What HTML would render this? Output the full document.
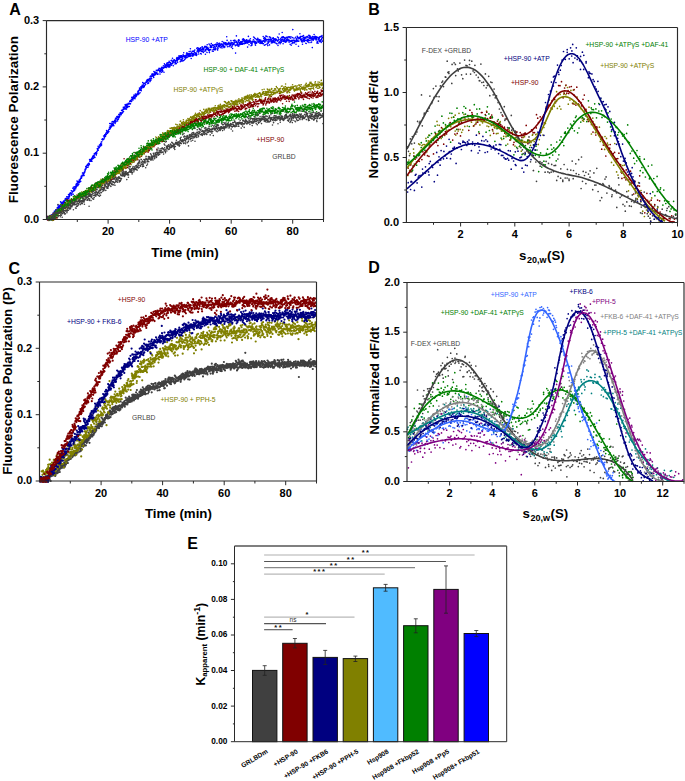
<!DOCTYPE html>
<html><head><meta charset="utf-8"><style>
html,body{margin:0;padding:0;background:#fff;}
body{width:685px;height:781px;overflow:hidden;}
svg{display:block;font-family:"Liberation Sans", sans-serif;}
</style></head><body>
<svg width="685" height="781" viewBox="0 0 685 781">
<rect width="685" height="781" fill="#fff"/>
<path d="M47.0 218.1h0M47.2 219.4h0M47.4 216.5h0M47.6 217.1h0M47.8 219.5h0M48.0 217.8h0M48.2 218.9h0M48.4 218.8h0M49.0 218.5h0M49.2 220.2h0M49.4 217.2h0M49.6 217.7h0M49.8 219.3h0M50.0 216.2h0M50.2 217.4h0M50.4 215.7h0M50.6 217.6h0M50.7 219.6h0M50.9 216.1h0M51.1 217.3h0M51.3 215.5h0M51.5 215.0h0M51.7 214.7h0M51.9 218.3h0M52.1 219.4h0M52.3 216.6h0M52.5 214.7h0M52.7 216.5h0M52.9 214.8h0M53.1 213.0h0M53.3 215.3h0M53.5 215.0h0M53.7 215.2h0M53.9 213.3h0M54.1 213.3h0M54.3 211.3h0M54.5 212.8h0M54.7 211.2h0M54.9 212.7h0M55.1 211.3h0M55.3 212.5h0M55.5 212.7h0M55.7 209.9h0M55.9 210.4h0M56.1 210.0h0M56.3 212.1h0M56.5 213.2h0M56.7 211.7h0M56.9 209.8h0M57.1 212.0h0M57.3 207.6h0M57.5 211.6h0M57.7 208.3h0M57.9 205.0h0M58.0 212.4h0M58.2 210.6h0M58.4 206.7h0M58.6 208.2h0M58.8 207.4h0M59.0 207.6h0M59.2 205.2h0M59.4 206.1h0M59.6 207.4h0M59.8 206.9h0M60.0 208.0h0M60.2 206.2h0M60.4 209.1h0M60.6 201.8h0M60.8 205.8h0M61.0 202.5h0M61.2 203.2h0M61.4 206.6h0M61.6 203.2h0M61.8 205.0h0M62.0 204.0h0M62.2 202.4h0M62.4 203.1h0M62.6 202.7h0M62.8 202.5h0M63.0 204.0h0M63.2 203.6h0M63.4 201.7h0M63.6 201.0h0M63.8 202.4h0M64.0 201.7h0M64.2 203.0h0M64.4 205.1h0M64.6 202.3h0M64.8 200.8h0M65.0 200.4h0M65.2 199.2h0M65.3 198.9h0M65.5 198.6h0M65.7 199.2h0M65.9 198.9h0M66.1 200.3h0M66.3 198.5h0M66.5 198.5h0M66.7 196.8h0M66.9 200.6h0M67.1 198.8h0M67.3 200.3h0M67.5 198.7h0M67.7 199.4h0M67.9 196.7h0M68.1 197.8h0M68.3 200.3h0M68.5 194.6h0M68.7 197.7h0M68.9 198.2h0M69.1 196.1h0M69.3 196.4h0M69.5 196.8h0M69.7 193.9h0M69.9 195.1h0M70.1 193.1h0M70.3 193.1h0M70.5 192.9h0M70.7 193.3h0M70.9 193.5h0M71.1 193.7h0M71.3 190.7h0M71.5 195.3h0M71.7 193.9h0M71.9 193.0h0M72.1 191.2h0M72.3 191.3h0M72.4 192.0h0M72.6 191.5h0M72.8 188.3h0M73.0 191.5h0M73.2 194.3h0M73.4 187.2h0M73.6 191.0h0M73.8 189.9h0M74.0 188.9h0M74.2 190.7h0M74.4 186.8h0M74.6 188.5h0M74.8 190.1h0M75.0 187.4h0M75.2 186.8h0M75.4 187.3h0M75.6 186.2h0M75.8 188.8h0M76.0 184.9h0M76.2 187.2h0M76.4 183.9h0M76.6 186.3h0M76.8 184.9h0M77.0 181.1h0M77.2 184.5h0M77.4 182.7h0M77.6 183.3h0M77.8 185.8h0M78.0 181.7h0M78.2 181.5h0M78.4 184.7h0M78.6 182.5h0M78.8 184.2h0M79.0 182.2h0M79.2 180.1h0M79.4 180.9h0M79.6 182.5h0M79.7 181.7h0M79.9 180.0h0M80.1 179.8h0M80.3 179.2h0M80.5 178.2h0M80.7 181.4h0M80.9 178.3h0M81.1 176.3h0M81.3 176.9h0M81.5 178.3h0M81.7 177.8h0M81.9 176.3h0M82.1 175.2h0M82.3 175.8h0M82.5 173.0h0M82.7 173.1h0M82.9 175.8h0M83.1 173.6h0M83.3 174.4h0M83.5 175.3h0M83.7 174.1h0M83.9 172.8h0M84.1 175.5h0M84.3 173.0h0M84.5 171.2h0M84.7 172.4h0M84.9 171.5h0M85.1 169.4h0M85.3 170.3h0M85.5 169.6h0M85.7 166.7h0M85.9 168.9h0M86.1 168.4h0M86.3 167.8h0M86.5 165.7h0M86.7 167.2h0M86.9 167.3h0M87.0 167.1h0M87.2 165.0h0M87.4 167.2h0M87.6 164.2h0M87.8 165.3h0M88.0 167.2h0M88.2 163.9h0M88.4 163.9h0M88.6 165.8h0M88.8 163.4h0M89.0 163.2h0M89.2 163.6h0M89.4 164.5h0M89.6 159.5h0M89.8 161.2h0M90.0 160.6h0M90.2 160.2h0M90.4 160.2h0M90.6 159.9h0M90.8 161.2h0M91.0 159.2h0M91.2 160.3h0M91.4 160.4h0M91.6 158.5h0M91.8 159.4h0M92.0 161.3h0M92.2 159.1h0M92.4 157.4h0M92.6 157.9h0M92.8 156.4h0M93.0 157.8h0M93.2 158.4h0M93.4 155.6h0M93.6 156.2h0M93.8 157.8h0M94.0 155.2h0M94.2 155.9h0M94.3 153.8h0M94.5 153.8h0M94.7 153.9h0M94.9 157.4h0M95.1 153.5h0M95.3 153.0h0M95.5 152.7h0M95.7 152.9h0M95.9 153.7h0M96.1 152.8h0M96.3 155.1h0M96.5 152.2h0M96.7 153.6h0M96.9 151.6h0M97.1 151.8h0M97.3 148.6h0M97.5 150.1h0M97.7 149.8h0M97.9 149.3h0M98.1 146.3h0M98.3 150.2h0M98.5 148.1h0M98.7 147.7h0M98.9 147.6h0M99.1 147.3h0M99.3 147.8h0M99.5 145.1h0M99.7 145.2h0M99.9 146.6h0M100.1 146.0h0M100.3 144.9h0M100.5 144.3h0M100.7 143.5h0M100.9 144.2h0M101.1 145.6h0M101.3 142.1h0M101.5 145.3h0M101.6 144.0h0M101.8 141.8h0M102.0 139.5h0M102.2 139.6h0M102.4 138.9h0M102.6 139.1h0M102.8 139.9h0M103.0 139.7h0M103.2 139.0h0M103.4 139.5h0M103.6 136.0h0M103.8 139.3h0M104.0 136.2h0M104.2 136.9h0M104.4 138.0h0M104.6 135.5h0M104.8 134.8h0M105.0 134.9h0M105.2 135.9h0M105.4 136.4h0M105.6 136.0h0M105.8 133.5h0M106.0 133.4h0M106.2 132.8h0M106.4 134.4h0M106.6 130.6h0M106.8 132.0h0M107.0 132.1h0M107.2 131.3h0M107.4 132.5h0M107.6 133.2h0M107.8 131.9h0M108.0 132.5h0M108.2 130.9h0M108.4 132.1h0M108.6 131.9h0M108.7 129.7h0M108.9 131.5h0M109.1 129.4h0M109.3 129.0h0M109.5 127.3h0M109.7 123.5h0M109.9 129.1h0M110.1 125.9h0M110.3 128.4h0M110.5 127.7h0M110.7 127.3h0M110.9 123.5h0M111.1 126.2h0M111.3 127.0h0M111.5 124.7h0M111.7 125.7h0M111.9 122.0h0M112.1 126.0h0M112.3 123.8h0M112.5 125.7h0M112.7 121.6h0M112.9 124.9h0M113.1 123.4h0M113.3 124.6h0M113.5 121.9h0M113.7 122.1h0M113.9 125.8h0M114.1 121.2h0M114.3 121.2h0M114.5 121.5h0M114.7 120.2h0M114.9 123.0h0M115.1 123.5h0M115.3 119.9h0M115.5 118.2h0M115.7 122.0h0M115.9 121.6h0M116.0 121.0h0M116.2 121.2h0M116.4 118.1h0M116.6 118.8h0M116.8 116.8h0M117.0 116.5h0M117.2 119.6h0M117.4 117.1h0M117.6 120.9h0M117.8 117.6h0M118.0 116.3h0M118.2 118.1h0M118.4 119.2h0M118.6 117.1h0M118.8 114.5h0M119.0 116.4h0M119.2 117.6h0M119.4 114.7h0M119.6 114.1h0M119.8 116.3h0M120.0 114.8h0M120.2 112.8h0M120.4 113.6h0M120.6 112.8h0M120.8 114.0h0M121.0 113.5h0M121.2 114.7h0M121.4 113.8h0M121.6 110.4h0M121.8 112.9h0M122.0 113.3h0M122.2 112.5h0M122.4 113.0h0M122.6 110.5h0M122.8 109.7h0M123.0 112.1h0M123.2 109.1h0M123.3 107.2h0M123.5 111.5h0M123.7 108.8h0M123.9 109.1h0M124.1 107.3h0M124.3 107.2h0M124.5 107.2h0M124.7 108.1h0M124.9 108.9h0M125.1 104.8h0M125.3 108.9h0M125.5 105.9h0M125.7 105.8h0M125.9 108.1h0M126.1 106.8h0M126.3 104.4h0M126.5 109.1h0M126.7 104.9h0M126.9 106.3h0M127.1 106.0h0M127.3 107.5h0M127.5 104.6h0M127.7 106.5h0M127.9 103.7h0M128.1 106.2h0M128.3 103.2h0M128.5 103.6h0M128.7 106.7h0M128.9 104.1h0M129.1 103.6h0M129.3 106.5h0M129.5 103.6h0M129.7 101.6h0M129.9 103.7h0M130.1 100.7h0M130.3 103.9h0M130.5 103.8h0M130.6 100.9h0M130.8 100.6h0M131.0 101.6h0M131.2 101.1h0M131.4 99.4h0M131.6 101.5h0M131.8 97.4h0M132.0 99.6h0M132.2 99.4h0M132.4 99.3h0M132.6 99.9h0M132.8 97.4h0M133.0 99.9h0M133.2 98.5h0M133.4 97.5h0M133.6 96.2h0M133.8 96.2h0M134.0 95.0h0M134.2 96.0h0M134.4 97.2h0M134.6 98.5h0M134.8 98.2h0M135.0 98.7h0M135.2 95.6h0M135.4 94.1h0M135.6 97.0h0M135.8 95.7h0M136.0 96.6h0M136.2 94.7h0M136.4 96.2h0M136.6 95.4h0M136.8 94.9h0M137.0 94.3h0M137.2 93.9h0M137.4 93.4h0M137.6 93.1h0M137.8 94.0h0M137.9 91.4h0M138.1 94.6h0M138.3 91.5h0M138.5 92.9h0M138.7 91.0h0M138.9 90.5h0M139.1 93.7h0M139.3 89.9h0M139.5 88.1h0M139.7 88.7h0M139.9 89.1h0M140.1 92.7h0M140.3 89.4h0M140.5 90.3h0M140.7 87.1h0M140.9 88.9h0M141.1 89.2h0M141.3 90.7h0M141.5 86.6h0M141.7 88.4h0M141.9 87.7h0M142.1 85.4h0M142.3 86.7h0M142.5 86.1h0M142.7 82.6h0M142.9 86.9h0M143.1 86.6h0M143.3 84.9h0M143.5 83.2h0M143.7 87.4h0M143.9 85.3h0M144.1 86.2h0M144.3 86.6h0M144.5 83.3h0M144.7 85.2h0M144.9 83.3h0M145.1 83.4h0M145.2 83.1h0M145.4 83.0h0M145.6 84.6h0M145.8 82.8h0M146.0 82.1h0M146.2 81.7h0M146.4 82.4h0M146.6 80.3h0M146.8 80.7h0M147.0 81.2h0M147.2 80.1h0M147.4 80.6h0M147.6 79.6h0M147.8 83.6h0M148.0 82.3h0M148.2 80.7h0M148.4 79.7h0M148.6 83.1h0M148.8 79.9h0M149.0 79.0h0M149.2 79.5h0M149.4 79.3h0M149.6 80.8h0M149.8 78.4h0M150.0 81.6h0M150.2 76.6h0M150.4 78.9h0M150.6 76.0h0M150.8 80.4h0M151.0 76.7h0M151.2 76.0h0M151.4 78.4h0M151.6 78.8h0M151.8 74.7h0M152.0 75.8h0M152.2 73.9h0M152.3 76.3h0M152.5 75.7h0M152.7 75.1h0M152.9 74.4h0M153.1 74.7h0M153.3 74.0h0M153.5 75.9h0M153.7 77.4h0M153.9 71.6h0M154.1 74.4h0M154.3 73.7h0M154.5 75.1h0M154.7 72.5h0M154.9 73.7h0M155.1 72.1h0M155.3 74.8h0M155.5 73.7h0M155.7 73.1h0M155.9 73.8h0M156.1 72.6h0M156.3 70.3h0M156.5 73.7h0M156.7 73.1h0M156.9 72.2h0M157.1 73.9h0M157.3 74.2h0M157.5 70.2h0M157.7 70.6h0M157.9 74.3h0M158.1 74.0h0M158.3 70.2h0M158.5 69.4h0M158.7 70.1h0M158.9 70.2h0M159.1 68.3h0M159.3 70.8h0M159.5 68.5h0M159.6 68.5h0M159.8 71.9h0M160.0 74.1h0M160.2 70.0h0M160.4 71.0h0M160.6 71.2h0M160.8 69.1h0M161.0 69.7h0M161.2 68.1h0M161.4 72.3h0M161.6 70.3h0M161.8 67.2h0M162.0 68.9h0M162.2 70.0h0M162.4 69.5h0M162.6 71.6h0M162.8 70.7h0M163.0 67.3h0M163.2 68.0h0M163.4 65.8h0M163.6 68.3h0M163.8 68.0h0M164.0 72.2h0M164.2 67.6h0M164.4 63.8h0M164.6 66.1h0M164.8 67.3h0M165.0 64.8h0M165.2 65.3h0M165.4 66.1h0M165.6 67.2h0M165.8 66.2h0M166.0 64.8h0M166.2 67.6h0M166.4 65.1h0M166.6 65.1h0M166.8 63.4h0M166.9 64.3h0M167.1 66.7h0M167.3 62.7h0M167.5 65.2h0M167.7 66.5h0M167.9 64.4h0M168.1 65.4h0M168.3 62.9h0M168.5 67.0h0M168.7 66.5h0M168.9 64.9h0M169.1 61.3h0M169.3 62.4h0M169.5 65.8h0M169.7 67.0h0M169.9 64.4h0M170.1 65.9h0M170.3 62.6h0M170.5 63.2h0M170.7 63.4h0M170.9 64.0h0M171.1 60.5h0M171.3 64.7h0M171.5 65.3h0M171.7 60.8h0M171.9 60.3h0M172.1 63.2h0M172.3 61.3h0M172.5 58.2h0M172.7 63.7h0M172.9 62.4h0M173.1 61.2h0M173.3 65.7h0M173.5 62.1h0M173.7 60.4h0M173.9 61.8h0M174.1 59.7h0M174.2 60.0h0M174.4 62.0h0M174.6 60.2h0M174.8 60.3h0M175.0 64.0h0M175.2 62.4h0M175.4 62.2h0M175.6 61.6h0M175.8 61.4h0M176.0 63.1h0M176.2 60.3h0M176.4 63.6h0M176.6 58.4h0M176.8 59.6h0M177.0 57.5h0M177.2 59.2h0M177.4 60.7h0M177.6 62.3h0M177.8 58.4h0M178.0 59.5h0M178.2 58.7h0M178.4 57.9h0M178.6 57.0h0M178.8 59.2h0M179.0 55.8h0M179.2 59.1h0M179.4 58.8h0M179.6 57.5h0M179.8 56.7h0M180.0 56.0h0M180.2 61.8h0M180.4 55.9h0M180.6 61.1h0M180.8 59.2h0M181.0 57.4h0M181.2 55.8h0M181.4 59.7h0M181.5 60.9h0M181.7 55.9h0M181.9 57.0h0M182.1 59.4h0M182.3 58.0h0M182.5 61.0h0M182.7 56.2h0M182.9 58.1h0M183.1 54.7h0M183.3 60.8h0M183.5 55.5h0M183.7 52.7h0M183.9 56.4h0M184.1 56.3h0M184.3 60.0h0M184.5 55.8h0M184.7 56.3h0M184.9 57.4h0M185.1 59.1h0M185.3 56.0h0M185.5 57.9h0M185.7 56.9h0M185.9 55.3h0M186.1 55.9h0M186.3 55.7h0M186.5 53.9h0M186.7 57.8h0M186.9 52.8h0M187.1 57.5h0M187.3 57.1h0M187.5 55.0h0M187.7 53.7h0M187.9 54.6h0M188.1 55.8h0M188.3 56.3h0M188.5 55.3h0M188.6 56.6h0M188.8 53.6h0M189.0 55.0h0M189.2 51.5h0M189.4 55.9h0M189.6 54.6h0M189.8 53.5h0M190.0 56.4h0M190.2 55.4h0M190.4 48.7h0M190.6 54.1h0M190.8 51.2h0M191.0 55.9h0M191.2 58.5h0M191.4 52.7h0M191.6 53.8h0M191.8 53.1h0M192.0 54.1h0M192.2 54.6h0M192.4 55.8h0M192.6 51.4h0M192.8 56.2h0M193.0 51.3h0M193.2 53.6h0M193.4 55.2h0M193.6 54.3h0M193.8 51.1h0M194.0 51.4h0M194.2 51.8h0M194.4 52.6h0M194.6 54.8h0M194.8 50.0h0M195.0 53.3h0M195.2 53.6h0M195.4 53.4h0M195.6 53.1h0M195.8 55.1h0M195.9 53.1h0M196.1 53.7h0M196.3 53.1h0M196.5 55.4h0M196.7 48.2h0M196.9 54.3h0M197.1 51.2h0M197.3 51.1h0M197.5 49.7h0M197.7 47.9h0M197.9 50.7h0M198.1 50.1h0M198.3 52.3h0M198.5 48.4h0M198.7 54.0h0M198.9 51.7h0M199.1 50.6h0M199.3 49.6h0M199.5 49.4h0M199.7 48.7h0M199.9 49.7h0M200.1 50.8h0M200.3 50.3h0M200.5 47.8h0M200.7 53.6h0M200.9 48.7h0M201.1 50.7h0M201.3 54.0h0M201.5 51.5h0M201.7 49.6h0M201.9 47.0h0M202.1 47.3h0M202.3 46.7h0M202.5 51.4h0M202.7 48.4h0M202.9 50.0h0M203.1 48.6h0M203.2 49.9h0M203.4 52.5h0M203.6 48.3h0M203.8 48.9h0M204.0 47.9h0M204.2 51.2h0M204.4 47.3h0M204.6 47.1h0M204.8 46.5h0M205.0 46.4h0M205.2 50.1h0M205.4 54.2h0M205.6 47.0h0M205.8 50.9h0M206.0 49.4h0M206.2 46.6h0M206.4 48.2h0M206.6 48.3h0M206.8 47.3h0M207.0 52.5h0M207.2 44.7h0M207.4 49.3h0M207.6 49.1h0M207.8 47.2h0M208.0 48.6h0M208.2 50.1h0M208.4 48.5h0M208.6 49.0h0M208.8 49.5h0M209.0 44.0h0M209.2 51.0h0M209.4 52.6h0M209.6 49.9h0M209.8 49.9h0M210.0 45.0h0M210.2 47.5h0M210.4 46.1h0M210.5 46.5h0M210.7 49.6h0M210.9 45.9h0M211.1 47.2h0M211.3 43.6h0M211.5 47.1h0M211.7 47.5h0M211.9 45.9h0M212.1 45.8h0M212.3 51.1h0M212.5 44.7h0M212.7 45.0h0M212.9 45.4h0M213.1 49.5h0M213.3 51.3h0M213.5 47.6h0M213.7 45.4h0M213.9 45.9h0M214.1 49.0h0M214.3 44.8h0M214.5 49.7h0M214.7 49.5h0M214.9 46.7h0M215.1 47.9h0M215.3 47.7h0M215.5 49.7h0M215.7 44.2h0M215.9 48.8h0M216.1 45.5h0M216.3 44.7h0M216.5 46.4h0M216.7 45.7h0M216.9 44.1h0M217.1 42.8h0M217.3 44.1h0M217.5 49.0h0M217.7 50.1h0M217.8 47.3h0M218.0 48.4h0M218.2 44.8h0M218.4 45.6h0M218.6 46.4h0M218.8 43.5h0M219.0 43.6h0M219.2 45.8h0M219.4 44.9h0M219.6 43.3h0M219.8 46.3h0M220.0 44.9h0M220.2 47.6h0M220.4 45.4h0M220.6 44.8h0M220.8 45.6h0M221.0 45.0h0M221.2 43.9h0M221.4 44.4h0M221.6 46.8h0M221.8 46.5h0M222.0 47.9h0M222.2 41.6h0M222.4 44.3h0M222.6 44.2h0M222.8 45.4h0M223.0 44.0h0M223.2 43.9h0M223.4 46.6h0M223.6 45.3h0M223.8 42.4h0M224.0 47.6h0M224.2 46.9h0M224.4 43.6h0M224.6 46.5h0M224.8 43.2h0M224.9 47.0h0M225.1 44.2h0M225.3 42.9h0M225.5 43.8h0M225.7 42.9h0M225.9 44.9h0M226.1 44.9h0M226.3 44.5h0M226.5 43.3h0M226.7 36.7h0M226.9 44.6h0M227.1 40.4h0M227.3 44.8h0M227.5 46.7h0M227.7 44.8h0M227.9 43.4h0M228.1 43.8h0M228.3 43.9h0M228.5 43.0h0M228.7 42.9h0M228.9 42.2h0M229.1 46.6h0M229.3 44.0h0M229.5 46.0h0M229.7 43.5h0M229.9 44.1h0M230.1 43.6h0M230.3 44.9h0M230.5 45.6h0M230.7 44.4h0M230.9 40.5h0M231.1 42.2h0M231.3 47.3h0M231.5 43.2h0M231.7 43.1h0M231.9 46.8h0M232.1 46.0h0M232.2 44.8h0M232.4 42.8h0M232.6 48.5h0M232.8 44.4h0M233.0 44.7h0M233.2 43.2h0M233.4 40.5h0M233.6 40.7h0M233.8 44.3h0M234.0 44.2h0M234.2 42.9h0M234.4 40.9h0M234.6 40.3h0M234.8 42.6h0M235.0 40.2h0M235.2 45.2h0M235.4 45.7h0M235.6 53.1h0M235.8 45.0h0M236.0 41.9h0M236.2 41.3h0M236.4 35.9h0M236.6 41.9h0M236.8 42.7h0M237.0 45.1h0M237.2 44.3h0M237.4 44.2h0M237.6 43.4h0M237.8 44.3h0M238.0 46.0h0M238.2 40.7h0M238.4 41.9h0M238.6 39.9h0M238.8 46.2h0M239.0 45.5h0M239.2 44.4h0M239.4 40.3h0M239.5 43.1h0M239.7 42.2h0M239.9 42.9h0M240.1 42.3h0M240.3 43.7h0M240.5 41.8h0M240.7 44.4h0M240.9 43.1h0M241.1 41.9h0M241.3 42.3h0M241.5 41.6h0M241.7 44.2h0M241.9 41.9h0M242.1 43.1h0M242.3 41.6h0M242.5 39.3h0M242.7 44.3h0M242.9 40.1h0M243.1 43.8h0M243.3 43.2h0M243.5 38.8h0M243.7 40.3h0M243.9 41.2h0M244.1 40.5h0M244.3 39.7h0M244.5 43.8h0M244.7 41.7h0M244.9 43.0h0M245.1 41.2h0M245.3 42.8h0M245.5 40.5h0M245.7 42.0h0M245.9 43.3h0M246.1 42.1h0M246.3 41.1h0M246.5 39.7h0M246.7 42.3h0M246.8 42.7h0M247.0 41.4h0M247.2 40.3h0M247.4 43.1h0M247.6 47.1h0M247.8 41.2h0M248.0 42.6h0M248.2 42.6h0M248.4 36.4h0M248.6 42.1h0M248.8 40.3h0M249.0 44.7h0M249.2 41.2h0M249.4 40.1h0M249.6 41.3h0M249.8 42.1h0M250.0 40.5h0M250.2 41.6h0M250.4 38.8h0M250.6 41.2h0M250.8 43.3h0M251.0 45.8h0M251.2 43.1h0M251.4 42.2h0M251.6 44.1h0M251.8 43.7h0M252.0 45.1h0M252.2 43.8h0M252.4 41.3h0M252.6 42.1h0M252.8 41.9h0M253.0 42.1h0M253.2 41.9h0M253.4 39.8h0M253.6 37.0h0M253.8 40.0h0M254.0 37.2h0M254.1 41.6h0M254.3 41.4h0M254.5 37.9h0M254.7 42.8h0M254.9 43.2h0M255.1 41.6h0M255.3 44.8h0M255.5 45.3h0M255.7 38.8h0M255.9 43.5h0M256.1 42.2h0M256.3 42.2h0M256.5 43.2h0M256.7 39.7h0M256.9 40.0h0M257.1 39.5h0M257.3 39.6h0M257.5 41.0h0M257.7 38.2h0M257.9 39.0h0M258.1 42.4h0M258.3 41.0h0M258.5 42.0h0M258.7 41.8h0M258.9 39.5h0M259.1 40.0h0M259.3 41.2h0M259.5 39.9h0M259.7 43.1h0M259.9 41.0h0M260.1 41.1h0M260.3 41.1h0M260.5 42.5h0M260.7 40.1h0M260.9 43.4h0M261.1 42.0h0M261.3 41.3h0M261.4 41.1h0M261.6 42.1h0M261.8 43.1h0M262.0 43.0h0M262.2 41.8h0M262.4 42.8h0M262.6 41.2h0M262.8 43.6h0M263.0 40.9h0M263.2 36.6h0M263.4 43.7h0M263.6 41.1h0M263.8 38.4h0M264.0 40.5h0M264.2 39.0h0M264.4 45.3h0M264.6 41.9h0M264.8 37.5h0M265.0 42.0h0M265.2 40.0h0M265.4 44.8h0M265.6 38.6h0M265.8 36.1h0M266.0 40.9h0M266.2 40.0h0M266.4 39.9h0M266.6 36.3h0M266.8 39.7h0M267.0 44.3h0M267.2 36.7h0M267.4 43.2h0M267.6 39.5h0M267.8 45.6h0M268.0 41.6h0M268.2 40.3h0M268.4 43.0h0M268.5 41.8h0M268.7 39.4h0M268.9 42.1h0M269.1 39.6h0M269.3 36.9h0M269.5 44.9h0M269.7 39.9h0M269.9 39.3h0M270.1 41.3h0M270.3 37.3h0M270.5 37.7h0M270.7 39.5h0M270.9 39.5h0M271.1 40.7h0M271.3 42.9h0M271.5 39.6h0M271.7 41.6h0M271.9 41.8h0M272.1 38.2h0M272.3 41.0h0M272.5 38.5h0M272.7 42.7h0M272.9 41.4h0M273.1 40.5h0M273.3 37.7h0M273.5 40.7h0M273.7 38.9h0M273.9 41.9h0M274.1 40.2h0M274.3 38.7h0M274.5 42.4h0M274.7 41.9h0M274.9 39.2h0M275.1 42.8h0M275.3 39.8h0M275.5 39.7h0M275.7 40.6h0M275.8 38.8h0M276.0 39.4h0M276.2 40.0h0M276.4 43.6h0M276.6 43.5h0M276.8 39.8h0M277.0 43.7h0M277.2 40.2h0M277.4 41.1h0M277.6 37.0h0M277.8 40.9h0M278.0 45.4h0M278.2 40.8h0M278.4 37.8h0M278.6 43.0h0M278.8 39.4h0M279.0 39.6h0M279.2 34.0h0M279.4 42.4h0M279.6 42.0h0M279.8 41.9h0M280.0 42.3h0M280.2 43.8h0M280.4 40.1h0M280.6 42.2h0M280.8 38.6h0M281.0 39.4h0M281.2 42.4h0M281.4 41.0h0M281.6 37.4h0M281.8 40.9h0M282.0 39.8h0M282.2 32.5h0M282.4 41.1h0M282.6 39.3h0M282.8 36.8h0M283.0 37.8h0M283.1 43.8h0M283.3 36.9h0M283.5 40.6h0M283.7 41.4h0M283.9 41.4h0M284.1 37.5h0M284.3 39.4h0M284.5 40.4h0M284.7 41.7h0M284.9 38.7h0M285.1 37.6h0M285.3 42.1h0M285.5 42.3h0M285.7 40.8h0M285.9 38.7h0M286.1 40.9h0M286.3 40.2h0M286.5 41.7h0M286.7 37.4h0M286.9 40.2h0M287.1 39.6h0M287.3 37.6h0M287.5 40.4h0M287.7 40.0h0M287.9 39.1h0M288.1 40.8h0M288.3 36.9h0M288.5 39.8h0M288.7 40.8h0M288.9 40.5h0M289.1 42.2h0M289.3 37.4h0M289.5 36.7h0M289.7 40.4h0M289.9 40.8h0M290.1 44.3h0M290.3 41.1h0M290.4 38.0h0M290.6 41.5h0M290.8 38.1h0M291.0 36.7h0M291.2 45.3h0M291.4 40.5h0M291.6 41.3h0M291.8 41.0h0M292.0 43.6h0M292.2 40.4h0M292.4 42.3h0M292.6 37.6h0M292.8 29.6h0M293.0 42.7h0M293.2 42.8h0M293.4 40.8h0M293.6 40.2h0M293.8 40.1h0M294.0 38.3h0M294.2 42.9h0M294.4 41.1h0M294.6 40.8h0M294.8 40.5h0M295.0 41.9h0M295.2 40.7h0M295.4 41.2h0M295.6 37.2h0M295.8 40.7h0M296.0 44.2h0M296.2 38.5h0M296.4 39.4h0M296.6 41.5h0M296.8 41.6h0M297.0 40.9h0M297.2 36.2h0M297.4 40.6h0M297.6 37.1h0M297.7 37.8h0M297.9 40.7h0M298.1 38.9h0M298.3 41.3h0M298.5 46.2h0M298.7 41.2h0M298.9 41.1h0M299.1 37.6h0M299.3 38.2h0M299.5 37.3h0M299.7 38.4h0M299.9 33.7h0M300.1 38.1h0M300.3 39.1h0M300.5 37.4h0M300.7 36.5h0M300.9 36.6h0M301.1 40.4h0M301.3 39.6h0M301.5 41.6h0M301.7 41.6h0M301.9 38.7h0M302.1 40.8h0M302.3 36.4h0M302.5 44.2h0M302.7 41.9h0M302.9 39.0h0M303.1 37.0h0M303.3 40.2h0M303.5 35.5h0M303.7 37.7h0M303.9 40.9h0M304.1 39.5h0M304.3 38.3h0M304.5 41.4h0M304.7 37.2h0M304.8 39.9h0M305.0 38.3h0M305.2 37.5h0M305.4 40.3h0M305.6 37.2h0M305.8 43.3h0M306.0 38.1h0M306.2 43.5h0M306.4 37.0h0M306.6 40.6h0M306.8 36.8h0M307.0 36.5h0M307.2 39.6h0M307.4 40.7h0M307.6 36.6h0M307.8 41.7h0M308.0 37.6h0M308.2 39.5h0M308.4 40.0h0M308.6 40.5h0M308.8 35.4h0M309.0 42.6h0M309.2 40.4h0M309.4 38.3h0M309.6 37.0h0M309.8 35.6h0M310.0 36.3h0M310.2 40.3h0M310.4 38.4h0M310.6 36.8h0M310.8 38.0h0M311.0 42.4h0M311.2 38.4h0M311.4 37.9h0M311.6 42.0h0M311.8 40.1h0M312.0 39.2h0M312.1 37.8h0M312.3 47.6h0M312.5 36.6h0M312.7 38.1h0M312.9 38.6h0M313.1 39.8h0M313.3 40.2h0M313.5 39.5h0M313.7 39.5h0M313.9 36.9h0M314.1 34.5h0M314.3 38.0h0M314.5 37.0h0M314.7 37.7h0M314.9 38.5h0M315.1 36.4h0M315.3 36.7h0M315.5 38.8h0M315.7 39.2h0M315.9 37.6h0M316.1 40.0h0M316.3 38.5h0M316.5 36.8h0M316.7 39.1h0M316.9 42.9h0M317.1 37.5h0M317.3 41.4h0M317.5 41.8h0M317.7 42.1h0M317.9 37.2h0M318.1 43.2h0M318.3 39.2h0M318.5 38.4h0M318.7 38.4h0M318.9 40.2h0M319.1 39.0h0M319.3 38.5h0M319.4 41.6h0M319.6 37.4h0M319.8 36.7h0M320.0 40.5h0M320.2 40.4h0M320.4 41.2h0M320.6 36.6h0M320.8 41.1h0M321.0 39.9h0M321.2 42.5h0M321.4 36.2h0M321.6 39.3h0M321.8 38.2h0M322.0 35.5h0M322.2 37.3h0M322.4 41.2h0M322.6 37.8h0M322.8 37.3h0M323.0 40.6h0" stroke="#0000ff" stroke-width="1.60" stroke-linecap="round" fill="none"/>
<path d="M47.0 216.3h0M47.2 219.6h0M47.4 218.3h0M47.8 218.7h0M48.1 220.2h0M48.3 218.7h0M48.9 218.6h0M49.1 219.4h0M49.3 216.8h0M49.5 219.7h0M50.0 218.1h0M50.4 215.5h0M50.6 215.8h0M50.8 216.5h0M51.0 218.0h0M51.2 218.8h0M51.5 218.5h0M51.7 218.5h0M51.9 219.8h0M52.1 217.7h0M52.3 216.2h0M52.5 216.2h0M52.9 214.0h0M53.2 217.6h0M53.4 220.2h0M53.6 218.4h0M53.8 216.0h0M54.0 217.2h0M54.2 218.5h0M54.4 218.8h0M54.6 215.0h0M54.9 217.6h0M55.1 216.6h0M55.3 217.8h0M55.5 218.0h0M55.7 214.8h0M55.9 212.7h0M56.1 215.6h0M56.3 217.7h0M56.6 215.7h0M56.8 214.6h0M57.0 218.1h0M57.2 212.0h0M57.4 215.1h0M57.6 212.4h0M57.8 213.2h0M58.0 213.1h0M58.3 215.3h0M58.5 211.0h0M58.7 211.4h0M58.9 209.4h0M59.1 212.8h0M59.3 211.0h0M59.5 212.2h0M59.7 209.5h0M60.0 210.5h0M60.2 212.7h0M60.4 210.4h0M60.6 211.5h0M60.8 211.2h0M61.0 209.4h0M61.2 207.2h0M61.4 211.3h0M61.7 209.7h0M61.9 210.9h0M62.1 205.6h0M62.3 206.0h0M62.5 204.9h0M62.7 206.9h0M62.9 209.9h0M63.1 208.9h0M63.4 207.7h0M63.6 207.8h0M63.8 208.6h0M64.0 206.6h0M64.2 207.6h0M64.4 207.0h0M64.6 202.8h0M64.8 205.7h0M65.1 208.5h0M65.3 205.3h0M65.5 205.6h0M65.7 204.6h0M65.9 204.7h0M66.1 207.2h0M66.3 204.7h0M66.5 203.3h0M66.8 199.5h0M67.0 203.7h0M67.2 201.2h0M67.4 201.3h0M67.6 200.4h0M67.8 205.3h0M68.0 200.6h0M68.2 205.2h0M68.5 204.4h0M68.7 202.1h0M68.9 204.6h0M69.1 200.4h0M69.3 201.0h0M69.5 200.4h0M69.7 200.9h0M69.9 204.1h0M70.2 200.2h0M70.4 200.4h0M70.6 200.6h0M70.8 202.4h0M71.0 201.3h0M71.2 203.2h0M71.4 200.4h0M71.6 199.3h0M71.9 200.5h0M72.1 201.3h0M72.3 199.5h0M72.5 201.4h0M72.7 203.9h0M72.9 199.7h0M73.1 200.6h0M73.3 202.7h0M73.6 199.1h0M73.8 198.7h0M74.0 198.1h0M74.2 200.5h0M74.4 200.6h0M74.6 199.3h0M74.8 199.5h0M75.0 201.5h0M75.3 200.6h0M75.5 196.7h0M75.7 198.9h0M75.9 198.9h0M76.1 199.9h0M76.3 198.1h0M76.5 197.3h0M76.7 197.5h0M77.0 195.1h0M77.2 197.9h0M77.4 196.8h0M77.6 198.5h0M77.8 195.8h0M78.0 196.7h0M78.2 195.7h0M78.4 195.4h0M78.7 198.3h0M78.9 196.1h0M79.1 197.6h0M79.3 194.8h0M79.5 196.7h0M79.7 193.5h0M79.9 195.5h0M80.1 195.3h0M80.4 197.0h0M80.6 196.2h0M80.8 195.5h0M81.0 197.0h0M81.2 195.8h0M81.4 196.3h0M81.6 196.5h0M81.8 195.0h0M82.1 194.5h0M82.3 195.4h0M82.5 194.0h0M82.7 195.2h0M82.9 196.3h0M83.1 195.8h0M83.3 193.5h0M83.5 191.9h0M83.8 193.8h0M84.0 193.6h0M84.2 195.5h0M84.4 192.9h0M84.6 193.0h0M84.8 194.5h0M85.0 192.3h0M85.2 192.7h0M85.5 195.8h0M85.7 195.3h0M85.9 193.7h0M86.1 192.9h0M86.3 190.7h0M86.5 193.2h0M86.7 192.2h0M86.9 192.3h0M87.2 190.9h0M87.4 191.7h0M87.6 191.2h0M87.8 192.0h0M88.0 193.7h0M88.2 191.8h0M88.4 188.2h0M88.6 189.2h0M88.9 188.1h0M89.1 189.3h0M89.3 191.4h0M89.5 191.0h0M89.7 189.2h0M89.9 190.5h0M90.1 188.6h0M90.3 189.5h0M90.6 187.3h0M90.8 188.0h0M91.0 191.8h0M91.2 186.9h0M91.4 191.2h0M91.6 191.2h0M91.8 188.5h0M92.0 188.6h0M92.3 187.5h0M92.5 188.3h0M92.7 189.4h0M92.9 188.1h0M93.1 189.7h0M93.3 189.9h0M93.5 188.3h0M93.7 188.1h0M94.0 187.3h0M94.2 187.9h0M94.4 185.3h0M94.6 187.7h0M94.8 187.3h0M95.0 185.3h0M95.2 190.3h0M95.4 184.9h0M95.7 184.9h0M95.9 186.8h0M96.1 182.9h0M96.3 184.7h0M96.5 183.3h0M96.7 184.1h0M96.9 185.4h0M97.1 186.1h0M97.4 187.3h0M97.6 186.7h0M97.8 187.2h0M98.0 186.1h0M98.2 184.1h0M98.4 186.7h0M98.6 183.9h0M98.8 183.5h0M99.1 187.1h0M99.3 185.7h0M99.5 184.6h0M99.7 185.4h0M99.9 185.5h0M100.1 181.5h0M100.3 183.6h0M100.5 181.6h0M100.8 183.7h0M101.0 182.2h0M101.2 185.6h0M101.4 184.0h0M101.6 181.6h0M101.8 182.9h0M102.0 180.7h0M102.2 182.7h0M102.5 183.5h0M102.7 182.9h0M102.9 179.0h0M103.1 181.6h0M103.3 182.9h0M103.5 182.4h0M103.7 183.8h0M103.9 179.5h0M104.2 187.8h0M104.4 180.3h0M104.6 181.6h0M104.8 181.8h0M105.0 182.2h0M105.2 179.9h0M105.4 181.1h0M105.6 178.6h0M105.9 178.1h0M106.1 181.3h0M106.3 180.1h0M106.5 177.3h0M106.7 178.5h0M106.9 179.8h0M107.1 182.3h0M107.3 181.3h0M107.6 180.7h0M107.8 176.2h0M108.0 178.9h0M108.2 179.7h0M108.4 179.4h0M108.6 179.3h0M108.8 178.1h0M109.0 181.3h0M109.3 180.7h0M109.5 177.9h0M109.7 176.2h0M109.9 181.2h0M110.1 176.6h0M110.3 179.4h0M110.5 180.5h0M110.7 175.5h0M111.0 177.4h0M111.2 176.1h0M111.4 177.4h0M111.6 176.9h0M111.8 179.5h0M112.0 177.1h0M112.2 175.9h0M112.4 177.6h0M112.7 175.1h0M112.9 174.8h0M113.1 179.0h0M113.3 173.7h0M113.5 174.0h0M113.7 174.8h0M113.9 172.7h0M114.1 170.8h0M114.4 176.0h0M114.6 172.7h0M114.8 172.9h0M115.0 173.0h0M115.2 171.8h0M115.4 171.5h0M115.6 173.4h0M115.8 177.0h0M116.1 174.0h0M116.3 173.9h0M116.5 169.9h0M116.7 172.2h0M116.9 170.0h0M117.1 173.2h0M117.3 171.3h0M117.5 171.6h0M117.8 171.2h0M118.0 170.2h0M118.2 168.4h0M118.4 171.8h0M118.6 168.3h0M118.8 168.4h0M119.0 169.8h0M119.2 168.9h0M119.5 170.4h0M119.7 171.4h0M119.9 170.0h0M120.1 169.7h0M120.3 169.2h0M120.5 170.5h0M120.7 165.7h0M120.9 169.3h0M121.2 166.9h0M121.4 166.2h0M121.6 168.1h0M121.8 167.3h0M122.0 168.8h0M122.2 169.5h0M122.4 163.5h0M122.6 167.1h0M122.9 170.4h0M123.1 168.4h0M123.3 169.2h0M123.5 166.8h0M123.7 164.0h0M123.9 164.3h0M124.1 158.7h0M124.3 167.5h0M124.6 164.5h0M124.8 165.1h0M125.0 165.9h0M125.2 162.3h0M125.4 164.5h0M125.6 167.7h0M125.8 168.5h0M126.0 164.4h0M126.3 167.6h0M126.5 163.4h0M126.7 162.7h0M126.9 160.1h0M127.1 165.4h0M127.3 163.0h0M127.5 167.4h0M127.7 163.9h0M128.0 163.5h0M128.2 159.9h0M128.4 165.4h0M128.6 162.0h0M128.8 162.2h0M129.0 158.6h0M129.2 163.8h0M129.4 163.7h0M129.7 160.8h0M129.9 161.9h0M130.1 160.6h0M130.3 163.0h0M130.5 161.4h0M130.7 164.0h0M130.9 160.5h0M131.1 159.7h0M131.4 159.5h0M131.6 156.1h0M131.8 158.9h0M132.0 161.8h0M132.2 160.4h0M132.4 158.4h0M132.6 160.2h0M132.8 156.0h0M133.1 158.8h0M133.3 160.1h0M133.5 160.2h0M133.7 157.5h0M133.9 160.2h0M134.1 161.7h0M134.3 157.7h0M134.5 159.5h0M134.8 155.4h0M135.0 152.6h0M135.2 158.8h0M135.4 157.7h0M135.6 157.8h0M135.8 156.3h0M136.0 156.6h0M136.2 158.4h0M136.5 159.7h0M136.7 156.3h0M136.9 153.7h0M137.1 158.5h0M137.3 157.2h0M137.5 157.2h0M137.7 156.2h0M137.9 159.7h0M138.2 155.7h0M138.4 156.3h0M138.6 152.1h0M138.8 154.1h0M139.0 153.8h0M139.2 154.7h0M139.4 155.2h0M139.6 153.2h0M139.8 157.3h0M140.1 152.4h0M140.3 153.3h0M140.5 154.3h0M140.7 151.6h0M140.9 154.5h0M141.1 154.5h0M141.3 152.8h0M141.5 156.3h0M141.8 153.1h0M142.0 153.3h0M142.2 151.0h0M142.4 149.6h0M142.6 151.3h0M142.8 151.6h0M143.0 151.2h0M143.2 153.2h0M143.5 147.7h0M143.7 149.6h0M143.9 148.3h0M144.1 153.5h0M144.3 150.1h0M144.5 150.1h0M144.7 148.9h0M144.9 152.2h0M145.2 149.8h0M145.4 150.7h0M145.6 146.7h0M145.8 152.0h0M146.0 150.5h0M146.2 150.6h0M146.4 151.6h0M146.6 149.1h0M146.9 148.9h0M147.1 150.3h0M147.3 149.6h0M147.5 148.4h0M147.7 148.7h0M147.9 147.6h0M148.1 152.3h0M148.3 149.7h0M148.6 148.0h0M148.8 151.0h0M149.0 145.1h0M149.2 147.1h0M149.4 150.3h0M149.6 146.5h0M149.8 144.3h0M150.0 149.3h0M150.3 147.7h0M150.5 144.6h0M150.7 147.8h0M150.9 144.6h0M151.1 143.9h0M151.3 145.7h0M151.5 145.0h0M151.7 143.8h0M152.0 144.9h0M152.2 143.7h0M152.4 145.3h0M152.6 145.1h0M152.8 146.2h0M153.0 144.0h0M153.2 142.4h0M153.4 142.2h0M153.7 143.9h0M153.9 146.8h0M154.1 145.5h0M154.3 142.8h0M154.5 145.4h0M154.7 141.6h0M154.9 145.2h0M155.1 142.7h0M155.4 144.5h0M155.6 144.1h0M155.8 142.4h0M156.0 143.3h0M156.2 140.8h0M156.4 142.3h0M156.6 144.2h0M156.8 149.2h0M157.1 143.2h0M157.3 142.1h0M157.5 140.0h0M157.7 143.4h0M157.9 138.7h0M158.1 140.0h0M158.3 141.8h0M158.5 139.0h0M158.8 143.6h0M159.0 142.7h0M159.2 139.7h0M159.4 139.6h0M159.6 138.2h0M159.8 137.9h0M160.0 140.9h0M160.2 141.1h0M160.5 140.5h0M160.7 140.2h0M160.9 138.7h0M161.1 140.1h0M161.3 136.9h0M161.5 139.3h0M161.7 141.6h0M161.9 141.2h0M162.2 138.1h0M162.4 138.2h0M162.6 141.0h0M162.8 141.5h0M163.0 135.8h0M163.2 137.5h0M163.4 138.5h0M163.6 140.1h0M163.9 136.4h0M164.1 138.8h0M164.3 137.1h0M164.5 141.5h0M164.7 138.1h0M164.9 137.0h0M165.1 136.6h0M165.3 138.8h0M165.6 138.0h0M165.8 134.9h0M166.0 137.0h0M166.2 134.2h0M166.4 135.1h0M166.6 134.1h0M166.8 133.9h0M167.0 134.9h0M167.3 134.2h0M167.5 136.7h0M167.7 137.0h0M167.9 135.2h0M168.1 133.5h0M168.3 136.7h0M168.5 131.8h0M168.7 131.8h0M169.0 136.2h0M169.2 136.0h0M169.4 136.4h0M169.6 134.3h0M169.8 132.4h0M170.0 133.5h0M170.2 135.2h0M170.4 132.8h0M170.7 132.8h0M170.9 131.5h0M171.1 131.8h0M171.3 135.1h0M171.5 134.3h0M171.7 131.5h0M171.9 131.5h0M172.1 132.3h0M172.4 134.0h0M172.6 131.0h0M172.8 132.6h0M173.0 129.1h0M173.2 130.5h0M173.4 133.2h0M173.6 133.9h0M173.8 130.3h0M174.1 130.8h0M174.3 133.4h0M174.5 131.3h0M174.7 130.9h0M174.9 132.6h0M175.1 131.9h0M175.3 133.4h0M175.5 132.7h0M175.8 130.2h0M176.0 130.9h0M176.2 130.9h0M176.4 128.6h0M176.6 129.1h0M176.8 132.3h0M177.0 127.8h0M177.2 132.1h0M177.5 130.8h0M177.7 129.9h0M177.9 131.0h0M178.1 130.7h0M178.3 131.9h0M178.5 129.0h0M178.7 129.2h0M178.9 129.0h0M179.2 132.5h0M179.4 130.8h0M179.6 127.5h0M179.8 128.4h0M180.0 127.6h0M180.2 128.8h0M180.4 129.0h0M180.6 132.4h0M180.9 125.3h0M181.1 131.8h0M181.3 128.9h0M181.5 126.8h0M181.7 127.6h0M181.9 126.9h0M182.1 127.7h0M182.3 129.3h0M182.6 124.8h0M182.8 129.5h0M183.0 126.5h0M183.2 129.6h0M183.4 127.6h0M183.6 128.9h0M183.8 127.7h0M184.0 128.4h0M184.3 126.6h0M184.5 124.9h0M184.7 127.4h0M184.9 127.3h0M185.1 129.6h0M185.3 122.5h0M185.5 125.4h0M185.7 127.5h0M186.0 123.4h0M186.2 125.0h0M186.4 128.9h0M186.6 127.6h0M186.8 123.6h0M187.0 127.4h0M187.2 126.9h0M187.4 126.1h0M187.7 125.3h0M187.9 124.9h0M188.1 122.9h0M188.3 123.4h0M188.5 125.4h0M188.7 124.3h0M188.9 127.1h0M189.1 123.3h0M189.4 119.6h0M189.6 123.0h0M189.8 124.0h0M190.0 124.0h0M190.2 123.4h0M190.4 121.8h0M190.6 125.6h0M190.8 121.8h0M191.1 124.0h0M191.3 122.2h0M191.5 120.6h0M191.7 124.9h0M191.9 118.1h0M192.1 120.8h0M192.3 122.9h0M192.5 121.5h0M192.8 123.2h0M193.0 121.7h0M193.2 121.0h0M193.4 125.3h0M193.6 121.2h0M193.8 121.2h0M194.0 119.5h0M194.2 120.0h0M194.5 122.2h0M194.7 122.0h0M194.9 120.9h0M195.1 119.6h0M195.3 121.9h0M195.5 117.7h0M195.7 119.9h0M195.9 120.0h0M196.2 118.9h0M196.4 120.5h0M196.6 119.0h0M196.8 118.7h0M197.0 123.0h0M197.2 121.1h0M197.4 121.8h0M197.6 119.7h0M197.9 121.2h0M198.1 120.8h0M198.3 121.4h0M198.5 123.3h0M198.7 118.8h0M198.9 119.5h0M199.1 118.9h0M199.3 113.0h0M199.6 116.5h0M199.8 118.8h0M200.0 119.8h0M200.2 117.6h0M200.4 120.5h0M200.6 120.7h0M200.8 117.7h0M201.0 120.8h0M201.3 121.2h0M201.5 119.0h0M201.7 116.5h0M201.9 120.6h0M202.1 117.7h0M202.3 117.3h0M202.5 118.1h0M202.7 116.9h0M203.0 119.6h0M203.2 119.0h0M203.4 119.7h0M203.6 118.6h0M203.8 116.2h0M204.0 117.2h0M204.2 118.9h0M204.4 116.6h0M204.7 122.2h0M204.9 116.8h0M205.1 116.2h0M205.3 119.1h0M205.5 118.3h0M205.7 116.9h0M205.9 116.5h0M206.1 117.6h0M206.4 118.2h0M206.6 118.1h0M206.8 116.2h0M207.0 117.4h0M207.2 118.0h0M207.4 117.8h0M207.6 111.2h0M207.8 114.9h0M208.1 115.0h0M208.3 115.9h0M208.5 116.5h0M208.7 117.7h0M208.9 117.2h0M209.1 115.8h0M209.3 116.0h0M209.5 118.9h0M209.8 114.8h0M210.0 116.3h0M210.2 118.4h0M210.4 116.3h0M210.6 112.1h0M210.8 116.2h0M211.0 114.8h0M211.2 115.2h0M211.5 117.1h0M211.7 116.1h0M211.9 114.8h0M212.1 116.7h0M212.3 115.8h0M212.5 115.2h0M212.7 115.5h0M212.9 115.3h0M213.2 114.3h0M213.4 114.0h0M213.6 114.7h0M213.8 113.0h0M214.0 112.4h0M214.2 116.7h0M214.4 114.0h0M214.6 114.3h0M214.9 114.1h0M215.1 114.3h0M215.3 114.2h0M215.5 114.2h0M215.7 112.7h0M215.9 115.5h0M216.1 112.7h0M216.3 115.6h0M216.6 110.5h0M216.8 111.9h0M217.0 115.3h0M217.2 113.3h0M217.4 112.3h0M217.6 114.0h0M217.8 111.6h0M218.0 113.4h0M218.3 109.4h0M218.5 112.4h0M218.7 112.0h0M218.9 113.9h0M219.1 114.4h0M219.3 111.4h0M219.5 115.5h0M219.7 111.7h0M220.0 109.2h0M220.2 108.5h0M220.4 115.1h0M220.6 112.3h0M220.8 111.3h0M221.0 111.0h0M221.2 110.4h0M221.4 114.5h0M221.7 112.0h0M221.9 115.1h0M222.1 111.6h0M222.3 107.9h0M222.5 113.3h0M222.7 111.2h0M222.9 111.3h0M223.1 114.3h0M223.4 111.1h0M223.6 113.5h0M223.8 111.5h0M224.0 110.1h0M224.2 112.2h0M224.4 110.2h0M224.6 113.3h0M224.8 112.8h0M225.1 111.2h0M225.3 112.1h0M225.5 111.9h0M225.7 110.4h0M225.9 112.4h0M226.1 110.4h0M226.3 111.8h0M226.5 109.0h0M226.8 110.8h0M227.0 111.2h0M227.2 109.1h0M227.4 109.7h0M227.6 109.4h0M227.8 111.5h0M228.0 109.0h0M228.2 110.9h0M228.5 112.7h0M228.7 110.6h0M228.9 107.2h0M229.1 110.1h0M229.3 111.6h0M229.5 109.3h0M229.7 111.6h0M229.9 110.7h0M230.2 110.3h0M230.4 109.1h0M230.6 108.6h0M230.8 109.0h0M231.0 109.5h0M231.2 110.2h0M231.4 110.0h0M231.6 108.7h0M231.8 109.3h0M232.1 109.8h0M232.3 106.3h0M232.5 107.7h0M232.7 107.6h0M232.9 108.5h0M233.1 108.4h0M233.3 108.3h0M233.5 107.2h0M233.8 109.8h0M234.0 109.1h0M234.2 105.8h0M234.4 108.5h0M234.6 106.5h0M234.8 111.3h0M235.0 107.6h0M235.2 107.6h0M235.5 108.4h0M235.7 107.8h0M235.9 108.0h0M236.1 110.7h0M236.3 108.4h0M236.5 109.4h0M236.7 109.9h0M236.9 106.2h0M237.2 110.7h0M237.4 109.0h0M237.6 109.4h0M237.8 106.2h0M238.0 109.0h0M238.2 108.3h0M238.4 106.6h0M238.6 111.4h0M238.9 108.4h0M239.1 107.0h0M239.3 107.7h0M239.5 108.9h0M239.7 109.2h0M239.9 108.2h0M240.1 109.3h0M240.3 109.6h0M240.6 105.0h0M240.8 106.2h0M241.0 105.4h0M241.2 107.1h0M241.4 109.4h0M241.6 108.0h0M241.8 105.1h0M242.0 106.3h0M242.3 108.5h0M242.5 105.8h0M242.7 106.5h0M242.9 107.1h0M243.1 103.5h0M243.3 107.8h0M243.5 107.1h0M243.7 107.4h0M244.0 104.7h0M244.2 105.0h0M244.4 105.3h0M244.6 106.7h0M244.8 106.3h0M245.0 106.4h0M245.2 109.2h0M245.4 108.3h0M245.7 104.8h0M245.9 104.9h0M246.1 108.8h0M246.3 105.3h0M246.5 108.2h0M246.7 108.5h0M246.9 104.8h0M247.1 105.2h0M247.4 105.8h0M247.6 104.1h0M247.8 103.9h0M248.0 104.8h0M248.2 106.9h0M248.4 104.6h0M248.6 105.0h0M248.8 104.5h0M249.1 102.9h0M249.3 107.7h0M249.5 101.2h0M249.7 104.0h0M249.9 106.0h0M250.1 102.6h0M250.3 106.0h0M250.5 107.0h0M250.8 103.4h0M251.0 105.1h0M251.2 102.8h0M251.4 105.5h0M251.6 104.8h0M251.8 104.9h0M252.0 106.8h0M252.2 105.2h0M252.5 106.7h0M252.7 105.4h0M252.9 102.2h0M253.1 104.7h0M253.3 105.0h0M253.5 101.6h0M253.7 106.3h0M253.9 104.1h0M254.2 104.5h0M254.4 102.3h0M254.6 103.9h0M254.8 104.2h0M255.0 103.1h0M255.2 103.7h0M255.4 99.9h0M255.6 105.8h0M255.9 101.5h0M256.1 99.7h0M256.3 101.7h0M256.5 101.8h0M256.7 104.1h0M256.9 101.6h0M257.1 103.5h0M257.3 101.4h0M257.6 106.7h0M257.8 103.8h0M258.0 106.2h0M258.2 101.1h0M258.4 103.9h0M258.6 101.0h0M258.8 103.6h0M259.0 103.7h0M259.3 99.8h0M259.5 100.5h0M259.7 100.4h0M259.9 99.8h0M260.1 101.1h0M260.3 100.6h0M260.5 99.7h0M260.7 102.3h0M261.0 103.0h0M261.2 99.8h0M261.4 101.1h0M261.6 102.0h0M261.8 101.5h0M262.0 100.7h0M262.2 103.2h0M262.4 103.2h0M262.7 102.9h0M262.9 101.3h0M263.1 105.0h0M263.3 104.5h0M263.5 100.9h0M263.7 101.3h0M263.9 103.5h0M264.1 100.0h0M264.4 102.0h0M264.6 101.4h0M264.8 100.1h0M265.0 100.8h0M265.2 98.5h0M265.4 99.6h0M265.6 97.7h0M265.8 104.9h0M266.1 103.6h0M266.3 103.0h0M266.5 101.4h0M266.7 102.6h0M266.9 103.0h0M267.1 102.5h0M267.3 102.3h0M267.5 99.2h0M267.8 101.4h0M268.0 99.7h0M268.2 98.6h0M268.4 98.6h0M268.6 101.2h0M268.8 102.2h0M269.0 98.1h0M269.2 103.3h0M269.5 102.8h0M269.7 95.8h0M269.9 99.5h0M270.1 100.1h0M270.3 101.8h0M270.5 99.5h0M270.7 98.2h0M270.9 100.6h0M271.2 96.5h0M271.4 100.2h0M271.6 101.9h0M271.8 100.4h0M272.0 101.2h0M272.2 100.7h0M272.4 101.0h0M272.6 100.0h0M272.9 98.3h0M273.1 99.3h0M273.3 99.5h0M273.5 101.8h0M273.7 102.3h0M273.9 100.3h0M274.1 98.2h0M274.3 98.2h0M274.6 99.1h0M274.8 101.8h0M275.0 99.9h0M275.2 99.2h0M275.4 98.0h0M275.6 100.8h0M275.8 99.7h0M276.0 99.1h0M276.3 99.4h0M276.5 102.0h0M276.7 98.8h0M276.9 102.0h0M277.1 101.2h0M277.3 99.1h0M277.5 100.5h0M277.7 98.7h0M278.0 97.5h0M278.2 98.4h0M278.4 97.3h0M278.6 99.7h0M278.8 98.8h0M279.0 99.7h0M279.2 100.1h0M279.4 93.4h0M279.7 99.2h0M279.9 95.6h0M280.1 98.9h0M280.3 97.1h0M280.5 98.7h0M280.7 100.8h0M280.9 95.6h0M281.1 98.8h0M281.4 98.3h0M281.6 95.2h0M281.8 99.5h0M282.0 98.4h0M282.2 97.5h0M282.4 97.1h0M282.6 103.7h0M282.8 97.6h0M283.1 95.1h0M283.3 96.6h0M283.5 97.5h0M283.7 97.5h0M283.9 98.0h0M284.1 96.3h0M284.3 99.0h0M284.5 97.2h0M284.8 95.7h0M285.0 96.6h0M285.2 97.3h0M285.4 99.3h0M285.6 98.7h0M285.8 97.3h0M286.0 97.8h0M286.2 98.2h0M286.5 101.2h0M286.7 96.7h0M286.9 98.5h0M287.1 91.7h0M287.3 96.0h0M287.5 97.9h0M287.7 97.9h0M287.9 96.8h0M288.2 98.5h0M288.4 99.3h0M288.6 99.4h0M288.8 97.1h0M289.0 97.8h0M289.2 101.4h0M289.4 95.5h0M289.6 97.7h0M289.9 98.8h0M290.1 97.6h0M290.3 98.4h0M290.5 97.6h0M290.7 98.5h0M290.9 99.4h0M291.1 96.8h0M291.3 97.5h0M291.6 97.0h0M291.8 96.4h0M292.0 97.0h0M292.2 95.1h0M292.4 98.3h0M292.6 99.9h0M292.8 99.9h0M293.0 99.1h0M293.3 95.3h0M293.5 99.5h0M293.7 95.7h0M293.9 96.8h0M294.1 100.0h0M294.3 95.0h0M294.5 98.2h0M294.7 97.3h0M295.0 96.5h0M295.2 95.2h0M295.4 97.4h0M295.6 95.9h0M295.8 98.4h0M296.0 98.7h0M296.2 94.3h0M296.4 95.7h0M296.7 96.0h0M296.9 94.5h0M297.1 94.6h0M297.3 96.6h0M297.5 96.1h0M297.7 93.6h0M297.9 95.5h0M298.1 97.3h0M298.4 94.3h0M298.6 94.8h0M298.8 99.0h0M299.0 98.6h0M299.2 93.5h0M299.4 94.0h0M299.6 96.9h0M299.8 94.2h0M300.1 95.8h0M300.3 95.4h0M300.5 97.1h0M300.7 91.8h0M300.9 92.4h0M301.1 94.0h0M301.3 97.8h0M301.5 95.8h0M301.8 93.1h0M302.0 96.8h0M302.2 97.2h0M302.4 95.5h0M302.6 95.4h0M302.8 96.7h0M303.0 97.9h0M303.2 96.1h0M303.5 99.5h0M303.7 95.7h0M303.9 95.1h0M304.1 94.2h0M304.3 96.2h0M304.5 95.2h0M304.7 95.3h0M304.9 97.3h0M305.2 96.5h0M305.4 97.1h0M305.6 92.9h0M305.8 96.5h0M306.0 94.6h0M306.2 94.2h0M306.4 94.1h0M306.6 97.6h0M306.9 96.9h0M307.1 94.2h0M307.3 93.5h0M307.5 95.4h0M307.7 94.6h0M307.9 98.2h0M308.1 92.8h0M308.3 92.2h0M308.6 94.9h0M308.8 95.3h0M309.0 95.5h0M309.2 96.5h0M309.4 98.7h0M309.6 94.6h0M309.8 94.2h0M310.0 92.1h0M310.3 95.5h0M310.5 96.5h0M310.7 94.6h0M310.9 97.0h0M311.1 95.1h0M311.3 97.6h0M311.5 95.5h0M311.7 95.8h0M312.0 93.8h0M312.2 92.3h0M312.4 91.9h0M312.6 95.3h0M312.8 96.3h0M313.0 98.1h0M313.2 94.7h0M313.4 94.3h0M313.7 92.8h0M313.9 96.4h0M314.1 95.3h0M314.3 93.6h0M314.5 95.8h0M314.7 95.6h0M314.9 91.4h0M315.1 95.8h0M315.4 94.8h0M315.6 93.8h0M315.8 93.8h0M316.0 97.4h0M316.2 97.1h0M316.4 97.5h0M316.6 92.4h0M316.8 93.3h0M317.1 95.9h0M317.3 92.3h0M317.5 93.1h0M317.7 91.2h0M317.9 97.4h0M318.1 96.0h0M318.3 95.0h0M318.5 94.6h0M318.8 93.5h0M319.0 93.5h0M319.2 95.2h0M319.4 92.9h0M319.6 96.2h0M319.8 93.2h0M320.0 92.5h0M320.2 96.2h0M320.5 93.7h0M320.7 94.9h0M320.9 93.2h0M321.1 90.1h0M321.3 94.8h0M321.5 91.6h0M321.7 95.7h0M321.9 91.2h0M322.2 90.6h0M322.4 94.3h0M322.6 94.5h0M322.8 93.9h0M323.0 91.6h0" stroke="#800000" stroke-width="1.60" stroke-linecap="round" fill="none"/>
<path d="M47.0 219.1h0M47.2 218.9h0M47.6 218.9h0M48.1 218.2h0M48.3 217.9h0M48.7 220.4h0M48.9 216.2h0M49.1 220.4h0M49.3 220.3h0M49.5 218.0h0M49.8 219.5h0M50.0 219.5h0M50.2 218.1h0M50.4 217.9h0M50.6 217.7h0M50.8 218.3h0M51.0 216.4h0M51.2 218.6h0M51.5 215.9h0M51.7 218.7h0M51.9 218.3h0M52.1 216.6h0M52.3 219.8h0M52.7 220.5h0M52.9 215.5h0M53.2 220.1h0M53.4 218.1h0M53.6 217.4h0M53.8 216.2h0M54.0 217.1h0M54.2 219.4h0M54.4 217.7h0M54.6 215.8h0M54.9 215.1h0M55.1 215.3h0M55.3 216.9h0M55.5 218.9h0M55.7 213.5h0M55.9 215.1h0M56.1 214.2h0M56.3 213.3h0M56.6 215.1h0M56.8 215.2h0M57.0 211.4h0M57.2 211.2h0M57.4 215.6h0M57.6 213.9h0M57.8 214.0h0M58.0 212.0h0M58.3 212.0h0M58.5 213.3h0M58.7 211.4h0M58.9 210.1h0M59.1 211.9h0M59.3 213.3h0M59.5 209.7h0M59.7 213.2h0M60.0 212.4h0M60.2 209.4h0M60.4 210.8h0M60.6 210.5h0M60.8 211.5h0M61.0 211.3h0M61.2 207.6h0M61.4 207.4h0M61.7 211.4h0M61.9 209.6h0M62.1 211.3h0M62.3 209.6h0M62.5 211.5h0M62.7 206.5h0M62.9 210.4h0M63.1 206.8h0M63.4 209.3h0M63.6 210.2h0M63.8 205.2h0M64.0 208.2h0M64.2 206.8h0M64.4 206.6h0M64.6 207.0h0M64.8 204.9h0M65.1 204.9h0M65.3 207.6h0M65.5 207.8h0M65.7 205.1h0M65.9 203.3h0M66.1 209.9h0M66.3 207.6h0M66.5 206.1h0M66.8 203.5h0M67.0 204.1h0M67.2 205.4h0M67.4 203.1h0M67.6 207.5h0M67.8 204.8h0M68.0 204.2h0M68.2 202.4h0M68.5 202.5h0M68.7 202.5h0M68.9 204.3h0M69.1 203.2h0M69.3 203.0h0M69.5 203.9h0M69.7 203.6h0M69.9 205.7h0M70.2 202.6h0M70.4 201.0h0M70.6 202.6h0M70.8 205.1h0M71.0 201.4h0M71.2 202.3h0M71.4 201.4h0M71.6 202.7h0M71.9 202.3h0M72.1 200.2h0M72.3 201.1h0M72.5 203.1h0M72.7 203.2h0M72.9 202.8h0M73.1 202.5h0M73.3 200.3h0M73.6 200.1h0M73.8 202.2h0M74.0 198.4h0M74.2 200.2h0M74.4 196.9h0M74.6 199.4h0M74.8 198.7h0M75.0 197.6h0M75.3 200.7h0M75.5 198.2h0M75.7 198.7h0M75.9 198.8h0M76.1 197.8h0M76.3 201.5h0M76.5 198.0h0M76.7 199.1h0M77.0 196.3h0M77.2 197.6h0M77.4 197.8h0M77.6 197.7h0M77.8 197.0h0M78.0 198.2h0M78.2 200.6h0M78.4 197.5h0M78.7 197.3h0M78.9 196.7h0M79.1 201.8h0M79.3 200.0h0M79.5 198.0h0M79.7 198.2h0M79.9 195.5h0M80.1 196.4h0M80.4 196.9h0M80.6 196.6h0M80.8 194.8h0M81.0 194.8h0M81.2 196.9h0M81.4 196.4h0M81.6 192.0h0M81.8 195.8h0M82.1 197.7h0M82.3 194.2h0M82.5 195.7h0M82.7 192.5h0M82.9 196.4h0M83.1 192.9h0M83.3 192.5h0M83.5 194.0h0M83.8 198.6h0M84.0 193.2h0M84.2 192.0h0M84.4 194.9h0M84.6 194.3h0M84.8 196.7h0M85.0 191.4h0M85.2 190.7h0M85.5 192.8h0M85.7 193.9h0M85.9 193.8h0M86.1 194.9h0M86.3 190.2h0M86.5 191.3h0M86.7 192.4h0M86.9 194.0h0M87.2 193.2h0M87.4 191.5h0M87.6 190.3h0M87.8 193.5h0M88.0 193.5h0M88.2 196.5h0M88.4 191.2h0M88.6 194.3h0M88.9 189.1h0M89.1 190.2h0M89.3 189.8h0M89.5 190.0h0M89.7 189.2h0M89.9 189.6h0M90.1 190.3h0M90.3 189.5h0M90.6 191.3h0M90.8 189.9h0M91.0 189.9h0M91.2 192.3h0M91.4 190.2h0M91.6 189.7h0M91.8 189.3h0M92.0 189.3h0M92.3 190.1h0M92.5 187.5h0M92.7 190.8h0M92.9 191.4h0M93.1 190.5h0M93.3 187.5h0M93.5 185.4h0M93.7 187.3h0M94.0 188.2h0M94.2 189.3h0M94.4 187.4h0M94.6 187.0h0M94.8 190.1h0M95.0 186.1h0M95.2 189.1h0M95.4 188.7h0M95.7 184.6h0M95.9 187.3h0M96.1 185.7h0M96.3 184.9h0M96.5 183.2h0M96.7 183.6h0M96.9 186.9h0M97.1 185.4h0M97.4 186.4h0M97.6 184.0h0M97.8 185.2h0M98.0 185.1h0M98.2 182.8h0M98.4 182.4h0M98.6 186.0h0M98.8 185.4h0M99.1 183.3h0M99.3 184.7h0M99.5 185.9h0M99.7 187.9h0M99.9 183.0h0M100.1 185.5h0M100.3 188.0h0M100.5 184.3h0M100.8 186.6h0M101.0 179.4h0M101.2 186.4h0M101.4 183.7h0M101.6 180.2h0M101.8 184.8h0M102.0 185.2h0M102.2 185.3h0M102.5 185.2h0M102.7 182.9h0M102.9 181.5h0M103.1 181.9h0M103.3 182.5h0M103.5 183.2h0M103.7 181.5h0M103.9 182.3h0M104.2 183.6h0M104.4 182.5h0M104.6 185.9h0M104.8 185.5h0M105.0 179.5h0M105.2 180.4h0M105.4 179.0h0M105.6 179.1h0M105.9 182.0h0M106.1 179.1h0M106.3 178.9h0M106.5 180.1h0M106.7 181.9h0M106.9 179.7h0M107.1 179.6h0M107.3 181.7h0M107.6 180.7h0M107.8 180.6h0M108.0 181.3h0M108.2 177.7h0M108.4 179.7h0M108.6 178.1h0M108.8 180.8h0M109.0 180.3h0M109.3 176.9h0M109.5 180.9h0M109.7 176.3h0M109.9 180.3h0M110.1 178.5h0M110.3 176.4h0M110.5 175.8h0M110.7 177.1h0M111.0 177.4h0M111.2 176.0h0M111.4 178.1h0M111.6 174.5h0M111.8 176.8h0M112.0 176.6h0M112.2 173.1h0M112.4 176.8h0M112.7 173.9h0M112.9 171.5h0M113.1 174.7h0M113.3 175.2h0M113.5 177.0h0M113.7 174.4h0M113.9 177.7h0M114.1 177.5h0M114.4 176.7h0M114.6 176.9h0M114.8 175.0h0M115.0 173.2h0M115.2 175.2h0M115.4 175.6h0M115.6 174.1h0M115.8 173.1h0M116.1 170.5h0M116.3 174.3h0M116.5 173.6h0M116.7 170.5h0M116.9 172.8h0M117.1 173.7h0M117.3 172.1h0M117.5 173.5h0M117.8 173.2h0M118.0 169.1h0M118.2 171.0h0M118.4 172.2h0M118.6 172.8h0M118.8 173.5h0M119.0 167.4h0M119.2 170.5h0M119.5 171.7h0M119.7 172.5h0M119.9 173.1h0M120.1 168.3h0M120.3 169.1h0M120.5 167.7h0M120.7 170.8h0M120.9 166.9h0M121.2 171.1h0M121.4 170.5h0M121.6 169.6h0M121.8 164.7h0M122.0 167.1h0M122.2 169.5h0M122.4 165.5h0M122.6 167.4h0M122.9 167.5h0M123.1 169.1h0M123.3 167.8h0M123.5 167.6h0M123.7 166.2h0M123.9 166.8h0M124.1 166.4h0M124.3 167.8h0M124.6 166.0h0M124.8 168.0h0M125.0 162.9h0M125.2 167.9h0M125.4 165.3h0M125.6 167.5h0M125.8 165.5h0M126.0 166.7h0M126.3 167.6h0M126.5 163.8h0M126.7 164.8h0M126.9 164.2h0M127.1 164.7h0M127.3 161.3h0M127.5 163.7h0M127.7 163.4h0M128.0 162.3h0M128.2 163.2h0M128.4 160.7h0M128.6 165.7h0M128.8 163.9h0M129.0 166.3h0M129.2 161.2h0M129.4 160.5h0M129.7 163.0h0M129.9 159.3h0M130.1 162.5h0M130.3 160.7h0M130.5 161.2h0M130.7 162.1h0M130.9 161.6h0M131.1 164.7h0M131.4 162.3h0M131.6 158.8h0M131.8 162.6h0M132.0 158.4h0M132.2 160.7h0M132.4 158.2h0M132.6 158.8h0M132.8 162.5h0M133.1 159.0h0M133.3 158.7h0M133.5 158.7h0M133.7 159.0h0M133.9 161.9h0M134.1 157.1h0M134.3 156.8h0M134.5 159.9h0M134.8 155.9h0M135.0 157.9h0M135.2 160.4h0M135.4 158.3h0M135.6 157.3h0M135.8 156.7h0M136.0 156.2h0M136.2 156.6h0M136.5 157.7h0M136.7 159.5h0M136.9 158.9h0M137.1 156.0h0M137.3 155.6h0M137.5 157.9h0M137.7 153.3h0M137.9 155.6h0M138.2 155.7h0M138.4 154.1h0M138.6 154.1h0M138.8 156.4h0M139.0 152.6h0M139.2 153.8h0M139.4 154.1h0M139.6 155.3h0M139.8 152.5h0M140.1 156.7h0M140.3 154.1h0M140.5 154.0h0M140.7 153.6h0M140.9 152.9h0M141.1 152.2h0M141.3 155.8h0M141.5 154.0h0M141.8 153.3h0M142.0 155.1h0M142.2 151.9h0M142.4 154.1h0M142.6 152.8h0M142.8 151.1h0M143.0 153.8h0M143.2 149.6h0M143.5 153.3h0M143.7 150.4h0M143.9 152.5h0M144.1 154.0h0M144.3 152.4h0M144.5 150.2h0M144.7 151.0h0M144.9 150.2h0M145.2 148.6h0M145.4 148.6h0M145.6 150.4h0M145.8 151.1h0M146.0 146.9h0M146.2 149.7h0M146.4 150.5h0M146.6 149.6h0M146.9 147.5h0M147.1 150.9h0M147.3 146.7h0M147.5 149.9h0M147.7 151.4h0M147.9 144.7h0M148.1 148.6h0M148.3 148.5h0M148.6 148.2h0M148.8 146.3h0M149.0 146.9h0M149.2 144.8h0M149.4 147.3h0M149.6 147.8h0M149.8 145.5h0M150.0 144.9h0M150.3 145.5h0M150.5 146.1h0M150.7 146.1h0M150.9 145.6h0M151.1 145.7h0M151.3 143.1h0M151.5 140.4h0M151.7 146.1h0M152.0 147.4h0M152.2 142.2h0M152.4 143.3h0M152.6 144.8h0M152.8 145.8h0M153.0 145.1h0M153.2 146.0h0M153.4 143.5h0M153.7 144.1h0M153.9 144.0h0M154.1 142.3h0M154.3 145.0h0M154.5 143.8h0M154.7 144.2h0M154.9 141.7h0M155.1 144.0h0M155.4 140.1h0M155.6 142.5h0M155.8 137.0h0M156.0 139.7h0M156.2 142.6h0M156.4 140.3h0M156.6 141.3h0M156.8 137.9h0M157.1 143.4h0M157.3 141.5h0M157.5 140.3h0M157.7 140.9h0M157.9 140.6h0M158.1 142.3h0M158.3 140.0h0M158.5 136.9h0M158.8 138.9h0M159.0 141.5h0M159.2 140.0h0M159.4 138.1h0M159.6 139.8h0M159.8 138.8h0M160.0 139.5h0M160.2 135.5h0M160.5 136.5h0M160.7 139.1h0M160.9 137.4h0M161.1 138.3h0M161.3 141.0h0M161.5 136.8h0M161.7 137.6h0M161.9 136.1h0M162.2 135.8h0M162.4 136.7h0M162.6 134.1h0M162.8 132.8h0M163.0 138.7h0M163.2 136.0h0M163.4 138.0h0M163.6 134.4h0M163.9 136.0h0M164.1 136.8h0M164.3 136.7h0M164.5 133.2h0M164.7 137.3h0M164.9 133.4h0M165.1 135.3h0M165.3 139.3h0M165.6 134.8h0M165.8 137.4h0M166.0 133.7h0M166.2 135.3h0M166.4 134.2h0M166.6 134.7h0M166.8 132.3h0M167.0 132.1h0M167.3 134.1h0M167.5 130.6h0M167.7 131.8h0M167.9 134.2h0M168.1 131.9h0M168.3 131.3h0M168.5 130.8h0M168.7 132.8h0M169.0 131.8h0M169.2 132.6h0M169.4 131.8h0M169.6 135.3h0M169.8 131.1h0M170.0 128.3h0M170.2 131.8h0M170.4 131.5h0M170.7 131.6h0M170.9 128.4h0M171.1 133.1h0M171.3 130.9h0M171.5 130.7h0M171.7 127.9h0M171.9 131.4h0M172.1 130.3h0M172.4 132.7h0M172.6 129.4h0M172.8 127.9h0M173.0 130.1h0M173.2 128.2h0M173.4 130.4h0M173.6 127.6h0M173.8 129.1h0M174.1 128.8h0M174.3 129.0h0M174.5 128.1h0M174.7 127.4h0M174.9 128.6h0M175.1 127.5h0M175.3 128.7h0M175.5 127.8h0M175.8 124.2h0M176.0 127.9h0M176.2 130.3h0M176.4 128.3h0M176.6 128.7h0M176.8 128.3h0M177.0 126.5h0M177.2 124.9h0M177.5 128.5h0M177.7 128.8h0M177.9 127.8h0M178.1 127.4h0M178.3 127.3h0M178.5 126.4h0M178.7 126.8h0M178.9 126.2h0M179.2 126.6h0M179.4 124.3h0M179.6 124.7h0M179.8 126.6h0M180.0 124.9h0M180.2 121.2h0M180.4 125.5h0M180.6 121.1h0M180.9 128.3h0M181.1 126.1h0M181.3 125.9h0M181.5 123.4h0M181.7 122.5h0M181.9 124.0h0M182.1 124.2h0M182.3 122.7h0M182.6 124.2h0M182.8 125.0h0M183.0 124.7h0M183.2 121.7h0M183.4 119.7h0M183.6 123.3h0M183.8 122.0h0M184.0 123.8h0M184.3 125.7h0M184.5 125.6h0M184.7 123.1h0M184.9 124.4h0M185.1 125.2h0M185.3 122.3h0M185.5 122.6h0M185.7 123.5h0M186.0 121.8h0M186.2 120.9h0M186.4 120.3h0M186.6 121.5h0M186.8 120.3h0M187.0 122.6h0M187.2 120.5h0M187.4 123.5h0M187.7 122.9h0M187.9 118.6h0M188.1 122.5h0M188.3 119.8h0M188.5 122.7h0M188.7 121.1h0M188.9 120.0h0M189.1 121.2h0M189.4 118.9h0M189.6 120.3h0M189.8 120.3h0M190.0 119.3h0M190.2 120.1h0M190.4 117.5h0M190.6 120.1h0M190.8 116.9h0M191.1 120.0h0M191.3 119.6h0M191.5 119.9h0M191.7 117.6h0M191.9 123.6h0M192.1 117.9h0M192.3 118.5h0M192.5 116.8h0M192.8 120.4h0M193.0 117.0h0M193.2 119.4h0M193.4 116.0h0M193.6 118.0h0M193.8 116.7h0M194.0 118.9h0M194.2 116.7h0M194.5 115.6h0M194.7 117.7h0M194.9 114.8h0M195.1 115.1h0M195.3 117.9h0M195.5 113.3h0M195.7 117.6h0M195.9 115.5h0M196.2 114.6h0M196.4 116.4h0M196.6 117.0h0M196.8 114.8h0M197.0 115.4h0M197.2 116.9h0M197.4 116.7h0M197.6 115.3h0M197.9 113.9h0M198.1 113.5h0M198.3 114.0h0M198.5 116.1h0M198.7 115.8h0M198.9 115.2h0M199.1 117.0h0M199.3 114.0h0M199.6 113.8h0M199.8 113.7h0M200.0 117.5h0M200.2 110.6h0M200.4 114.6h0M200.6 114.7h0M200.8 114.0h0M201.0 117.8h0M201.3 115.7h0M201.5 114.9h0M201.7 112.0h0M201.9 114.3h0M202.1 112.7h0M202.3 113.3h0M202.5 113.5h0M202.7 112.3h0M203.0 114.1h0M203.2 115.7h0M203.4 114.6h0M203.6 113.1h0M203.8 109.4h0M204.0 114.5h0M204.2 114.4h0M204.4 112.1h0M204.7 111.6h0M204.9 113.4h0M205.1 110.9h0M205.3 113.5h0M205.5 110.2h0M205.7 110.4h0M205.9 111.9h0M206.1 109.4h0M206.4 111.8h0M206.6 112.6h0M206.8 109.4h0M207.0 113.1h0M207.2 110.5h0M207.4 112.3h0M207.6 111.7h0M207.8 110.5h0M208.1 110.3h0M208.3 108.2h0M208.5 109.8h0M208.7 109.6h0M208.9 113.6h0M209.1 112.5h0M209.3 108.4h0M209.5 112.0h0M209.8 110.9h0M210.0 109.9h0M210.2 111.2h0M210.4 111.7h0M210.6 109.3h0M210.8 109.7h0M211.0 110.4h0M211.2 108.4h0M211.5 110.3h0M211.7 109.8h0M211.9 108.7h0M212.1 108.4h0M212.3 110.2h0M212.5 111.1h0M212.7 110.1h0M212.9 108.1h0M213.2 110.7h0M213.4 109.6h0M213.6 110.3h0M213.8 111.2h0M214.0 107.6h0M214.2 108.8h0M214.4 108.0h0M214.6 107.5h0M214.9 112.2h0M215.1 110.4h0M215.3 105.8h0M215.5 109.4h0M215.7 107.7h0M215.9 110.5h0M216.1 108.6h0M216.3 108.1h0M216.6 108.6h0M216.8 108.9h0M217.0 108.2h0M217.2 107.8h0M217.4 107.8h0M217.6 108.9h0M217.8 106.0h0M218.0 107.9h0M218.3 107.6h0M218.5 106.9h0M218.7 108.9h0M218.9 105.4h0M219.1 106.9h0M219.3 106.0h0M219.5 108.3h0M219.7 106.5h0M220.0 107.3h0M220.2 107.8h0M220.4 104.4h0M220.6 107.8h0M220.8 105.7h0M221.0 106.5h0M221.2 106.7h0M221.4 108.2h0M221.7 108.0h0M221.9 109.6h0M222.1 106.9h0M222.3 105.7h0M222.5 105.6h0M222.7 107.5h0M222.9 109.0h0M223.1 106.9h0M223.4 105.3h0M223.6 106.6h0M223.8 106.5h0M224.0 106.1h0M224.2 104.7h0M224.4 101.6h0M224.6 104.9h0M224.8 107.5h0M225.1 106.1h0M225.3 101.9h0M225.5 105.6h0M225.7 102.4h0M225.9 108.8h0M226.1 105.7h0M226.3 103.3h0M226.5 106.6h0M226.8 103.8h0M227.0 106.0h0M227.2 105.1h0M227.4 103.0h0M227.6 106.0h0M227.8 102.6h0M228.0 107.0h0M228.2 104.8h0M228.5 102.9h0M228.7 101.5h0M228.9 107.2h0M229.1 106.9h0M229.3 102.2h0M229.5 107.1h0M229.7 104.5h0M229.9 103.8h0M230.2 103.9h0M230.4 103.6h0M230.6 106.4h0M230.8 104.1h0M231.0 100.7h0M231.2 107.3h0M231.4 105.2h0M231.6 101.8h0M231.8 100.7h0M232.1 101.9h0M232.3 103.5h0M232.5 104.0h0M232.7 103.7h0M232.9 102.2h0M233.1 101.8h0M233.3 104.5h0M233.5 102.8h0M233.8 106.7h0M234.0 101.5h0M234.2 104.1h0M234.4 102.8h0M234.6 101.4h0M234.8 104.9h0M235.0 102.7h0M235.2 101.0h0M235.5 101.8h0M235.7 104.0h0M235.9 100.2h0M236.1 104.5h0M236.3 103.3h0M236.5 101.6h0M236.7 101.0h0M236.9 104.9h0M237.2 102.9h0M237.4 102.1h0M237.6 104.8h0M237.8 104.2h0M238.0 100.0h0M238.2 101.2h0M238.4 101.1h0M238.6 100.7h0M238.9 98.8h0M239.1 102.8h0M239.3 101.3h0M239.5 101.3h0M239.7 103.4h0M239.9 100.0h0M240.1 100.8h0M240.3 101.3h0M240.6 100.0h0M240.8 100.5h0M241.0 101.9h0M241.2 100.5h0M241.4 102.7h0M241.6 99.2h0M241.8 100.7h0M242.0 97.9h0M242.3 100.0h0M242.5 99.0h0M242.7 102.4h0M242.9 101.3h0M243.1 100.8h0M243.3 103.0h0M243.5 102.3h0M243.7 101.0h0M244.0 98.5h0M244.2 97.2h0M244.4 99.5h0M244.6 98.9h0M244.8 98.3h0M245.0 98.9h0M245.2 96.5h0M245.4 101.7h0M245.7 97.2h0M245.9 97.9h0M246.1 100.0h0M246.3 96.2h0M246.5 100.4h0M246.7 100.4h0M246.9 98.2h0M247.1 96.9h0M247.4 97.8h0M247.6 95.4h0M247.8 100.8h0M248.0 98.5h0M248.2 97.1h0M248.4 96.7h0M248.6 99.2h0M248.8 100.7h0M249.1 95.9h0M249.3 97.6h0M249.5 95.0h0M249.7 99.0h0M249.9 98.1h0M250.1 101.6h0M250.3 97.5h0M250.5 96.9h0M250.8 96.4h0M251.0 99.0h0M251.2 94.7h0M251.4 98.6h0M251.6 97.7h0M251.8 96.4h0M252.0 95.6h0M252.2 98.9h0M252.5 100.2h0M252.7 96.2h0M252.9 97.8h0M253.1 99.8h0M253.3 95.7h0M253.5 96.3h0M253.7 94.6h0M253.9 96.3h0M254.2 96.4h0M254.4 95.7h0M254.6 95.1h0M254.8 93.6h0M255.0 93.5h0M255.2 94.5h0M255.4 97.2h0M255.6 95.2h0M255.9 94.5h0M256.1 97.1h0M256.3 96.8h0M256.5 94.5h0M256.7 94.7h0M256.9 96.8h0M257.1 96.2h0M257.3 94.1h0M257.6 95.9h0M257.8 95.4h0M258.0 97.3h0M258.2 93.8h0M258.4 96.8h0M258.6 95.9h0M258.8 93.4h0M259.0 96.9h0M259.3 96.6h0M259.5 92.7h0M259.7 98.3h0M259.9 92.9h0M260.1 93.2h0M260.3 94.2h0M260.5 96.0h0M260.7 95.6h0M261.0 94.4h0M261.2 96.8h0M261.4 95.1h0M261.6 96.8h0M261.8 99.2h0M262.0 94.6h0M262.2 89.8h0M262.4 93.4h0M262.7 92.2h0M262.9 94.2h0M263.1 94.1h0M263.3 91.8h0M263.5 91.9h0M263.7 93.3h0M263.9 93.4h0M264.1 89.2h0M264.4 95.3h0M264.6 93.6h0M264.8 93.5h0M265.0 94.0h0M265.2 91.6h0M265.4 93.3h0M265.6 95.1h0M265.8 95.1h0M266.1 94.5h0M266.3 92.7h0M266.5 91.7h0M266.7 95.3h0M266.9 93.9h0M267.1 92.2h0M267.3 89.1h0M267.5 91.3h0M267.8 89.4h0M268.0 94.9h0M268.2 93.0h0M268.4 91.3h0M268.6 92.1h0M268.8 97.1h0M269.0 94.6h0M269.2 90.1h0M269.5 92.1h0M269.7 90.2h0M269.9 89.2h0M270.1 92.5h0M270.3 96.4h0M270.5 94.9h0M270.7 92.2h0M270.9 91.4h0M271.2 92.3h0M271.4 93.8h0M271.6 89.3h0M271.8 88.6h0M272.0 95.1h0M272.2 92.3h0M272.4 94.6h0M272.6 92.1h0M272.9 94.2h0M273.1 90.5h0M273.3 92.4h0M273.5 94.2h0M273.7 93.3h0M273.9 90.6h0M274.1 93.0h0M274.3 90.2h0M274.6 88.8h0M274.8 92.2h0M275.0 93.7h0M275.2 92.7h0M275.4 88.9h0M275.6 92.6h0M275.8 92.3h0M276.0 90.2h0M276.3 86.6h0M276.5 92.7h0M276.7 92.5h0M276.9 91.7h0M277.1 87.7h0M277.3 88.1h0M277.5 92.6h0M277.7 92.1h0M278.0 91.6h0M278.2 90.2h0M278.4 91.3h0M278.6 89.6h0M278.8 90.0h0M279.0 88.9h0M279.2 90.9h0M279.4 89.7h0M279.7 92.1h0M279.9 91.6h0M280.1 88.9h0M280.3 93.6h0M280.5 88.2h0M280.7 91.0h0M280.9 92.1h0M281.1 92.4h0M281.4 86.2h0M281.6 91.9h0M281.8 92.2h0M282.0 92.6h0M282.2 86.0h0M282.4 88.7h0M282.6 89.7h0M282.8 89.1h0M283.1 92.2h0M283.3 88.6h0M283.5 92.0h0M283.7 90.7h0M283.9 87.1h0M284.1 87.9h0M284.3 88.8h0M284.5 89.8h0M284.8 91.4h0M285.0 89.2h0M285.2 91.1h0M285.4 86.6h0M285.6 84.0h0M285.8 88.8h0M286.0 90.2h0M286.2 88.7h0M286.5 87.5h0M286.7 90.0h0M286.9 92.7h0M287.1 89.0h0M287.3 87.9h0M287.5 87.6h0M287.7 92.7h0M287.9 89.0h0M288.2 90.2h0M288.4 91.2h0M288.6 96.6h0M288.8 87.3h0M289.0 90.6h0M289.2 90.4h0M289.4 89.7h0M289.6 92.4h0M289.9 87.8h0M290.1 88.6h0M290.3 87.8h0M290.5 90.1h0M290.7 87.5h0M290.9 89.3h0M291.1 86.6h0M291.3 88.4h0M291.6 87.9h0M291.8 88.3h0M292.0 88.7h0M292.2 88.1h0M292.4 88.0h0M292.6 84.7h0M292.8 86.9h0M293.0 87.2h0M293.3 87.9h0M293.5 86.8h0M293.7 90.0h0M293.9 86.6h0M294.1 89.1h0M294.3 90.3h0M294.5 91.1h0M294.7 90.2h0M295.0 89.2h0M295.2 85.9h0M295.4 90.3h0M295.6 90.1h0M295.8 89.5h0M296.0 89.4h0M296.2 88.0h0M296.4 87.0h0M296.7 89.8h0M296.9 90.1h0M297.1 85.9h0M297.3 89.4h0M297.5 88.2h0M297.7 89.3h0M297.9 88.2h0M298.1 89.7h0M298.4 89.5h0M298.6 89.2h0M298.8 85.1h0M299.0 89.0h0M299.2 87.6h0M299.4 85.5h0M299.6 88.7h0M299.8 85.0h0M300.1 89.0h0M300.3 90.4h0M300.5 86.5h0M300.7 89.0h0M300.9 91.9h0M301.1 88.4h0M301.3 84.8h0M301.5 88.3h0M301.8 87.4h0M302.0 88.5h0M302.2 87.2h0M302.4 89.1h0M302.6 87.6h0M302.8 88.3h0M303.0 89.5h0M303.2 87.3h0M303.5 88.7h0M303.7 87.4h0M303.9 87.9h0M304.1 86.0h0M304.3 88.2h0M304.5 89.0h0M304.7 90.3h0M304.9 88.2h0M305.2 87.5h0M305.4 84.8h0M305.6 87.3h0M305.8 89.0h0M306.0 85.8h0M306.2 83.4h0M306.4 86.9h0M306.6 85.4h0M306.9 89.9h0M307.1 86.4h0M307.3 85.8h0M307.5 85.3h0M307.7 86.8h0M307.9 85.4h0M308.1 84.7h0M308.3 86.2h0M308.6 84.9h0M308.8 88.6h0M309.0 84.2h0M309.2 86.1h0M309.4 85.0h0M309.6 83.7h0M309.8 89.1h0M310.0 82.4h0M310.3 88.6h0M310.5 83.5h0M310.7 86.2h0M310.9 90.0h0M311.1 82.2h0M311.3 83.5h0M311.5 88.2h0M311.7 86.2h0M312.0 84.9h0M312.2 85.7h0M312.4 84.1h0M312.6 85.9h0M312.8 88.3h0M313.0 85.0h0M313.2 85.9h0M313.4 87.7h0M313.7 89.1h0M313.9 84.5h0M314.1 86.0h0M314.3 84.5h0M314.5 84.3h0M314.7 84.7h0M314.9 84.3h0M315.1 82.3h0M315.4 81.8h0M315.6 84.0h0M315.8 85.5h0M316.0 87.4h0M316.2 84.3h0M316.4 84.9h0M316.6 86.3h0M316.8 86.4h0M317.1 84.9h0M317.3 85.0h0M317.5 88.3h0M317.7 84.4h0M317.9 84.1h0M318.1 82.1h0M318.3 85.7h0M318.5 84.4h0M318.8 88.2h0M319.0 84.2h0M319.2 86.2h0M319.4 86.4h0M319.6 87.6h0M319.8 82.4h0M320.0 87.4h0M320.2 84.7h0M320.5 84.4h0M320.7 84.0h0M320.9 83.9h0M321.1 83.9h0M321.3 80.4h0M321.5 85.4h0M321.7 84.6h0M321.9 82.7h0M322.2 84.3h0M322.4 88.4h0M322.6 85.0h0M322.8 83.6h0M323.0 87.3h0" stroke="#808000" stroke-width="1.60" stroke-linecap="round" fill="none"/>
<path d="M47.2 218.0h0M48.3 218.1h0M48.9 216.7h0M49.1 216.3h0M49.3 217.9h0M49.5 219.3h0M49.8 219.8h0M50.0 218.6h0M50.2 218.8h0M50.4 218.6h0M50.6 218.9h0M50.8 219.7h0M51.0 219.4h0M51.2 218.3h0M51.5 218.8h0M51.7 217.4h0M51.9 219.6h0M52.1 217.1h0M52.5 217.8h0M52.7 218.2h0M52.9 216.2h0M53.2 216.7h0M53.4 217.5h0M53.6 217.0h0M53.8 215.7h0M54.0 214.5h0M54.2 216.4h0M54.4 216.4h0M54.6 216.9h0M54.9 217.9h0M55.1 214.8h0M55.3 211.6h0M55.5 214.7h0M55.7 211.4h0M55.9 212.1h0M56.1 216.0h0M56.3 214.9h0M56.6 212.5h0M56.8 212.3h0M57.0 213.0h0M57.2 209.8h0M57.4 213.6h0M57.6 211.9h0M57.8 215.6h0M58.0 210.2h0M58.3 213.6h0M58.5 210.4h0M58.7 213.2h0M58.9 209.5h0M59.1 212.3h0M59.3 210.0h0M59.5 209.1h0M59.7 210.1h0M60.0 211.0h0M60.2 210.7h0M60.4 212.5h0M60.6 211.0h0M60.8 204.6h0M61.0 208.4h0M61.2 205.3h0M61.4 208.0h0M61.7 209.6h0M61.9 205.8h0M62.1 205.9h0M62.3 208.1h0M62.5 207.1h0M62.7 210.2h0M62.9 207.8h0M63.1 207.9h0M63.4 209.9h0M63.6 205.7h0M63.8 206.4h0M64.0 204.4h0M64.2 206.5h0M64.4 207.7h0M64.6 208.1h0M64.8 205.4h0M65.1 204.0h0M65.3 203.7h0M65.5 202.4h0M65.7 205.0h0M65.9 207.0h0M66.1 200.2h0M66.3 200.4h0M66.5 206.6h0M66.8 201.1h0M67.0 204.4h0M67.2 201.4h0M67.4 204.9h0M67.6 205.8h0M67.8 203.5h0M68.0 204.6h0M68.2 203.0h0M68.5 203.8h0M68.7 205.9h0M68.9 204.5h0M69.1 201.2h0M69.3 200.8h0M69.5 201.7h0M69.7 201.6h0M69.9 202.0h0M70.2 200.6h0M70.4 202.7h0M70.6 201.5h0M70.8 202.0h0M71.0 201.2h0M71.2 202.2h0M71.4 198.8h0M71.6 203.6h0M71.9 201.3h0M72.1 201.3h0M72.3 201.5h0M72.5 202.2h0M72.7 201.5h0M72.9 200.4h0M73.1 199.5h0M73.3 196.8h0M73.6 200.0h0M73.8 198.9h0M74.0 198.8h0M74.2 203.5h0M74.4 195.7h0M74.6 199.1h0M74.8 201.0h0M75.0 200.4h0M75.3 200.8h0M75.5 196.2h0M75.7 196.6h0M75.9 199.3h0M76.1 197.5h0M76.3 201.0h0M76.5 198.2h0M76.7 198.0h0M77.0 198.3h0M77.2 196.9h0M77.4 197.5h0M77.6 196.0h0M77.8 197.0h0M78.0 196.0h0M78.2 197.3h0M78.4 194.1h0M78.7 193.9h0M78.9 197.2h0M79.1 196.7h0M79.3 194.4h0M79.5 195.6h0M79.7 194.0h0M79.9 199.5h0M80.1 192.9h0M80.4 198.6h0M80.6 193.9h0M80.8 196.0h0M81.0 194.7h0M81.2 194.4h0M81.4 196.6h0M81.6 196.3h0M81.8 194.1h0M82.1 192.9h0M82.3 198.2h0M82.5 196.8h0M82.7 194.4h0M82.9 193.5h0M83.1 194.5h0M83.3 194.0h0M83.5 195.8h0M83.8 191.8h0M84.0 193.5h0M84.2 191.9h0M84.4 195.6h0M84.6 196.3h0M84.8 192.8h0M85.0 193.8h0M85.2 195.2h0M85.5 192.0h0M85.7 190.8h0M85.9 194.2h0M86.1 193.1h0M86.3 191.7h0M86.5 194.6h0M86.7 192.2h0M86.9 188.5h0M87.2 192.2h0M87.4 191.3h0M87.6 194.7h0M87.8 191.1h0M88.0 190.7h0M88.2 191.7h0M88.4 191.2h0M88.6 188.1h0M88.9 190.7h0M89.1 189.8h0M89.3 192.7h0M89.5 194.4h0M89.7 187.9h0M89.9 188.0h0M90.1 188.1h0M90.3 188.3h0M90.6 188.1h0M90.8 189.3h0M91.0 191.0h0M91.2 186.6h0M91.4 186.0h0M91.6 185.3h0M91.8 190.5h0M92.0 190.7h0M92.3 185.4h0M92.5 185.1h0M92.7 188.1h0M92.9 189.7h0M93.1 189.4h0M93.3 187.8h0M93.5 188.5h0M93.7 187.7h0M94.0 186.0h0M94.2 190.3h0M94.4 186.7h0M94.6 184.6h0M94.8 185.6h0M95.0 183.5h0M95.2 186.1h0M95.4 187.9h0M95.7 183.5h0M95.9 187.7h0M96.1 189.3h0M96.3 186.0h0M96.5 183.1h0M96.7 183.5h0M96.9 184.3h0M97.1 182.5h0M97.4 182.4h0M97.6 184.0h0M97.8 184.0h0M98.0 185.2h0M98.2 181.8h0M98.4 187.2h0M98.6 185.6h0M98.8 185.2h0M99.1 182.2h0M99.3 186.4h0M99.5 182.5h0M99.7 186.2h0M99.9 184.7h0M100.1 181.0h0M100.3 181.7h0M100.5 185.7h0M100.8 184.0h0M101.0 181.7h0M101.2 182.2h0M101.4 182.1h0M101.6 180.2h0M101.8 181.0h0M102.0 180.1h0M102.2 180.3h0M102.5 181.8h0M102.7 179.1h0M102.9 181.9h0M103.1 180.7h0M103.3 181.7h0M103.5 181.8h0M103.7 182.2h0M103.9 181.0h0M104.2 181.0h0M104.4 179.2h0M104.6 180.4h0M104.8 177.6h0M105.0 178.6h0M105.2 180.2h0M105.4 178.6h0M105.6 179.4h0M105.9 176.5h0M106.1 180.7h0M106.3 177.1h0M106.5 178.6h0M106.7 177.7h0M106.9 179.3h0M107.1 176.8h0M107.3 175.5h0M107.6 173.7h0M107.8 176.4h0M108.0 174.7h0M108.2 177.6h0M108.4 179.1h0M108.6 172.3h0M108.8 173.8h0M109.0 176.5h0M109.3 178.0h0M109.5 176.2h0M109.7 176.1h0M109.9 176.2h0M110.1 176.2h0M110.3 178.0h0M110.5 175.9h0M110.7 172.4h0M111.0 173.6h0M111.2 174.7h0M111.4 172.7h0M111.6 173.5h0M111.8 172.9h0M112.0 172.4h0M112.2 174.7h0M112.4 172.6h0M112.7 171.1h0M112.9 171.7h0M113.1 172.8h0M113.3 176.4h0M113.5 172.9h0M113.7 174.9h0M113.9 173.0h0M114.1 168.0h0M114.4 172.4h0M114.6 170.0h0M114.8 168.9h0M115.0 169.3h0M115.2 174.3h0M115.4 168.0h0M115.6 169.6h0M115.8 172.6h0M116.1 171.6h0M116.3 167.1h0M116.5 169.8h0M116.7 168.9h0M116.9 169.3h0M117.1 170.8h0M117.3 168.3h0M117.5 168.6h0M117.8 171.6h0M118.0 165.4h0M118.2 167.9h0M118.4 169.3h0M118.6 166.0h0M118.8 167.0h0M119.0 165.5h0M119.2 168.0h0M119.5 166.4h0M119.7 168.8h0M119.9 169.1h0M120.1 167.1h0M120.3 166.2h0M120.5 167.2h0M120.7 166.6h0M120.9 164.2h0M121.2 168.1h0M121.4 166.4h0M121.6 167.3h0M121.8 163.2h0M122.0 167.1h0M122.2 169.2h0M122.4 166.3h0M122.6 162.4h0M122.9 164.9h0M123.1 164.6h0M123.3 164.9h0M123.5 163.9h0M123.7 165.1h0M123.9 163.2h0M124.1 164.3h0M124.3 162.4h0M124.6 163.7h0M124.8 165.1h0M125.0 162.3h0M125.2 164.2h0M125.4 161.2h0M125.6 162.0h0M125.8 160.6h0M126.0 164.6h0M126.3 160.8h0M126.5 164.2h0M126.7 159.2h0M126.9 161.4h0M127.1 163.2h0M127.3 162.7h0M127.5 159.4h0M127.7 158.8h0M128.0 162.5h0M128.2 158.5h0M128.4 161.6h0M128.6 159.5h0M128.8 160.2h0M129.0 164.3h0M129.2 162.8h0M129.4 161.3h0M129.7 157.1h0M129.9 160.0h0M130.1 159.4h0M130.3 159.0h0M130.5 161.4h0M130.7 155.7h0M130.9 159.2h0M131.1 158.7h0M131.4 157.0h0M131.6 161.3h0M131.8 155.7h0M132.0 157.9h0M132.2 157.9h0M132.4 153.6h0M132.6 154.8h0M132.8 155.5h0M133.1 158.5h0M133.3 158.7h0M133.5 157.9h0M133.7 157.1h0M133.9 152.5h0M134.1 156.7h0M134.3 155.2h0M134.5 158.1h0M134.8 158.3h0M135.0 159.8h0M135.2 156.8h0M135.4 156.9h0M135.6 153.3h0M135.8 155.2h0M136.0 152.6h0M136.2 156.4h0M136.5 152.4h0M136.7 154.0h0M136.9 152.8h0M137.1 153.3h0M137.3 154.8h0M137.5 152.8h0M137.7 154.0h0M137.9 151.7h0M138.2 155.9h0M138.4 152.0h0M138.6 154.9h0M138.8 156.8h0M139.0 148.3h0M139.2 150.7h0M139.4 152.0h0M139.6 154.4h0M139.8 151.2h0M140.1 152.6h0M140.3 150.4h0M140.5 152.6h0M140.7 149.2h0M140.9 152.8h0M141.1 145.7h0M141.3 147.5h0M141.5 154.2h0M141.8 151.0h0M142.0 148.9h0M142.2 154.4h0M142.4 152.1h0M142.6 152.1h0M142.8 149.1h0M143.0 150.9h0M143.2 150.5h0M143.5 146.4h0M143.7 150.3h0M143.9 148.7h0M144.1 151.3h0M144.3 151.1h0M144.5 147.4h0M144.7 147.3h0M144.9 148.6h0M145.2 149.3h0M145.4 147.2h0M145.6 147.5h0M145.8 148.7h0M146.0 148.2h0M146.2 149.4h0M146.4 147.5h0M146.6 145.3h0M146.9 143.5h0M147.1 148.1h0M147.3 145.8h0M147.5 145.6h0M147.7 145.6h0M147.9 143.1h0M148.1 145.1h0M148.3 140.9h0M148.6 144.8h0M148.8 143.7h0M149.0 148.6h0M149.2 145.9h0M149.4 144.6h0M149.6 145.1h0M149.8 146.1h0M150.0 143.2h0M150.3 144.0h0M150.5 143.7h0M150.7 148.8h0M150.9 144.2h0M151.1 140.4h0M151.3 145.3h0M151.5 148.5h0M151.7 141.9h0M152.0 149.9h0M152.2 143.3h0M152.4 145.2h0M152.6 144.3h0M152.8 142.6h0M153.0 140.7h0M153.2 140.9h0M153.4 138.8h0M153.7 144.8h0M153.9 140.4h0M154.1 143.1h0M154.3 142.9h0M154.5 141.0h0M154.7 142.2h0M154.9 141.9h0M155.1 141.0h0M155.4 141.9h0M155.6 141.8h0M155.8 139.7h0M156.0 139.1h0M156.2 139.9h0M156.4 141.6h0M156.6 143.8h0M156.8 143.9h0M157.1 141.6h0M157.3 142.7h0M157.5 141.1h0M157.7 142.8h0M157.9 140.9h0M158.1 139.0h0M158.3 140.0h0M158.5 140.4h0M158.8 143.8h0M159.0 138.0h0M159.2 140.1h0M159.4 138.9h0M159.6 141.7h0M159.8 143.2h0M160.0 139.2h0M160.2 134.5h0M160.5 140.7h0M160.7 140.6h0M160.9 136.3h0M161.1 138.9h0M161.3 139.1h0M161.5 134.8h0M161.7 140.3h0M161.9 139.8h0M162.2 139.3h0M162.4 136.8h0M162.6 137.4h0M162.8 137.4h0M163.0 139.4h0M163.2 136.6h0M163.4 141.1h0M163.6 139.0h0M163.9 134.1h0M164.1 141.2h0M164.3 138.3h0M164.5 136.9h0M164.7 138.0h0M164.9 134.3h0M165.1 138.0h0M165.3 132.9h0M165.6 135.5h0M165.8 139.9h0M166.0 139.6h0M166.2 136.5h0M166.4 135.3h0M166.6 138.7h0M166.8 136.8h0M167.0 137.2h0M167.3 137.9h0M167.5 134.6h0M167.7 138.0h0M167.9 132.5h0M168.1 139.1h0M168.3 133.3h0M168.5 134.9h0M168.7 134.8h0M169.0 137.3h0M169.2 137.2h0M169.4 136.4h0M169.6 136.7h0M169.8 136.4h0M170.0 135.3h0M170.2 131.8h0M170.4 130.9h0M170.7 130.8h0M170.9 135.0h0M171.1 134.5h0M171.3 134.6h0M171.5 135.2h0M171.7 134.2h0M171.9 132.7h0M172.1 131.7h0M172.4 130.8h0M172.6 136.6h0M172.8 135.9h0M173.0 131.5h0M173.2 133.5h0M173.4 134.7h0M173.6 136.8h0M173.8 132.6h0M174.1 133.9h0M174.3 135.7h0M174.5 130.1h0M174.7 131.9h0M174.9 133.1h0M175.1 131.8h0M175.3 137.0h0M175.5 134.5h0M175.8 133.2h0M176.0 130.9h0M176.2 134.3h0M176.4 133.7h0M176.6 131.5h0M176.8 131.5h0M177.0 129.5h0M177.2 132.0h0M177.5 133.7h0M177.7 133.8h0M177.9 133.0h0M178.1 133.3h0M178.3 130.6h0M178.5 130.7h0M178.7 133.8h0M178.9 132.3h0M179.2 129.8h0M179.4 132.2h0M179.6 132.7h0M179.8 132.4h0M180.0 131.2h0M180.2 129.9h0M180.4 131.5h0M180.6 133.9h0M180.9 130.9h0M181.1 129.2h0M181.3 131.0h0M181.5 128.0h0M181.7 130.7h0M181.9 129.6h0M182.1 131.9h0M182.3 130.2h0M182.6 131.9h0M182.8 134.1h0M183.0 129.3h0M183.2 128.1h0M183.4 130.4h0M183.6 129.3h0M183.8 129.7h0M184.0 128.2h0M184.3 130.3h0M184.5 129.3h0M184.7 125.0h0M184.9 128.5h0M185.1 129.5h0M185.3 131.0h0M185.5 127.7h0M185.7 127.2h0M186.0 130.7h0M186.2 127.4h0M186.4 128.6h0M186.6 129.2h0M186.8 129.7h0M187.0 128.2h0M187.2 126.0h0M187.4 129.9h0M187.7 127.2h0M187.9 126.9h0M188.1 131.6h0M188.3 129.4h0M188.5 125.7h0M188.7 126.7h0M188.9 127.0h0M189.1 126.0h0M189.4 123.8h0M189.6 128.8h0M189.8 128.7h0M190.0 127.6h0M190.2 126.3h0M190.4 127.4h0M190.6 128.1h0M190.8 124.9h0M191.1 126.1h0M191.3 125.6h0M191.5 127.9h0M191.7 127.0h0M191.9 124.0h0M192.1 125.2h0M192.3 129.6h0M192.5 124.4h0M192.8 126.5h0M193.0 124.9h0M193.2 128.4h0M193.4 125.9h0M193.6 125.1h0M193.8 123.6h0M194.0 125.3h0M194.2 127.2h0M194.5 126.9h0M194.7 123.1h0M194.9 128.4h0M195.1 125.0h0M195.3 123.4h0M195.5 125.5h0M195.7 124.1h0M195.9 124.1h0M196.2 123.9h0M196.4 124.9h0M196.6 124.0h0M196.8 121.7h0M197.0 125.8h0M197.2 123.8h0M197.4 127.0h0M197.6 125.7h0M197.9 125.8h0M198.1 124.9h0M198.3 126.9h0M198.5 123.8h0M198.7 122.5h0M198.9 124.9h0M199.1 119.2h0M199.3 123.5h0M199.6 124.5h0M199.8 123.3h0M200.0 126.4h0M200.2 125.3h0M200.4 124.1h0M200.6 123.1h0M200.8 125.8h0M201.0 122.5h0M201.3 122.9h0M201.5 125.0h0M201.7 124.7h0M201.9 127.3h0M202.1 123.1h0M202.3 119.9h0M202.5 124.6h0M202.7 125.7h0M203.0 123.0h0M203.2 126.1h0M203.4 126.5h0M203.6 121.9h0M203.8 122.2h0M204.0 120.7h0M204.2 124.0h0M204.4 124.3h0M204.7 124.0h0M204.9 120.6h0M205.1 121.4h0M205.3 120.1h0M205.5 119.7h0M205.7 120.2h0M205.9 119.7h0M206.1 122.3h0M206.4 123.3h0M206.6 123.7h0M206.8 122.4h0M207.0 121.2h0M207.2 122.4h0M207.4 123.4h0M207.6 121.7h0M207.8 122.3h0M208.1 121.6h0M208.3 121.2h0M208.5 122.2h0M208.7 120.0h0M208.9 124.0h0M209.1 119.1h0M209.3 122.8h0M209.5 119.4h0M209.8 124.7h0M210.0 123.4h0M210.2 120.3h0M210.4 120.9h0M210.6 119.6h0M210.8 121.5h0M211.0 122.4h0M211.2 126.3h0M211.5 119.0h0M211.7 123.8h0M211.9 120.4h0M212.1 121.9h0M212.3 123.0h0M212.5 122.3h0M212.7 122.1h0M212.9 120.9h0M213.2 121.2h0M213.4 121.4h0M213.6 123.3h0M213.8 118.4h0M214.0 120.1h0M214.2 118.7h0M214.4 119.2h0M214.6 119.4h0M214.9 122.9h0M215.1 124.8h0M215.3 123.3h0M215.5 118.5h0M215.7 120.8h0M215.9 118.5h0M216.1 121.4h0M216.3 122.9h0M216.6 121.6h0M216.8 122.1h0M217.0 120.2h0M217.2 116.7h0M217.4 116.7h0M217.6 120.1h0M217.8 121.3h0M218.0 122.6h0M218.3 119.5h0M218.5 120.3h0M218.7 120.5h0M218.9 122.0h0M219.1 119.9h0M219.3 117.9h0M219.5 121.9h0M219.7 120.6h0M220.0 120.5h0M220.2 117.4h0M220.4 119.7h0M220.6 116.5h0M220.8 115.9h0M221.0 119.1h0M221.2 118.7h0M221.4 120.5h0M221.7 122.1h0M221.9 119.3h0M222.1 122.7h0M222.3 118.2h0M222.5 120.7h0M222.7 116.9h0M222.9 119.4h0M223.1 118.5h0M223.4 118.7h0M223.6 120.1h0M223.8 115.5h0M224.0 119.1h0M224.2 117.4h0M224.4 119.1h0M224.6 119.5h0M224.8 118.1h0M225.1 118.0h0M225.3 116.5h0M225.5 119.6h0M225.7 117.3h0M225.9 119.3h0M226.1 115.8h0M226.3 121.0h0M226.5 116.5h0M226.8 120.5h0M227.0 117.5h0M227.2 119.2h0M227.4 123.7h0M227.6 119.4h0M227.8 118.1h0M228.0 120.4h0M228.2 119.2h0M228.5 119.2h0M228.7 121.0h0M228.9 116.6h0M229.1 120.2h0M229.3 117.9h0M229.5 115.0h0M229.7 118.5h0M229.9 117.2h0M230.2 120.7h0M230.4 116.6h0M230.6 117.6h0M230.8 117.9h0M231.0 113.9h0M231.2 118.3h0M231.4 115.4h0M231.6 119.8h0M231.8 120.3h0M232.1 117.1h0M232.3 114.2h0M232.5 117.4h0M232.7 117.3h0M232.9 118.3h0M233.1 116.4h0M233.3 114.7h0M233.5 116.6h0M233.8 115.1h0M234.0 120.0h0M234.2 115.4h0M234.4 115.4h0M234.6 116.5h0M234.8 114.3h0M235.0 115.7h0M235.2 116.2h0M235.5 115.5h0M235.7 115.9h0M235.9 118.6h0M236.1 117.1h0M236.3 113.8h0M236.5 115.4h0M236.7 117.6h0M236.9 114.9h0M237.2 116.2h0M237.4 116.0h0M237.6 117.0h0M237.8 115.6h0M238.0 115.7h0M238.2 114.3h0M238.4 116.5h0M238.6 114.1h0M238.9 119.0h0M239.1 115.7h0M239.3 115.3h0M239.5 117.1h0M239.7 115.5h0M239.9 115.7h0M240.1 115.4h0M240.3 114.2h0M240.6 113.8h0M240.8 114.1h0M241.0 117.5h0M241.2 114.2h0M241.4 114.6h0M241.6 114.4h0M241.8 116.5h0M242.0 118.9h0M242.3 113.5h0M242.5 116.1h0M242.7 115.3h0M242.9 114.5h0M243.1 115.9h0M243.3 112.6h0M243.5 116.5h0M243.7 115.3h0M244.0 113.0h0M244.2 117.8h0M244.4 116.4h0M244.6 116.9h0M244.8 112.0h0M245.0 114.2h0M245.2 113.7h0M245.4 115.8h0M245.7 117.1h0M245.9 111.0h0M246.1 114.5h0M246.3 114.2h0M246.5 116.3h0M246.7 114.3h0M246.9 112.0h0M247.1 112.6h0M247.4 112.4h0M247.6 112.8h0M247.8 114.3h0M248.0 113.3h0M248.2 114.6h0M248.4 111.3h0M248.6 118.3h0M248.8 116.3h0M249.1 115.3h0M249.3 111.5h0M249.5 109.9h0M249.7 112.3h0M249.9 113.4h0M250.1 117.6h0M250.3 116.1h0M250.5 112.7h0M250.8 115.9h0M251.0 115.9h0M251.2 113.6h0M251.4 115.8h0M251.6 114.1h0M251.8 112.3h0M252.0 111.3h0M252.2 113.1h0M252.5 115.2h0M252.7 110.8h0M252.9 110.3h0M253.1 114.2h0M253.3 108.2h0M253.5 112.4h0M253.7 112.3h0M253.9 114.4h0M254.2 116.4h0M254.4 110.3h0M254.6 111.0h0M254.8 117.0h0M255.0 112.3h0M255.2 112.6h0M255.4 113.2h0M255.6 114.6h0M255.9 115.1h0M256.1 112.8h0M256.3 112.0h0M256.5 112.5h0M256.7 113.1h0M256.9 114.9h0M257.1 112.7h0M257.3 115.7h0M257.6 110.8h0M257.8 113.3h0M258.0 115.5h0M258.2 114.6h0M258.4 112.8h0M258.6 110.6h0M258.8 110.8h0M259.0 111.8h0M259.3 112.7h0M259.5 111.6h0M259.7 109.4h0M259.9 110.7h0M260.1 112.9h0M260.3 110.2h0M260.5 109.4h0M260.7 111.2h0M261.0 108.8h0M261.2 110.8h0M261.4 118.4h0M261.6 111.9h0M261.8 111.2h0M262.0 110.7h0M262.2 109.5h0M262.4 108.3h0M262.7 111.6h0M262.9 111.2h0M263.1 114.4h0M263.3 108.6h0M263.5 112.4h0M263.7 114.1h0M263.9 108.0h0M264.1 112.8h0M264.4 108.6h0M264.6 112.5h0M264.8 114.2h0M265.0 111.5h0M265.2 112.0h0M265.4 110.2h0M265.6 111.9h0M265.8 113.5h0M266.1 111.0h0M266.3 111.1h0M266.5 112.1h0M266.7 112.8h0M266.9 108.3h0M267.1 111.4h0M267.3 110.0h0M267.5 112.2h0M267.8 113.1h0M268.0 111.8h0M268.2 113.6h0M268.4 109.4h0M268.6 110.4h0M268.8 109.3h0M269.0 111.2h0M269.2 111.3h0M269.5 110.7h0M269.7 108.8h0M269.9 110.9h0M270.1 110.2h0M270.3 112.1h0M270.5 110.5h0M270.7 113.1h0M270.9 111.4h0M271.2 107.5h0M271.4 110.6h0M271.6 108.3h0M271.8 112.7h0M272.0 113.5h0M272.2 110.8h0M272.4 111.7h0M272.6 108.2h0M272.9 106.7h0M273.1 109.8h0M273.3 110.3h0M273.5 108.0h0M273.7 110.9h0M273.9 111.3h0M274.1 111.9h0M274.3 113.5h0M274.6 112.2h0M274.8 110.0h0M275.0 110.8h0M275.2 111.7h0M275.4 108.7h0M275.6 113.0h0M275.8 112.2h0M276.0 110.1h0M276.3 109.4h0M276.5 117.5h0M276.7 112.1h0M276.9 112.2h0M277.1 113.8h0M277.3 112.3h0M277.5 110.8h0M277.7 111.7h0M278.0 108.7h0M278.2 111.7h0M278.4 107.5h0M278.6 111.1h0M278.8 111.4h0M279.0 107.5h0M279.2 113.9h0M279.4 108.2h0M279.7 112.9h0M279.9 109.3h0M280.1 110.8h0M280.3 109.0h0M280.5 114.8h0M280.7 112.1h0M280.9 113.5h0M281.1 111.6h0M281.4 111.5h0M281.6 110.4h0M281.8 109.7h0M282.0 111.3h0M282.2 110.4h0M282.4 109.8h0M282.6 107.5h0M282.8 109.5h0M283.1 111.2h0M283.3 109.2h0M283.5 110.7h0M283.7 109.8h0M283.9 108.1h0M284.1 108.3h0M284.3 108.6h0M284.5 109.4h0M284.8 109.5h0M285.0 112.0h0M285.2 107.9h0M285.4 106.1h0M285.6 111.1h0M285.8 109.0h0M286.0 109.6h0M286.2 114.5h0M286.5 112.5h0M286.7 110.9h0M286.9 111.5h0M287.1 110.0h0M287.3 111.5h0M287.5 108.6h0M287.7 108.4h0M287.9 108.8h0M288.2 112.6h0M288.4 112.5h0M288.6 108.5h0M288.8 111.8h0M289.0 109.3h0M289.2 111.6h0M289.4 109.0h0M289.6 111.3h0M289.9 109.3h0M290.1 109.0h0M290.3 109.5h0M290.5 109.8h0M290.7 108.4h0M290.9 106.9h0M291.1 112.6h0M291.3 108.7h0M291.6 106.0h0M291.8 105.2h0M292.0 104.2h0M292.2 108.2h0M292.4 111.8h0M292.6 106.3h0M292.8 108.7h0M293.0 105.9h0M293.3 111.3h0M293.5 109.9h0M293.7 109.8h0M293.9 111.7h0M294.1 112.2h0M294.3 111.1h0M294.5 102.1h0M294.7 106.7h0M295.0 107.2h0M295.2 105.9h0M295.4 112.4h0M295.6 108.7h0M295.8 109.3h0M296.0 109.4h0M296.2 112.7h0M296.4 107.9h0M296.7 111.2h0M296.9 109.5h0M297.1 108.7h0M297.3 105.4h0M297.5 110.6h0M297.7 107.5h0M297.9 109.7h0M298.1 109.3h0M298.4 109.0h0M298.6 110.9h0M298.8 107.5h0M299.0 109.1h0M299.2 109.3h0M299.4 108.8h0M299.6 110.0h0M299.8 108.2h0M300.1 110.9h0M300.3 107.3h0M300.5 106.0h0M300.7 108.5h0M300.9 109.0h0M301.1 107.6h0M301.3 107.4h0M301.5 107.9h0M301.8 108.8h0M302.0 108.2h0M302.2 109.1h0M302.4 105.3h0M302.6 111.2h0M302.8 109.5h0M303.0 106.8h0M303.2 110.9h0M303.5 109.2h0M303.7 109.9h0M303.9 106.1h0M304.1 111.4h0M304.3 108.4h0M304.5 104.5h0M304.7 109.6h0M304.9 107.7h0M305.2 106.3h0M305.4 107.8h0M305.6 104.6h0M305.8 109.2h0M306.0 107.7h0M306.2 107.6h0M306.4 110.7h0M306.6 109.9h0M306.9 106.8h0M307.1 106.3h0M307.3 107.9h0M307.5 110.0h0M307.7 106.9h0M307.9 106.0h0M308.1 109.6h0M308.3 108.0h0M308.6 107.9h0M308.8 111.7h0M309.0 105.6h0M309.2 108.2h0M309.4 104.5h0M309.6 107.2h0M309.8 108.9h0M310.0 109.9h0M310.3 105.4h0M310.5 109.3h0M310.7 109.2h0M310.9 107.5h0M311.1 112.2h0M311.3 107.7h0M311.5 106.0h0M311.7 108.4h0M312.0 104.1h0M312.2 110.5h0M312.4 109.4h0M312.6 106.8h0M312.8 108.7h0M313.0 108.5h0M313.2 111.1h0M313.4 106.3h0M313.7 105.0h0M313.9 103.6h0M314.1 106.9h0M314.3 104.5h0M314.5 107.0h0M314.7 108.1h0M314.9 106.5h0M315.1 105.5h0M315.4 109.5h0M315.6 106.9h0M315.8 107.7h0M316.0 109.0h0M316.2 104.8h0M316.4 105.5h0M316.6 111.8h0M316.8 106.9h0M317.1 105.2h0M317.3 106.6h0M317.5 106.0h0M317.7 104.8h0M317.9 106.3h0M318.1 107.0h0M318.3 107.0h0M318.5 108.0h0M318.8 103.8h0M319.0 104.2h0M319.2 108.4h0M319.4 106.1h0M319.6 109.1h0M319.8 107.4h0M320.0 104.2h0M320.2 107.8h0M320.5 104.9h0M320.7 107.3h0M320.9 109.0h0M321.1 110.7h0M321.3 106.6h0M321.5 108.0h0M321.7 107.2h0M321.9 108.1h0M322.2 101.9h0M322.4 105.9h0M322.6 107.2h0M322.8 107.5h0M323.0 105.2h0" stroke="#008000" stroke-width="1.60" stroke-linecap="round" fill="none"/>
<path d="M48.0 218.6h0M48.2 217.9h0M48.4 218.2h0M48.6 219.9h0M48.8 219.6h0M49.0 219.8h0M49.2 220.3h0M49.4 216.5h0M49.6 216.2h0M49.8 215.9h0M50.0 215.6h0M50.2 218.3h0M50.4 219.1h0M50.8 219.4h0M50.9 218.2h0M51.3 216.3h0M51.5 218.6h0M51.7 219.9h0M51.9 219.4h0M52.1 218.5h0M52.3 216.7h0M52.5 214.6h0M52.7 216.9h0M52.9 215.8h0M53.1 218.6h0M53.3 216.6h0M53.5 218.1h0M53.7 213.1h0M53.9 218.8h0M54.1 214.6h0M54.3 212.9h0M54.5 213.2h0M54.7 214.8h0M54.9 218.7h0M55.1 217.6h0M55.3 213.3h0M55.5 216.0h0M55.7 215.4h0M55.9 212.0h0M56.1 213.2h0M56.3 210.8h0M56.5 213.3h0M56.6 209.2h0M56.8 213.2h0M57.0 212.8h0M57.2 213.0h0M57.4 212.8h0M57.6 217.2h0M57.8 213.6h0M58.0 204.6h0M58.2 215.9h0M58.4 216.1h0M58.6 215.5h0M58.8 212.6h0M59.0 211.2h0M59.2 211.8h0M59.4 212.4h0M59.6 213.3h0M59.8 213.0h0M60.0 215.5h0M60.2 212.7h0M60.4 216.8h0M60.6 215.0h0M60.8 211.5h0M61.0 214.3h0M61.2 205.8h0M61.4 215.3h0M61.6 212.9h0M61.8 212.8h0M62.0 208.0h0M62.2 217.3h0M62.3 210.9h0M62.5 211.0h0M62.7 213.8h0M62.9 210.7h0M63.1 209.1h0M63.3 212.3h0M63.5 208.4h0M63.7 212.3h0M63.9 210.8h0M64.1 212.9h0M64.3 207.5h0M64.5 212.9h0M64.7 210.6h0M64.9 214.3h0M65.1 208.2h0M65.3 213.8h0M65.5 211.0h0M65.7 211.1h0M65.9 207.6h0M66.1 210.3h0M66.3 210.5h0M66.5 207.0h0M66.7 206.1h0M66.9 212.7h0M67.1 211.8h0M67.3 208.7h0M67.5 210.3h0M67.7 208.7h0M67.9 208.2h0M68.1 208.3h0M68.2 206.8h0M68.4 210.3h0M68.6 207.9h0M68.8 207.9h0M69.0 204.1h0M69.2 207.8h0M69.4 205.5h0M69.6 205.7h0M69.8 209.1h0M70.0 204.2h0M70.2 206.0h0M70.4 207.8h0M70.6 208.8h0M70.8 205.0h0M71.0 206.7h0M71.2 206.5h0M71.4 203.2h0M71.6 200.9h0M71.8 201.2h0M72.0 206.8h0M72.2 205.6h0M72.4 202.2h0M72.6 203.7h0M72.8 204.1h0M73.0 204.1h0M73.2 204.8h0M73.4 209.7h0M73.6 202.9h0M73.8 204.8h0M73.9 202.7h0M74.1 202.9h0M74.3 202.3h0M74.5 203.6h0M74.7 202.8h0M74.9 204.8h0M75.1 204.4h0M75.3 201.8h0M75.5 208.0h0M75.7 201.0h0M75.9 204.4h0M76.1 208.3h0M76.3 201.8h0M76.5 206.3h0M76.7 206.4h0M76.9 203.9h0M77.1 198.9h0M77.3 206.2h0M77.5 203.1h0M77.7 201.6h0M77.9 205.6h0M78.1 201.0h0M78.3 205.0h0M78.5 201.3h0M78.7 203.6h0M78.9 199.9h0M79.1 201.3h0M79.3 200.1h0M79.5 200.5h0M79.6 202.4h0M79.8 201.5h0M80.0 202.2h0M80.2 204.6h0M80.4 201.4h0M80.6 197.4h0M80.8 200.8h0M81.0 201.5h0M81.2 203.6h0M81.4 203.5h0M81.6 203.2h0M81.8 200.5h0M82.0 202.3h0M82.2 197.6h0M82.4 203.6h0M82.6 201.6h0M82.8 201.7h0M83.0 199.6h0M83.2 200.5h0M83.4 198.7h0M83.6 201.4h0M83.8 197.1h0M84.0 202.1h0M84.2 201.1h0M84.4 204.3h0M84.6 199.6h0M84.8 199.3h0M85.0 199.9h0M85.2 199.4h0M85.3 199.0h0M85.5 196.7h0M85.7 196.6h0M85.9 197.7h0M86.1 198.2h0M86.3 196.1h0M86.5 196.1h0M86.7 197.9h0M86.9 200.1h0M87.1 197.9h0M87.3 199.8h0M87.5 200.3h0M87.7 199.8h0M87.9 197.0h0M88.1 196.9h0M88.3 193.5h0M88.5 196.1h0M88.7 198.6h0M88.9 195.0h0M89.1 206.3h0M89.3 200.4h0M89.5 196.3h0M89.7 199.1h0M89.9 193.7h0M90.1 194.4h0M90.3 195.8h0M90.5 196.6h0M90.7 196.0h0M90.9 194.4h0M91.0 200.6h0M91.2 196.8h0M91.4 196.6h0M91.6 197.4h0M91.8 196.2h0M92.0 195.1h0M92.2 194.3h0M92.4 191.8h0M92.6 198.7h0M92.8 193.1h0M93.0 191.4h0M93.2 193.2h0M93.4 191.3h0M93.6 199.2h0M93.8 195.4h0M94.0 197.7h0M94.2 197.6h0M94.4 195.5h0M94.6 195.4h0M94.8 192.4h0M95.0 193.7h0M95.2 192.4h0M95.4 193.7h0M95.6 192.0h0M95.8 196.2h0M96.0 195.0h0M96.2 191.3h0M96.4 189.3h0M96.6 194.4h0M96.7 194.8h0M96.9 192.5h0M97.1 189.7h0M97.3 193.4h0M97.5 194.6h0M97.7 187.8h0M97.9 193.3h0M98.1 187.8h0M98.3 191.9h0M98.5 195.5h0M98.7 191.7h0M98.9 192.4h0M99.1 190.5h0M99.3 191.1h0M99.5 196.2h0M99.7 193.8h0M99.9 190.0h0M100.1 189.7h0M100.3 190.4h0M100.5 195.2h0M100.7 190.6h0M100.9 192.5h0M101.1 189.0h0M101.3 186.9h0M101.5 192.6h0M101.7 189.3h0M101.9 187.6h0M102.1 187.6h0M102.3 187.5h0M102.4 187.6h0M102.6 185.3h0M102.8 191.3h0M103.0 189.4h0M103.2 190.6h0M103.4 187.5h0M103.6 188.9h0M103.8 188.3h0M104.0 190.5h0M104.2 189.5h0M104.4 188.4h0M104.6 186.0h0M104.8 184.6h0M105.0 185.4h0M105.2 185.6h0M105.4 185.7h0M105.6 184.0h0M105.8 190.4h0M106.0 187.1h0M106.2 181.9h0M106.4 183.8h0M106.6 183.1h0M106.8 186.5h0M107.0 188.2h0M107.2 183.5h0M107.4 187.0h0M107.6 184.8h0M107.8 187.9h0M108.0 188.3h0M108.2 185.8h0M108.3 186.6h0M108.5 184.8h0M108.7 183.9h0M108.9 182.0h0M109.1 185.2h0M109.3 184.1h0M109.5 183.3h0M109.7 183.9h0M109.9 183.5h0M110.1 181.5h0M110.3 182.5h0M110.5 186.1h0M110.7 182.9h0M110.9 186.4h0M111.1 180.6h0M111.3 180.0h0M111.5 183.2h0M111.7 184.5h0M111.9 181.2h0M112.1 183.9h0M112.3 184.5h0M112.5 184.7h0M112.7 181.9h0M112.9 181.9h0M113.1 178.2h0M113.3 181.8h0M113.5 182.3h0M113.7 184.7h0M113.9 178.5h0M114.0 179.4h0M114.2 178.9h0M114.4 183.0h0M114.6 175.2h0M114.8 178.3h0M115.0 185.2h0M115.2 182.0h0M115.4 177.4h0M115.6 180.1h0M115.8 182.0h0M116.0 181.2h0M116.2 179.4h0M116.4 178.0h0M116.6 181.5h0M116.8 179.5h0M117.0 181.2h0M117.2 180.1h0M117.4 178.1h0M117.6 182.2h0M117.8 177.7h0M118.0 179.7h0M118.2 177.2h0M118.4 178.0h0M118.6 177.8h0M118.8 176.7h0M119.0 178.6h0M119.2 180.9h0M119.4 182.0h0M119.6 180.9h0M119.7 177.2h0M119.9 180.7h0M120.1 178.3h0M120.3 181.2h0M120.5 174.3h0M120.7 180.2h0M120.9 175.5h0M121.1 179.3h0M121.3 175.5h0M121.5 178.5h0M121.7 175.7h0M121.9 172.0h0M122.1 173.9h0M122.3 175.4h0M122.5 175.9h0M122.7 170.7h0M122.9 172.9h0M123.1 173.8h0M123.3 174.8h0M123.5 175.7h0M123.7 173.2h0M123.9 171.6h0M124.1 175.5h0M124.3 173.9h0M124.5 176.5h0M124.7 173.3h0M124.9 175.7h0M125.1 172.2h0M125.3 174.6h0M125.4 174.1h0M125.6 174.8h0M125.8 171.6h0M126.0 173.3h0M126.2 171.5h0M126.4 172.9h0M126.6 174.5h0M126.8 179.6h0M127.0 173.0h0M127.2 174.3h0M127.4 172.9h0M127.6 175.0h0M127.8 173.4h0M128.0 174.6h0M128.2 172.9h0M128.4 177.3h0M128.6 174.9h0M128.8 168.0h0M129.0 172.3h0M129.2 171.7h0M129.4 166.5h0M129.6 169.3h0M129.8 170.1h0M130.0 169.4h0M130.2 171.1h0M130.4 166.8h0M130.6 172.3h0M130.8 172.2h0M131.0 171.1h0M131.1 169.5h0M131.3 170.1h0M131.5 168.9h0M131.7 172.4h0M131.9 170.8h0M132.1 174.0h0M132.3 168.6h0M132.5 172.5h0M132.7 167.9h0M132.9 168.7h0M133.1 166.6h0M133.3 170.0h0M133.5 168.6h0M133.7 169.9h0M133.9 171.7h0M134.1 168.2h0M134.3 169.0h0M134.5 170.0h0M134.7 167.8h0M134.9 166.6h0M135.1 168.5h0M135.3 168.7h0M135.5 169.1h0M135.7 169.1h0M135.9 165.7h0M136.1 168.0h0M136.3 169.6h0M136.5 165.8h0M136.7 167.5h0M136.8 165.2h0M137.0 166.8h0M137.2 170.1h0M137.4 166.5h0M137.6 163.9h0M137.8 166.6h0M138.0 166.2h0M138.2 168.1h0M138.4 162.5h0M138.6 163.3h0M138.8 165.1h0M139.0 161.7h0M139.2 167.5h0M139.4 160.4h0M139.6 162.9h0M139.8 161.3h0M140.0 163.0h0M140.2 166.1h0M140.4 165.5h0M140.6 166.1h0M140.8 165.3h0M141.0 159.3h0M141.2 164.4h0M141.4 159.5h0M141.6 162.3h0M141.8 162.4h0M142.0 162.0h0M142.2 164.1h0M142.4 161.1h0M142.5 166.6h0M142.7 164.0h0M142.9 165.1h0M143.1 164.1h0M143.3 164.2h0M143.5 162.0h0M143.7 166.3h0M143.9 159.5h0M144.1 162.8h0M144.3 161.6h0M144.5 161.0h0M144.7 162.0h0M144.9 159.5h0M145.1 163.0h0M145.3 162.7h0M145.5 161.0h0M145.7 167.8h0M145.9 158.2h0M146.1 156.4h0M146.3 159.0h0M146.5 159.6h0M146.7 165.5h0M146.9 159.4h0M147.1 162.0h0M147.3 161.5h0M147.5 164.1h0M147.7 159.6h0M147.9 160.7h0M148.1 158.7h0M148.3 157.0h0M148.4 156.6h0M148.6 157.0h0M148.8 161.7h0M149.0 159.1h0M149.2 158.0h0M149.4 158.2h0M149.6 156.8h0M149.8 157.9h0M150.0 157.7h0M150.2 159.1h0M150.4 159.6h0M150.6 153.8h0M150.8 157.8h0M151.0 160.2h0M151.2 154.8h0M151.4 156.4h0M151.6 157.2h0M151.8 159.1h0M152.0 157.9h0M152.2 156.0h0M152.4 157.4h0M152.6 158.5h0M152.8 156.9h0M153.0 160.1h0M153.2 156.8h0M153.4 153.4h0M153.6 153.9h0M153.8 155.2h0M154.0 154.9h0M154.1 156.6h0M154.3 155.9h0M154.5 158.8h0M154.7 156.7h0M154.9 158.0h0M155.1 153.0h0M155.3 153.6h0M155.5 155.9h0M155.7 154.5h0M155.9 155.5h0M156.1 154.6h0M156.3 152.5h0M156.5 157.5h0M156.7 156.2h0M156.9 150.1h0M157.1 152.1h0M157.3 153.4h0M157.5 154.7h0M157.7 152.9h0M157.9 150.0h0M158.1 148.1h0M158.3 152.3h0M158.5 155.3h0M158.7 153.2h0M158.9 154.6h0M159.1 154.1h0M159.3 154.1h0M159.5 150.9h0M159.7 154.2h0M159.8 152.3h0M160.0 149.0h0M160.2 150.7h0M160.4 150.7h0M160.6 152.4h0M160.8 152.7h0M161.0 148.7h0M161.2 152.6h0M161.4 150.8h0M161.6 148.5h0M161.8 152.5h0M162.0 148.9h0M162.2 147.8h0M162.4 152.0h0M162.6 152.2h0M162.8 148.7h0M163.0 152.3h0M163.2 152.1h0M163.4 148.7h0M163.6 154.1h0M163.8 149.4h0M164.0 150.0h0M164.2 144.1h0M164.4 150.6h0M164.6 147.8h0M164.8 150.0h0M165.0 145.2h0M165.2 151.4h0M165.4 151.9h0M165.5 152.8h0M165.7 142.0h0M165.9 149.7h0M166.1 149.0h0M166.3 141.5h0M166.5 146.5h0M166.7 147.8h0M166.9 151.0h0M167.1 145.9h0M167.3 148.1h0M167.5 147.4h0M167.7 148.3h0M167.9 146.5h0M168.1 149.2h0M168.3 149.3h0M168.5 144.9h0M168.7 149.4h0M168.9 145.2h0M169.1 146.2h0M169.3 149.1h0M169.5 146.8h0M169.7 147.7h0M169.9 148.1h0M170.1 147.6h0M170.3 145.0h0M170.5 144.0h0M170.7 147.5h0M170.9 147.5h0M171.1 146.6h0M171.2 145.3h0M171.4 147.5h0M171.6 145.4h0M171.8 142.4h0M172.0 145.9h0M172.2 146.3h0M172.4 146.8h0M172.6 143.0h0M172.8 143.2h0M173.0 145.5h0M173.2 143.7h0M173.4 144.5h0M173.6 146.6h0M173.8 145.3h0M174.0 148.3h0M174.2 144.9h0M174.4 147.9h0M174.6 146.4h0M174.8 149.5h0M175.0 143.9h0M175.2 143.6h0M175.4 146.5h0M175.6 142.5h0M175.8 142.5h0M176.0 144.0h0M176.2 144.1h0M176.4 140.2h0M176.6 143.7h0M176.8 142.4h0M176.9 142.9h0M177.1 143.3h0M177.3 142.4h0M177.5 145.0h0M177.7 143.7h0M177.9 142.1h0M178.1 142.6h0M178.3 144.6h0M178.5 144.0h0M178.7 144.9h0M178.9 141.8h0M179.1 142.3h0M179.3 146.3h0M179.5 141.7h0M179.7 145.4h0M179.9 143.5h0M180.1 140.6h0M180.3 138.4h0M180.5 142.8h0M180.7 139.8h0M180.9 139.7h0M181.1 137.3h0M181.3 143.6h0M181.5 141.2h0M181.7 140.9h0M181.9 141.6h0M182.1 141.2h0M182.3 140.8h0M182.5 140.8h0M182.6 139.8h0M182.8 134.7h0M183.0 141.9h0M183.2 141.1h0M183.4 140.1h0M183.6 143.5h0M183.8 136.9h0M184.0 133.5h0M184.2 143.0h0M184.4 140.1h0M184.6 136.0h0M184.8 138.6h0M185.0 140.8h0M185.2 136.7h0M185.4 140.5h0M185.6 143.8h0M185.8 142.1h0M186.0 138.9h0M186.2 139.6h0M186.4 136.8h0M186.6 139.1h0M186.8 138.0h0M187.0 136.4h0M187.2 135.6h0M187.4 142.7h0M187.6 138.6h0M187.8 136.1h0M188.0 137.3h0M188.2 141.4h0M188.4 141.6h0M188.5 145.9h0M188.7 138.3h0M188.9 139.7h0M189.1 137.0h0M189.3 135.1h0M189.5 135.4h0M189.7 137.5h0M189.9 135.7h0M190.1 134.5h0M190.3 136.7h0M190.5 139.2h0M190.7 138.6h0M190.9 136.5h0M191.1 141.1h0M191.3 135.1h0M191.5 136.6h0M191.7 133.7h0M191.9 138.3h0M192.1 136.3h0M192.3 132.8h0M192.5 134.6h0M192.7 140.3h0M192.9 137.8h0M193.1 136.4h0M193.3 138.0h0M193.5 132.5h0M193.7 134.1h0M193.9 133.0h0M194.1 134.0h0M194.2 134.9h0M194.4 136.8h0M194.6 127.9h0M194.8 137.6h0M195.0 141.3h0M195.2 134.3h0M195.4 135.3h0M195.6 136.3h0M195.8 133.3h0M196.0 134.5h0M196.2 135.9h0M196.4 133.0h0M196.6 135.9h0M196.8 137.5h0M197.0 132.3h0M197.2 129.7h0M197.4 134.8h0M197.6 132.2h0M197.8 134.8h0M198.0 133.4h0M198.2 135.0h0M198.4 136.7h0M198.6 136.0h0M198.8 133.3h0M199.0 131.5h0M199.2 128.5h0M199.4 129.2h0M199.6 132.1h0M199.8 134.0h0M199.9 132.2h0M200.1 132.3h0M200.3 130.1h0M200.5 129.9h0M200.7 129.7h0M200.9 134.7h0M201.1 129.0h0M201.3 134.7h0M201.5 131.2h0M201.7 134.2h0M201.9 133.5h0M202.1 134.6h0M202.3 135.5h0M202.5 131.1h0M202.7 130.6h0M202.9 131.7h0M203.1 130.9h0M203.3 134.0h0M203.5 132.2h0M203.7 132.4h0M203.9 133.2h0M204.1 131.2h0M204.3 134.6h0M204.5 128.1h0M204.7 132.6h0M204.9 133.1h0M205.1 130.3h0M205.3 130.4h0M205.5 133.8h0M205.6 131.1h0M205.8 127.5h0M206.0 128.7h0M206.2 133.8h0M206.4 129.6h0M206.6 134.4h0M206.8 134.4h0M207.0 130.9h0M207.2 132.5h0M207.4 129.4h0M207.6 130.3h0M207.8 129.6h0M208.0 132.4h0M208.2 128.2h0M208.4 130.7h0M208.6 131.0h0M208.8 132.0h0M209.0 126.2h0M209.2 126.8h0M209.4 128.8h0M209.6 130.1h0M209.8 130.9h0M210.0 130.9h0M210.2 134.9h0M210.4 131.8h0M210.6 131.6h0M210.8 129.2h0M211.0 132.0h0M211.2 131.7h0M211.3 131.6h0M211.5 129.8h0M211.7 131.4h0M211.9 133.3h0M212.1 128.2h0M212.3 125.2h0M212.5 131.6h0M212.7 131.4h0M212.9 129.2h0M213.1 128.7h0M213.3 135.6h0M213.5 128.5h0M213.7 126.8h0M213.9 128.4h0M214.1 125.6h0M214.3 128.0h0M214.5 128.4h0M214.7 129.9h0M214.9 128.2h0M215.1 129.4h0M215.3 129.0h0M215.5 126.7h0M215.7 129.1h0M215.9 126.4h0M216.1 130.9h0M216.3 126.8h0M216.5 128.2h0M216.7 124.7h0M216.9 127.7h0M217.0 125.9h0M217.2 131.8h0M217.4 128.2h0M217.6 129.6h0M217.8 124.6h0M218.0 125.6h0M218.2 127.9h0M218.4 125.3h0M218.6 130.7h0M218.8 127.3h0M219.0 128.4h0M219.2 128.7h0M219.4 127.7h0M219.6 129.6h0M219.8 129.5h0M220.0 128.6h0M220.2 130.4h0M220.4 128.2h0M220.6 127.9h0M220.8 126.9h0M221.0 127.7h0M221.2 129.0h0M221.4 126.9h0M221.6 123.8h0M221.8 127.7h0M222.0 127.0h0M222.2 128.3h0M222.4 127.3h0M222.6 130.6h0M222.7 124.5h0M222.9 125.0h0M223.1 128.4h0M223.3 124.7h0M223.5 127.6h0M223.7 126.8h0M223.9 122.6h0M224.1 128.2h0M224.3 129.7h0M224.5 127.1h0M224.7 123.6h0M224.9 128.3h0M225.1 124.3h0M225.3 126.2h0M225.5 127.4h0M225.7 124.7h0M225.9 122.7h0M226.1 126.0h0M226.3 126.2h0M226.5 124.4h0M226.7 124.5h0M226.9 127.7h0M227.1 125.9h0M227.3 125.0h0M227.5 124.7h0M227.7 126.3h0M227.9 126.1h0M228.1 125.5h0M228.3 122.8h0M228.5 125.0h0M228.6 124.4h0M228.8 125.8h0M229.0 128.1h0M229.2 127.6h0M229.4 126.9h0M229.6 125.7h0M229.8 124.8h0M230.0 126.1h0M230.2 124.3h0M230.4 124.6h0M230.6 123.5h0M230.8 125.1h0M231.0 125.0h0M231.2 129.1h0M231.4 126.3h0M231.6 124.3h0M231.8 126.7h0M232.0 124.0h0M232.2 127.1h0M232.4 126.6h0M232.6 131.0h0M232.8 122.5h0M233.0 124.6h0M233.2 124.5h0M233.4 125.3h0M233.6 126.2h0M233.8 122.5h0M234.0 125.8h0M234.2 125.2h0M234.3 126.5h0M234.5 122.0h0M234.7 121.1h0M234.9 126.8h0M235.1 126.1h0M235.3 126.6h0M235.5 122.2h0M235.7 123.8h0M235.9 124.6h0M236.1 125.1h0M236.3 123.8h0M236.5 123.9h0M236.7 126.2h0M236.9 123.0h0M237.1 122.8h0M237.3 123.0h0M237.5 122.8h0M237.7 124.1h0M237.9 123.3h0M238.1 122.8h0M238.3 126.1h0M238.5 124.3h0M238.7 122.9h0M238.9 126.3h0M239.1 122.4h0M239.3 123.5h0M239.5 123.3h0M239.7 122.2h0M239.9 122.6h0M240.0 123.5h0M240.2 120.3h0M240.4 122.5h0M240.6 123.8h0M240.8 123.8h0M241.0 123.8h0M241.2 128.1h0M241.4 124.5h0M241.6 122.8h0M241.8 122.8h0M242.0 123.0h0M242.2 123.9h0M242.4 122.3h0M242.6 126.1h0M242.8 120.5h0M243.0 124.1h0M243.2 123.8h0M243.4 120.3h0M243.6 124.0h0M243.8 123.8h0M244.0 121.3h0M244.2 127.4h0M244.4 124.0h0M244.6 121.8h0M244.8 121.5h0M245.0 120.9h0M245.2 122.9h0M245.4 122.5h0M245.6 119.4h0M245.7 120.1h0M245.9 120.8h0M246.1 121.4h0M246.3 121.4h0M246.5 120.8h0M246.7 123.5h0M246.9 124.1h0M247.1 122.2h0M247.3 117.4h0M247.5 121.6h0M247.7 123.1h0M247.9 121.7h0M248.1 122.4h0M248.3 122.0h0M248.5 118.7h0M248.7 116.5h0M248.9 123.0h0M249.1 120.6h0M249.3 122.5h0M249.5 121.0h0M249.7 121.2h0M249.9 124.4h0M250.1 119.0h0M250.3 121.4h0M250.5 119.1h0M250.7 121.5h0M250.9 122.3h0M251.1 122.7h0M251.3 121.6h0M251.4 118.4h0M251.6 121.7h0M251.8 123.0h0M252.0 123.2h0M252.2 125.6h0M252.4 122.2h0M252.6 118.9h0M252.8 119.9h0M253.0 121.1h0M253.2 123.1h0M253.4 118.5h0M253.6 122.7h0M253.8 122.1h0M254.0 118.9h0M254.2 122.0h0M254.4 119.1h0M254.6 120.6h0M254.8 119.9h0M255.0 121.0h0M255.2 118.0h0M255.4 121.6h0M255.6 115.9h0M255.8 119.5h0M256.0 119.2h0M256.2 123.6h0M256.4 121.4h0M256.6 119.2h0M256.8 118.3h0M257.0 120.3h0M257.1 118.8h0M257.3 124.8h0M257.5 114.3h0M257.7 120.2h0M257.9 114.9h0M258.1 122.1h0M258.3 118.3h0M258.5 123.3h0M258.7 118.8h0M258.9 122.1h0M259.1 120.3h0M259.3 122.3h0M259.5 119.8h0M259.7 113.5h0M259.9 118.2h0M260.1 116.5h0M260.3 121.7h0M260.5 120.8h0M260.7 119.6h0M260.9 120.6h0M261.1 120.0h0M261.3 118.4h0M261.5 123.6h0M261.7 120.0h0M261.9 119.1h0M262.1 116.4h0M262.3 118.2h0M262.5 119.5h0M262.7 119.0h0M262.8 118.4h0M263.0 119.3h0M263.2 117.0h0M263.4 119.3h0M263.6 116.1h0M263.8 117.5h0M264.0 117.7h0M264.2 121.1h0M264.4 120.3h0M264.6 119.4h0M264.8 116.8h0M265.0 118.3h0M265.2 120.8h0M265.4 121.8h0M265.6 116.0h0M265.8 118.2h0M266.0 119.3h0M266.2 119.8h0M266.4 119.1h0M266.6 120.4h0M266.8 116.0h0M267.0 122.3h0M267.2 116.6h0M267.4 119.1h0M267.6 120.0h0M267.8 121.4h0M268.0 120.8h0M268.2 120.7h0M268.4 121.6h0M268.6 118.6h0M268.7 118.1h0M268.9 122.1h0M269.1 117.2h0M269.3 115.9h0M269.5 116.7h0M269.7 121.7h0M269.9 121.4h0M270.1 118.0h0M270.3 119.3h0M270.5 119.7h0M270.7 120.9h0M270.9 114.8h0M271.1 117.5h0M271.3 118.1h0M271.5 119.3h0M271.7 118.8h0M271.9 118.0h0M272.1 119.2h0M272.3 113.2h0M272.5 125.0h0M272.7 120.3h0M272.9 120.4h0M273.1 117.2h0M273.3 119.4h0M273.5 122.8h0M273.7 122.3h0M273.9 118.6h0M274.1 115.9h0M274.3 118.8h0M274.4 117.8h0M274.6 120.2h0M274.8 115.7h0M275.0 118.0h0M275.2 119.0h0M275.4 117.4h0M275.6 120.6h0M275.8 116.0h0M276.0 115.7h0M276.2 117.6h0M276.4 120.1h0M276.6 117.7h0M276.8 117.0h0M277.0 120.0h0M277.2 118.7h0M277.4 117.1h0M277.6 118.5h0M277.8 117.7h0M278.0 123.8h0M278.2 118.5h0M278.4 116.5h0M278.6 117.2h0M278.8 117.3h0M279.0 118.9h0M279.2 118.9h0M279.4 116.4h0M279.6 117.7h0M279.8 118.7h0M280.0 120.4h0M280.1 118.6h0M280.3 122.2h0M280.5 118.1h0M280.7 119.6h0M280.9 117.3h0M281.1 115.9h0M281.3 118.2h0M281.5 119.0h0M281.7 118.7h0M281.9 118.3h0M282.1 117.3h0M282.3 116.2h0M282.5 117.3h0M282.7 118.9h0M282.9 119.9h0M283.1 111.0h0M283.3 119.2h0M283.5 120.1h0M283.7 120.5h0M283.9 118.6h0M284.1 119.2h0M284.3 116.9h0M284.5 117.6h0M284.7 118.9h0M284.9 115.5h0M285.1 116.1h0M285.3 118.2h0M285.5 114.9h0M285.7 117.8h0M285.8 114.6h0M286.0 118.1h0M286.2 117.8h0M286.4 116.5h0M286.6 115.7h0M286.8 116.6h0M287.0 112.9h0M287.2 116.8h0M287.4 117.9h0M287.6 120.2h0M287.8 116.5h0M288.0 117.2h0M288.2 120.5h0M288.4 121.2h0M288.6 116.5h0M288.8 119.7h0M289.0 120.0h0M289.2 118.6h0M289.4 115.4h0M289.6 115.5h0M289.8 118.7h0M290.0 122.4h0M290.2 117.1h0M290.4 114.3h0M290.6 121.4h0M290.8 114.8h0M291.0 116.1h0M291.2 120.6h0M291.4 119.4h0M291.5 118.5h0M291.7 117.3h0M291.9 118.7h0M292.1 116.0h0M292.3 122.6h0M292.5 114.9h0M292.7 113.5h0M292.9 117.6h0M293.1 120.3h0M293.3 116.2h0M293.5 118.2h0M293.7 115.1h0M293.9 117.1h0M294.1 115.1h0M294.3 115.1h0M294.5 114.1h0M294.7 116.0h0M294.9 121.1h0M295.1 117.0h0M295.3 117.5h0M295.5 121.8h0M295.7 115.8h0M295.9 115.0h0M296.1 118.2h0M296.3 114.5h0M296.5 117.8h0M296.7 119.5h0M296.9 114.8h0M297.1 115.9h0M297.2 120.6h0M297.4 114.8h0M297.6 115.6h0M297.8 117.5h0M298.0 116.3h0M298.2 115.2h0M298.4 120.3h0M298.6 115.7h0M298.8 117.6h0M299.0 116.0h0M299.2 116.4h0M299.4 114.0h0M299.6 118.8h0M299.8 116.0h0M300.0 119.6h0M300.2 114.4h0M300.4 115.8h0M300.6 117.8h0M300.8 117.0h0M301.0 115.4h0M301.2 116.5h0M301.4 114.0h0M301.6 116.9h0M301.8 111.1h0M302.0 117.1h0M302.2 119.6h0M302.4 118.6h0M302.6 118.5h0M302.8 115.8h0M302.9 117.7h0M303.1 115.8h0M303.3 116.5h0M303.5 116.4h0M303.7 109.5h0M303.9 118.6h0M304.1 117.6h0M304.3 118.4h0M304.5 114.6h0M304.7 118.0h0M304.9 117.6h0M305.1 111.8h0M305.3 112.8h0M305.5 116.6h0M305.7 115.1h0M305.9 116.5h0M306.1 115.1h0M306.3 119.6h0M306.5 112.4h0M306.7 113.6h0M306.9 114.4h0M307.1 113.5h0M307.3 115.2h0M307.5 116.3h0M307.7 113.6h0M307.9 117.2h0M308.1 119.1h0M308.3 118.7h0M308.5 120.6h0M308.7 118.7h0M308.8 116.3h0M309.0 120.1h0M309.2 117.8h0M309.4 120.3h0M309.6 115.9h0M309.8 111.8h0M310.0 113.8h0M310.2 116.6h0M310.4 117.4h0M310.6 115.8h0M310.8 118.3h0M311.0 113.8h0M311.2 114.7h0M311.4 118.3h0M311.6 116.3h0M311.8 116.4h0M312.0 119.1h0M312.2 118.5h0M312.4 114.4h0M312.6 116.5h0M312.8 112.5h0M313.0 116.1h0M313.2 116.9h0M313.4 112.4h0M313.6 119.4h0M313.8 120.3h0M314.0 117.1h0M314.2 118.0h0M314.4 119.2h0M314.5 115.6h0M314.7 118.2h0M314.9 116.8h0M315.1 112.7h0M315.3 114.1h0M315.5 114.8h0M315.7 118.2h0M315.9 116.1h0M316.1 118.0h0M316.3 114.9h0M316.5 113.2h0M316.7 120.3h0M316.9 121.6h0M317.1 116.7h0M317.3 115.4h0M317.5 118.4h0M317.7 113.5h0M317.9 115.4h0M318.1 112.8h0M318.3 116.8h0M318.5 116.3h0M318.7 114.9h0M318.9 114.4h0M319.1 112.5h0M319.3 114.0h0M319.5 118.3h0M319.7 115.0h0M319.9 118.4h0M320.1 113.8h0M320.2 115.5h0M320.4 114.7h0M320.6 115.1h0M320.8 117.3h0M321.0 111.3h0M321.2 117.2h0M321.4 117.1h0M321.6 115.6h0M321.8 115.7h0M322.0 115.1h0M322.2 117.0h0M322.4 115.7h0M322.6 113.7h0M322.8 115.8h0M323.0 123.6h0" stroke="#404040" stroke-width="1.60" stroke-linecap="round" fill="none"/>
<path d="M46.5 20.6V219.5H323.5V20.6" fill="none" stroke="#2a2a2a" stroke-width="1.15"/>
<path d="M46.5 20.6H323.5" fill="none" stroke="#2a2a2a" stroke-width="1.15"/>
<path d="M108.1 219.5v4.2M169.6 219.5v4.2M231.2 219.5v4.2M292.7 219.5v4.2M77.3 219.5v2.5M138.8 219.5v2.5M200.4 219.5v2.5M261.9 219.5v2.5M323.5 219.5v2.5" stroke="#2a2a2a" stroke-width="1"/>
<text x="108.1" y="235.3" font-size="11" fill="#000" font-weight="bold" text-anchor="middle" >20</text>
<text x="169.6" y="235.3" font-size="11" fill="#000" font-weight="bold" text-anchor="middle" >40</text>
<text x="231.2" y="235.3" font-size="11" fill="#000" font-weight="bold" text-anchor="middle" >60</text>
<text x="292.7" y="235.3" font-size="11" fill="#000" font-weight="bold" text-anchor="middle" >80</text>
<path d="M46.5 219.5h-3.8M46.5 153.2h-3.8M46.5 86.9h-3.8M46.5 20.6h-3.8M46.5 186.3h-2.2M46.5 120h-2.2M46.5 53.8h-2.2" stroke="#2a2a2a" stroke-width="1"/>
<text x="39.2" y="222.7" font-size="11" fill="#000" font-weight="bold" text-anchor="end" >0.0</text>
<text x="39.2" y="156.4" font-size="11" fill="#000" font-weight="bold" text-anchor="end" >0.1</text>
<text x="39.2" y="90.1" font-size="11" fill="#000" font-weight="bold" text-anchor="end" >0.2</text>
<text x="39.2" y="23.8" font-size="11" fill="#000" font-weight="bold" text-anchor="end" >0.3</text>
<text x="9.2" y="14.8" font-size="16" fill="#000" font-weight="bold" text-anchor="start" >A</text>
<text x="185" y="256.6" font-size="13.4" fill="#000" font-weight="bold" text-anchor="middle" >Time (min)</text>
<text x="0" y="0" font-size="13.5" fill="#000" font-weight="bold" text-anchor="middle" transform="translate(18.4 119.7) rotate(-90)">Fluorescence Polarization</text>
<text x="125.7" y="42.1" font-size="6.75" fill="#0000ff" font-weight="normal" text-anchor="start" >HSP-90 +ATP</text>
<text x="203.4" y="72.4" font-size="6.75" fill="#008000" font-weight="normal" text-anchor="start" >HSP-90 + DAF-41 +ATP&#947;S</text>
<text x="173.4" y="91.9" font-size="6.75" fill="#808000" font-weight="normal" text-anchor="start" >HSP-90 +ATP&#947;S</text>
<text x="256.6" y="142.2" font-size="6.75" fill="#800000" font-weight="normal" text-anchor="start" >+HSP-90</text>
<text x="272.3" y="158.5" font-size="6.75" fill="#444" font-weight="normal" text-anchor="start" >GRLBD</text>
<path d="M407.6 146.9h0M408.5 151.3h0M409.5 155.6h0M410.4 138.9h0M411.8 143.8h0M412.3 136.5h0M414.4 143.1h0M415.8 134.0h0M416.9 131.9h0M417.6 121.4h0M419.4 122.9h0M420.1 121.4h0M421.5 94.9h0M422.3 125.8h0M423.3 117.6h0M424.1 114.8h0M424.3 113.2h0M427.0 111.1h0M427.7 111.2h0M429.9 96.1h0M429.1 107.9h0M431.6 103.5h0M431.9 102.4h0M433.4 88.6h0M434.1 97.3h0M435.9 86.1h0M436.8 96.5h0M438.4 101.1h0M439.1 96.7h0M440.4 85.9h0M441.9 82.3h0M442.7 81.0h0M443.5 86.6h0M445.3 76.9h0M445.8 77.2h0M447.2 61.2h0M447.9 72.4h0M448.9 71.8h0M448.9 73.5h0M451.8 83.4h0M452.1 64.4h0M454.1 62.8h0M455.7 75.6h0M455.4 64.4h0M457.5 68.9h0M458.2 70.9h0M459.6 69.1h0M459.9 63.1h0M461.6 74.8h0M462.8 78.7h0M464.6 60.1h0M466.0 65.3h0M466.3 74.1h0M467.1 65.8h0M469.5 60.4h0M469.5 64.5h0M470.6 74.1h0M471.8 61.2h0M473.1 70.9h0M474.4 72.5h0M474.9 65.3h0M476.2 75.0h0M478.3 77.4h0M479.3 80.7h0M479.9 80.8h0M480.9 64.1h0M481.8 82.5h0M483.5 82.1h0M483.9 85.5h0M485.4 73.9h0M486.2 87.8h0M487.3 85.4h0M488.7 76.3h0M489.8 95.7h0M490.7 82.0h0M492.0 82.5h0M493.2 94.8h0M494.1 89.0h0M495.2 97.8h0M496.5 95.9h0M498.1 102.6h0M499.4 109.0h0M500.1 104.2h0M501.0 112.6h0M502.2 114.9h0M504.3 106.7h0M504.9 120.3h0M505.2 119.1h0M506.7 118.6h0M507.6 127.5h0M508.8 133.7h0M509.3 128.1h0M511.3 115.4h0M511.7 130.2h0M513.2 128.6h0M515.4 131.2h0M516.2 137.1h0M516.5 132.6h0M517.5 148.6h0M518.7 140.6h0M519.4 139.7h0M520.9 147.6h0M522.4 149.8h0M523.2 153.7h0M525.1 152.4h0M525.9 148.5h0M526.8 150.9h0M529.0 136.9h0M529.6 142.6h0M530.5 161.8h0M532.4 154.0h0M533.3 170.5h0M533.5 170.6h0M535.1 149.9h0M535.8 162.0h0M536.5 181.3h0M539.2 156.9h0M540.2 166.2h0M540.0 161.6h0M541.9 162.9h0M542.0 162.7h0M544.5 166.2h0M545.1 172.2h0M546.1 161.4h0M547.9 171.9h0M548.5 163.4h0M549.5 172.8h0M551.2 172.1h0M551.7 164.4h0M553.4 171.7h0M554.1 165.6h0M555.6 165.4h0M556.7 180.4h0M557.9 159.0h0M558.1 176.4h0M560.6 178.2h0M560.8 168.8h0M562.8 181.5h0M562.8 180.2h0M564.1 164.5h0M565.2 178.0h0M567.1 178.0h0M567.4 169.3h0M569.0 179.1h0M569.1 180.4h0M570.8 170.1h0M572.2 161.1h0M573.2 178.7h0M573.5 170.5h0M575.8 163.8h0M576.2 173.6h0M578.7 159.7h0M578.8 174.6h0M581.1 188.5h0M581.5 157.0h0M582.5 181.3h0M583.2 171.4h0M584.5 175.5h0M585.9 172.3h0M585.9 183.6h0M588.4 179.7h0M588.5 174.1h0M590.1 170.8h0M590.0 177.2h0M592.7 189.7h0M593.9 172.9h0M594.8 185.1h0M596.0 185.0h0M596.8 168.3h0M598.1 191.5h0M599.8 183.9h0M600.1 200.6h0M601.7 197.7h0M602.9 183.7h0M603.6 184.7h0M605.0 179.1h0M606.1 176.9h0M606.9 193.1h0M609.4 186.7h0M609.1 185.5h0M611.3 188.2h0M612.1 194.8h0M611.8 196.6h0M614.0 190.8h0M615.5 190.1h0M616.5 192.8h0M616.8 207.4h0M618.5 177.9h0M618.9 184.8h0M620.1 197.4h0M621.6 195.8h0M623.0 204.4h0M624.8 206.0h0M625.3 211.2h0M626.8 191.6h0M626.8 201.9h0M628.0 196.3h0M629.4 205.9h0M631.6 201.3h0M631.3 206.3h0M632.3 194.9h0M634.1 202.5h0M635.9 198.4h0M635.6 200.2h0M637.4 199.7h0M638.0 195.7h0M640.5 212.8h0M641.3 207.1h0M642.2 213.4h0M643.2 198.6h0M644.2 192.1h0M645.5 202.3h0M646.2 206.3h0M647.3 213.7h0M648.3 216.2h0M650.0 218.2h0M650.7 220.9h0M652.6 215.8h0M652.3 211.1h0M654.7 205.8h0M655.8 216.9h0M657.3 208.8h0M657.7 206.7h0M658.2 217.2h0M659.6 215.1h0M661.8 220.6h0M662.2 209.2h0M664.3 217.9h0M665.7 214.5h0M666.7 210.5h0M667.2 208.3h0M668.8 206.7h0M672.1 207.3h0M672.4 222.5h0M673.4 216.3h0M675.4 214.4h0M675.8 215.2h0M676.4 218.2h0" stroke="#404040" stroke-width="1.70" stroke-linecap="round" fill="none"/>
<path d="M408.0 175.5h0M408.9 160.0h0M409.7 170.4h0M410.1 153.7h0M411.0 163.8h0M413.8 152.9h0M413.5 149.1h0M414.3 164.1h0M416.7 155.5h0M416.5 161.8h0M418.7 143.9h0M419.9 144.7h0M420.6 150.5h0M422.0 145.5h0M422.0 150.0h0M423.1 144.5h0M424.7 144.5h0M425.9 138.4h0M426.9 151.8h0M428.3 140.9h0M428.8 135.2h0M429.2 145.9h0M431.5 142.4h0M432.3 140.1h0M433.9 138.7h0M435.6 133.5h0M435.7 135.0h0M437.0 121.4h0M437.4 125.0h0M439.3 125.3h0M440.1 133.7h0M441.2 138.5h0M442.6 129.2h0M442.6 128.5h0M444.6 135.5h0M445.6 125.9h0M447.2 130.9h0M446.6 130.0h0M448.6 118.3h0M450.8 126.8h0M450.6 126.3h0M451.6 117.6h0M453.8 117.2h0M455.2 115.2h0M455.2 131.0h0M455.8 135.1h0M457.0 126.3h0M458.2 131.0h0M459.0 113.3h0M460.1 129.4h0M461.7 132.3h0M462.7 129.9h0M464.0 114.4h0M464.8 126.4h0M465.3 119.1h0M467.4 126.0h0M468.2 115.7h0M468.9 119.5h0M470.1 116.0h0M471.5 122.2h0M472.4 118.8h0M473.4 126.1h0M474.9 124.5h0M476.2 122.2h0M476.6 119.6h0M477.8 118.2h0M478.4 120.1h0M479.9 124.9h0M481.3 121.5h0M482.6 122.8h0M483.3 121.1h0M484.3 121.2h0M485.0 117.9h0M486.6 111.2h0M487.0 126.0h0M488.7 126.6h0M489.7 117.9h0M490.3 135.4h0M492.0 117.7h0M492.9 131.0h0M494.3 127.3h0M494.9 128.0h0M496.4 133.7h0M498.0 133.3h0M498.5 128.1h0M499.8 122.5h0M500.2 121.7h0M501.4 130.9h0M501.8 139.4h0M503.7 136.4h0M504.3 131.3h0M506.0 134.6h0M506.0 136.7h0M507.7 144.0h0M509.2 130.2h0M510.5 139.9h0M510.5 137.3h0M512.2 132.2h0M514.8 132.3h0M515.0 146.1h0M515.7 141.0h0M515.4 137.5h0M517.4 140.5h0M519.2 146.6h0M520.1 141.7h0M521.3 151.2h0M522.6 140.4h0M523.3 137.4h0M524.7 141.7h0M524.5 136.7h0M527.7 140.2h0M527.4 149.7h0M528.3 152.4h0M530.5 145.4h0M531.1 142.5h0M532.4 135.2h0M532.7 134.5h0M534.2 141.6h0M535.5 139.3h0M535.7 134.6h0M537.2 133.8h0M538.3 144.4h0M539.3 139.6h0M540.2 132.6h0M541.0 132.3h0M542.9 135.0h0M543.9 127.5h0M545.4 123.4h0M545.9 111.5h0M546.7 109.0h0M547.4 106.1h0M549.2 99.9h0M550.1 111.3h0M552.3 108.9h0M553.6 99.5h0M554.3 106.2h0M554.2 106.4h0M555.0 102.1h0M556.6 91.7h0M557.4 108.4h0M559.6 106.3h0M560.1 94.4h0M560.9 109.1h0M562.2 97.3h0M563.9 92.0h0M563.9 94.3h0M565.7 85.6h0M565.9 94.7h0M567.5 87.5h0M568.3 104.2h0M569.9 100.0h0M570.9 90.4h0M572.5 103.2h0M573.3 90.1h0M573.8 101.7h0M574.5 104.2h0M575.8 102.9h0M577.1 97.1h0M578.3 104.4h0M579.1 104.9h0M581.1 108.7h0M582.1 118.6h0M582.6 120.5h0M583.6 121.1h0M584.8 109.5h0M585.9 110.5h0M587.0 116.7h0M587.3 119.6h0M589.0 107.2h0M589.4 116.5h0M591.4 134.0h0M592.8 118.1h0M593.0 121.5h0M594.7 124.4h0M595.4 132.7h0M596.4 131.1h0M598.8 133.4h0M599.4 127.2h0M600.3 141.4h0M600.9 138.7h0M602.4 137.2h0M603.2 142.6h0M604.6 149.4h0M605.0 136.5h0M606.5 138.4h0M607.4 143.1h0M608.0 144.9h0M610.6 135.9h0M611.2 151.6h0M611.5 162.4h0M612.3 154.9h0M613.7 165.2h0M614.8 143.5h0M616.0 161.9h0M616.6 171.9h0M618.0 175.1h0M619.5 165.0h0M620.8 164.9h0M620.7 172.0h0M622.7 165.5h0M623.3 171.5h0M624.4 165.1h0M625.8 177.8h0M626.7 178.6h0M628.5 190.8h0M629.6 184.7h0M630.2 179.4h0M631.1 184.1h0M633.4 180.0h0M634.5 189.5h0M634.8 188.5h0M635.6 193.4h0M637.3 198.6h0M638.6 182.6h0M638.7 196.8h0M640.9 202.0h0M641.0 190.5h0M642.7 211.2h0M643.0 195.8h0M644.4 216.5h0M645.2 207.4h0M646.5 210.0h0M648.1 207.6h0M648.3 212.2h0M649.6 201.3h0M651.1 204.3h0M651.7 197.9h0M654.0 215.3h0M653.4 207.1h0M656.4 218.8h0M655.9 217.4h0M657.8 207.4h0M659.2 220.9h0M659.8 218.7h0M659.9 218.4h0M661.5 221.3h0M662.8 219.3h0M664.1 220.5h0M666.6 216.0h0" stroke="#808000" stroke-width="1.70" stroke-linecap="round" fill="none"/>
<path d="M408.2 168.1h0M410.3 171.7h0M410.7 164.9h0M413.0 166.0h0M411.6 171.7h0M413.9 155.9h0M415.1 159.2h0M416.6 157.7h0M418.3 161.0h0M418.6 155.6h0M419.3 161.3h0M421.4 151.5h0M422.9 151.8h0M421.9 159.6h0M424.6 154.8h0M425.6 152.7h0M426.2 150.9h0M427.5 155.7h0M429.0 156.3h0M430.0 144.8h0M431.0 141.7h0M431.6 139.1h0M433.5 153.9h0M434.1 137.5h0M435.6 133.6h0M436.4 142.3h0M437.9 145.6h0M439.3 130.7h0M440.2 136.6h0M441.5 127.7h0M441.6 132.0h0M443.7 144.2h0M444.7 134.7h0M445.4 131.6h0M446.7 132.6h0M446.5 134.0h0M449.1 129.9h0M450.0 122.8h0M450.2 122.7h0M452.7 140.1h0M453.2 123.3h0M454.8 134.0h0M455.7 122.1h0M457.2 133.4h0M458.1 129.3h0M459.0 123.4h0M460.5 135.9h0M461.8 117.8h0M461.4 122.2h0M463.7 117.5h0M464.5 117.7h0M465.4 119.8h0M467.7 115.5h0M468.6 119.0h0M468.8 130.3h0M469.9 110.2h0M471.9 112.6h0M472.3 114.4h0M473.6 117.0h0M473.9 125.8h0M476.0 123.8h0M477.7 122.2h0M478.0 120.5h0M479.3 133.5h0M481.4 112.6h0M482.1 112.5h0M483.5 119.3h0M484.2 120.8h0M485.6 118.3h0M485.3 114.7h0M486.8 112.2h0M487.6 118.5h0M490.6 116.8h0M490.7 118.2h0M491.7 115.0h0M492.5 129.7h0M493.5 124.8h0M493.7 133.3h0M497.4 121.1h0M497.3 124.5h0M498.5 123.4h0M498.9 125.2h0M500.7 124.7h0M502.1 126.2h0M502.9 116.1h0M504.4 127.2h0M504.8 133.2h0M506.5 118.7h0M507.9 129.2h0M508.9 135.3h0M509.9 140.0h0M510.8 132.5h0M511.5 136.1h0M513.4 144.7h0M514.0 142.3h0M514.9 132.2h0M516.9 131.9h0M516.8 141.5h0M518.4 137.1h0M520.2 132.6h0M521.4 134.3h0M521.9 137.5h0M523.2 134.1h0M524.6 133.4h0M525.4 133.2h0M526.2 125.4h0M527.9 143.7h0M528.9 140.0h0M530.0 141.0h0M531.6 129.8h0M532.3 130.7h0M533.1 132.7h0M534.5 132.7h0M536.5 114.7h0M536.3 127.9h0M537.7 118.2h0M538.5 122.6h0M540.2 116.8h0M540.6 130.4h0M542.5 120.5h0M543.8 115.0h0M544.2 122.9h0M545.3 112.4h0M546.1 107.1h0M547.9 107.1h0M548.5 105.1h0M549.9 105.3h0M551.1 108.0h0M552.1 100.7h0M554.0 98.3h0M555.5 102.7h0M554.7 99.4h0M556.5 101.1h0M558.2 94.6h0M558.6 85.6h0M560.0 85.7h0M561.5 81.7h0M563.2 97.8h0M564.2 93.3h0M564.6 88.0h0M566.0 85.0h0M566.8 93.2h0M568.1 90.6h0M568.7 93.5h0M569.5 87.0h0M571.3 86.5h0M573.1 103.8h0M574.1 89.7h0M574.0 95.0h0M575.9 105.1h0M576.8 87.2h0M578.4 104.2h0M578.8 100.9h0M581.0 102.5h0M581.5 105.8h0M583.0 99.3h0M584.3 95.1h0M584.0 119.1h0M586.0 109.3h0M588.0 119.5h0M588.4 121.4h0M590.0 119.3h0M590.8 121.7h0M591.5 124.4h0M593.0 132.1h0M594.5 128.3h0M595.8 135.0h0M597.0 127.8h0M596.8 126.8h0M598.9 133.4h0M598.9 135.3h0M600.7 139.0h0M601.7 149.2h0M603.3 145.1h0M604.3 142.0h0M605.8 156.0h0M606.0 146.4h0M607.9 149.5h0M608.8 151.7h0M609.7 148.2h0M610.2 144.5h0M612.2 154.8h0M613.2 153.7h0M614.6 152.4h0M615.3 159.3h0M616.3 158.9h0M617.8 158.6h0M618.9 153.2h0M620.2 164.5h0M621.9 178.4h0M621.8 173.1h0M624.2 177.6h0M622.8 169.2h0M625.9 179.8h0M626.2 169.9h0M628.7 174.6h0M628.4 180.0h0M630.5 171.2h0M630.6 180.2h0M631.6 183.0h0M633.7 194.0h0M634.9 181.4h0M635.2 188.5h0M637.9 185.6h0M637.6 186.0h0M639.7 175.8h0M639.5 186.1h0M640.7 199.9h0M642.3 198.3h0M642.9 196.8h0M644.8 212.8h0M644.6 201.2h0M646.9 193.3h0M647.6 200.4h0M648.6 202.3h0M650.3 214.1h0M651.2 200.2h0M652.2 209.2h0M653.9 214.3h0M654.8 204.6h0M656.0 211.0h0M657.6 200.1h0M658.0 213.0h0M659.6 200.8h0M660.1 212.0h0M662.8 219.0h0M663.4 217.3h0M664.0 218.4h0M669.2 218.3h0M670.2 218.8h0M671.7 215.9h0M673.0 221.6h0M674.4 219.1h0" stroke="#800000" stroke-width="1.70" stroke-linecap="round" fill="none"/>
<path d="M407.4 162.4h0M408.4 162.0h0M408.3 162.1h0M410.6 171.3h0M412.2 170.8h0M413.5 166.0h0M412.7 170.0h0M414.2 156.5h0M416.6 165.2h0M417.1 155.2h0M418.7 155.5h0M419.7 154.8h0M421.3 142.7h0M421.2 147.5h0M423.0 148.7h0M424.9 150.2h0M425.6 146.2h0M426.3 140.9h0M428.0 137.2h0M429.1 143.7h0M429.6 135.4h0M431.5 133.5h0M432.6 139.4h0M433.4 140.5h0M435.0 132.3h0M435.1 126.1h0M437.2 137.5h0M437.9 140.3h0M438.6 131.7h0M439.9 130.7h0M441.9 116.2h0M442.2 136.9h0M443.4 122.9h0M444.4 133.8h0M445.5 124.5h0M447.4 125.8h0M449.2 124.1h0M449.9 113.1h0M450.6 142.2h0M451.9 113.3h0M452.4 123.7h0M453.5 117.1h0M454.3 120.3h0M456.7 129.4h0M457.0 108.2h0M457.9 118.8h0M459.1 122.4h0M460.6 119.3h0M461.4 120.7h0M462.8 112.7h0M464.0 106.5h0M465.7 108.2h0M465.5 114.1h0M467.4 121.2h0M468.1 116.7h0M469.3 126.5h0M471.5 116.6h0M472.1 117.2h0M472.7 117.2h0M474.3 104.7h0M475.2 119.8h0M476.8 109.1h0M477.2 113.9h0M478.8 131.9h0M479.6 108.9h0M480.8 118.0h0M481.9 119.5h0M482.7 118.7h0M484.2 118.5h0M485.8 115.5h0M486.1 132.2h0M487.4 106.8h0M488.9 113.9h0M489.4 130.5h0M491.4 125.5h0M492.4 117.6h0M492.1 116.5h0M494.0 121.9h0M494.9 141.3h0M497.0 128.7h0M498.2 119.6h0M498.3 127.9h0M499.6 123.3h0M501.1 138.1h0M502.0 131.0h0M503.7 138.6h0M505.0 132.4h0M505.9 145.3h0M507.3 135.9h0M508.3 135.9h0M509.0 127.9h0M509.9 132.6h0M510.9 138.7h0M512.8 134.5h0M513.9 154.8h0M515.1 139.6h0M515.6 135.1h0M516.7 147.4h0M518.1 138.7h0M519.8 146.1h0M520.4 143.4h0M521.5 140.2h0M522.1 154.4h0M523.9 147.3h0M525.0 154.7h0M525.4 145.7h0M527.9 140.4h0M527.7 141.5h0M529.7 147.5h0M530.3 150.0h0M531.6 152.4h0M532.3 155.7h0M533.5 144.9h0M535.3 155.3h0M536.0 146.2h0M537.0 150.0h0M538.7 171.6h0M539.8 163.4h0M540.6 152.9h0M541.8 167.1h0M543.7 164.7h0M543.9 161.2h0M545.3 164.8h0M546.4 153.4h0M546.6 154.2h0M547.5 149.2h0M549.6 157.7h0M551.1 144.9h0M551.9 149.3h0M552.7 155.0h0M553.8 147.9h0M555.6 151.8h0M556.2 160.8h0M556.7 142.0h0M558.9 154.8h0M559.9 140.1h0M561.1 136.8h0M562.5 142.2h0M563.8 145.6h0M564.5 133.1h0M565.3 131.9h0M565.5 133.5h0M567.8 128.1h0M568.7 132.6h0M570.5 124.0h0M571.6 125.4h0M572.4 128.3h0M573.9 121.2h0M574.4 130.8h0M575.5 117.5h0M576.2 116.1h0M577.6 132.8h0M579.0 128.0h0M580.6 117.4h0M580.8 122.1h0M582.7 117.6h0M584.6 111.0h0M583.9 119.1h0M585.5 115.8h0M586.8 121.6h0M588.4 100.8h0M590.0 117.7h0M590.8 113.5h0M591.3 107.9h0M592.0 109.5h0M593.5 109.7h0M594.7 103.8h0M595.9 108.9h0M596.5 117.8h0M598.8 103.5h0M598.8 111.0h0M600.7 98.8h0M601.6 110.8h0M602.0 117.4h0M603.7 115.4h0M604.8 116.7h0M605.9 109.9h0M607.5 122.1h0M608.0 112.9h0M610.6 126.9h0M611.0 122.8h0M611.2 119.0h0M611.5 131.5h0M614.5 122.3h0M615.1 132.2h0M616.2 127.3h0M616.8 127.3h0M617.7 134.9h0M618.6 132.3h0M621.9 133.6h0M622.5 133.7h0M622.6 136.0h0M624.9 138.3h0M624.2 134.7h0M626.6 133.4h0M627.7 124.9h0M628.1 141.6h0M629.4 142.7h0M630.3 153.4h0M631.9 151.0h0M633.7 158.2h0M634.6 163.6h0M635.5 152.9h0M637.0 150.5h0M636.7 160.8h0M639.7 156.5h0M639.8 158.9h0M640.3 170.7h0M641.9 167.5h0M642.9 172.7h0M644.3 159.2h0M645.6 170.2h0M645.4 177.0h0M648.3 166.1h0M649.7 177.9h0M649.4 178.8h0M651.8 165.0h0M652.8 191.9h0M653.8 178.5h0M655.3 184.4h0M654.9 195.7h0M657.1 176.4h0M657.3 191.4h0M660.1 189.5h0M659.6 192.0h0M660.6 187.8h0M662.9 205.1h0M663.8 190.1h0M664.6 200.8h0M665.8 203.5h0M667.2 201.0h0M668.8 201.8h0M668.8 201.7h0M670.0 211.4h0M671.1 208.9h0M672.5 206.8h0M673.6 201.3h0M674.1 209.9h0M676.0 214.0h0M676.4 210.6h0" stroke="#008000" stroke-width="1.70" stroke-linecap="round" fill="none"/>
<path d="M408.2 182.7h0M407.6 192.0h0M410.9 181.9h0M410.6 189.5h0M411.2 181.4h0M412.0 182.0h0M414.4 190.4h0M415.3 175.2h0M416.0 174.3h0M417.1 182.9h0M418.3 177.2h0M419.1 175.6h0M421.0 175.4h0M421.8 187.1h0M422.5 169.1h0M422.8 173.0h0M425.4 173.1h0M425.5 166.8h0M426.3 171.1h0M428.5 171.9h0M429.2 163.6h0M429.0 174.9h0M430.3 161.4h0M432.0 165.3h0M432.6 167.4h0M434.3 181.7h0M436.7 152.4h0M438.0 162.5h0M437.5 175.2h0M439.0 156.8h0M440.1 165.2h0M440.7 159.9h0M441.1 150.6h0M443.5 158.8h0M443.9 151.4h0M445.3 155.7h0M446.5 146.1h0M446.8 158.2h0M449.1 139.3h0M449.4 151.5h0M450.5 158.7h0M451.3 154.0h0M452.9 148.3h0M454.2 148.2h0M454.4 147.0h0M456.1 163.4h0M456.7 147.9h0M457.3 147.8h0M458.9 143.1h0M460.4 143.9h0M461.4 149.5h0M462.8 142.3h0M463.0 141.1h0M464.2 142.1h0M465.5 142.9h0M466.8 145.5h0M467.5 141.7h0M468.2 143.2h0M469.0 140.0h0M471.4 150.7h0M472.4 144.3h0M472.6 142.0h0M474.8 145.3h0M475.1 143.5h0M476.4 135.2h0M477.9 142.9h0M478.1 153.0h0M479.0 146.8h0M479.6 150.5h0M481.7 140.7h0M482.9 136.4h0M484.1 141.0h0M485.1 152.5h0M485.9 139.8h0M487.5 141.4h0M487.5 151.8h0M489.3 144.9h0M490.4 145.6h0M491.2 149.0h0M493.2 148.1h0M493.6 146.2h0M495.1 149.8h0M496.0 144.9h0M496.5 148.8h0M498.6 153.6h0M499.3 144.4h0M499.8 149.3h0M500.8 144.7h0M501.4 155.4h0M502.9 155.4h0M504.0 157.7h0M505.3 158.9h0M506.0 159.2h0M507.6 158.4h0M508.3 150.6h0M508.7 160.2h0M510.3 150.9h0M511.2 169.2h0M512.0 158.4h0M513.6 161.0h0M515.3 151.8h0M515.3 164.6h0M516.0 165.4h0M518.0 151.2h0M520.6 157.5h0M519.9 157.8h0M521.4 157.0h0M522.1 168.2h0M523.8 172.1h0M525.2 153.7h0M525.5 165.1h0M527.2 156.5h0M527.2 165.6h0M528.9 142.6h0M529.2 153.2h0M531.0 159.6h0M531.7 147.5h0M533.2 155.3h0M533.6 145.1h0M535.3 150.1h0M536.4 144.4h0M537.1 136.9h0M538.0 132.2h0M538.9 132.8h0M540.4 135.4h0M541.9 124.0h0M542.7 117.6h0M543.9 135.3h0M545.5 102.5h0M545.8 108.9h0M547.2 108.1h0M548.5 94.5h0M549.4 96.9h0M550.4 91.1h0M551.4 82.1h0M553.4 86.0h0M553.4 77.0h0M554.3 76.2h0M555.9 82.5h0M557.5 65.1h0M558.5 72.2h0M558.9 74.4h0M560.3 70.2h0M561.2 65.5h0M562.1 60.1h0M563.5 51.5h0M564.5 58.6h0M565.3 59.3h0M567.2 52.3h0M567.2 49.7h0M569.2 58.8h0M570.6 47.8h0M571.7 56.0h0M571.9 50.9h0M572.7 44.4h0M573.1 62.7h0M574.9 58.0h0M577.2 59.4h0M576.3 47.8h0M577.4 55.9h0M579.6 60.8h0M580.6 56.4h0M580.5 69.4h0M582.4 52.2h0M583.7 69.4h0M583.8 55.3h0M586.1 61.5h0M586.1 62.9h0M588.4 77.7h0M589.0 71.9h0M589.6 73.4h0M590.2 73.4h0M591.9 73.9h0M593.1 79.7h0M594.2 81.4h0M595.0 86.8h0M596.3 89.1h0M597.9 81.3h0M598.1 91.3h0M599.5 104.5h0M600.9 98.1h0M601.8 102.0h0M603.3 101.6h0M604.7 104.8h0M604.8 108.4h0M606.2 104.3h0M605.7 109.7h0M608.0 106.8h0M609.6 121.5h0M609.8 111.4h0M612.1 129.5h0M611.6 130.0h0M614.2 122.7h0M614.4 135.7h0M615.2 132.0h0M616.5 144.3h0M617.7 138.3h0M618.4 141.6h0M619.3 144.0h0M620.8 156.7h0M622.6 144.1h0M623.4 161.1h0M625.0 161.4h0M625.1 158.4h0M626.3 162.9h0M627.4 172.0h0M628.7 174.6h0M629.9 182.3h0M631.6 173.4h0M632.2 167.7h0M633.0 176.8h0M634.6 182.4h0M634.6 181.0h0M635.4 191.8h0M637.5 201.8h0M638.3 192.9h0M639.4 183.0h0M640.9 201.2h0M641.3 192.8h0M642.5 198.6h0M643.8 205.2h0M645.0 204.5h0M646.3 204.0h0M646.9 206.9h0M648.0 211.2h0M647.8 210.1h0M650.7 221.9h0M650.3 193.6h0M652.2 208.1h0M654.5 211.9h0M654.2 219.2h0M654.6 216.4h0M657.3 210.0h0M658.6 217.7h0M661.2 220.7h0M662.2 219.5h0" stroke="#000080" stroke-width="1.70" stroke-linecap="round" fill="none"/>
<path d="M406.9 149.1L409.2 144.8L411.4 140.5L413.7 136.1L416.0 131.7L418.2 127.3L420.5 122.9L422.8 118.6L425.1 114.3L427.3 110.2L429.6 106.1L431.9 102.1L434.1 98.2L436.4 94.5L438.7 91.0L440.9 87.6L443.2 84.4L445.5 81.4L447.8 78.7L450.0 76.2L452.3 74.0L454.6 72.1L456.8 70.4L459.1 69.1L461.4 68.1L463.6 67.5L465.9 67.3L468.2 67.4L470.5 67.9L472.7 68.8L475.0 70.0L477.3 71.7L479.5 73.6L481.8 75.9L484.1 78.5L486.3 81.4L488.6 84.5L490.9 88.0L493.2 91.7L495.4 95.6L497.7 99.8L500.0 104.2L502.2 108.7L504.5 113.2L506.8 117.7L509.0 122.0L511.3 126.1L513.6 130.1L515.8 133.9L518.1 137.5L520.4 141.0L522.7 144.3L524.9 147.4L527.2 150.3L529.5 153.0L531.7 155.5L534.0 157.9L536.3 160.0L538.5 162.0L540.8 163.8L543.1 165.3L545.4 166.7L547.6 168.0L549.9 169.1L552.2 170.1L554.4 171.0L556.7 171.8L559.0 172.5L561.2 173.1L563.5 173.6L565.8 174.2L568.1 174.6L570.3 175.1L572.6 175.6L574.9 176.0L577.1 176.5L579.4 177.0L581.7 177.6L583.9 178.2L586.2 178.9L588.5 179.7L590.7 180.5L593.0 181.3L595.3 182.2L597.6 183.1L599.8 184.0L602.1 185.0L604.4 186.0L606.6 187.1L608.9 188.2L611.2 189.3L613.4 190.4L615.7 191.5L618.0 192.7L620.3 193.9L622.5 195.0L624.8 196.2L627.1 197.4L629.3 198.6L631.6 199.8L633.9 201.0L636.1 202.2L638.4 203.3L640.7 204.5L643.0 205.6L645.2 206.8L647.5 207.9L649.8 208.9L652.0 210.0L654.3 211.0L656.6 212.0L658.8 212.9L661.1 213.8L663.4 214.7L665.7 215.5L667.9 216.3L670.2 217.0L672.5 217.7L674.7 218.3L677.0 218.8" stroke="#404040" stroke-width="1.6" fill="none" stroke-linejoin="round"/>
<path d="M406.9 168.2L409.1 165.3L411.2 162.5L413.4 159.8L415.6 157.1L417.7 154.4L419.9 151.9L422.1 149.4L424.3 147.0L426.4 144.7L428.6 142.4L430.8 140.3L432.9 138.2L435.1 136.2L437.3 134.4L439.4 132.6L441.6 130.9L443.8 129.3L445.9 127.8L448.1 126.5L450.3 125.2L452.4 124.1L454.6 123.0L456.8 122.1L459.0 121.3L461.1 120.7L463.3 120.2L465.5 119.8L467.6 119.5L469.8 119.4L472.0 119.4L474.1 119.5L476.3 119.8L478.5 120.1L480.6 120.6L482.8 121.2L485.0 121.8L487.1 122.6L489.3 123.5L491.5 124.4L493.7 125.4L495.8 126.5L498.0 127.7L500.2 129.0L502.3 130.3L504.5 131.6L506.7 133.0L508.8 134.5L511.0 136.0L513.2 137.4L515.3 138.7L517.5 139.9L519.7 140.9L521.9 141.7L524.0 142.2L526.2 142.4L528.4 142.2L530.5 141.6L532.7 140.4L534.9 138.8L537.0 136.6L539.2 133.8L541.4 130.3L543.5 126.0L545.7 121.3L547.9 116.4L550.0 111.6L552.2 107.1L554.4 103.4L556.6 100.6L558.7 98.7L560.9 97.4L563.1 96.8L565.2 96.7L567.4 97.1L569.6 97.9L571.7 99.2L573.9 100.8L576.1 102.7L578.2 105.0L580.4 107.5L582.6 110.3L584.8 113.2L586.9 116.4L589.1 119.7L591.3 123.1L593.4 126.5L595.6 130.1L597.8 133.6L599.9 137.1L602.1 140.7L604.3 144.2L606.4 147.6L608.6 151.1L610.8 154.5L612.9 157.9L615.1 161.3L617.3 164.6L619.5 167.9L621.6 171.1L623.8 174.3L626.0 177.5L628.1 180.6L630.3 183.6L632.5 186.6L634.6 189.5L636.8 192.4L639.0 195.1L641.1 197.8L643.3 200.5L645.5 203.0L647.6 205.4L649.8 207.8L652.0 210.0L654.2 212.1L656.3 214.2L658.5 216.1L660.7 217.8L662.8 219.5L665.0 221.0" stroke="#808000" stroke-width="1.6" fill="none" stroke-linejoin="round"/>
<path d="M406.9 175.7L409.2 172.5L411.4 169.4L413.7 166.4L415.9 163.4L418.2 160.6L420.4 157.8L422.7 155.1L424.9 152.6L427.2 150.1L429.4 147.6L431.7 145.3L433.9 143.1L436.2 140.9L438.4 138.9L440.7 136.9L442.9 135.1L445.2 133.3L447.5 131.7L449.7 130.1L452.0 128.6L454.2 127.3L456.5 126.0L458.7 124.8L461.0 123.8L463.2 122.8L465.5 122.0L467.7 121.2L470.0 120.6L472.2 120.1L474.5 119.7L476.7 119.4L479.0 119.3L481.2 119.3L483.5 119.5L485.8 119.8L488.0 120.3L490.3 120.9L492.5 121.7L494.8 122.7L497.0 123.9L499.3 125.3L501.5 126.8L503.8 128.4L506.0 130.0L508.3 131.5L510.5 132.8L512.8 134.0L515.0 135.0L517.3 135.6L519.5 135.8L521.8 135.6L524.1 135.1L526.3 134.2L528.6 132.9L530.8 131.3L533.1 129.3L535.3 127.0L537.6 124.3L539.8 121.3L542.1 118.0L544.3 114.4L546.6 110.5L548.8 106.7L551.1 103.0L553.3 99.6L555.6 96.5L557.8 94.1L560.1 92.3L562.4 91.2L564.6 90.8L566.9 91.0L569.1 91.8L571.4 93.1L573.6 94.9L575.9 97.1L578.1 99.7L580.4 102.6L582.6 105.8L584.9 109.2L587.1 112.8L589.4 116.6L591.6 120.4L593.9 124.3L596.1 128.2L598.4 132.0L600.7 135.8L602.9 139.5L605.2 143.1L607.4 146.6L609.7 150.1L611.9 153.5L614.2 156.9L616.4 160.2L618.7 163.4L620.9 166.6L623.2 169.8L625.4 172.9L627.7 175.9L629.9 179.0L632.2 182.0L634.4 185.0L636.7 188.0L639.0 190.9L641.2 193.7L643.5 196.5L645.7 199.3L648.0 201.9L650.2 204.5L652.5 206.9L654.7 209.3L657.0 211.5L659.2 213.5L661.5 215.5L663.7 217.2L666.0 218.8L668.2 220.3L670.5 221.5L672.7 222.0L675.0 222.0" stroke="#800000" stroke-width="1.6" fill="none" stroke-linejoin="round"/>
<path d="M406.9 188.8L409.1 186.9L411.2 185.0L413.4 183.1L415.5 181.2L417.7 179.2L419.8 177.2L422.0 175.2L424.1 173.2L426.3 171.3L428.4 169.3L430.6 167.4L432.7 165.4L434.9 163.6L437.0 161.7L439.2 160.0L441.3 158.2L443.5 156.6L445.6 155.0L447.8 153.5L449.9 152.0L452.1 150.7L454.2 149.4L456.4 148.3L458.6 147.3L460.7 146.4L462.9 145.6L465.0 145.0L467.2 144.4L469.3 144.1L471.5 143.8L473.6 143.7L475.8 143.8L477.9 143.9L480.1 144.1L482.2 144.5L484.4 144.9L486.5 145.5L488.7 146.1L490.8 146.8L493.0 147.6L495.1 148.5L497.3 149.4L499.4 150.3L501.6 151.4L503.7 152.4L505.9 153.5L508.0 154.7L510.2 155.8L512.4 157.0L514.5 158.2L516.7 159.3L518.8 160.1L521.0 160.6L523.1 160.4L525.3 159.5L527.4 157.8L529.6 155.2L531.7 151.7L533.9 147.3L536.0 142.1L538.2 136.0L540.3 129.2L542.5 122.0L544.6 114.3L546.8 106.6L548.9 98.8L551.1 91.2L553.2 83.9L555.4 77.2L557.5 71.2L559.7 66.0L561.9 61.8L564.0 58.5L566.2 56.0L568.3 54.4L570.5 53.7L572.6 53.7L574.8 54.6L576.9 56.2L579.1 58.5L581.2 61.5L583.4 65.0L585.5 69.0L587.7 73.2L589.8 77.7L592.0 82.3L594.1 86.9L596.3 91.4L598.4 95.8L600.6 100.3L602.7 104.7L604.9 109.3L607.0 114.1L609.2 119.1L611.3 124.4L613.5 130.0L615.7 135.9L617.8 141.9L620.0 147.9L622.1 153.9L624.3 159.6L626.4 165.1L628.6 170.4L630.7 175.4L632.9 180.2L635.0 184.8L637.2 189.2L639.3 193.3L641.5 197.2L643.6 200.8L645.8 204.2L647.9 207.4L650.1 210.4L652.2 213.0L654.4 215.5L656.5 217.7L658.7 219.6L660.8 221.4L663.0 222.0" stroke="#000080" stroke-width="1.6" fill="none" stroke-linejoin="round"/>
<path d="M406.9 164.8L409.2 162.9L411.4 160.9L413.7 158.8L416.0 156.6L418.2 154.4L420.5 152.2L422.8 149.9L425.1 147.6L427.3 145.4L429.6 143.1L431.9 140.8L434.1 138.6L436.4 136.4L438.7 134.3L440.9 132.2L443.2 130.2L445.5 128.3L447.8 126.4L450.0 124.7L452.3 123.1L454.6 121.7L456.8 120.3L459.1 119.2L461.4 118.1L463.6 117.3L465.9 116.7L468.2 116.2L470.5 115.9L472.7 115.9L475.0 116.0L477.3 116.4L479.5 116.9L481.8 117.6L484.1 118.4L486.3 119.4L488.6 120.5L490.9 121.7L493.2 123.0L495.4 124.4L497.7 126.0L500.0 127.6L502.2 129.3L504.5 131.0L506.8 132.8L509.0 134.6L511.3 136.5L513.6 138.4L515.8 140.2L518.1 142.1L520.4 144.0L522.7 145.8L524.9 147.6L527.2 149.2L529.5 150.7L531.7 152.1L534.0 153.2L536.3 154.2L538.5 154.9L540.8 155.3L543.1 155.5L545.4 155.3L547.6 154.7L549.9 153.8L552.2 152.4L554.4 150.6L556.7 148.4L559.0 145.7L561.2 142.6L563.5 139.3L565.8 135.8L568.1 132.3L570.3 128.9L572.6 125.7L574.9 122.7L577.1 120.1L579.4 117.9L581.7 116.1L583.9 114.6L586.2 113.5L588.5 112.8L590.7 112.4L593.0 112.3L595.3 112.5L597.6 113.0L599.8 113.8L602.1 114.8L604.4 116.2L606.6 117.7L608.9 119.5L611.2 121.5L613.4 123.7L615.7 126.2L618.0 128.8L620.3 131.5L622.5 134.5L624.8 137.6L627.1 140.8L629.3 144.1L631.6 147.6L633.9 151.1L636.1 154.7L638.4 158.3L640.7 162.0L643.0 165.7L645.2 169.4L647.5 173.1L649.8 176.7L652.0 180.3L654.3 183.8L656.6 187.3L658.8 190.6L661.1 193.8L663.4 196.8L665.7 199.7L667.9 202.5L670.2 205.0L672.5 207.3L674.7 209.4L677.0 211.3" stroke="#008000" stroke-width="1.6" fill="none" stroke-linejoin="round"/>
<path d="M406.4 27.5V222.5H677.5V27.5" fill="none" stroke="#2a2a2a" stroke-width="1.15"/>
<path d="M406.4 27.5H677.5" fill="none" stroke="#2a2a2a" stroke-width="1.15"/>
<path d="M460.6 222.5v4.0M514.8 222.5v4.0M569.1 222.5v4.0M623.3 222.5v4.0M677.5 222.5v4.0M433.5 222.5v2.3M487.7 222.5v2.3M542 222.5v2.3M596.2 222.5v2.3M650.4 222.5v2.3" stroke="#2a2a2a" stroke-width="1"/>
<text x="460.6" y="238" font-size="11" fill="#000" font-weight="bold" text-anchor="middle" >2</text>
<text x="514.8" y="238" font-size="11" fill="#000" font-weight="bold" text-anchor="middle" >4</text>
<text x="569.1" y="238" font-size="11" fill="#000" font-weight="bold" text-anchor="middle" >6</text>
<text x="623.3" y="238" font-size="11" fill="#000" font-weight="bold" text-anchor="middle" >8</text>
<text x="677.5" y="238" font-size="11" fill="#000" font-weight="bold" text-anchor="middle" >10</text>
<path d="M406.4 222.5h-3.8M406.4 157.5h-3.8M406.4 92.5h-3.8M406.4 27.5h-3.8M406.4 190h-2.2M406.4 125h-2.2M406.4 60h-2.2" stroke="#2a2a2a" stroke-width="1"/>
<text x="399" y="225.7" font-size="11" fill="#000" font-weight="bold" text-anchor="end" >0.0</text>
<text x="399" y="160.7" font-size="11" fill="#000" font-weight="bold" text-anchor="end" >0.5</text>
<text x="399" y="95.7" font-size="11" fill="#000" font-weight="bold" text-anchor="end" >1.0</text>
<text x="399" y="30.7" font-size="11" fill="#000" font-weight="bold" text-anchor="end" >1.5</text>
<text x="368.2" y="15.2" font-size="16" fill="#000" font-weight="bold" text-anchor="start" >B</text>
<text x="0" y="0" font-size="13.3" fill="#000" font-weight="bold" text-anchor="middle" transform="translate(378.4 124.5) rotate(-90)">Normalized dF/dt</text>
<text x="519" y="259.9" font-size="13.3" font-weight="bold">s<tspan font-size="9" dx="0.5" dy="3">20,w</tspan><tspan dx="0.6" dy="-3">(S)</tspan></text>
<text x="421.8" y="52.8" font-size="6.75" fill="#444" font-weight="normal" text-anchor="start" >F-DEX +GRLBD</text>
<text x="503.7" y="60.6" font-size="6.75" fill="#000080" font-weight="normal" text-anchor="start" >+HSP-90 +ATP</text>
<text x="510.9" y="84.9" font-size="6.75" fill="#800000" font-weight="normal" text-anchor="start" >+HSP-90</text>
<text x="585.4" y="46.7" font-size="6.75" fill="#008000" font-weight="normal" text-anchor="start" >+HSP-90 +ATP&#947;S +DAF-41</text>
<text x="600.3" y="67.8" font-size="6.75" fill="#808000" font-weight="normal" text-anchor="start" >+HSP-90 +ATP&#947;S</text>
<path d="M41.0 479.0h0M41.4 481.0h0M41.6 480.4h0M41.8 479.2h0M42.1 479.4h0M42.3 478.4h0M42.5 479.3h0M42.7 480.5h0M42.9 481.6h0M43.1 477.5h0M43.3 478.4h0M43.5 479.1h0M43.8 477.1h0M44.0 479.6h0M44.2 479.5h0M44.4 479.6h0M44.6 480.7h0M44.8 481.6h0M45.0 481.2h0M45.2 480.2h0M45.4 480.7h0M45.7 477.9h0M45.9 477.6h0M46.1 480.5h0M46.3 480.2h0M46.7 478.5h0M46.9 477.0h0M47.1 479.3h0M47.4 477.8h0M47.6 476.8h0M47.8 481.0h0M48.0 481.9h0M48.2 478.9h0M48.4 476.8h0M48.6 478.4h0M48.8 477.6h0M49.0 474.9h0M49.3 479.0h0M49.5 477.9h0M49.7 479.5h0M49.9 475.9h0M50.1 476.7h0M50.3 476.4h0M50.5 473.1h0M50.7 481.0h0M50.9 472.1h0M51.2 473.7h0M51.4 475.0h0M51.6 472.5h0M51.8 476.1h0M52.0 474.2h0M52.2 475.1h0M52.4 475.2h0M52.6 474.7h0M52.9 474.5h0M53.1 473.9h0M53.3 474.8h0M53.5 475.3h0M53.7 473.1h0M53.9 472.5h0M54.1 472.4h0M54.3 473.6h0M54.5 472.1h0M54.8 471.9h0M55.0 469.5h0M55.2 475.9h0M55.4 469.7h0M55.6 475.1h0M55.8 473.2h0M56.0 473.4h0M56.2 471.8h0M56.5 472.0h0M56.7 471.5h0M56.9 471.8h0M57.1 472.1h0M57.3 473.2h0M57.5 468.2h0M57.7 470.8h0M57.9 472.8h0M58.1 472.2h0M58.4 469.4h0M58.6 469.7h0M58.8 469.4h0M59.0 469.1h0M59.2 464.1h0M59.4 469.9h0M59.6 464.9h0M59.8 472.0h0M60.1 468.8h0M60.3 467.2h0M60.5 468.4h0M60.7 467.2h0M60.9 465.7h0M61.1 466.3h0M61.3 467.0h0M61.5 464.5h0M61.7 467.2h0M62.0 467.8h0M62.2 467.5h0M62.4 467.5h0M62.6 467.5h0M62.8 466.2h0M63.0 467.1h0M63.2 464.5h0M63.4 465.0h0M63.7 466.7h0M63.9 467.5h0M64.1 462.9h0M64.3 460.5h0M64.5 467.3h0M64.7 465.2h0M64.9 466.3h0M65.1 464.3h0M65.3 462.8h0M65.6 460.9h0M65.8 460.1h0M66.0 464.5h0M66.2 463.4h0M66.4 461.9h0M66.6 459.0h0M66.8 459.9h0M67.0 459.5h0M67.3 459.9h0M67.5 454.7h0M67.7 460.6h0M67.9 463.0h0M68.1 458.7h0M68.3 459.6h0M68.5 459.9h0M68.7 457.2h0M68.9 459.8h0M69.2 457.1h0M69.4 457.7h0M69.6 458.8h0M69.8 458.0h0M70.0 458.1h0M70.2 455.9h0M70.4 458.9h0M70.6 455.2h0M70.8 458.8h0M71.1 456.0h0M71.3 454.4h0M71.5 456.3h0M71.7 454.2h0M71.9 455.1h0M72.1 455.6h0M72.3 457.2h0M72.5 457.0h0M72.8 456.2h0M73.0 454.5h0M73.2 451.9h0M73.4 454.2h0M73.6 453.8h0M73.8 454.0h0M74.0 453.0h0M74.2 452.8h0M74.4 455.2h0M74.7 444.6h0M74.9 453.2h0M75.1 455.5h0M75.3 451.3h0M75.5 450.7h0M75.7 452.0h0M75.9 451.5h0M76.1 452.5h0M76.4 454.4h0M76.6 451.3h0M76.8 452.4h0M77.0 450.0h0M77.2 450.0h0M77.4 451.3h0M77.6 449.2h0M77.8 452.6h0M78.0 449.2h0M78.3 449.5h0M78.5 447.6h0M78.7 448.5h0M78.9 447.2h0M79.1 448.0h0M79.3 445.2h0M79.5 448.4h0M79.7 451.6h0M80.0 444.3h0M80.2 451.1h0M80.4 447.3h0M80.6 449.0h0M80.8 445.0h0M81.0 450.7h0M81.2 444.4h0M81.4 446.1h0M81.6 449.1h0M81.9 443.3h0M82.1 441.0h0M82.3 445.1h0M82.5 443.5h0M82.7 442.9h0M82.9 442.7h0M83.1 441.4h0M83.3 446.8h0M83.6 446.2h0M83.8 440.8h0M84.0 443.1h0M84.2 442.1h0M84.4 444.9h0M84.6 440.8h0M84.8 445.4h0M85.0 442.0h0M85.2 440.2h0M85.5 441.3h0M85.7 440.1h0M85.9 445.4h0M86.1 441.0h0M86.3 439.5h0M86.5 440.4h0M86.7 442.9h0M86.9 437.8h0M87.2 436.1h0M87.4 441.8h0M87.6 440.1h0M87.8 437.8h0M88.0 438.3h0M88.2 440.4h0M88.4 432.5h0M88.6 440.2h0M88.8 437.1h0M89.1 438.5h0M89.3 436.8h0M89.5 442.8h0M89.7 435.2h0M89.9 438.3h0M90.1 430.7h0M90.3 435.7h0M90.5 436.9h0M90.7 432.0h0M91.0 430.8h0M91.2 434.8h0M91.4 436.4h0M91.6 436.4h0M91.8 432.5h0M92.0 434.3h0M92.2 430.5h0M92.4 436.5h0M92.7 431.7h0M92.9 435.1h0M93.1 431.8h0M93.3 431.4h0M93.5 435.0h0M93.7 429.8h0M93.9 433.9h0M94.1 430.3h0M94.3 429.0h0M94.6 428.9h0M94.8 432.5h0M95.0 429.9h0M95.2 429.1h0M95.4 426.5h0M95.6 431.6h0M95.8 431.1h0M96.0 429.4h0M96.3 430.1h0M96.5 421.8h0M96.7 427.0h0M96.9 428.2h0M97.1 427.8h0M97.3 426.2h0M97.5 427.6h0M97.7 425.4h0M97.9 425.3h0M98.2 423.9h0M98.4 426.4h0M98.6 424.5h0M98.8 424.7h0M99.0 428.2h0M99.2 425.1h0M99.4 424.9h0M99.6 421.6h0M99.9 423.4h0M100.1 426.2h0M100.3 425.1h0M100.5 423.9h0M100.7 423.2h0M100.9 423.4h0M101.1 423.9h0M101.3 422.2h0M101.5 417.6h0M101.8 426.3h0M102.0 423.2h0M102.2 421.6h0M102.4 424.5h0M102.6 418.9h0M102.8 423.8h0M103.0 423.6h0M103.2 422.6h0M103.5 419.9h0M103.7 420.7h0M103.9 421.3h0M104.1 422.0h0M104.3 420.7h0M104.5 420.4h0M104.7 418.1h0M104.9 422.5h0M105.1 419.3h0M105.4 418.2h0M105.6 417.8h0M105.8 415.8h0M106.0 416.5h0M106.2 414.8h0M106.4 418.0h0M106.6 417.2h0M106.8 417.6h0M107.1 414.5h0M107.3 415.9h0M107.5 415.3h0M107.7 418.4h0M107.9 413.2h0M108.1 412.9h0M108.3 418.3h0M108.5 416.3h0M108.7 412.2h0M109.0 417.9h0M109.2 418.0h0M109.4 417.1h0M109.6 410.5h0M109.8 414.6h0M110.0 412.5h0M110.2 413.5h0M110.4 410.7h0M110.6 417.1h0M110.9 412.1h0M111.1 413.8h0M111.3 414.7h0M111.5 414.1h0M111.7 413.5h0M111.9 408.8h0M112.1 412.8h0M112.3 411.7h0M112.6 407.5h0M112.8 413.8h0M113.0 410.4h0M113.2 410.4h0M113.4 410.5h0M113.6 408.4h0M113.8 408.6h0M114.0 407.2h0M114.2 411.6h0M114.5 412.8h0M114.7 410.5h0M114.9 407.9h0M115.1 412.6h0M115.3 409.2h0M115.5 406.5h0M115.7 405.8h0M115.9 409.7h0M116.2 412.1h0M116.4 408.3h0M116.6 407.7h0M116.8 408.2h0M117.0 406.9h0M117.2 407.4h0M117.4 408.8h0M117.6 406.7h0M117.8 409.9h0M118.1 406.0h0M118.3 409.2h0M118.5 408.3h0M118.7 406.7h0M118.9 406.7h0M119.1 406.5h0M119.3 410.4h0M119.5 405.3h0M119.8 409.1h0M120.0 408.6h0M120.2 405.8h0M120.4 409.6h0M120.6 401.4h0M120.8 406.5h0M121.0 406.2h0M121.2 405.8h0M121.4 407.3h0M121.7 404.7h0M121.9 405.0h0M122.1 407.5h0M122.3 404.8h0M122.5 402.8h0M122.7 405.9h0M122.9 404.4h0M123.1 403.3h0M123.4 405.4h0M123.6 402.6h0M123.8 402.0h0M124.0 403.3h0M124.2 403.3h0M124.4 403.6h0M124.6 401.0h0M124.8 406.7h0M125.0 404.4h0M125.3 403.2h0M125.5 403.2h0M125.7 397.6h0M125.9 404.3h0M126.1 400.3h0M126.3 403.2h0M126.5 399.6h0M126.7 403.8h0M127.0 400.6h0M127.2 401.1h0M127.4 404.5h0M127.6 403.2h0M127.8 398.3h0M128.0 399.5h0M128.2 401.2h0M128.4 400.2h0M128.6 402.1h0M128.9 399.0h0M129.1 396.5h0M129.3 398.2h0M129.5 399.6h0M129.7 400.9h0M129.9 401.1h0M130.1 402.0h0M130.3 399.8h0M130.5 398.8h0M130.8 400.5h0M131.0 398.7h0M131.2 397.9h0M131.4 397.7h0M131.6 400.4h0M131.8 401.4h0M132.0 400.9h0M132.2 394.9h0M132.5 400.2h0M132.7 395.6h0M132.9 397.0h0M133.1 398.7h0M133.3 394.7h0M133.5 394.8h0M133.7 395.6h0M133.9 400.4h0M134.1 399.0h0M134.4 394.9h0M134.6 396.9h0M134.8 396.7h0M135.0 397.0h0M135.2 394.8h0M135.4 398.9h0M135.6 395.2h0M135.8 397.4h0M136.1 392.3h0M136.3 396.3h0M136.5 395.7h0M136.7 398.0h0M136.9 390.0h0M137.1 396.1h0M137.3 396.5h0M137.5 394.2h0M137.7 397.3h0M138.0 398.7h0M138.2 396.2h0M138.4 395.9h0M138.6 396.9h0M138.8 394.9h0M139.0 396.4h0M139.2 395.0h0M139.4 392.3h0M139.7 391.5h0M139.9 395.8h0M140.1 394.6h0M140.3 391.9h0M140.5 393.2h0M140.7 396.0h0M140.9 389.5h0M141.1 391.0h0M141.3 394.1h0M141.6 394.2h0M141.8 390.1h0M142.0 390.4h0M142.2 392.6h0M142.4 395.0h0M142.6 392.1h0M142.8 387.3h0M143.0 393.9h0M143.3 391.7h0M143.5 390.7h0M143.7 389.2h0M143.9 393.8h0M144.1 391.9h0M144.3 392.1h0M144.5 391.8h0M144.7 391.9h0M144.9 392.6h0M145.2 394.3h0M145.4 388.6h0M145.6 390.5h0M145.8 389.6h0M146.0 393.8h0M146.2 389.8h0M146.4 387.0h0M146.6 390.1h0M146.9 388.6h0M147.1 388.5h0M147.3 389.0h0M147.5 387.2h0M147.7 385.8h0M147.9 393.5h0M148.1 389.3h0M148.3 387.5h0M148.5 390.6h0M148.8 391.9h0M149.0 385.6h0M149.2 388.2h0M149.4 387.6h0M149.6 387.2h0M149.8 389.7h0M150.0 386.2h0M150.2 387.3h0M150.4 388.3h0M150.7 389.3h0M150.9 388.4h0M151.1 386.9h0M151.3 387.4h0M151.5 383.8h0M151.7 392.3h0M151.9 387.1h0M152.1 387.2h0M152.4 388.3h0M152.6 388.8h0M152.8 388.2h0M153.0 386.1h0M153.2 384.1h0M153.4 386.9h0M153.6 385.6h0M153.8 386.0h0M154.0 387.0h0M154.3 387.4h0M154.5 389.5h0M154.7 386.5h0M154.9 383.3h0M155.1 387.8h0M155.3 388.4h0M155.5 383.2h0M155.7 387.6h0M156.0 386.7h0M156.2 385.1h0M156.4 386.5h0M156.6 386.8h0M156.8 387.2h0M157.0 388.2h0M157.2 385.8h0M157.4 385.7h0M157.6 390.5h0M157.9 383.4h0M158.1 384.9h0M158.3 384.7h0M158.5 386.9h0M158.7 387.5h0M158.9 382.5h0M159.1 387.6h0M159.3 382.7h0M159.6 390.2h0M159.8 383.5h0M160.0 387.0h0M160.2 384.2h0M160.4 386.1h0M160.6 383.1h0M160.8 384.8h0M161.0 384.5h0M161.2 384.6h0M161.5 385.9h0M161.7 383.4h0M161.9 383.5h0M162.1 381.5h0M162.3 383.7h0M162.5 383.0h0M162.7 385.7h0M162.9 385.2h0M163.2 382.3h0M163.4 384.6h0M163.6 386.2h0M163.8 383.1h0M164.0 381.1h0M164.2 388.3h0M164.4 384.4h0M164.6 384.7h0M164.8 388.2h0M165.1 381.5h0M165.3 383.7h0M165.5 379.2h0M165.7 383.9h0M165.9 383.6h0M166.1 381.2h0M166.3 381.0h0M166.5 382.3h0M166.8 382.1h0M167.0 385.7h0M167.2 381.9h0M167.4 382.0h0M167.6 381.9h0M167.8 379.0h0M168.0 381.2h0M168.2 379.4h0M168.4 382.3h0M168.7 377.5h0M168.9 379.6h0M169.1 382.3h0M169.3 377.5h0M169.5 378.5h0M169.7 383.6h0M169.9 378.8h0M170.1 381.4h0M170.3 382.0h0M170.6 379.1h0M170.8 377.8h0M171.0 384.2h0M171.2 379.9h0M171.4 382.0h0M171.6 379.4h0M171.8 381.5h0M172.0 378.1h0M172.3 377.9h0M172.5 378.5h0M172.7 379.2h0M172.9 379.2h0M173.1 379.7h0M173.3 381.1h0M173.5 379.1h0M173.7 382.0h0M173.9 378.7h0M174.2 381.3h0M174.4 382.5h0M174.6 383.3h0M174.8 375.7h0M175.0 383.1h0M175.2 376.0h0M175.4 382.3h0M175.6 379.4h0M175.9 380.0h0M176.1 377.4h0M176.3 381.1h0M176.5 380.5h0M176.7 377.9h0M176.9 377.7h0M177.1 380.6h0M177.3 380.9h0M177.5 380.3h0M177.8 377.9h0M178.0 378.6h0M178.2 380.4h0M178.4 380.1h0M178.6 380.6h0M178.8 378.5h0M179.0 376.8h0M179.2 378.7h0M179.5 378.9h0M179.7 376.9h0M179.9 378.8h0M180.1 376.1h0M180.3 378.2h0M180.5 376.4h0M180.7 381.8h0M180.9 379.9h0M181.1 377.9h0M181.4 374.7h0M181.6 374.8h0M181.8 378.6h0M182.0 376.8h0M182.2 377.6h0M182.4 373.8h0M182.6 373.8h0M182.8 377.0h0M183.1 376.3h0M183.3 373.9h0M183.5 374.9h0M183.7 378.0h0M183.9 375.5h0M184.1 377.4h0M184.3 379.5h0M184.5 376.8h0M184.7 376.3h0M185.0 374.8h0M185.2 378.3h0M185.4 372.9h0M185.6 373.5h0M185.8 375.6h0M186.0 372.6h0M186.2 377.5h0M186.4 374.2h0M186.7 376.4h0M186.9 374.7h0M187.1 374.7h0M187.3 375.2h0M187.5 371.1h0M187.7 372.8h0M187.9 374.0h0M188.1 379.3h0M188.3 376.4h0M188.6 376.1h0M188.8 372.5h0M189.0 376.3h0M189.2 375.5h0M189.4 375.9h0M189.6 379.6h0M189.8 371.5h0M190.0 372.0h0M190.2 373.6h0M190.5 372.1h0M190.7 374.1h0M190.9 374.9h0M191.1 373.8h0M191.3 373.9h0M191.5 374.5h0M191.7 375.2h0M191.9 372.2h0M192.2 372.1h0M192.4 375.8h0M192.6 372.7h0M192.8 371.6h0M193.0 373.8h0M193.2 372.4h0M193.4 373.3h0M193.6 372.9h0M193.8 374.2h0M194.1 374.7h0M194.3 371.2h0M194.5 370.3h0M194.7 375.9h0M194.9 371.3h0M195.1 369.5h0M195.3 368.7h0M195.5 372.4h0M195.8 371.1h0M196.0 368.7h0M196.2 370.4h0M196.4 370.1h0M196.6 374.2h0M196.8 372.6h0M197.0 372.1h0M197.2 369.5h0M197.4 371.6h0M197.7 373.3h0M197.9 372.2h0M198.1 373.9h0M198.3 371.9h0M198.5 373.1h0M198.7 372.6h0M198.9 370.5h0M199.1 374.3h0M199.4 372.3h0M199.6 373.1h0M199.8 369.3h0M200.0 369.2h0M200.2 371.0h0M200.4 369.7h0M200.6 372.5h0M200.8 372.0h0M201.0 373.6h0M201.3 372.3h0M201.5 368.8h0M201.7 372.9h0M201.9 369.7h0M202.1 369.4h0M202.3 371.0h0M202.5 370.8h0M202.7 372.8h0M203.0 376.4h0M203.2 371.5h0M203.4 373.5h0M203.6 370.2h0M203.8 371.2h0M204.0 369.5h0M204.2 369.6h0M204.4 373.1h0M204.6 371.3h0M204.9 371.2h0M205.1 368.7h0M205.3 373.7h0M205.5 369.8h0M205.7 368.9h0M205.9 370.1h0M206.1 371.4h0M206.3 371.5h0M206.6 372.9h0M206.8 367.8h0M207.0 369.0h0M207.2 373.0h0M207.4 374.4h0M207.6 368.5h0M207.8 369.5h0M208.0 366.6h0M208.2 368.0h0M208.5 367.9h0M208.7 369.4h0M208.9 367.2h0M209.1 371.4h0M209.3 369.3h0M209.5 368.9h0M209.7 371.2h0M209.9 368.8h0M210.1 366.8h0M210.4 369.3h0M210.6 373.6h0M210.8 369.4h0M211.0 370.2h0M211.2 368.7h0M211.4 368.6h0M211.6 370.1h0M211.8 363.7h0M212.1 366.5h0M212.3 367.7h0M212.5 368.4h0M212.7 371.8h0M212.9 373.7h0M213.1 370.0h0M213.3 369.5h0M213.5 370.1h0M213.7 371.7h0M214.0 366.7h0M214.2 367.6h0M214.4 368.9h0M214.6 368.1h0M214.8 364.7h0M215.0 369.3h0M215.2 365.3h0M215.4 369.9h0M215.7 370.1h0M215.9 363.8h0M216.1 369.3h0M216.3 368.7h0M216.5 367.0h0M216.7 370.1h0M216.9 372.2h0M217.1 369.1h0M217.3 365.9h0M217.6 365.2h0M217.8 365.7h0M218.0 366.0h0M218.2 370.2h0M218.4 368.5h0M218.6 367.8h0M218.8 369.6h0M219.0 367.9h0M219.3 367.9h0M219.5 366.1h0M219.7 366.5h0M219.9 367.8h0M220.1 365.3h0M220.3 370.9h0M220.5 367.8h0M220.7 366.5h0M220.9 369.5h0M221.2 365.4h0M221.4 369.6h0M221.6 367.6h0M221.8 371.1h0M222.0 366.3h0M222.2 366.5h0M222.4 365.6h0M222.6 364.8h0M222.9 367.7h0M223.1 365.1h0M223.3 367.8h0M223.5 365.8h0M223.7 369.2h0M223.9 362.0h0M224.1 367.9h0M224.3 367.1h0M224.5 367.0h0M224.8 365.7h0M225.0 370.4h0M225.2 366.0h0M225.4 367.7h0M225.6 366.3h0M225.8 366.0h0M226.0 366.9h0M226.2 368.0h0M226.5 364.4h0M226.7 365.7h0M226.9 363.8h0M227.1 367.4h0M227.3 364.8h0M227.5 365.0h0M227.7 367.8h0M227.9 366.4h0M228.1 367.2h0M228.4 366.1h0M228.6 367.2h0M228.8 366.5h0M229.0 364.1h0M229.2 366.7h0M229.4 365.6h0M229.6 365.7h0M229.8 366.7h0M230.0 365.1h0M230.3 364.0h0M230.5 368.5h0M230.7 369.7h0M230.9 365.4h0M231.1 368.3h0M231.3 366.8h0M231.5 364.7h0M231.7 364.3h0M232.0 365.4h0M232.2 365.0h0M232.4 365.2h0M232.6 365.6h0M232.8 363.6h0M233.0 367.5h0M233.2 363.5h0M233.4 363.6h0M233.6 367.6h0M233.9 367.2h0M234.1 368.6h0M234.3 365.9h0M234.5 364.4h0M234.7 367.9h0M234.9 365.4h0M235.1 365.3h0M235.3 363.9h0M235.6 366.4h0M235.8 360.8h0M236.0 366.6h0M236.2 361.5h0M236.4 367.2h0M236.6 362.4h0M236.8 366.8h0M237.0 370.4h0M237.2 364.9h0M237.5 363.1h0M237.7 369.3h0M237.9 364.5h0M238.1 363.1h0M238.3 367.9h0M238.5 359.7h0M238.7 362.4h0M238.9 362.7h0M239.2 363.9h0M239.4 361.2h0M239.6 366.9h0M239.8 367.3h0M240.0 365.1h0M240.2 364.4h0M240.4 362.1h0M240.6 366.2h0M240.8 363.8h0M241.1 366.4h0M241.3 367.2h0M241.5 365.3h0M241.7 360.9h0M241.9 363.3h0M242.1 367.9h0M242.3 365.7h0M242.5 368.0h0M242.8 360.7h0M243.0 364.9h0M243.2 364.8h0M243.4 361.8h0M243.6 363.8h0M243.8 367.0h0M244.0 366.1h0M244.2 364.0h0M244.4 365.7h0M244.7 367.4h0M244.9 362.9h0M245.1 365.6h0M245.3 352.8h0M245.5 363.6h0M245.7 367.6h0M245.9 364.8h0M246.1 367.2h0M246.4 366.8h0M246.6 365.5h0M246.8 364.4h0M247.0 363.6h0M247.2 365.3h0M247.4 365.4h0M247.6 367.7h0M247.8 364.8h0M248.0 365.6h0M248.3 368.3h0M248.5 365.6h0M248.7 365.8h0M248.9 368.1h0M249.1 365.1h0M249.3 365.7h0M249.5 366.4h0M249.7 364.6h0M249.9 362.6h0M250.2 361.9h0M250.4 364.4h0M250.6 367.1h0M250.8 366.8h0M251.0 368.1h0M251.2 366.6h0M251.4 363.5h0M251.6 361.9h0M251.9 363.8h0M252.1 364.3h0M252.3 363.3h0M252.5 366.6h0M252.7 363.2h0M252.9 365.9h0M253.1 366.3h0M253.3 361.3h0M253.5 363.9h0M253.8 367.2h0M254.0 366.4h0M254.2 365.0h0M254.4 362.5h0M254.6 363.3h0M254.8 364.9h0M255.0 367.2h0M255.2 365.7h0M255.5 364.5h0M255.7 365.1h0M255.9 366.2h0M256.1 361.2h0M256.3 362.7h0M256.5 364.7h0M256.7 367.1h0M256.9 366.8h0M257.1 363.1h0M257.4 364.7h0M257.6 363.1h0M257.8 363.8h0M258.0 364.9h0M258.2 363.9h0M258.4 363.5h0M258.6 362.2h0M258.8 361.4h0M259.1 364.2h0M259.3 364.9h0M259.5 365.8h0M259.7 362.9h0M259.9 363.1h0M260.1 367.0h0M260.3 365.3h0M260.5 366.3h0M260.7 363.4h0M261.0 363.1h0M261.2 362.2h0M261.4 366.5h0M261.6 362.2h0M261.8 361.0h0M262.0 363.0h0M262.2 367.0h0M262.4 364.5h0M262.7 364.9h0M262.9 364.7h0M263.1 364.3h0M263.3 364.1h0M263.5 361.6h0M263.7 367.7h0M263.9 364.1h0M264.1 366.8h0M264.3 361.2h0M264.6 365.4h0M264.8 362.0h0M265.0 361.8h0M265.2 364.9h0M265.4 366.4h0M265.6 367.0h0M265.8 367.0h0M266.0 363.8h0M266.3 365.9h0M266.5 363.1h0M266.7 363.2h0M266.9 364.7h0M267.1 364.0h0M267.3 365.9h0M267.5 360.6h0M267.7 366.5h0M267.9 363.1h0M268.2 367.2h0M268.4 366.5h0M268.6 361.9h0M268.8 364.1h0M269.0 365.5h0M269.2 362.6h0M269.4 362.7h0M269.6 363.6h0M269.8 365.6h0M270.1 366.0h0M270.3 363.3h0M270.5 365.8h0M270.7 367.1h0M270.9 366.0h0M271.1 362.7h0M271.3 362.4h0M271.5 364.7h0M271.8 365.7h0M272.0 364.9h0M272.2 363.3h0M272.4 362.2h0M272.6 366.6h0M272.8 363.8h0M273.0 367.8h0M273.2 361.8h0M273.4 363.4h0M273.7 362.8h0M273.9 367.7h0M274.1 366.5h0M274.3 363.1h0M274.5 360.2h0M274.7 366.3h0M274.9 364.3h0M275.1 361.8h0M275.4 361.0h0M275.6 364.8h0M275.8 363.6h0M276.0 364.3h0M276.2 364.8h0M276.4 363.3h0M276.6 363.5h0M276.8 365.3h0M277.0 363.8h0M277.3 363.4h0M277.5 365.3h0M277.7 360.1h0M277.9 366.5h0M278.1 364.9h0M278.3 362.5h0M278.5 363.6h0M278.7 366.4h0M279.0 365.1h0M279.2 360.5h0M279.4 362.0h0M279.6 364.4h0M279.8 367.5h0M280.0 365.5h0M280.2 363.6h0M280.4 365.1h0M280.6 364.0h0M280.9 363.4h0M281.1 364.8h0M281.3 359.8h0M281.5 366.0h0M281.7 365.1h0M281.9 363.1h0M282.1 362.3h0M282.3 361.6h0M282.6 364.5h0M282.8 364.3h0M283.0 364.3h0M283.2 367.4h0M283.4 359.6h0M283.6 362.6h0M283.8 362.5h0M284.0 365.9h0M284.2 363.5h0M284.5 362.1h0M284.7 364.4h0M284.9 364.8h0M285.1 367.2h0M285.3 364.5h0M285.5 363.1h0M285.7 363.0h0M285.9 362.4h0M286.2 365.0h0M286.4 365.6h0M286.6 363.6h0M286.8 363.7h0M287.0 366.7h0M287.2 364.2h0M287.4 365.0h0M287.6 361.8h0M287.8 362.8h0M288.1 359.8h0M288.3 361.3h0M288.5 364.7h0M288.7 366.5h0M288.9 363.5h0M289.1 361.6h0M289.3 364.2h0M289.5 366.3h0M289.7 363.7h0M290.0 365.8h0M290.2 363.9h0M290.4 361.6h0M290.6 362.2h0M290.8 363.5h0M291.0 368.5h0M291.2 365.2h0M291.4 363.5h0M291.7 364.6h0M291.9 364.4h0M292.1 363.1h0M292.3 363.8h0M292.5 363.5h0M292.7 365.5h0M292.9 367.1h0M293.1 366.6h0M293.3 363.4h0M293.6 365.1h0M293.8 362.6h0M294.0 361.8h0M294.2 364.2h0M294.4 365.2h0M294.6 363.9h0M294.8 365.6h0M295.0 365.6h0M295.3 365.5h0M295.5 363.7h0M295.7 361.3h0M295.9 367.6h0M296.1 363.1h0M296.3 365.5h0M296.5 365.0h0M296.7 363.3h0M296.9 367.6h0M297.2 365.3h0M297.4 364.0h0M297.6 363.2h0M297.8 362.1h0M298.0 361.5h0M298.2 365.1h0M298.4 363.1h0M298.6 363.1h0M298.9 377.0h0M299.1 363.3h0M299.3 365.3h0M299.5 362.7h0M299.7 363.0h0M299.9 365.8h0M300.1 362.7h0M300.3 365.2h0M300.5 365.0h0M300.8 364.0h0M301.0 360.7h0M301.2 361.4h0M301.4 361.8h0M301.6 361.5h0M301.8 365.7h0M302.0 362.3h0M302.2 361.5h0M302.5 363.0h0M302.7 363.8h0M302.9 360.7h0M303.1 365.2h0M303.3 365.4h0M303.5 362.8h0M303.7 365.6h0M303.9 360.9h0M304.1 362.9h0M304.4 363.6h0M304.6 364.1h0M304.8 366.2h0M305.0 363.3h0M305.2 361.9h0M305.4 364.3h0M305.6 364.2h0M305.8 364.8h0M306.1 363.2h0M306.3 364.2h0M306.5 362.7h0M306.7 365.0h0M306.9 362.5h0M307.1 362.6h0M307.3 366.1h0M307.5 362.3h0M307.7 363.8h0M308.0 364.9h0M308.2 363.1h0M308.4 365.5h0M308.6 362.6h0M308.8 365.8h0M309.0 360.7h0M309.2 361.1h0M309.4 363.8h0M309.6 366.5h0M309.9 366.9h0M310.1 362.0h0M310.3 363.6h0M310.5 362.7h0M310.7 359.4h0M310.9 365.0h0M311.1 362.9h0M311.3 366.3h0M311.6 364.1h0M311.8 362.5h0M312.0 362.2h0M312.2 363.2h0M312.4 364.4h0M312.6 362.5h0M312.8 369.0h0M313.0 363.9h0M313.2 361.2h0M313.5 363.6h0M313.7 365.7h0M313.9 364.3h0M314.1 362.8h0M314.3 362.1h0M314.5 361.8h0M314.7 361.0h0M314.9 362.3h0M315.2 363.9h0M315.4 362.2h0M315.6 366.5h0M315.8 364.1h0M316.0 362.4h0" stroke="#404040" stroke-width="2.20" stroke-linecap="round" fill="none"/>
<path d="M40.2 481.4h0M40.5 480.6h0M40.7 477.6h0M40.9 480.8h0M41.4 479.7h0M41.6 471.3h0M41.8 478.4h0M42.3 481.6h0M42.5 474.8h0M42.8 477.9h0M43.0 470.6h0M43.2 478.5h0M43.5 472.4h0M43.7 473.5h0M43.9 473.2h0M44.1 472.3h0M44.4 481.4h0M44.6 480.4h0M44.8 473.3h0M45.1 474.6h0M45.3 480.5h0M45.5 472.6h0M45.8 471.8h0M46.0 470.0h0M46.2 479.1h0M46.4 473.5h0M46.7 472.7h0M46.9 470.8h0M47.1 468.7h0M47.4 475.7h0M47.6 468.8h0M47.8 469.5h0M48.1 464.8h0M48.3 466.9h0M48.5 468.9h0M48.7 468.8h0M49.0 464.6h0M49.2 467.9h0M49.4 469.5h0M49.7 459.7h0M49.9 471.9h0M50.1 468.4h0M50.4 464.1h0M50.6 468.0h0M50.8 470.6h0M51.0 468.6h0M51.3 468.6h0M51.5 468.3h0M51.7 470.6h0M52.0 462.6h0M52.2 465.4h0M52.4 469.0h0M52.7 467.4h0M52.9 463.0h0M53.1 465.8h0M53.4 464.0h0M53.6 466.6h0M53.8 459.9h0M54.0 459.8h0M54.3 460.3h0M54.5 465.2h0M54.7 475.1h0M55.0 469.1h0M55.2 469.9h0M55.4 465.0h0M55.7 470.9h0M55.9 465.9h0M56.1 464.6h0M56.3 468.4h0M56.6 459.3h0M56.8 455.3h0M57.0 459.0h0M57.3 468.8h0M57.5 466.7h0M57.7 463.7h0M58.0 461.9h0M58.2 461.9h0M58.4 463.9h0M58.6 458.9h0M58.9 465.0h0M59.1 458.0h0M59.3 466.8h0M59.6 460.1h0M59.8 457.6h0M60.0 459.9h0M60.3 457.2h0M60.5 460.1h0M60.7 453.4h0M60.9 458.3h0M61.2 460.3h0M61.4 461.3h0M61.6 458.1h0M61.9 464.1h0M62.1 452.7h0M62.3 458.2h0M62.6 457.0h0M62.8 458.6h0M63.0 457.4h0M63.2 463.6h0M63.5 458.0h0M63.7 454.3h0M63.9 467.3h0M64.2 457.6h0M64.4 456.6h0M64.6 460.5h0M64.9 454.6h0M65.1 455.8h0M65.3 459.8h0M65.6 451.7h0M65.8 454.3h0M66.0 459.5h0M66.2 462.7h0M66.5 455.2h0M66.7 454.9h0M66.9 459.3h0M67.2 449.2h0M67.4 452.0h0M67.6 451.4h0M67.9 446.3h0M68.1 442.9h0M68.3 452.4h0M68.5 457.3h0M68.8 456.1h0M69.0 458.3h0M69.2 442.5h0M69.5 452.4h0M69.7 458.0h0M69.9 449.2h0M70.2 447.3h0M70.4 453.6h0M70.6 452.1h0M70.8 454.3h0M71.1 451.6h0M71.3 456.2h0M71.5 453.9h0M71.8 452.0h0M72.0 449.3h0M72.2 453.4h0M72.5 447.8h0M72.7 453.9h0M72.9 454.5h0M73.1 453.5h0M73.4 444.6h0M73.6 451.1h0M73.8 450.6h0M74.1 452.3h0M74.3 442.7h0M74.5 446.2h0M74.8 448.0h0M75.0 446.9h0M75.2 445.5h0M75.4 451.2h0M75.7 448.0h0M75.9 454.8h0M76.1 448.3h0M76.4 440.5h0M76.6 445.5h0M76.8 447.3h0M77.1 451.1h0M77.3 448.5h0M77.5 444.5h0M77.8 440.4h0M78.0 445.3h0M78.2 444.4h0M78.4 449.8h0M78.7 448.0h0M78.9 438.6h0M79.1 434.8h0M79.4 442.0h0M79.6 444.3h0M79.8 439.2h0M80.1 440.7h0M80.3 447.1h0M80.5 445.0h0M80.7 435.0h0M81.0 442.8h0M81.2 456.4h0M81.4 440.1h0M81.7 442.7h0M81.9 442.5h0M82.1 449.6h0M82.4 440.4h0M82.6 436.3h0M82.8 436.9h0M83.0 441.3h0M83.3 445.8h0M83.5 440.2h0M83.7 439.6h0M84.0 438.2h0M84.2 435.1h0M84.4 436.8h0M84.7 431.4h0M84.9 438.7h0M85.1 437.3h0M85.3 435.8h0M85.6 431.4h0M85.8 433.4h0M86.0 431.8h0M86.3 434.9h0M86.5 432.3h0M86.7 434.5h0M87.0 436.4h0M87.2 437.4h0M87.4 428.1h0M87.6 430.4h0M87.9 427.1h0M88.1 436.0h0M88.3 427.5h0M88.6 435.8h0M88.8 428.2h0M89.0 433.9h0M89.3 427.4h0M89.5 428.3h0M89.7 429.3h0M90.0 428.9h0M90.2 427.6h0M90.4 430.5h0M90.6 432.3h0M90.9 430.6h0M91.1 425.0h0M91.3 419.4h0M91.6 426.7h0M91.8 414.9h0M92.0 428.3h0M92.3 427.8h0M92.5 420.2h0M92.7 427.0h0M92.9 421.8h0M93.2 429.0h0M93.4 420.7h0M93.6 420.2h0M93.9 420.5h0M94.1 423.7h0M94.3 418.4h0M94.6 431.0h0M94.8 420.4h0M95.0 428.4h0M95.2 420.1h0M95.5 419.7h0M95.7 417.8h0M95.9 417.3h0M96.2 421.7h0M96.4 424.4h0M96.6 419.8h0M96.9 415.5h0M97.1 419.6h0M97.3 415.3h0M97.5 407.6h0M97.8 418.3h0M98.0 410.6h0M98.2 414.7h0M98.5 417.1h0M98.7 415.0h0M98.9 415.2h0M99.2 422.0h0M99.4 419.3h0M99.6 421.2h0M99.8 415.8h0M100.1 399.2h0M100.3 421.3h0M100.5 411.6h0M100.8 415.1h0M101.0 414.0h0M101.2 414.3h0M101.5 415.2h0M101.7 413.0h0M101.9 415.4h0M102.2 408.6h0M102.4 413.6h0M102.6 407.3h0M102.8 415.3h0M103.1 414.6h0M103.3 409.7h0M103.5 408.2h0M103.8 409.8h0M104.0 411.8h0M104.2 403.5h0M104.5 405.2h0M104.7 412.5h0M104.9 407.7h0M105.1 403.3h0M105.4 399.4h0M105.6 406.0h0M105.8 400.7h0M106.1 407.8h0M106.3 406.7h0M106.5 425.2h0M106.8 401.6h0M107.0 408.7h0M107.2 401.4h0M107.4 401.8h0M107.7 404.7h0M107.9 402.0h0M108.1 412.2h0M108.4 404.6h0M108.6 401.7h0M108.8 413.4h0M109.1 401.1h0M109.3 402.5h0M109.5 381.1h0M109.7 400.4h0M110.0 405.6h0M110.2 407.7h0M110.4 397.8h0M110.7 400.7h0M110.9 400.9h0M111.1 396.7h0M111.4 396.8h0M111.6 400.2h0M111.8 398.0h0M112.1 402.5h0M112.3 404.2h0M112.5 401.5h0M112.7 401.7h0M113.0 396.8h0M113.2 397.8h0M113.4 401.4h0M113.7 401.9h0M113.9 399.1h0M114.1 401.4h0M114.4 398.1h0M114.6 394.3h0M114.8 399.8h0M115.0 396.8h0M115.3 391.6h0M115.5 401.2h0M115.7 399.2h0M116.0 400.3h0M116.2 395.5h0M116.4 402.8h0M116.7 398.7h0M116.9 400.4h0M117.1 393.9h0M117.3 394.9h0M117.6 400.9h0M117.8 395.6h0M118.0 395.5h0M118.3 401.0h0M118.5 399.4h0M118.7 395.6h0M119.0 401.9h0M119.2 388.6h0M119.4 393.8h0M119.6 391.7h0M119.9 399.3h0M120.1 399.4h0M120.3 391.3h0M120.6 393.5h0M120.8 396.3h0M121.0 394.4h0M121.3 393.2h0M121.5 395.8h0M121.7 399.2h0M121.9 392.0h0M122.2 387.0h0M122.4 390.6h0M122.6 390.7h0M122.9 389.1h0M123.1 393.0h0M123.3 392.9h0M123.6 393.3h0M123.8 391.5h0M124.0 390.4h0M124.3 385.2h0M124.5 387.6h0M124.7 385.4h0M124.9 389.7h0M125.2 387.7h0M125.4 387.8h0M125.6 389.7h0M125.9 386.3h0M126.1 391.3h0M126.3 391.0h0M126.6 383.1h0M126.8 391.5h0M127.0 385.0h0M127.2 383.2h0M127.5 384.6h0M127.7 380.7h0M127.9 386.6h0M128.2 389.6h0M128.4 379.0h0M128.6 386.2h0M128.9 386.5h0M129.1 386.6h0M129.3 386.3h0M129.5 385.2h0M129.8 381.5h0M130.0 386.4h0M130.2 384.1h0M130.5 385.6h0M130.7 390.0h0M130.9 381.0h0M131.2 381.6h0M131.4 383.9h0M131.6 385.2h0M131.8 373.7h0M132.1 375.9h0M132.3 374.3h0M132.5 378.2h0M132.8 377.4h0M133.0 380.5h0M133.2 378.3h0M133.5 384.2h0M133.7 376.5h0M133.9 375.9h0M134.1 375.2h0M134.4 376.9h0M134.6 378.4h0M134.8 375.6h0M135.1 373.7h0M135.3 371.7h0M135.5 377.3h0M135.8 374.2h0M136.0 372.3h0M136.2 374.7h0M136.5 376.7h0M136.7 383.0h0M136.9 381.1h0M137.1 371.2h0M137.4 372.6h0M137.6 366.6h0M137.8 366.2h0M138.1 366.4h0M138.3 376.6h0M138.5 372.2h0M138.8 367.0h0M139.0 369.7h0M139.2 370.0h0M139.4 369.2h0M139.7 377.0h0M139.9 363.8h0M140.1 369.1h0M140.4 371.5h0M140.6 372.1h0M140.8 361.7h0M141.1 370.4h0M141.3 364.7h0M141.5 367.0h0M141.7 362.9h0M142.0 371.6h0M142.2 380.3h0M142.4 372.0h0M142.7 366.8h0M142.9 361.0h0M143.1 370.8h0M143.4 371.8h0M143.6 362.8h0M143.8 370.4h0M144.0 359.7h0M144.3 361.5h0M144.5 366.7h0M144.7 360.6h0M145.0 368.6h0M145.2 370.9h0M145.4 365.5h0M145.7 367.0h0M145.9 371.0h0M146.1 366.7h0M146.3 369.5h0M146.6 369.8h0M146.8 360.1h0M147.0 372.3h0M147.3 368.3h0M147.5 364.2h0M147.7 366.6h0M148.0 364.4h0M148.2 363.9h0M148.4 359.1h0M148.7 361.2h0M148.9 361.3h0M149.1 366.5h0M149.3 364.0h0M149.6 363.6h0M149.8 361.4h0M150.0 366.5h0M150.3 352.2h0M150.5 357.8h0M150.7 364.8h0M151.0 359.4h0M151.2 363.2h0M151.4 366.7h0M151.6 363.5h0M151.9 354.7h0M152.1 359.3h0M152.3 355.6h0M152.6 361.6h0M152.8 363.6h0M153.0 358.6h0M153.3 361.2h0M153.5 358.4h0M153.7 366.3h0M153.9 359.3h0M154.2 359.5h0M154.4 360.6h0M154.6 362.3h0M154.9 360.8h0M155.1 357.9h0M155.3 358.0h0M155.6 359.6h0M155.8 359.7h0M156.0 355.9h0M156.2 355.0h0M156.5 356.1h0M156.7 358.6h0M156.9 355.0h0M157.2 352.4h0M157.4 355.1h0M157.6 354.3h0M157.9 358.3h0M158.1 353.9h0M158.3 354.1h0M158.5 362.6h0M158.8 357.0h0M159.0 351.6h0M159.2 359.5h0M159.5 353.4h0M159.7 351.6h0M159.9 356.9h0M160.2 348.9h0M160.4 353.9h0M160.6 356.1h0M160.9 356.6h0M161.1 351.6h0M161.3 351.6h0M161.5 353.0h0M161.8 357.7h0M162.0 355.1h0M162.2 355.9h0M162.5 353.8h0M162.7 357.7h0M162.9 348.1h0M163.2 356.6h0M163.4 348.7h0M163.6 353.0h0M163.8 350.2h0M164.1 342.3h0M164.3 351.2h0M164.5 352.8h0M164.8 354.4h0M165.0 348.6h0M165.2 346.4h0M165.5 353.4h0M165.7 349.3h0M165.9 354.5h0M166.1 355.8h0M166.4 349.4h0M166.6 349.5h0M166.8 347.3h0M167.1 342.2h0M167.3 349.8h0M167.5 352.4h0M167.8 353.6h0M168.0 349.4h0M168.2 356.4h0M168.4 347.3h0M168.7 349.1h0M168.9 347.0h0M169.1 347.3h0M169.4 347.8h0M169.6 346.1h0M169.8 347.1h0M170.1 349.6h0M170.3 348.9h0M170.5 344.4h0M170.7 350.2h0M171.0 345.1h0M171.2 349.9h0M171.4 348.3h0M171.7 340.6h0M171.9 343.9h0M172.1 351.4h0M172.4 345.2h0M172.6 345.1h0M172.8 345.9h0M173.1 347.9h0M173.3 349.5h0M173.5 346.2h0M173.7 353.6h0M174.0 344.9h0M174.2 345.3h0M174.4 346.2h0M174.7 347.5h0M174.9 352.4h0M175.1 355.6h0M175.4 345.3h0M175.6 345.9h0M175.8 348.9h0M176.0 345.9h0M176.3 349.6h0M176.5 342.2h0M176.7 349.4h0M177.0 337.8h0M177.2 348.0h0M177.4 348.5h0M177.7 355.3h0M177.9 342.3h0M178.1 348.3h0M178.3 348.1h0M178.6 341.9h0M178.8 346.4h0M179.0 342.1h0M179.3 340.8h0M179.5 339.5h0M179.7 344.3h0M180.0 341.0h0M180.2 337.1h0M180.4 346.0h0M180.6 338.3h0M180.9 347.4h0M181.1 345.6h0M181.3 341.5h0M181.6 338.5h0M181.8 341.0h0M182.0 339.2h0M182.3 342.9h0M182.5 342.8h0M182.7 353.7h0M182.9 336.1h0M183.2 341.8h0M183.4 346.1h0M183.6 347.9h0M183.9 349.0h0M184.1 340.0h0M184.3 346.8h0M184.6 332.5h0M184.8 342.7h0M185.0 346.8h0M185.3 346.2h0M185.5 337.9h0M185.7 340.1h0M185.9 334.9h0M186.2 340.3h0M186.4 337.7h0M186.6 344.1h0M186.9 340.0h0M187.1 345.2h0M187.3 342.4h0M187.6 341.4h0M187.8 349.5h0M188.0 347.1h0M188.2 337.4h0M188.5 347.8h0M188.7 345.4h0M188.9 347.5h0M189.2 344.0h0M189.4 335.2h0M189.6 340.7h0M189.9 332.6h0M190.1 336.6h0M190.3 339.2h0M190.5 346.8h0M190.8 342.0h0M191.0 342.6h0M191.2 344.5h0M191.5 338.1h0M191.7 345.8h0M191.9 342.3h0M192.2 337.7h0M192.4 339.1h0M192.6 340.3h0M192.8 343.6h0M193.1 346.7h0M193.3 339.9h0M193.5 340.1h0M193.8 348.0h0M194.0 353.3h0M194.2 347.8h0M194.5 341.5h0M194.7 339.3h0M194.9 343.3h0M195.1 341.7h0M195.4 337.4h0M195.6 345.7h0M195.8 350.2h0M196.1 337.0h0M196.3 337.1h0M196.5 338.1h0M196.8 335.1h0M197.0 343.2h0M197.2 334.3h0M197.5 342.5h0M197.7 341.3h0M197.9 342.6h0M198.1 333.8h0M198.4 340.1h0M198.6 340.6h0M198.8 342.9h0M199.1 340.8h0M199.3 337.0h0M199.5 343.7h0M199.8 344.6h0M200.0 344.4h0M200.2 336.1h0M200.4 341.0h0M200.7 335.3h0M200.9 338.1h0M201.1 341.6h0M201.4 333.0h0M201.6 349.4h0M201.8 343.3h0M202.1 335.4h0M202.3 336.1h0M202.5 337.9h0M202.7 337.6h0M203.0 333.3h0M203.2 337.5h0M203.4 331.8h0M203.7 335.4h0M203.9 344.8h0M204.1 337.4h0M204.4 336.1h0M204.6 343.7h0M204.8 338.7h0M205.0 339.9h0M205.3 335.1h0M205.5 341.6h0M205.7 335.9h0M206.0 340.5h0M206.2 339.5h0M206.4 343.8h0M206.7 340.8h0M206.9 336.7h0M207.1 332.5h0M207.3 335.5h0M207.6 333.8h0M207.8 342.5h0M208.0 334.7h0M208.3 327.3h0M208.5 337.8h0M208.7 339.4h0M209.0 344.9h0M209.2 338.9h0M209.4 330.8h0M209.7 336.9h0M209.9 335.2h0M210.1 337.0h0M210.3 337.4h0M210.6 333.0h0M210.8 338.8h0M211.0 333.5h0M211.3 335.9h0M211.5 341.0h0M211.7 331.7h0M212.0 335.5h0M212.2 341.5h0M212.4 340.1h0M212.6 332.3h0M212.9 332.5h0M213.1 337.1h0M213.3 332.3h0M213.6 335.1h0M213.8 329.3h0M214.0 337.2h0M214.3 328.2h0M214.5 335.1h0M214.7 337.3h0M214.9 331.8h0M215.2 328.2h0M215.4 329.3h0M215.6 326.7h0M215.9 341.3h0M216.1 326.5h0M216.3 329.0h0M216.6 335.4h0M216.8 326.5h0M217.0 338.1h0M217.2 339.2h0M217.5 335.7h0M217.7 333.6h0M217.9 331.5h0M218.2 333.0h0M218.4 337.5h0M218.6 336.1h0M218.9 336.1h0M219.1 326.9h0M219.3 330.5h0M219.5 330.7h0M219.8 331.3h0M220.0 329.2h0M220.2 336.1h0M220.5 337.5h0M220.7 340.5h0M220.9 331.1h0M221.2 332.8h0M221.4 333.5h0M221.6 332.1h0M221.9 329.7h0M222.1 336.2h0M222.3 324.9h0M222.5 331.0h0M222.8 325.3h0M223.0 335.3h0M223.2 327.2h0M223.5 328.1h0M223.7 332.6h0M223.9 328.5h0M224.2 333.6h0M224.4 331.0h0M224.6 340.4h0M224.8 327.6h0M225.1 329.2h0M225.3 334.7h0M225.5 332.9h0M225.8 334.1h0M226.0 331.1h0M226.2 336.1h0M226.5 333.6h0M226.7 337.5h0M226.9 326.7h0M227.1 333.1h0M227.4 331.2h0M227.6 333.6h0M227.8 328.2h0M228.1 335.2h0M228.3 326.6h0M228.5 335.5h0M228.8 334.1h0M229.0 324.6h0M229.2 333.4h0M229.4 324.0h0M229.7 334.0h0M229.9 325.3h0M230.1 331.4h0M230.4 330.6h0M230.6 325.1h0M230.8 324.1h0M231.1 333.6h0M231.3 329.6h0M231.5 335.8h0M231.7 331.3h0M232.0 342.5h0M232.2 332.1h0M232.4 338.5h0M232.7 332.8h0M232.9 331.7h0M233.1 333.5h0M233.4 328.2h0M233.6 328.7h0M233.8 337.9h0M234.1 330.4h0M234.3 326.6h0M234.5 333.2h0M234.7 327.8h0M235.0 331.4h0M235.2 335.7h0M235.4 336.3h0M235.7 338.4h0M235.9 335.8h0M236.1 333.7h0M236.4 333.2h0M236.6 332.2h0M236.8 330.9h0M237.0 340.1h0M237.3 330.7h0M237.5 337.7h0M237.7 330.5h0M238.0 335.8h0M238.2 319.5h0M238.4 331.5h0M238.7 328.4h0M238.9 337.2h0M239.1 336.9h0M239.3 328.4h0M239.6 330.6h0M239.8 334.6h0M240.0 332.1h0M240.3 331.3h0M240.5 334.8h0M240.7 325.6h0M241.0 337.3h0M241.2 332.7h0M241.4 319.3h0M241.6 327.2h0M241.9 330.5h0M242.1 339.9h0M242.3 330.8h0M242.6 324.8h0M242.8 336.3h0M243.0 332.4h0M243.3 330.8h0M243.5 335.0h0M243.7 329.3h0M243.9 330.4h0M244.2 334.8h0M244.4 332.6h0M244.6 334.7h0M244.9 329.3h0M245.1 337.6h0M245.3 325.1h0M245.6 325.3h0M245.8 332.8h0M246.0 329.6h0M246.3 331.6h0M246.5 330.9h0M246.7 330.2h0M246.9 326.5h0M247.2 332.0h0M247.4 336.0h0M247.6 327.4h0M247.9 338.3h0M248.1 337.0h0M248.3 327.4h0M248.6 334.0h0M248.8 326.3h0M249.0 330.2h0M249.2 326.3h0M249.5 320.8h0M249.7 323.3h0M249.9 330.1h0M250.2 326.5h0M250.4 327.1h0M250.6 322.8h0M250.9 330.8h0M251.1 338.3h0M251.3 329.2h0M251.5 330.0h0M251.8 326.1h0M252.0 328.7h0M252.2 327.2h0M252.5 324.3h0M252.7 327.0h0M252.9 328.5h0M253.2 331.8h0M253.4 329.2h0M253.6 331.6h0M253.8 335.7h0M254.1 334.2h0M254.3 328.8h0M254.5 323.4h0M254.8 329.7h0M255.0 330.8h0M255.2 334.4h0M255.5 331.0h0M255.7 341.5h0M255.9 327.2h0M256.2 333.0h0M256.4 326.7h0M256.6 326.3h0M256.8 329.1h0M257.1 331.1h0M257.3 333.0h0M257.5 317.7h0M257.8 334.8h0M258.0 336.2h0M258.2 335.6h0M258.5 333.6h0M258.7 329.7h0M258.9 332.4h0M259.1 335.3h0M259.4 326.3h0M259.6 332.8h0M259.8 332.1h0M260.1 329.5h0M260.3 337.3h0M260.5 327.3h0M260.8 326.1h0M261.0 329.9h0M261.2 327.5h0M261.4 335.4h0M261.7 323.3h0M261.9 324.7h0M262.1 331.2h0M262.4 332.9h0M262.6 325.2h0M262.8 335.1h0M263.1 322.2h0M263.3 334.0h0M263.5 326.3h0M263.7 327.9h0M264.0 337.0h0M264.2 329.6h0M264.4 327.2h0M264.7 329.4h0M264.9 337.3h0M265.1 330.0h0M265.4 326.6h0M265.6 330.5h0M265.8 324.7h0M266.0 326.9h0M266.3 327.4h0M266.5 332.2h0M266.7 327.7h0M267.0 331.5h0M267.2 334.2h0M267.4 335.9h0M267.7 322.8h0M267.9 329.3h0M268.1 324.9h0M268.4 332.1h0M268.6 330.5h0M268.8 329.5h0M269.0 327.4h0M269.3 325.6h0M269.5 322.7h0M269.7 333.3h0M270.0 328.6h0M270.2 329.5h0M270.4 330.7h0M270.7 332.5h0M270.9 336.9h0M271.1 328.6h0M271.3 332.0h0M271.6 322.8h0M271.8 327.8h0M272.0 326.5h0M272.3 326.8h0M272.5 333.9h0M272.7 329.7h0M273.0 329.5h0M273.2 329.6h0M273.4 328.3h0M273.6 328.3h0M273.9 326.6h0M274.1 327.1h0M274.3 327.5h0M274.6 328.4h0M274.8 321.7h0M275.0 329.4h0M275.3 329.0h0M275.5 330.8h0M275.7 324.7h0M275.9 325.4h0M276.2 332.3h0M276.4 326.2h0M276.6 331.0h0M276.9 326.4h0M277.1 324.3h0M277.3 323.2h0M277.6 320.8h0M277.8 327.1h0M278.0 324.1h0M278.2 334.6h0M278.5 329.0h0M278.7 325.4h0M278.9 334.9h0M279.2 332.2h0M279.4 325.9h0M279.6 324.8h0M279.9 328.1h0M280.1 331.8h0M280.3 323.3h0M280.6 333.4h0M280.8 327.3h0M281.0 332.1h0M281.2 328.3h0M281.5 330.7h0M281.7 331.3h0M281.9 333.9h0M282.2 326.0h0M282.4 336.3h0M282.6 323.7h0M282.9 330.0h0M283.1 331.4h0M283.3 328.8h0M283.5 332.3h0M283.8 322.3h0M284.0 328.5h0M284.2 332.7h0M284.5 328.8h0M284.7 324.3h0M284.9 329.3h0M285.2 329.4h0M285.4 324.8h0M285.6 333.9h0M285.8 326.5h0M286.1 324.6h0M286.3 329.1h0M286.5 326.1h0M286.8 327.9h0M287.0 329.5h0M287.2 327.0h0M287.5 330.9h0M287.7 329.8h0M287.9 333.4h0M288.1 324.6h0M288.4 328.8h0M288.6 329.6h0M288.8 329.7h0M289.1 320.3h0M289.3 324.3h0M289.5 329.8h0M289.8 330.8h0M290.0 328.6h0M290.2 329.2h0M290.4 333.3h0M290.7 327.1h0M290.9 325.5h0M291.1 334.4h0M291.4 330.9h0M291.6 327.8h0M291.8 325.6h0M292.1 334.8h0M292.3 327.3h0M292.5 325.2h0M292.8 333.4h0M293.0 322.6h0M293.2 327.8h0M293.4 330.8h0M293.7 327.2h0M293.9 326.3h0M294.1 330.1h0M294.4 323.5h0M294.6 327.5h0M294.8 331.1h0M295.1 324.0h0M295.3 333.7h0M295.5 327.4h0M295.7 328.0h0M296.0 326.4h0M296.2 330.5h0M296.4 326.4h0M296.7 329.1h0M296.9 333.2h0M297.1 333.1h0M297.4 322.2h0M297.6 333.5h0M297.8 326.2h0M298.0 329.3h0M298.3 328.5h0M298.5 339.2h0M298.7 325.7h0M299.0 330.4h0M299.2 332.0h0M299.4 325.8h0M299.7 328.0h0M299.9 331.2h0M300.1 332.2h0M300.3 329.3h0M300.6 329.0h0M300.8 329.9h0M301.0 326.6h0M301.3 329.2h0M301.5 326.8h0M301.7 326.5h0M302.0 318.6h0M302.2 320.8h0M302.4 329.3h0M302.6 330.7h0M302.9 329.5h0M303.1 328.2h0M303.3 326.5h0M303.6 329.9h0M303.8 326.1h0M304.0 327.6h0M304.3 333.5h0M304.5 322.1h0M304.7 325.2h0M305.0 326.6h0M305.2 320.0h0M305.4 322.8h0M305.6 331.7h0M305.9 329.5h0M306.1 326.9h0M306.3 332.5h0M306.6 323.5h0M306.8 334.9h0M307.0 327.1h0M307.3 324.9h0M307.5 331.5h0M307.7 329.3h0M307.9 328.0h0M308.2 326.7h0M308.4 320.0h0M308.6 318.9h0M308.9 327.1h0M309.1 330.9h0M309.3 323.9h0M309.6 327.4h0M309.8 320.8h0M310.0 321.1h0M310.2 326.7h0M310.5 329.6h0M310.7 329.8h0M310.9 331.6h0M311.2 323.7h0M311.4 326.1h0M311.6 329.8h0M311.9 322.7h0M312.1 325.5h0M312.3 326.6h0M312.5 326.5h0M312.8 330.0h0M313.0 328.2h0M313.2 324.8h0M313.5 317.3h0M313.7 329.6h0M313.9 330.3h0M314.2 328.4h0M314.4 327.7h0M314.6 328.1h0M314.8 331.1h0M315.1 324.2h0M315.3 326.0h0M315.5 322.3h0M315.8 325.3h0M316.0 322.9h0" stroke="#808000" stroke-width="2.20" stroke-linecap="round" fill="none"/>
<path d="M40.0 481.6h0M40.5 481.5h0M40.7 480.7h0M40.9 476.9h0M41.6 477.2h0M41.8 481.6h0M42.1 481.3h0M42.3 480.7h0M42.8 478.8h0M43.2 479.4h0M43.7 478.9h0M43.9 481.0h0M44.1 479.4h0M44.6 477.5h0M44.8 478.4h0M45.3 481.8h0M45.5 479.6h0M45.8 479.0h0M46.0 476.3h0M46.2 478.7h0M46.4 480.2h0M46.9 481.3h0M47.4 479.4h0M47.6 476.4h0M47.8 477.1h0M48.1 481.5h0M48.3 477.6h0M48.5 480.5h0M48.7 472.7h0M49.0 475.1h0M49.2 474.0h0M49.4 476.3h0M49.7 473.3h0M49.9 471.5h0M50.1 474.3h0M50.4 468.4h0M50.6 472.2h0M50.8 474.4h0M51.0 466.0h0M51.3 472.5h0M51.5 470.0h0M51.7 471.0h0M52.0 472.2h0M52.2 472.4h0M52.4 472.0h0M52.7 468.6h0M52.9 474.0h0M53.1 470.7h0M53.4 467.8h0M53.6 472.5h0M53.8 467.7h0M54.0 473.3h0M54.3 470.1h0M54.5 467.4h0M54.7 466.1h0M55.0 464.8h0M55.2 464.5h0M55.4 465.4h0M55.7 469.2h0M55.9 465.8h0M56.1 464.8h0M56.3 465.7h0M56.6 463.5h0M56.8 460.7h0M57.0 459.8h0M57.3 466.8h0M57.5 462.1h0M57.7 466.5h0M58.0 466.9h0M58.2 462.5h0M58.4 463.4h0M58.6 460.2h0M58.9 460.4h0M59.1 460.6h0M59.3 460.1h0M59.6 463.6h0M59.8 459.2h0M60.0 461.4h0M60.3 459.1h0M60.5 460.0h0M60.7 462.8h0M60.9 453.8h0M61.2 460.4h0M61.4 455.6h0M61.6 457.3h0M61.9 455.6h0M62.1 455.0h0M62.3 452.4h0M62.6 448.7h0M62.8 460.7h0M63.0 457.1h0M63.2 453.9h0M63.5 449.5h0M63.7 455.6h0M63.9 457.6h0M64.2 454.4h0M64.4 448.5h0M64.6 451.3h0M64.9 453.0h0M65.1 451.8h0M65.3 454.5h0M65.6 448.8h0M65.8 449.3h0M66.0 444.3h0M66.2 453.3h0M66.5 451.7h0M66.7 448.6h0M66.9 444.7h0M67.2 451.3h0M67.4 445.1h0M67.6 445.1h0M67.9 443.1h0M68.1 444.1h0M68.3 445.0h0M68.5 444.3h0M68.8 449.6h0M69.0 448.3h0M69.2 446.3h0M69.5 444.3h0M69.7 445.3h0M69.9 441.7h0M70.2 445.8h0M70.4 442.0h0M70.6 442.8h0M70.8 444.7h0M71.1 441.2h0M71.3 439.5h0M71.5 445.5h0M71.8 438.0h0M72.0 438.8h0M72.2 438.8h0M72.5 439.6h0M72.7 440.8h0M72.9 432.5h0M73.1 439.2h0M73.4 443.8h0M73.6 443.0h0M73.8 441.8h0M74.1 439.0h0M74.3 439.4h0M74.5 437.1h0M74.8 433.8h0M75.0 438.8h0M75.2 440.3h0M75.4 438.0h0M75.7 436.8h0M75.9 438.8h0M76.1 437.0h0M76.4 438.8h0M76.6 434.5h0M76.8 430.5h0M77.1 436.2h0M77.3 436.9h0M77.5 432.2h0M77.8 434.6h0M78.0 435.5h0M78.2 426.2h0M78.4 439.4h0M78.7 434.7h0M78.9 431.8h0M79.1 429.0h0M79.4 427.6h0M79.6 440.2h0M79.8 430.3h0M80.1 432.7h0M80.3 428.8h0M80.5 429.4h0M80.7 431.6h0M81.0 427.1h0M81.2 429.1h0M81.4 428.5h0M81.7 430.0h0M81.9 430.7h0M82.1 427.6h0M82.4 431.5h0M82.6 426.3h0M82.8 426.2h0M83.0 427.2h0M83.3 426.0h0M83.5 428.4h0M83.7 418.5h0M84.0 421.1h0M84.2 419.7h0M84.4 428.9h0M84.7 427.0h0M84.9 422.7h0M85.1 425.3h0M85.3 419.3h0M85.6 422.8h0M85.8 427.2h0M86.0 424.7h0M86.3 428.4h0M86.5 421.1h0M86.7 425.1h0M87.0 422.0h0M87.2 422.3h0M87.4 421.8h0M87.6 422.8h0M87.9 424.0h0M88.1 420.3h0M88.3 420.8h0M88.6 419.2h0M88.8 419.9h0M89.0 416.7h0M89.3 421.1h0M89.5 420.0h0M89.7 418.6h0M90.0 417.4h0M90.2 415.3h0M90.4 414.2h0M90.6 413.4h0M90.9 413.9h0M91.1 418.1h0M91.3 416.4h0M91.6 411.2h0M91.8 412.0h0M92.0 417.8h0M92.3 418.3h0M92.5 415.7h0M92.7 418.7h0M92.9 411.0h0M93.2 413.6h0M93.4 410.4h0M93.6 417.6h0M93.9 412.5h0M94.1 412.1h0M94.3 411.6h0M94.6 408.5h0M94.8 409.8h0M95.0 403.6h0M95.2 408.1h0M95.5 406.2h0M95.7 410.6h0M95.9 411.7h0M96.2 408.6h0M96.4 404.8h0M96.6 404.3h0M96.9 408.8h0M97.1 405.8h0M97.3 405.4h0M97.5 402.9h0M97.8 406.1h0M98.0 405.6h0M98.2 406.8h0M98.5 401.9h0M98.7 403.9h0M98.9 399.9h0M99.2 403.9h0M99.4 403.0h0M99.6 401.6h0M99.8 404.7h0M100.1 398.6h0M100.3 405.7h0M100.5 402.3h0M100.8 402.4h0M101.0 401.3h0M101.2 398.3h0M101.5 398.4h0M101.7 402.0h0M101.9 399.1h0M102.2 399.7h0M102.4 397.6h0M102.6 400.4h0M102.8 399.5h0M103.1 394.0h0M103.3 402.3h0M103.5 399.5h0M103.8 398.6h0M104.0 397.0h0M104.2 395.6h0M104.5 397.7h0M104.7 401.9h0M104.9 394.5h0M105.1 391.5h0M105.4 394.0h0M105.6 393.9h0M105.8 395.9h0M106.1 389.8h0M106.3 391.6h0M106.5 391.6h0M106.8 394.7h0M107.0 394.7h0M107.2 392.0h0M107.4 393.9h0M107.7 391.1h0M107.9 390.7h0M108.1 384.1h0M108.4 387.4h0M108.6 388.1h0M108.8 390.3h0M109.1 389.0h0M109.3 385.6h0M109.5 388.2h0M109.7 387.5h0M110.0 388.5h0M110.2 385.7h0M110.4 384.9h0M110.7 389.7h0M110.9 385.5h0M111.1 388.5h0M111.4 383.2h0M111.6 384.6h0M111.8 384.0h0M112.1 382.0h0M112.3 386.1h0M112.5 380.4h0M112.7 384.2h0M113.0 377.7h0M113.2 384.8h0M113.4 382.8h0M113.7 385.3h0M113.9 387.3h0M114.1 379.9h0M114.4 381.4h0M114.6 377.7h0M114.8 379.6h0M115.0 380.6h0M115.3 380.3h0M115.5 381.9h0M115.7 380.8h0M116.0 381.8h0M116.2 377.1h0M116.4 379.0h0M116.7 375.6h0M116.9 377.5h0M117.1 370.5h0M117.3 377.1h0M117.6 377.2h0M117.8 375.5h0M118.0 375.4h0M118.3 371.7h0M118.5 374.1h0M118.7 373.9h0M119.0 375.7h0M119.2 376.1h0M119.4 373.4h0M119.6 373.9h0M119.9 374.9h0M120.1 371.3h0M120.3 376.0h0M120.6 378.3h0M120.8 373.7h0M121.0 371.2h0M121.3 372.7h0M121.5 374.9h0M121.7 374.8h0M121.9 367.7h0M122.2 371.8h0M122.4 368.7h0M122.6 369.2h0M122.9 370.8h0M123.1 371.2h0M123.3 368.8h0M123.6 367.0h0M123.8 368.4h0M124.0 366.0h0M124.3 372.9h0M124.5 364.1h0M124.7 369.4h0M124.9 367.9h0M125.2 367.4h0M125.4 364.4h0M125.6 365.6h0M125.9 365.7h0M126.1 364.9h0M126.3 365.5h0M126.6 366.1h0M126.8 364.4h0M127.0 366.5h0M127.2 367.0h0M127.5 363.5h0M127.7 366.6h0M127.9 364.6h0M128.2 362.7h0M128.4 365.2h0M128.6 366.6h0M128.9 362.7h0M129.1 358.6h0M129.3 365.1h0M129.5 365.4h0M129.8 359.7h0M130.0 362.1h0M130.2 363.4h0M130.5 355.8h0M130.7 363.8h0M130.9 363.4h0M131.2 363.4h0M131.4 365.0h0M131.6 348.6h0M131.8 363.2h0M132.1 366.4h0M132.3 354.4h0M132.5 359.1h0M132.8 361.7h0M133.0 357.8h0M133.2 354.7h0M133.5 360.1h0M133.7 359.5h0M133.9 357.0h0M134.1 359.3h0M134.4 360.8h0M134.6 360.9h0M134.8 359.2h0M135.1 354.7h0M135.3 356.9h0M135.5 351.6h0M135.8 354.5h0M136.0 357.5h0M136.2 358.3h0M136.5 356.6h0M136.7 356.5h0M136.9 357.3h0M137.1 352.8h0M137.4 352.9h0M137.6 354.2h0M137.8 354.0h0M138.1 361.0h0M138.3 357.7h0M138.5 352.3h0M138.8 353.0h0M139.0 353.1h0M139.2 352.8h0M139.4 352.8h0M139.7 348.6h0M139.9 356.8h0M140.1 355.3h0M140.4 355.0h0M140.6 353.4h0M140.8 354.2h0M141.1 351.8h0M141.3 347.4h0M141.5 352.7h0M141.7 352.2h0M142.0 348.5h0M142.2 345.9h0M142.4 354.5h0M142.7 348.7h0M142.9 350.6h0M143.1 349.2h0M143.4 355.2h0M143.6 346.7h0M143.8 353.1h0M144.0 343.6h0M144.3 352.4h0M144.5 348.5h0M144.7 339.5h0M145.0 349.6h0M145.2 349.0h0M145.4 344.8h0M145.7 349.8h0M145.9 348.6h0M146.1 349.7h0M146.3 344.6h0M146.6 346.1h0M146.8 345.4h0M147.0 348.1h0M147.3 346.2h0M147.5 344.8h0M147.7 350.8h0M148.0 345.6h0M148.2 349.7h0M148.4 348.9h0M148.7 344.6h0M148.9 341.5h0M149.1 346.7h0M149.3 347.8h0M149.6 348.9h0M149.8 346.7h0M150.0 346.6h0M150.3 343.7h0M150.5 343.3h0M150.7 353.4h0M151.0 347.9h0M151.2 341.2h0M151.4 345.4h0M151.6 345.6h0M151.9 339.6h0M152.1 343.4h0M152.3 345.4h0M152.6 348.2h0M152.8 347.9h0M153.0 342.6h0M153.3 342.5h0M153.5 342.0h0M153.7 343.7h0M153.9 345.2h0M154.2 340.1h0M154.4 342.2h0M154.6 341.0h0M154.9 340.3h0M155.1 340.9h0M155.3 346.9h0M155.6 346.5h0M155.8 345.6h0M156.0 337.3h0M156.2 342.3h0M156.5 347.7h0M156.7 342.4h0M156.9 339.3h0M157.2 342.6h0M157.4 340.2h0M157.6 339.7h0M157.9 341.3h0M158.1 341.7h0M158.3 339.9h0M158.5 340.2h0M158.8 337.4h0M159.0 339.9h0M159.2 341.7h0M159.5 340.0h0M159.7 339.2h0M159.9 335.7h0M160.2 342.4h0M160.4 336.2h0M160.6 341.0h0M160.9 338.1h0M161.1 341.1h0M161.3 341.6h0M161.5 337.9h0M161.8 325.9h0M162.0 333.2h0M162.2 335.9h0M162.5 335.9h0M162.7 339.0h0M162.9 343.4h0M163.2 339.8h0M163.4 337.6h0M163.6 341.4h0M163.8 337.3h0M164.1 340.0h0M164.3 338.6h0M164.5 332.5h0M164.8 340.0h0M165.0 342.0h0M165.2 336.4h0M165.5 339.2h0M165.7 338.5h0M165.9 336.3h0M166.1 336.0h0M166.4 339.5h0M166.6 335.1h0M166.8 335.3h0M167.1 338.8h0M167.3 339.0h0M167.5 340.5h0M167.8 334.8h0M168.0 332.8h0M168.2 339.0h0M168.4 332.1h0M168.7 334.9h0M168.9 335.3h0M169.1 340.3h0M169.4 335.8h0M169.6 332.5h0M169.8 335.5h0M170.1 338.9h0M170.3 330.6h0M170.5 331.8h0M170.7 337.8h0M171.0 335.4h0M171.2 332.3h0M171.4 334.3h0M171.7 334.9h0M171.9 331.6h0M172.1 333.0h0M172.4 338.2h0M172.6 335.2h0M172.8 337.1h0M173.1 334.0h0M173.3 332.5h0M173.5 334.7h0M173.7 331.4h0M174.0 334.6h0M174.2 332.7h0M174.4 332.7h0M174.7 332.6h0M174.9 330.7h0M175.1 336.7h0M175.4 329.0h0M175.6 333.5h0M175.8 329.5h0M176.0 335.0h0M176.3 332.0h0M176.5 332.9h0M176.7 333.6h0M177.0 333.2h0M177.2 332.6h0M177.4 333.0h0M177.7 332.9h0M177.9 330.7h0M178.1 331.0h0M178.3 331.0h0M178.6 329.7h0M178.8 330.0h0M179.0 334.8h0M179.3 327.5h0M179.5 335.6h0M179.7 329.7h0M180.0 332.6h0M180.2 330.9h0M180.4 330.3h0M180.6 332.1h0M180.9 335.0h0M181.1 330.1h0M181.3 330.3h0M181.6 328.8h0M181.8 335.4h0M182.0 333.1h0M182.3 332.9h0M182.5 329.9h0M182.7 324.8h0M182.9 330.9h0M183.2 324.9h0M183.4 327.8h0M183.6 331.9h0M183.9 327.7h0M184.1 327.4h0M184.3 323.5h0M184.6 330.8h0M184.8 329.9h0M185.0 327.5h0M185.3 329.6h0M185.5 324.4h0M185.7 326.0h0M185.9 328.9h0M186.2 330.6h0M186.4 328.1h0M186.6 324.9h0M186.9 326.7h0M187.1 330.8h0M187.3 326.2h0M187.6 328.4h0M187.8 328.7h0M188.0 326.1h0M188.2 327.5h0M188.5 322.7h0M188.7 325.7h0M188.9 327.2h0M189.2 328.7h0M189.4 330.3h0M189.6 325.6h0M189.9 328.0h0M190.1 326.4h0M190.3 324.6h0M190.5 324.5h0M190.8 326.3h0M191.0 326.4h0M191.2 324.3h0M191.5 333.3h0M191.7 326.0h0M191.9 327.7h0M192.2 325.2h0M192.4 333.1h0M192.6 320.0h0M192.8 324.8h0M193.1 326.1h0M193.3 328.6h0M193.5 325.3h0M193.8 322.8h0M194.0 329.4h0M194.2 327.0h0M194.5 324.5h0M194.7 324.4h0M194.9 324.4h0M195.1 325.4h0M195.4 320.4h0M195.6 325.2h0M195.8 323.2h0M196.1 325.9h0M196.3 325.5h0M196.5 321.8h0M196.8 328.0h0M197.0 326.4h0M197.2 322.0h0M197.5 321.6h0M197.7 322.5h0M197.9 325.1h0M198.1 327.4h0M198.4 321.7h0M198.6 322.0h0M198.8 325.3h0M199.1 323.8h0M199.3 323.7h0M199.5 323.5h0M199.8 322.9h0M200.0 328.2h0M200.2 326.1h0M200.4 322.7h0M200.7 326.8h0M200.9 328.3h0M201.1 324.6h0M201.4 324.1h0M201.6 322.0h0M201.8 323.6h0M202.1 323.8h0M202.3 326.5h0M202.5 320.6h0M202.7 318.8h0M203.0 321.7h0M203.2 323.9h0M203.4 317.7h0M203.7 322.3h0M203.9 320.7h0M204.1 319.8h0M204.4 323.0h0M204.6 325.6h0M204.8 319.1h0M205.0 323.1h0M205.3 322.1h0M205.5 324.1h0M205.7 322.4h0M206.0 320.7h0M206.2 324.6h0M206.4 323.4h0M206.7 319.6h0M206.9 317.0h0M207.1 320.3h0M207.3 322.6h0M207.6 324.0h0M207.8 322.7h0M208.0 320.9h0M208.3 317.2h0M208.5 320.7h0M208.7 322.1h0M209.0 320.2h0M209.2 321.5h0M209.4 319.1h0M209.7 319.3h0M209.9 322.3h0M210.1 317.5h0M210.3 321.5h0M210.6 324.5h0M210.8 319.9h0M211.0 320.1h0M211.3 319.2h0M211.5 317.9h0M211.7 319.7h0M212.0 317.9h0M212.2 320.6h0M212.4 319.7h0M212.6 318.1h0M212.9 321.1h0M213.1 323.5h0M213.3 323.0h0M213.6 320.2h0M213.8 320.8h0M214.0 318.1h0M214.3 320.1h0M214.5 322.4h0M214.7 322.6h0M214.9 324.1h0M215.2 316.7h0M215.4 321.8h0M215.6 321.5h0M215.9 324.4h0M216.1 320.4h0M216.3 323.5h0M216.6 320.3h0M216.8 317.6h0M217.0 325.4h0M217.2 318.9h0M217.5 320.1h0M217.7 321.5h0M217.9 322.1h0M218.2 321.7h0M218.4 322.5h0M218.6 316.0h0M218.9 322.9h0M219.1 317.0h0M219.3 320.1h0M219.5 318.7h0M219.8 316.8h0M220.0 322.0h0M220.2 317.0h0M220.5 318.2h0M220.7 323.3h0M220.9 313.7h0M221.2 315.2h0M221.4 321.9h0M221.6 318.4h0M221.9 321.4h0M222.1 319.3h0M222.3 318.1h0M222.5 321.1h0M222.8 317.4h0M223.0 317.8h0M223.2 319.7h0M223.5 316.3h0M223.7 315.4h0M223.9 314.7h0M224.2 321.4h0M224.4 323.9h0M224.6 321.9h0M224.8 317.2h0M225.1 317.5h0M225.3 316.2h0M225.5 318.7h0M225.8 321.4h0M226.0 318.5h0M226.2 318.6h0M226.5 310.2h0M226.7 319.3h0M226.9 315.4h0M227.1 313.5h0M227.4 319.4h0M227.6 318.7h0M227.8 320.3h0M228.1 322.3h0M228.3 312.4h0M228.5 314.2h0M228.8 322.5h0M229.0 319.5h0M229.2 316.3h0M229.4 317.5h0M229.7 318.1h0M229.9 320.8h0M230.1 317.2h0M230.4 318.0h0M230.6 314.5h0M230.8 321.8h0M231.1 319.1h0M231.3 316.7h0M231.5 314.4h0M231.7 317.8h0M232.0 320.1h0M232.2 323.7h0M232.4 322.7h0M232.7 316.7h0M232.9 316.6h0M233.1 315.1h0M233.4 318.8h0M233.6 315.7h0M233.8 319.1h0M234.1 318.4h0M234.3 318.6h0M234.5 315.0h0M234.7 320.5h0M235.0 317.0h0M235.2 314.3h0M235.4 317.3h0M235.7 317.9h0M235.9 317.5h0M236.1 319.8h0M236.4 320.5h0M236.6 323.3h0M236.8 317.1h0M237.0 320.5h0M237.3 310.5h0M237.5 322.1h0M237.7 317.2h0M238.0 320.5h0M238.2 316.6h0M238.4 318.6h0M238.7 318.8h0M238.9 315.6h0M239.1 315.7h0M239.3 309.6h0M239.6 318.6h0M239.8 316.7h0M240.0 316.5h0M240.3 320.3h0M240.5 318.0h0M240.7 317.7h0M241.0 312.1h0M241.2 317.4h0M241.4 316.2h0M241.6 319.6h0M241.9 315.7h0M242.1 313.8h0M242.3 316.3h0M242.6 321.8h0M242.8 314.7h0M243.0 320.3h0M243.3 316.5h0M243.5 311.6h0M243.7 318.5h0M243.9 323.0h0M244.2 318.0h0M244.4 314.0h0M244.6 316.3h0M244.9 314.5h0M245.1 324.3h0M245.3 318.2h0M245.6 310.6h0M245.8 318.9h0M246.0 317.9h0M246.3 314.1h0M246.5 315.1h0M246.7 316.5h0M246.9 321.2h0M247.2 315.3h0M247.4 314.7h0M247.6 319.2h0M247.9 315.0h0M248.1 313.9h0M248.3 316.3h0M248.6 318.8h0M248.8 317.0h0M249.0 315.6h0M249.2 320.4h0M249.5 320.2h0M249.7 312.4h0M249.9 313.5h0M250.2 314.2h0M250.4 316.0h0M250.6 317.0h0M250.9 316.3h0M251.1 316.7h0M251.3 317.7h0M251.5 313.1h0M251.8 310.8h0M252.0 317.3h0M252.2 319.7h0M252.5 317.0h0M252.7 315.4h0M252.9 317.9h0M253.2 315.6h0M253.4 313.0h0M253.6 315.4h0M253.8 318.4h0M254.1 317.3h0M254.3 318.2h0M254.5 315.1h0M254.8 317.8h0M255.0 320.1h0M255.2 315.5h0M255.5 315.1h0M255.7 319.6h0M255.9 316.6h0M256.2 313.3h0M256.4 315.3h0M256.6 319.8h0M256.8 317.3h0M257.1 321.2h0M257.3 318.0h0M257.5 317.0h0M257.8 319.1h0M258.0 314.7h0M258.2 319.1h0M258.5 316.1h0M258.7 315.6h0M258.9 317.3h0M259.1 315.1h0M259.4 313.3h0M259.6 313.9h0M259.8 317.6h0M260.1 317.0h0M260.3 316.5h0M260.5 318.1h0M260.8 313.9h0M261.0 315.2h0M261.2 320.4h0M261.4 313.7h0M261.7 319.5h0M261.9 315.5h0M262.1 317.6h0M262.4 316.8h0M262.6 315.5h0M262.8 308.5h0M263.1 318.6h0M263.3 314.3h0M263.5 313.7h0M263.7 318.4h0M264.0 315.1h0M264.2 315.7h0M264.4 315.6h0M264.7 315.0h0M264.9 311.4h0M265.1 315.8h0M265.4 314.9h0M265.6 312.6h0M265.8 314.6h0M266.0 316.7h0M266.3 320.5h0M266.5 314.7h0M266.7 319.5h0M267.0 314.9h0M267.2 317.2h0M267.4 315.4h0M267.7 318.0h0M267.9 316.4h0M268.1 315.0h0M268.4 312.0h0M268.6 318.6h0M268.8 312.1h0M269.0 314.4h0M269.3 320.6h0M269.5 316.6h0M269.7 316.2h0M270.0 316.3h0M270.2 316.6h0M270.4 315.1h0M270.7 316.8h0M270.9 315.5h0M271.1 315.1h0M271.3 317.1h0M271.6 317.6h0M271.8 316.8h0M272.0 318.4h0M272.3 320.7h0M272.5 320.4h0M272.7 316.2h0M273.0 313.1h0M273.2 318.9h0M273.4 316.2h0M273.6 317.9h0M273.9 315.0h0M274.1 318.1h0M274.3 313.0h0M274.6 316.3h0M274.8 312.4h0M275.0 321.1h0M275.3 315.2h0M275.5 310.5h0M275.7 319.2h0M275.9 318.4h0M276.2 319.4h0M276.4 313.0h0M276.6 316.8h0M276.9 319.2h0M277.1 315.4h0M277.3 316.8h0M277.6 315.3h0M277.8 315.1h0M278.0 319.4h0M278.2 313.8h0M278.5 315.9h0M278.7 317.3h0M278.9 315.9h0M279.2 318.0h0M279.4 310.7h0M279.6 318.7h0M279.9 312.8h0M280.1 315.2h0M280.3 314.9h0M280.6 317.0h0M280.8 315.3h0M281.0 314.7h0M281.2 317.5h0M281.5 321.1h0M281.7 314.2h0M281.9 314.1h0M282.2 314.2h0M282.4 312.6h0M282.6 312.6h0M282.9 314.5h0M283.1 317.5h0M283.3 314.4h0M283.5 313.6h0M283.8 315.4h0M284.0 313.6h0M284.2 322.6h0M284.5 319.6h0M284.7 315.7h0M284.9 311.3h0M285.2 314.2h0M285.4 313.3h0M285.6 313.4h0M285.8 310.1h0M286.1 314.3h0M286.3 314.1h0M286.5 313.9h0M286.8 312.3h0M287.0 316.5h0M287.2 313.4h0M287.5 309.8h0M287.7 312.9h0M287.9 317.6h0M288.1 318.6h0M288.4 312.6h0M288.6 315.1h0M288.8 316.9h0M289.1 317.8h0M289.3 314.3h0M289.5 316.2h0M289.8 314.4h0M290.0 310.9h0M290.2 317.8h0M290.4 315.3h0M290.7 316.5h0M290.9 314.9h0M291.1 313.2h0M291.4 314.2h0M291.6 316.3h0M291.8 312.2h0M292.1 319.3h0M292.3 321.2h0M292.5 309.6h0M292.8 317.7h0M293.0 314.3h0M293.2 316.9h0M293.4 315.9h0M293.7 314.9h0M293.9 317.7h0M294.1 315.6h0M294.4 319.2h0M294.6 316.2h0M294.8 311.7h0M295.1 314.9h0M295.3 315.4h0M295.5 313.9h0M295.7 312.2h0M296.0 320.3h0M296.2 315.2h0M296.4 315.3h0M296.7 311.2h0M296.9 316.7h0M297.1 309.3h0M297.4 318.1h0M297.6 319.6h0M297.8 313.7h0M298.0 313.5h0M298.3 318.3h0M298.5 318.0h0M298.7 316.1h0M299.0 317.1h0M299.2 314.5h0M299.4 315.2h0M299.7 315.3h0M299.9 309.8h0M300.1 317.1h0M300.3 317.2h0M300.6 312.9h0M300.8 313.9h0M301.0 316.0h0M301.3 317.1h0M301.5 315.3h0M301.7 314.1h0M302.0 316.3h0M302.2 315.5h0M302.4 312.7h0M302.6 314.4h0M302.9 314.3h0M303.1 316.9h0M303.3 311.9h0M303.6 313.1h0M303.8 314.2h0M304.0 315.2h0M304.3 321.2h0M304.5 314.7h0M304.7 317.8h0M305.0 317.1h0M305.2 318.4h0M305.4 319.5h0M305.6 316.6h0M305.9 312.7h0M306.1 314.2h0M306.3 318.9h0M306.6 320.6h0M306.8 318.3h0M307.0 321.2h0M307.3 316.8h0M307.5 313.0h0M307.7 315.3h0M307.9 315.8h0M308.2 317.4h0M308.4 317.2h0M308.6 312.8h0M308.9 318.0h0M309.1 313.6h0M309.3 315.7h0M309.6 316.7h0M309.8 316.8h0M310.0 316.3h0M310.2 313.6h0M310.5 313.7h0M310.7 317.4h0M310.9 313.8h0M311.2 312.0h0M311.4 308.5h0M311.6 315.0h0M311.9 312.7h0M312.1 315.0h0M312.3 312.2h0M312.5 313.8h0M312.8 314.0h0M313.0 317.3h0M313.2 312.7h0M313.5 311.9h0M313.7 315.2h0M313.9 317.0h0M314.2 312.6h0M314.4 316.2h0M314.6 314.9h0M314.8 316.1h0M315.1 310.1h0M315.3 315.1h0M315.5 314.2h0M315.8 315.4h0M316.0 313.1h0" stroke="#000080" stroke-width="2.20" stroke-linecap="round" fill="none"/>
<path d="M40.2 478.4h0M40.5 481.4h0M40.9 480.8h0M41.2 480.3h0M41.4 481.1h0M41.6 478.4h0M42.5 481.6h0M43.0 479.1h0M43.2 481.9h0M43.5 477.7h0M43.7 481.0h0M43.9 479.3h0M44.4 474.0h0M44.6 479.4h0M44.8 478.9h0M45.1 481.6h0M45.3 477.4h0M45.5 478.1h0M46.0 477.1h0M46.2 477.6h0M46.4 481.8h0M46.7 472.0h0M46.9 479.0h0M47.1 478.4h0M47.4 477.8h0M47.6 471.5h0M47.8 472.1h0M48.1 473.4h0M48.3 472.9h0M48.5 477.0h0M48.7 473.3h0M49.0 478.2h0M49.2 473.5h0M49.4 474.9h0M49.7 470.7h0M49.9 470.4h0M50.1 472.9h0M50.4 473.8h0M50.6 468.8h0M50.8 474.0h0M51.0 469.0h0M51.3 473.9h0M51.5 465.2h0M51.7 467.3h0M52.0 469.8h0M52.2 467.3h0M52.4 465.4h0M52.7 468.5h0M52.9 469.0h0M53.1 464.7h0M53.4 467.7h0M53.6 463.8h0M53.8 462.4h0M54.0 468.1h0M54.3 462.3h0M54.5 462.1h0M54.7 465.4h0M55.0 460.0h0M55.2 459.7h0M55.4 461.3h0M55.7 461.9h0M55.9 464.0h0M56.1 460.4h0M56.3 458.7h0M56.6 456.4h0M56.8 458.9h0M57.0 458.1h0M57.3 462.3h0M57.5 454.0h0M57.7 453.1h0M58.0 452.5h0M58.2 456.8h0M58.4 458.4h0M58.6 461.5h0M58.9 451.7h0M59.1 456.5h0M59.3 453.8h0M59.6 460.0h0M59.8 455.9h0M60.0 458.9h0M60.3 454.0h0M60.5 456.8h0M60.7 454.4h0M60.9 451.1h0M61.2 455.3h0M61.4 451.3h0M61.6 445.2h0M61.9 451.1h0M62.1 447.5h0M62.3 452.2h0M62.6 454.8h0M62.8 450.8h0M63.0 451.1h0M63.2 445.5h0M63.5 446.4h0M63.7 446.5h0M63.9 453.6h0M64.2 446.2h0M64.4 447.8h0M64.6 441.1h0M64.9 444.6h0M65.1 445.9h0M65.3 444.7h0M65.6 440.9h0M65.8 445.4h0M66.0 445.0h0M66.2 439.5h0M66.5 438.6h0M66.7 443.6h0M66.9 443.8h0M67.2 436.9h0M67.4 442.4h0M67.6 435.7h0M67.9 438.8h0M68.1 451.6h0M68.3 433.5h0M68.5 437.7h0M68.8 436.6h0M69.0 437.8h0M69.2 438.5h0M69.5 433.0h0M69.7 433.3h0M69.9 431.5h0M70.2 435.6h0M70.4 435.5h0M70.6 437.5h0M70.8 432.3h0M71.1 430.2h0M71.3 436.6h0M71.5 430.0h0M71.8 433.4h0M72.0 435.7h0M72.2 432.9h0M72.5 424.8h0M72.7 426.6h0M72.9 426.9h0M73.1 431.3h0M73.4 426.0h0M73.6 430.1h0M73.8 428.0h0M74.1 427.4h0M74.3 426.3h0M74.5 423.7h0M74.8 429.5h0M75.0 425.3h0M75.2 428.9h0M75.4 421.2h0M75.7 418.3h0M75.9 427.0h0M76.1 418.9h0M76.4 422.1h0M76.6 420.2h0M76.8 420.3h0M77.1 419.3h0M77.3 416.5h0M77.5 415.7h0M77.8 419.4h0M78.0 416.1h0M78.2 436.1h0M78.4 416.0h0M78.7 420.9h0M78.9 414.9h0M79.1 418.2h0M79.4 413.6h0M79.6 412.1h0M79.8 413.7h0M80.1 413.4h0M80.3 421.2h0M80.5 409.1h0M80.7 410.6h0M81.0 414.2h0M81.2 411.1h0M81.4 411.6h0M81.7 413.0h0M81.9 409.8h0M82.1 407.7h0M82.4 405.3h0M82.6 410.0h0M82.8 410.1h0M83.0 408.6h0M83.3 411.1h0M83.5 405.9h0M83.7 407.6h0M84.0 403.8h0M84.2 400.2h0M84.4 407.2h0M84.7 403.7h0M84.9 406.6h0M85.1 402.4h0M85.3 399.3h0M85.6 400.8h0M85.8 402.2h0M86.0 400.7h0M86.3 401.5h0M86.5 403.7h0M86.7 401.6h0M87.0 402.7h0M87.2 400.5h0M87.4 398.5h0M87.6 397.3h0M87.9 393.3h0M88.1 401.2h0M88.3 402.3h0M88.6 395.7h0M88.8 395.5h0M89.0 395.4h0M89.3 398.5h0M89.5 397.4h0M89.7 396.1h0M90.0 396.2h0M90.2 391.0h0M90.4 395.2h0M90.6 394.7h0M90.9 396.3h0M91.1 392.3h0M91.3 392.5h0M91.6 394.3h0M91.8 401.2h0M92.0 391.0h0M92.3 398.5h0M92.5 389.3h0M92.7 391.8h0M92.9 388.4h0M93.2 394.8h0M93.4 390.7h0M93.6 390.5h0M93.9 392.5h0M94.1 392.8h0M94.3 386.5h0M94.6 388.7h0M94.8 386.0h0M95.0 390.4h0M95.2 380.2h0M95.5 392.4h0M95.7 384.7h0M95.9 378.7h0M96.2 385.2h0M96.4 381.4h0M96.6 383.5h0M96.9 383.2h0M97.1 385.6h0M97.3 376.5h0M97.5 382.6h0M97.8 384.4h0M98.0 376.7h0M98.2 382.3h0M98.5 382.0h0M98.7 377.5h0M98.9 373.0h0M99.2 378.7h0M99.4 376.4h0M99.6 382.0h0M99.8 376.2h0M100.1 378.5h0M100.3 377.0h0M100.5 376.1h0M100.8 371.3h0M101.0 372.4h0M101.2 374.4h0M101.5 373.4h0M101.7 372.9h0M101.9 375.1h0M102.2 372.5h0M102.4 374.0h0M102.6 371.7h0M102.8 372.2h0M103.1 369.0h0M103.3 365.7h0M103.5 372.2h0M103.8 371.9h0M104.0 370.8h0M104.2 366.0h0M104.5 371.3h0M104.7 367.9h0M104.9 367.7h0M105.1 364.8h0M105.4 364.9h0M105.6 364.1h0M105.8 366.6h0M106.1 363.1h0M106.3 364.6h0M106.5 362.7h0M106.8 360.1h0M107.0 363.7h0M107.2 363.5h0M107.4 363.0h0M107.7 353.6h0M107.9 365.1h0M108.1 361.6h0M108.4 358.4h0M108.6 366.6h0M108.8 360.6h0M109.1 362.3h0M109.3 360.2h0M109.5 352.6h0M109.7 362.6h0M110.0 355.4h0M110.2 361.6h0M110.4 357.7h0M110.7 355.2h0M110.9 350.1h0M111.1 355.6h0M111.4 353.7h0M111.6 356.5h0M111.8 352.8h0M112.1 357.9h0M112.3 353.9h0M112.5 353.8h0M112.7 360.7h0M113.0 356.8h0M113.2 352.3h0M113.4 355.0h0M113.7 348.8h0M113.9 351.1h0M114.1 352.5h0M114.4 350.5h0M114.6 349.4h0M114.8 354.0h0M115.0 350.0h0M115.3 349.1h0M115.5 349.4h0M115.7 349.0h0M116.0 353.0h0M116.2 351.2h0M116.4 345.6h0M116.7 353.7h0M116.9 352.7h0M117.1 348.3h0M117.3 346.0h0M117.6 348.7h0M117.8 346.6h0M118.0 349.6h0M118.3 347.6h0M118.5 351.2h0M118.7 342.4h0M119.0 345.1h0M119.2 347.4h0M119.4 344.8h0M119.6 344.8h0M119.9 342.3h0M120.1 351.0h0M120.3 344.6h0M120.6 346.9h0M120.8 342.2h0M121.0 342.9h0M121.3 343.7h0M121.5 348.5h0M121.7 347.4h0M121.9 349.2h0M122.2 347.2h0M122.4 346.8h0M122.6 341.5h0M122.9 339.8h0M123.1 345.4h0M123.3 339.2h0M123.6 342.5h0M123.8 338.9h0M124.0 337.3h0M124.3 340.3h0M124.5 337.2h0M124.7 338.6h0M124.9 341.8h0M125.2 338.4h0M125.4 341.6h0M125.6 337.0h0M125.9 339.1h0M126.1 334.8h0M126.3 341.4h0M126.6 331.2h0M126.8 337.8h0M127.0 338.3h0M127.2 328.8h0M127.5 331.3h0M127.7 331.4h0M127.9 335.4h0M128.2 334.6h0M128.4 334.1h0M128.6 336.6h0M128.9 341.3h0M129.1 331.4h0M129.3 335.2h0M129.5 334.0h0M129.8 336.8h0M130.0 327.2h0M130.2 328.4h0M130.5 329.8h0M130.7 329.6h0M130.9 333.2h0M131.2 330.9h0M131.4 326.2h0M131.6 329.7h0M131.8 326.9h0M132.1 329.2h0M132.3 330.7h0M132.5 328.7h0M132.8 334.4h0M133.0 337.2h0M133.2 331.9h0M133.5 325.7h0M133.7 334.2h0M133.9 336.0h0M134.1 329.1h0M134.4 330.6h0M134.6 332.5h0M134.8 329.6h0M135.1 332.6h0M135.3 330.3h0M135.5 326.7h0M135.8 326.9h0M136.0 327.4h0M136.2 325.9h0M136.5 331.6h0M136.7 328.5h0M136.9 326.8h0M137.1 329.6h0M137.4 327.3h0M137.6 329.9h0M137.8 331.4h0M138.1 327.0h0M138.3 324.6h0M138.5 322.7h0M138.8 331.2h0M139.0 326.9h0M139.2 323.9h0M139.4 325.2h0M139.7 322.0h0M139.9 329.1h0M140.1 325.8h0M140.4 323.7h0M140.6 320.3h0M140.8 330.6h0M141.1 324.6h0M141.3 317.6h0M141.5 322.2h0M141.7 323.6h0M142.0 324.0h0M142.2 320.2h0M142.4 326.6h0M142.7 324.8h0M142.9 323.0h0M143.1 320.8h0M143.4 317.3h0M143.6 321.0h0M143.8 321.6h0M144.0 318.6h0M144.3 322.7h0M144.5 324.0h0M144.7 320.2h0M145.0 320.2h0M145.2 321.2h0M145.4 325.9h0M145.7 325.1h0M145.9 315.9h0M146.1 319.1h0M146.3 327.9h0M146.6 319.3h0M146.8 325.3h0M147.0 321.4h0M147.3 323.5h0M147.5 318.6h0M147.7 319.8h0M148.0 321.0h0M148.2 319.2h0M148.4 318.9h0M148.7 323.1h0M148.9 318.3h0M149.1 322.5h0M149.3 316.8h0M149.6 317.5h0M149.8 320.4h0M150.0 319.6h0M150.3 320.8h0M150.5 318.0h0M150.7 317.6h0M151.0 316.2h0M151.2 312.8h0M151.4 316.1h0M151.6 320.2h0M151.9 316.9h0M152.1 317.5h0M152.3 320.5h0M152.6 314.0h0M152.8 317.6h0M153.0 314.8h0M153.3 319.6h0M153.5 311.9h0M153.7 315.1h0M153.9 314.5h0M154.2 314.9h0M154.4 314.1h0M154.6 321.1h0M154.9 314.9h0M155.1 314.9h0M155.3 311.0h0M155.6 311.3h0M155.8 312.8h0M156.0 311.4h0M156.2 316.3h0M156.5 313.0h0M156.7 313.3h0M156.9 314.1h0M157.2 311.7h0M157.4 310.6h0M157.6 312.2h0M157.9 314.7h0M158.1 313.6h0M158.3 311.4h0M158.5 318.4h0M158.8 314.7h0M159.0 315.5h0M159.2 317.9h0M159.5 310.7h0M159.7 316.1h0M159.9 313.9h0M160.2 313.9h0M160.4 308.6h0M160.6 310.5h0M160.9 312.8h0M161.1 312.6h0M161.3 317.1h0M161.5 311.5h0M161.8 313.2h0M162.0 311.5h0M162.2 308.5h0M162.5 311.2h0M162.7 312.4h0M162.9 317.1h0M163.2 315.6h0M163.4 310.4h0M163.6 310.5h0M163.8 311.7h0M164.1 310.0h0M164.3 318.8h0M164.5 314.0h0M164.8 311.3h0M165.0 309.8h0M165.2 308.2h0M165.5 311.0h0M165.7 303.7h0M165.9 310.0h0M166.1 309.7h0M166.4 315.4h0M166.6 305.8h0M166.8 313.5h0M167.1 309.8h0M167.3 313.0h0M167.5 308.5h0M167.8 311.8h0M168.0 313.0h0M168.2 317.9h0M168.4 308.1h0M168.7 310.0h0M168.9 310.0h0M169.1 308.5h0M169.4 309.9h0M169.6 310.2h0M169.8 309.0h0M170.1 305.0h0M170.3 310.7h0M170.5 305.6h0M170.7 309.5h0M171.0 312.6h0M171.2 306.0h0M171.4 309.2h0M171.7 310.1h0M171.9 309.4h0M172.1 308.1h0M172.4 309.4h0M172.6 311.3h0M172.8 306.3h0M173.1 308.7h0M173.3 311.2h0M173.5 307.4h0M173.7 305.6h0M174.0 311.7h0M174.2 311.0h0M174.4 311.7h0M174.7 308.8h0M174.9 306.9h0M175.1 313.1h0M175.4 312.3h0M175.6 311.0h0M175.8 307.2h0M176.0 308.9h0M176.3 306.0h0M176.5 305.4h0M176.7 308.7h0M177.0 309.3h0M177.2 310.0h0M177.4 308.6h0M177.7 314.2h0M177.9 305.4h0M178.1 312.0h0M178.3 307.0h0M178.6 310.8h0M178.8 305.4h0M179.0 314.4h0M179.3 312.1h0M179.5 303.3h0M179.7 311.7h0M180.0 308.4h0M180.2 310.5h0M180.4 307.8h0M180.6 307.4h0M180.9 303.7h0M181.1 306.3h0M181.3 307.6h0M181.6 302.8h0M181.8 304.7h0M182.0 307.6h0M182.3 308.8h0M182.5 306.2h0M182.7 311.5h0M182.9 316.3h0M183.2 309.2h0M183.4 311.1h0M183.6 305.0h0M183.9 310.6h0M184.1 306.8h0M184.3 304.8h0M184.6 311.8h0M184.8 311.9h0M185.0 306.2h0M185.3 310.2h0M185.5 309.9h0M185.7 307.0h0M185.9 313.3h0M186.2 306.6h0M186.4 305.0h0M186.6 307.0h0M186.9 306.6h0M187.1 305.6h0M187.3 306.0h0M187.6 302.9h0M187.8 308.5h0M188.0 302.8h0M188.2 309.9h0M188.5 308.7h0M188.7 305.5h0M188.9 305.5h0M189.2 304.7h0M189.4 306.5h0M189.6 311.6h0M189.9 307.4h0M190.1 305.2h0M190.3 311.5h0M190.5 305.2h0M190.8 305.3h0M191.0 312.6h0M191.2 308.3h0M191.5 309.8h0M191.7 301.8h0M191.9 307.8h0M192.2 308.2h0M192.4 308.4h0M192.6 312.6h0M192.8 302.7h0M193.1 299.2h0M193.3 305.2h0M193.5 301.7h0M193.8 306.5h0M194.0 302.5h0M194.2 306.1h0M194.5 309.1h0M194.7 304.4h0M194.9 303.7h0M195.1 308.1h0M195.4 303.6h0M195.6 305.6h0M195.8 305.3h0M196.1 302.0h0M196.3 308.5h0M196.5 302.5h0M196.8 308.3h0M197.0 306.7h0M197.2 302.5h0M197.5 304.6h0M197.7 308.1h0M197.9 304.7h0M198.1 311.9h0M198.4 302.6h0M198.6 308.9h0M198.8 300.6h0M199.1 304.7h0M199.3 308.3h0M199.5 299.8h0M199.8 306.1h0M200.0 302.1h0M200.2 301.4h0M200.4 303.1h0M200.7 303.6h0M200.9 303.8h0M201.1 303.4h0M201.4 302.7h0M201.6 297.5h0M201.8 309.1h0M202.1 311.3h0M202.3 306.4h0M202.5 304.2h0M202.7 302.2h0M203.0 305.8h0M203.2 305.8h0M203.4 302.3h0M203.7 304.4h0M203.9 307.1h0M204.1 305.8h0M204.4 304.7h0M204.6 305.2h0M204.8 302.7h0M205.0 304.7h0M205.3 305.0h0M205.5 302.6h0M205.7 304.4h0M206.0 307.4h0M206.2 307.8h0M206.4 298.3h0M206.7 300.5h0M206.9 307.6h0M207.1 305.9h0M207.3 305.9h0M207.6 300.5h0M207.8 304.8h0M208.0 306.3h0M208.3 305.8h0M208.5 302.4h0M208.7 302.8h0M209.0 305.4h0M209.2 305.0h0M209.4 308.3h0M209.7 297.8h0M209.9 301.8h0M210.1 308.0h0M210.3 301.0h0M210.6 304.7h0M210.8 308.6h0M211.0 301.4h0M211.3 305.3h0M211.5 309.9h0M211.7 300.6h0M212.0 298.5h0M212.2 307.4h0M212.4 302.8h0M212.6 304.1h0M212.9 304.4h0M213.1 307.8h0M213.3 303.3h0M213.6 307.1h0M213.8 306.4h0M214.0 304.1h0M214.3 307.2h0M214.5 305.0h0M214.7 303.8h0M214.9 312.9h0M215.2 298.2h0M215.4 300.6h0M215.6 301.0h0M215.9 302.8h0M216.1 304.5h0M216.3 314.6h0M216.6 310.6h0M216.8 302.4h0M217.0 300.7h0M217.2 303.9h0M217.5 302.6h0M217.7 302.4h0M217.9 306.6h0M218.2 304.7h0M218.4 307.1h0M218.6 300.7h0M218.9 305.6h0M219.1 303.8h0M219.3 301.9h0M219.5 299.1h0M219.8 303.5h0M220.0 300.3h0M220.2 305.8h0M220.5 305.0h0M220.7 305.0h0M220.9 311.8h0M221.2 307.3h0M221.4 297.6h0M221.6 305.3h0M221.9 304.2h0M222.1 304.2h0M222.3 302.0h0M222.5 306.2h0M222.8 295.2h0M223.0 299.5h0M223.2 305.3h0M223.5 304.0h0M223.7 306.1h0M223.9 302.3h0M224.2 301.8h0M224.4 305.7h0M224.6 303.8h0M224.8 298.2h0M225.1 306.1h0M225.3 300.1h0M225.5 305.9h0M225.8 303.8h0M226.0 305.0h0M226.2 306.3h0M226.5 300.2h0M226.7 305.1h0M226.9 303.0h0M227.1 302.4h0M227.4 303.2h0M227.6 301.7h0M227.8 303.3h0M228.1 303.8h0M228.3 301.2h0M228.5 306.3h0M228.8 303.4h0M229.0 299.8h0M229.2 304.4h0M229.4 304.6h0M229.7 298.8h0M229.9 303.9h0M230.1 311.4h0M230.4 303.7h0M230.6 302.5h0M230.8 304.1h0M231.1 303.5h0M231.3 296.2h0M231.5 303.1h0M231.7 304.5h0M232.0 305.0h0M232.2 306.5h0M232.4 303.9h0M232.7 306.7h0M232.9 305.4h0M233.1 301.4h0M233.4 300.8h0M233.6 306.6h0M233.8 304.9h0M234.1 297.6h0M234.3 299.7h0M234.5 306.2h0M234.7 303.2h0M235.0 297.6h0M235.2 304.0h0M235.4 305.7h0M235.7 304.7h0M235.9 302.6h0M236.1 302.1h0M236.4 301.1h0M236.6 301.2h0M236.8 303.5h0M237.0 310.1h0M237.3 310.3h0M237.5 302.2h0M237.7 298.3h0M238.0 302.4h0M238.2 301.8h0M238.4 301.9h0M238.7 297.7h0M238.9 302.4h0M239.1 300.7h0M239.3 302.7h0M239.6 298.0h0M239.8 302.7h0M240.0 299.0h0M240.3 300.1h0M240.5 300.6h0M240.7 300.9h0M241.0 300.9h0M241.2 300.9h0M241.4 300.7h0M241.6 300.4h0M241.9 300.8h0M242.1 301.5h0M242.3 308.1h0M242.6 305.2h0M242.8 300.7h0M243.0 298.4h0M243.3 305.8h0M243.5 302.4h0M243.7 303.5h0M243.9 305.9h0M244.2 296.8h0M244.4 300.6h0M244.6 303.0h0M244.9 306.6h0M245.1 302.2h0M245.3 302.7h0M245.6 302.3h0M245.8 302.3h0M246.0 302.9h0M246.3 300.7h0M246.5 300.3h0M246.7 301.3h0M246.9 304.2h0M247.2 305.8h0M247.4 302.8h0M247.6 301.6h0M247.9 306.0h0M248.1 304.0h0M248.3 304.5h0M248.6 302.0h0M248.8 301.1h0M249.0 303.8h0M249.2 301.9h0M249.5 305.8h0M249.7 299.7h0M249.9 303.3h0M250.2 302.4h0M250.4 299.3h0M250.6 301.3h0M250.9 299.2h0M251.1 301.3h0M251.3 301.5h0M251.5 310.1h0M251.8 299.2h0M252.0 304.2h0M252.2 300.9h0M252.5 303.4h0M252.7 301.3h0M252.9 299.9h0M253.2 306.5h0M253.4 305.6h0M253.6 297.1h0M253.8 301.8h0M254.1 301.2h0M254.3 297.5h0M254.5 302.8h0M254.8 303.8h0M255.0 302.4h0M255.2 303.6h0M255.5 307.5h0M255.7 300.9h0M255.9 305.9h0M256.2 308.7h0M256.4 293.7h0M256.6 301.6h0M256.8 306.3h0M257.1 303.3h0M257.3 300.4h0M257.5 306.5h0M257.8 304.9h0M258.0 297.5h0M258.2 304.7h0M258.5 301.7h0M258.7 302.9h0M258.9 298.8h0M259.1 303.9h0M259.4 302.7h0M259.6 299.5h0M259.8 301.3h0M260.1 306.5h0M260.3 306.8h0M260.5 297.9h0M260.8 303.8h0M261.0 301.4h0M261.2 300.8h0M261.4 303.0h0M261.7 306.8h0M261.9 303.9h0M262.1 299.5h0M262.4 302.5h0M262.6 303.6h0M262.8 305.6h0M263.1 302.1h0M263.3 302.7h0M263.5 303.0h0M263.7 304.3h0M264.0 296.8h0M264.2 306.5h0M264.4 303.3h0M264.7 302.4h0M264.9 299.1h0M265.1 303.1h0M265.4 308.2h0M265.6 295.3h0M265.8 297.6h0M266.0 303.7h0M266.3 302.5h0M266.5 302.2h0M266.7 297.9h0M267.0 303.7h0M267.2 304.3h0M267.4 289.6h0M267.7 302.9h0M267.9 304.7h0M268.1 299.8h0M268.4 296.1h0M268.6 302.7h0M268.8 308.8h0M269.0 303.5h0M269.3 309.1h0M269.5 303.5h0M269.7 301.8h0M270.0 300.2h0M270.2 306.7h0M270.4 298.5h0M270.7 300.7h0M270.9 301.3h0M271.1 303.4h0M271.3 302.7h0M271.6 298.1h0M271.8 299.0h0M272.0 307.6h0M272.3 302.8h0M272.5 302.6h0M272.7 301.5h0M273.0 303.4h0M273.2 300.3h0M273.4 305.9h0M273.6 305.1h0M273.9 302.6h0M274.1 305.3h0M274.3 302.1h0M274.6 301.4h0M274.8 305.6h0M275.0 302.3h0M275.3 300.2h0M275.5 307.4h0M275.7 302.1h0M275.9 304.0h0M276.2 307.1h0M276.4 298.9h0M276.6 301.7h0M276.9 305.5h0M277.1 301.8h0M277.3 301.4h0M277.6 302.2h0M277.8 301.8h0M278.0 301.8h0M278.2 303.9h0M278.5 303.0h0M278.7 307.8h0M278.9 303.7h0M279.2 307.7h0M279.4 303.1h0M279.6 307.9h0M279.9 302.3h0M280.1 306.4h0M280.3 303.2h0M280.6 307.6h0M280.8 300.4h0M281.0 301.4h0M281.2 303.9h0M281.5 299.9h0M281.7 307.1h0M281.9 302.2h0M282.2 304.4h0M282.4 305.8h0M282.6 304.6h0M282.9 300.6h0M283.1 298.8h0M283.3 297.8h0M283.5 300.1h0M283.8 300.6h0M284.0 300.4h0M284.2 304.2h0M284.5 298.8h0M284.7 298.0h0M284.9 303.3h0M285.2 308.1h0M285.4 300.1h0M285.6 302.4h0M285.8 302.6h0M286.1 306.0h0M286.3 305.4h0M286.5 301.5h0M286.8 305.5h0M287.0 303.0h0M287.2 305.2h0M287.5 308.2h0M287.7 296.3h0M287.9 298.6h0M288.1 298.8h0M288.4 299.1h0M288.6 303.1h0M288.8 303.2h0M289.1 308.0h0M289.3 307.0h0M289.5 303.7h0M289.8 302.4h0M290.0 304.8h0M290.2 304.1h0M290.4 295.7h0M290.7 304.9h0M290.9 301.3h0M291.1 302.5h0M291.4 302.4h0M291.6 301.0h0M291.8 300.9h0M292.1 303.0h0M292.3 302.4h0M292.5 299.2h0M292.8 307.7h0M293.0 307.8h0M293.2 307.7h0M293.4 306.3h0M293.7 302.5h0M293.9 300.0h0M294.1 299.8h0M294.4 297.7h0M294.6 301.8h0M294.8 297.7h0M295.1 303.1h0M295.3 303.6h0M295.5 301.2h0M295.7 301.2h0M296.0 302.6h0M296.2 304.5h0M296.4 301.8h0M296.7 307.8h0M296.9 300.2h0M297.1 301.0h0M297.4 301.4h0M297.6 302.2h0M297.8 303.4h0M298.0 304.4h0M298.3 301.8h0M298.5 307.5h0M298.7 297.3h0M299.0 303.6h0M299.2 302.9h0M299.4 298.8h0M299.7 298.6h0M299.9 303.1h0M300.1 306.2h0M300.3 304.0h0M300.6 302.5h0M300.8 301.9h0M301.0 301.3h0M301.3 301.6h0M301.5 304.7h0M301.7 305.9h0M302.0 304.4h0M302.2 300.8h0M302.4 304.5h0M302.6 305.8h0M302.9 297.4h0M303.1 303.7h0M303.3 301.2h0M303.6 303.1h0M303.8 299.1h0M304.0 299.7h0M304.3 302.5h0M304.5 301.2h0M304.7 301.3h0M305.0 300.2h0M305.2 304.1h0M305.4 305.9h0M305.6 300.0h0M305.9 303.5h0M306.1 301.5h0M306.3 303.5h0M306.6 306.0h0M306.8 303.5h0M307.0 302.4h0M307.3 299.7h0M307.5 306.1h0M307.7 307.6h0M307.9 297.2h0M308.2 304.5h0M308.4 302.3h0M308.6 299.1h0M308.9 307.8h0M309.1 304.3h0M309.3 308.9h0M309.6 300.5h0M309.8 301.5h0M310.0 298.5h0M310.2 303.0h0M310.5 297.9h0M310.7 301.9h0M310.9 306.2h0M311.2 304.4h0M311.4 305.6h0M311.6 303.2h0M311.9 305.1h0M312.1 302.5h0M312.3 299.2h0M312.5 304.3h0M312.8 302.7h0M313.0 300.5h0M313.2 299.6h0M313.5 306.4h0M313.7 298.1h0M313.9 300.4h0M314.2 303.9h0M314.4 304.6h0M314.6 303.6h0M314.8 298.5h0M315.1 306.0h0M315.3 302.6h0M315.5 298.6h0M315.8 306.0h0M316.0 302.6h0" stroke="#800000" stroke-width="2.20" stroke-linecap="round" fill="none"/>
<path d="M39.5 282V481H316.5V282" fill="none" stroke="#2a2a2a" stroke-width="1.15"/>
<path d="M39.5 282H316.5" fill="none" stroke="#2a2a2a" stroke-width="1.15"/>
<path d="M101.1 481v4.2M162.6 481v4.2M224.2 481v4.2M285.7 481v4.2M70.3 481v2.5M131.8 481v2.5M193.4 481v2.5M254.9 481v2.5M316.5 481v2.5" stroke="#2a2a2a" stroke-width="1"/>
<text x="101.1" y="496.8" font-size="11" fill="#000" font-weight="bold" text-anchor="middle" >20</text>
<text x="162.6" y="496.8" font-size="11" fill="#000" font-weight="bold" text-anchor="middle" >40</text>
<text x="224.2" y="496.8" font-size="11" fill="#000" font-weight="bold" text-anchor="middle" >60</text>
<text x="285.7" y="496.8" font-size="11" fill="#000" font-weight="bold" text-anchor="middle" >80</text>
<path d="M39.5 481h-3.8M39.5 414.7h-3.8M39.5 348.3h-3.8M39.5 282h-3.8M39.5 447.8h-2.2M39.5 381.5h-2.2M39.5 315.2h-2.2" stroke="#2a2a2a" stroke-width="1"/>
<text x="32.2" y="484.2" font-size="11" fill="#000" font-weight="bold" text-anchor="end" >0.0</text>
<text x="32.2" y="417.9" font-size="11" fill="#000" font-weight="bold" text-anchor="end" >0.1</text>
<text x="32.2" y="351.5" font-size="11" fill="#000" font-weight="bold" text-anchor="end" >0.2</text>
<text x="32.2" y="285.2" font-size="11" fill="#000" font-weight="bold" text-anchor="end" >0.3</text>
<text x="8.6" y="273.6" font-size="16" fill="#000" font-weight="bold" text-anchor="start" >C</text>
<text x="178.4" y="518.2" font-size="13.3" fill="#000" font-weight="bold" text-anchor="middle" >Time (min)</text>
<text x="0" y="0" font-size="13.4" fill="#000" font-weight="bold" text-anchor="middle" transform="translate(11.8 380.9) rotate(-90)">Fluorescence Polarization (P)</text>
<text x="117.7" y="302.3" font-size="6.75" fill="#800000" font-weight="normal" text-anchor="start" >+HSP-90</text>
<text x="67" y="324.2" font-size="6.75" fill="#000080" font-weight="normal" text-anchor="start" >+HSP-90 + FKB-6</text>
<text x="160.4" y="401.7" font-size="6.75" fill="#808000" font-weight="normal" text-anchor="start" >+HSP-90 + PPH-5</text>
<text x="132" y="419.7" font-size="6.75" fill="#444" font-weight="normal" text-anchor="start" >GRLBD</text>
<path d="M408.3 440.5h0M409.4 440.7h0M408.6 432.6h0M409.6 436.4h0M410.3 422.6h0M411.6 421.3h0M412.2 431.1h0M413.0 416.3h0M414.2 438.5h0M414.2 429.0h0M414.3 432.7h0M415.6 420.2h0M416.9 411.0h0M417.6 412.0h0M417.5 390.0h0M418.2 420.2h0M418.9 408.5h0M419.7 408.1h0M420.1 420.2h0M420.6 404.0h0M422.1 404.0h0M422.7 413.5h0M422.8 419.5h0M423.2 396.1h0M423.9 390.5h0M424.3 398.8h0M425.0 402.4h0M426.0 398.8h0M426.5 395.0h0M427.6 388.8h0M427.9 399.7h0M428.4 391.2h0M429.3 388.6h0M429.1 392.8h0M430.9 396.9h0M431.4 389.0h0M432.6 392.0h0M432.6 383.9h0M433.4 387.5h0M433.8 371.7h0M435.6 376.5h0M435.5 380.0h0M436.6 374.5h0M436.6 374.0h0M437.7 373.5h0M437.7 349.7h0M438.5 372.2h0M439.3 374.4h0M439.7 375.4h0M441.0 365.6h0M441.7 369.4h0M442.5 363.1h0M442.4 374.7h0M443.2 378.2h0M444.1 368.7h0M445.0 368.9h0M444.9 365.2h0M446.0 368.3h0M447.1 363.4h0M447.4 357.3h0M448.0 370.6h0M448.3 375.9h0M449.3 366.2h0M450.3 362.1h0M451.1 364.2h0M450.7 353.2h0M452.2 358.5h0M452.6 379.5h0M453.0 361.7h0M454.8 348.3h0M455.0 358.2h0M455.0 363.3h0M455.6 362.0h0M456.8 359.3h0M456.8 353.9h0M458.0 361.4h0M458.9 361.1h0M458.9 363.1h0M460.1 370.3h0M460.9 360.9h0M461.1 366.8h0M462.2 363.9h0M462.9 376.8h0M463.5 364.7h0M463.8 376.6h0M465.0 357.3h0M465.2 356.3h0M466.1 366.3h0M466.7 363.3h0M467.3 371.8h0M467.2 372.3h0M469.1 370.7h0M469.5 362.3h0M470.1 376.6h0M470.9 372.8h0M471.2 365.3h0M471.9 369.3h0M472.9 377.0h0M472.5 369.7h0M473.7 372.7h0M474.4 379.0h0M475.2 375.8h0M475.8 366.0h0M476.4 375.5h0M477.4 376.4h0M478.3 379.4h0M478.8 390.9h0M479.7 385.9h0M480.2 381.2h0M481.2 378.3h0M481.9 387.7h0M481.8 383.9h0M482.3 390.9h0M483.1 386.7h0M483.8 391.6h0M484.9 383.5h0M485.5 387.9h0M486.1 390.1h0M486.4 385.8h0M487.1 393.8h0M487.9 390.8h0M488.7 392.3h0M488.1 397.8h0M490.1 396.1h0M490.8 388.9h0M491.0 403.2h0M492.5 403.2h0M492.9 404.8h0M493.6 409.7h0M493.3 391.7h0M494.9 403.5h0M495.3 413.2h0M496.0 405.0h0M495.7 407.4h0M496.7 396.3h0M497.8 407.3h0M498.1 410.6h0M499.8 417.2h0M499.5 416.0h0M500.9 420.8h0M501.4 413.3h0M503.0 416.0h0M502.6 419.6h0M503.8 416.0h0M503.8 418.1h0M504.2 421.2h0M505.4 411.9h0M506.4 415.8h0M506.4 427.9h0M507.7 422.5h0M508.2 431.3h0M508.6 425.1h0M509.3 423.2h0M510.0 445.1h0M510.4 428.9h0M511.3 433.7h0M512.1 429.0h0M512.3 428.6h0M512.2 431.1h0M514.2 431.1h0M514.3 434.6h0M515.5 431.5h0M515.6 439.1h0M516.7 442.8h0M517.2 441.6h0M517.8 432.8h0M518.6 447.4h0M519.4 436.6h0M519.2 442.5h0M521.1 443.8h0M521.6 448.0h0M522.0 440.5h0M521.9 441.3h0M523.6 452.0h0M523.9 452.2h0M525.2 441.5h0M525.0 445.4h0M525.8 443.3h0M526.9 423.7h0M526.4 456.3h0M527.7 445.6h0M528.5 444.3h0M528.3 451.0h0M529.5 443.4h0M530.6 456.3h0M531.3 448.1h0M532.5 444.5h0M532.9 454.6h0M532.7 453.5h0M534.2 450.6h0M534.7 453.5h0M535.2 463.4h0M535.4 458.1h0M537.3 455.2h0M537.9 453.5h0M538.0 465.6h0M538.2 453.3h0M538.7 445.2h0M539.4 462.9h0M540.9 454.1h0M540.5 444.7h0M542.3 449.7h0M542.5 450.0h0M543.3 457.9h0M544.2 453.8h0M545.5 455.1h0M545.5 467.4h0M545.8 458.0h0M546.7 455.5h0M547.2 458.0h0M547.9 460.1h0M548.6 464.7h0M548.8 466.5h0M550.0 448.8h0M550.0 451.4h0M551.6 459.7h0M551.7 470.4h0M552.0 457.2h0M553.4 466.1h0M554.1 457.2h0M554.5 457.2h0M554.6 458.9h0M555.3 468.0h0M556.7 457.9h0M558.0 461.0h0M557.9 462.5h0M558.6 465.7h0M559.4 461.1h0M559.5 465.7h0M560.9 470.1h0M560.9 465.2h0M561.8 458.8h0M562.2 460.1h0M562.7 462.4h0M563.5 459.4h0M564.1 454.7h0M565.0 455.7h0M566.4 466.6h0M566.6 450.0h0M566.9 476.8h0M568.0 465.5h0M568.2 457.7h0M569.6 456.6h0M570.1 467.4h0M570.3 452.9h0M571.1 455.0h0M571.8 466.3h0M572.1 460.1h0M572.7 464.8h0M573.7 461.0h0M574.1 460.4h0M575.1 456.8h0M576.4 461.5h0M577.3 461.4h0M578.5 457.6h0M578.3 466.6h0M579.7 460.3h0M579.5 463.2h0M580.0 453.4h0M581.2 450.6h0M581.7 463.7h0M581.9 456.0h0M583.6 454.8h0M584.1 461.4h0M584.1 466.8h0M585.0 457.8h0M585.7 457.6h0M586.0 461.7h0M587.2 462.1h0M587.2 459.5h0M587.8 449.1h0M589.7 463.1h0M589.5 454.6h0M590.1 470.4h0M591.0 435.3h0M591.5 460.0h0M593.3 458.4h0M593.3 459.8h0M594.1 472.5h0M594.8 457.3h0M595.9 464.3h0M594.9 458.7h0M596.7 456.8h0M597.1 462.9h0M597.8 460.6h0M598.9 457.8h0M599.3 453.5h0M599.1 461.1h0M600.5 477.7h0M601.0 458.2h0M602.2 462.6h0M601.6 455.8h0M603.3 478.4h0M603.8 451.5h0M604.7 456.3h0M605.2 449.3h0M604.9 472.4h0M606.7 460.8h0M607.0 462.4h0M607.4 460.1h0M608.8 469.1h0M609.0 468.2h0M610.4 467.5h0M610.8 446.4h0M610.6 457.9h0M612.0 467.0h0M612.4 459.8h0M613.0 447.0h0M613.7 471.2h0M614.8 464.9h0M614.7 471.8h0M615.9 457.1h0M615.8 459.3h0M617.2 458.6h0M617.2 460.9h0M617.9 460.5h0M619.0 455.9h0M619.3 472.9h0M620.8 469.8h0M620.6 462.1h0M622.3 456.7h0M622.7 474.7h0M623.1 456.0h0M623.9 463.3h0M624.4 462.9h0M625.9 467.3h0M625.9 473.8h0M626.1 476.3h0M627.2 474.4h0M627.5 466.6h0M628.3 481.2h0M628.8 481.1h0M629.5 479.8h0M631.0 471.6h0M632.0 474.8h0M632.2 475.1h0M633.0 477.3h0" stroke="#404040" stroke-width="1.70" stroke-linecap="round" fill="none"/>
<path d="M408.5 445.5h0M408.6 437.7h0M410.2 432.3h0M410.1 425.5h0M411.9 419.9h0M411.8 432.4h0M412.1 426.0h0M412.4 440.3h0M413.3 425.5h0M414.9 421.7h0M414.3 408.4h0M414.9 426.1h0M416.3 428.4h0M417.3 417.4h0M417.3 416.1h0M417.8 417.5h0M418.7 413.4h0M419.4 403.8h0M420.6 410.1h0M421.6 410.7h0M421.4 416.8h0M421.8 405.0h0M422.3 408.0h0M422.8 409.3h0M424.1 410.1h0M424.2 418.1h0M425.7 409.1h0M426.0 408.8h0M426.5 398.1h0M428.0 411.9h0M427.4 394.3h0M429.1 398.6h0M429.5 406.5h0M430.2 401.5h0M430.8 394.7h0M431.0 403.3h0M432.4 396.5h0M433.3 405.9h0M432.6 382.8h0M434.1 398.2h0M434.7 382.9h0M435.3 397.3h0M436.3 395.8h0M436.7 400.7h0M437.3 389.4h0M438.6 389.5h0M438.4 383.1h0M439.3 392.1h0M439.9 395.2h0M440.4 392.6h0M441.2 388.2h0M442.6 391.8h0M442.4 396.2h0M444.4 394.1h0M443.4 381.9h0M443.8 389.9h0M445.1 387.3h0M445.6 376.8h0M447.2 395.0h0M447.6 393.4h0M447.6 385.8h0M448.6 394.3h0M449.3 392.6h0M451.1 388.5h0M450.8 399.3h0M451.5 389.9h0M452.3 387.2h0M452.8 396.7h0M453.4 382.4h0M453.7 401.5h0M454.8 372.7h0M455.5 388.8h0M455.5 393.4h0M456.7 386.0h0M456.9 388.9h0M457.4 402.2h0M458.7 394.0h0M459.6 390.7h0M460.4 390.8h0M460.5 396.8h0M460.8 396.8h0M461.7 390.1h0M462.6 398.7h0M463.3 392.2h0M464.2 392.3h0M464.6 396.9h0M465.8 389.0h0M465.8 384.5h0M466.9 392.6h0M467.6 398.5h0M468.2 392.2h0M468.9 399.0h0M468.9 405.5h0M470.4 392.8h0M470.5 394.8h0M471.3 394.3h0M471.6 398.9h0M472.8 398.5h0M473.2 397.0h0M473.7 403.8h0M474.9 399.0h0M475.0 398.4h0M476.1 393.3h0M476.7 398.1h0M477.5 405.5h0M478.0 402.2h0M478.2 399.0h0M479.4 409.7h0M480.1 394.3h0M481.4 396.1h0M482.1 406.2h0M482.3 400.8h0M483.1 401.6h0M482.3 407.6h0M483.8 399.2h0M484.2 399.1h0M485.6 410.3h0M486.2 406.3h0M486.9 394.6h0M487.6 403.6h0M488.1 399.7h0M488.6 401.5h0M489.1 403.3h0M490.3 396.3h0M490.6 401.6h0M491.7 416.2h0M491.8 405.1h0M492.5 404.0h0M493.0 412.2h0M494.2 400.2h0M494.3 406.5h0M494.3 414.8h0M495.6 408.6h0M496.4 410.8h0M497.3 408.3h0M497.8 411.8h0M499.1 414.5h0M499.4 409.9h0M500.4 411.9h0M501.2 413.2h0M501.7 401.7h0M502.3 417.5h0M502.4 422.5h0M503.5 417.6h0M503.9 414.7h0M504.9 411.9h0M505.0 416.0h0M506.2 425.4h0M506.4 422.9h0M507.6 411.5h0M508.4 424.1h0M509.1 412.2h0M509.1 412.5h0M510.5 415.8h0M509.9 419.8h0M511.3 415.7h0M511.4 422.4h0M512.6 419.1h0M512.8 426.1h0M513.9 410.3h0M514.3 418.6h0M515.8 421.9h0M516.8 426.9h0M516.9 407.1h0M517.7 417.4h0M518.1 407.9h0M518.6 421.1h0M519.2 415.7h0M519.5 420.6h0M520.3 424.3h0M521.6 423.5h0M521.8 417.6h0M522.7 422.0h0M522.9 435.5h0M524.8 415.5h0M525.1 421.2h0M525.2 415.4h0M526.7 422.1h0M526.8 413.1h0M527.7 420.4h0M527.9 408.9h0M528.4 430.0h0M529.8 429.6h0M530.2 409.4h0M530.9 411.9h0M531.6 419.6h0M532.0 408.3h0M532.4 401.2h0M533.4 404.0h0M533.2 414.3h0M534.6 417.9h0M535.7 411.2h0M535.8 439.4h0M537.3 414.7h0M537.1 408.9h0M537.5 416.0h0M538.8 412.3h0M539.2 404.9h0M540.1 410.5h0M540.3 409.0h0M541.4 403.1h0M541.9 403.0h0M542.7 408.1h0M543.6 394.3h0M543.6 392.4h0M544.5 403.0h0M545.7 409.4h0M546.4 403.8h0M546.8 403.2h0M546.8 388.6h0M548.0 390.3h0M548.4 393.0h0M549.1 393.4h0M549.3 396.0h0M549.7 392.2h0M551.6 392.9h0M552.2 391.9h0M551.9 396.5h0M553.1 398.3h0M553.9 396.8h0M554.3 399.4h0M555.4 390.2h0M555.7 388.6h0M556.0 380.7h0M557.0 381.5h0M558.0 394.9h0M558.1 393.1h0M559.5 390.5h0M560.3 388.6h0M560.8 383.5h0M561.4 378.3h0M561.8 387.2h0M562.7 389.2h0M562.9 376.4h0M562.9 397.9h0M564.2 387.3h0M565.7 394.0h0M566.2 399.1h0M566.1 400.1h0M567.1 390.6h0M567.5 397.9h0M568.0 397.9h0M569.0 393.9h0M570.1 396.2h0M570.5 405.2h0M571.0 396.6h0M570.9 391.4h0M573.3 396.0h0M572.7 397.1h0M573.8 402.9h0M574.8 397.4h0M575.2 397.6h0M576.1 397.8h0M575.5 414.6h0M576.8 398.6h0M577.5 404.3h0M577.9 393.9h0M578.5 403.2h0M580.1 421.4h0M579.9 401.7h0M581.6 411.1h0M582.1 417.3h0M582.3 408.9h0M582.6 411.7h0M583.5 410.7h0M584.2 408.2h0M584.8 412.1h0M585.5 418.0h0M586.5 415.2h0M587.0 412.8h0M587.7 413.5h0M588.4 419.9h0M589.6 417.3h0M590.6 425.8h0M590.4 412.7h0M591.1 425.7h0M591.7 415.9h0M592.8 424.0h0M593.4 437.1h0M593.8 431.9h0M594.4 424.2h0M595.3 426.6h0M596.2 435.1h0M596.2 435.5h0M597.2 444.2h0M597.0 435.8h0M598.1 445.5h0M599.3 420.3h0M599.1 441.3h0M599.8 433.7h0M601.2 442.2h0M600.9 437.5h0M602.3 439.2h0M603.9 438.6h0M603.9 447.7h0M605.1 447.5h0M605.7 453.6h0M605.4 450.1h0M606.3 450.1h0M607.2 446.3h0M608.2 451.1h0M609.0 454.5h0M609.4 439.0h0M609.9 447.2h0M610.0 452.8h0M611.5 460.8h0M611.5 464.0h0M612.8 467.8h0M613.6 455.4h0M613.1 459.3h0M615.2 459.1h0M615.0 457.2h0M616.1 461.5h0M616.7 424.0h0M617.8 470.3h0M618.2 458.1h0M619.0 466.2h0M619.4 475.8h0M621.3 467.9h0M622.1 467.6h0M622.4 475.4h0M622.7 477.7h0M623.2 467.4h0M624.4 471.9h0M626.2 477.8h0M625.6 469.8h0M627.3 477.5h0M628.0 478.4h0M628.4 471.9h0M629.4 471.8h0M630.1 475.8h0M631.3 477.5h0M631.4 472.3h0M632.2 473.5h0M632.6 477.4h0" stroke="#008000" stroke-width="1.70" stroke-linecap="round" fill="none"/>
<path d="M407.5 445.5h0M409.1 449.1h0M409.2 438.5h0M410.0 437.1h0M410.5 437.9h0M411.0 444.3h0M412.2 441.2h0M413.3 441.8h0M413.6 431.3h0M413.5 445.3h0M414.8 435.0h0M416.6 444.9h0M416.4 435.5h0M417.4 430.1h0M417.4 433.0h0M418.6 428.0h0M419.3 436.9h0M420.7 429.7h0M421.4 433.0h0M422.1 423.8h0M423.1 422.8h0M423.2 426.4h0M424.9 424.2h0M424.8 420.1h0M426.1 424.7h0M427.3 426.0h0M427.0 420.1h0M428.1 418.3h0M428.7 417.8h0M429.5 421.1h0M430.3 417.6h0M430.9 419.3h0M431.7 421.3h0M432.8 414.6h0M432.7 414.7h0M433.7 413.8h0M434.6 420.3h0M435.0 413.4h0M436.4 413.0h0M436.8 411.2h0M437.4 415.6h0M438.0 413.2h0M438.9 406.1h0M440.2 413.8h0M440.3 411.5h0M441.9 413.7h0M442.6 410.6h0M443.2 407.8h0M443.2 404.0h0M444.3 411.5h0M445.8 406.1h0M446.0 403.0h0M446.6 406.0h0M447.3 407.8h0M448.5 404.8h0M448.4 407.0h0M450.3 403.1h0M450.7 401.9h0M451.0 409.4h0M452.4 397.0h0M451.8 406.8h0M453.2 400.5h0M454.6 403.5h0M455.8 400.4h0M455.5 403.8h0M456.1 400.5h0M457.4 404.0h0M458.2 397.0h0M458.7 398.3h0M459.4 402.1h0M461.1 405.1h0M460.9 399.1h0M461.3 410.5h0M462.6 401.0h0M464.0 405.8h0M464.5 395.2h0M465.0 398.6h0M465.3 398.6h0M466.5 398.1h0M468.4 396.8h0M468.3 401.4h0M469.2 399.9h0M468.9 409.9h0M470.1 393.9h0M470.8 404.9h0M472.5 399.3h0M472.5 410.4h0M473.3 410.9h0M473.9 400.3h0M473.7 400.4h0M476.1 402.6h0M475.6 411.3h0M476.9 400.7h0M477.2 402.1h0M478.4 400.4h0M479.2 408.6h0M479.9 411.2h0M481.5 404.7h0M481.2 414.4h0M482.3 409.8h0M483.4 406.5h0M483.8 412.4h0M484.5 415.8h0M486.2 417.1h0M486.5 415.2h0M486.6 417.6h0M487.8 413.1h0M488.1 414.6h0M489.4 421.6h0M489.4 413.9h0M491.1 412.3h0M491.6 404.1h0M492.4 414.6h0M493.0 409.6h0M493.9 414.1h0M494.2 413.5h0M495.3 418.4h0M496.3 414.4h0M497.0 432.0h0M497.2 420.7h0M498.5 425.2h0M498.6 405.4h0M499.5 425.0h0M500.2 422.4h0M501.1 418.6h0M502.0 428.2h0M503.1 427.7h0M504.0 425.1h0M504.5 430.6h0M504.8 435.6h0M506.2 440.3h0M507.0 427.8h0M507.1 430.4h0M507.7 426.3h0M508.8 439.2h0M510.4 427.5h0M510.3 428.2h0M511.1 437.2h0M512.2 433.2h0M512.2 428.9h0M513.0 438.4h0M514.1 440.2h0M515.3 439.3h0M515.6 439.3h0M516.2 441.2h0M516.5 445.0h0M518.6 440.9h0M518.2 452.2h0M520.0 440.4h0M520.0 442.9h0M521.5 448.0h0M522.4 444.6h0M522.2 439.0h0M523.5 443.4h0M524.3 450.8h0M525.3 438.3h0M525.4 441.0h0M526.8 441.4h0M527.1 449.6h0M527.4 446.2h0M529.0 443.4h0M529.8 445.2h0M530.1 447.8h0M530.8 448.2h0M531.9 441.4h0M533.0 441.6h0M532.6 440.3h0M534.3 451.1h0M535.4 445.4h0M535.0 447.2h0M536.4 446.4h0M536.9 440.3h0M537.8 439.5h0M538.9 441.4h0M538.5 454.0h0M539.7 444.1h0M540.1 447.6h0M541.3 440.9h0M542.9 454.7h0M542.5 444.8h0M543.5 437.3h0M544.2 441.2h0M545.4 443.6h0M545.8 445.9h0M546.4 439.8h0M547.2 443.2h0M548.2 440.5h0M548.5 453.9h0M548.8 436.9h0M551.0 437.0h0M551.3 439.5h0M551.8 434.2h0M552.7 431.2h0M553.8 441.9h0M553.9 433.2h0M555.1 430.8h0M555.6 421.1h0M557.1 428.3h0M556.3 419.0h0M557.5 427.7h0M559.4 419.8h0M559.1 417.2h0M560.0 414.1h0M560.6 416.2h0M560.9 413.1h0M562.6 403.5h0M563.6 412.0h0M564.2 399.8h0M564.4 405.0h0M565.4 401.2h0M567.1 404.7h0M567.1 392.2h0M567.5 401.2h0M569.0 394.9h0M569.3 380.6h0M569.4 386.2h0M570.6 386.0h0M572.1 380.5h0M572.4 384.8h0M573.2 384.1h0M574.2 383.4h0M574.4 381.5h0M574.9 379.6h0M576.2 373.1h0M576.7 374.9h0M577.7 370.1h0M578.2 369.2h0M579.0 366.3h0M579.4 368.6h0M580.9 364.0h0M582.3 356.8h0M581.8 353.3h0M583.5 362.7h0M584.1 360.8h0M584.3 357.0h0M584.9 361.2h0M586.3 354.4h0M586.7 356.4h0M587.5 351.5h0M588.1 357.7h0M589.9 358.7h0M589.2 350.9h0M590.8 348.4h0M592.1 354.9h0M592.2 354.2h0M593.7 353.4h0M593.6 344.9h0M594.5 352.2h0M595.5 352.2h0M595.6 350.4h0M596.7 354.1h0M597.7 352.5h0M597.9 355.0h0M599.1 354.7h0M600.1 354.9h0M600.0 362.7h0M601.2 359.7h0M602.1 361.5h0M602.4 363.3h0M603.9 358.2h0M604.7 362.9h0M604.8 360.2h0M605.8 365.2h0M606.2 362.0h0M607.2 372.4h0M608.2 371.1h0M608.7 367.3h0M609.6 376.3h0M610.1 365.1h0M611.5 372.0h0M612.2 382.7h0M612.3 381.5h0M613.5 381.7h0M615.1 391.9h0M614.6 389.5h0M616.1 392.6h0M617.4 399.6h0M617.0 395.6h0M618.2 402.8h0M617.7 397.8h0M619.9 404.2h0M620.4 392.9h0M621.2 405.3h0M621.7 415.9h0M622.8 409.1h0M623.6 413.3h0M624.2 413.8h0M624.6 409.4h0M625.4 421.5h0M626.2 429.2h0M626.9 430.2h0M627.4 424.1h0M627.9 423.1h0M629.2 428.1h0M629.6 433.5h0M630.6 432.7h0M631.0 438.5h0M631.7 438.5h0M632.8 435.6h0M633.7 438.2h0M635.4 450.7h0M635.2 450.3h0M636.4 440.0h0M637.0 457.2h0M637.7 452.7h0M638.2 453.0h0M639.3 456.6h0M640.0 460.5h0M640.0 449.1h0M641.6 462.2h0M642.0 463.0h0M642.2 459.4h0M643.3 461.4h0M644.6 472.2h0M645.5 466.7h0M645.8 467.9h0M647.1 474.7h0M647.7 466.9h0M647.5 476.8h0M648.4 469.8h0M649.8 471.8h0M650.0 468.8h0M650.9 473.0h0M652.0 472.7h0M652.6 475.1h0M653.1 473.0h0M653.6 468.2h0M658.3 477.4h0M660.7 478.3h0M661.3 475.8h0M661.9 479.1h0M663.5 480.8h0M664.7 476.4h0" stroke="#808080" stroke-width="1.70" stroke-linecap="round" fill="none"/>
<path d="M407.5 429.2h0M408.0 427.2h0M408.4 432.9h0M409.8 439.7h0M410.7 434.6h0M411.6 429.9h0M411.9 428.8h0M412.5 437.2h0M413.1 433.7h0M414.6 423.7h0M415.2 425.8h0M416.4 437.5h0M416.4 429.7h0M418.3 428.0h0M418.5 429.4h0M419.3 427.0h0M420.2 426.1h0M421.2 425.9h0M422.0 416.9h0M421.8 440.9h0M423.1 423.1h0M424.3 429.2h0M425.1 428.3h0M425.7 421.9h0M426.1 422.9h0M427.4 423.1h0M427.9 431.1h0M428.8 426.7h0M430.1 418.3h0M430.3 427.5h0M431.4 416.4h0M432.5 425.0h0M433.2 430.1h0M433.0 422.1h0M433.9 417.3h0M434.3 418.2h0M436.3 422.9h0M436.6 423.8h0M437.3 409.9h0M438.2 415.0h0M438.6 421.8h0M440.1 418.6h0M440.3 418.6h0M441.8 418.6h0M442.3 418.8h0M443.0 421.0h0M444.0 413.1h0M444.5 404.7h0M445.4 416.4h0M446.7 411.0h0M447.6 418.3h0M448.0 413.6h0M449.1 409.7h0M448.7 412.9h0M450.2 403.6h0M450.9 414.9h0M451.5 412.1h0M452.7 412.9h0M454.0 408.5h0M454.3 408.1h0M455.3 415.8h0M456.2 414.2h0M457.0 410.1h0M457.3 405.9h0M457.8 413.4h0M459.3 395.2h0M459.9 414.7h0M460.2 407.8h0M461.8 411.6h0M461.6 412.4h0M462.3 408.4h0M463.5 413.2h0M463.8 404.7h0M465.1 416.6h0M465.9 407.1h0M466.5 409.1h0M467.5 410.2h0M467.8 409.5h0M468.2 408.0h0M470.2 412.3h0M471.0 408.8h0M471.8 410.4h0M472.1 412.6h0M473.2 411.2h0M473.7 408.7h0M475.1 416.2h0M474.9 418.4h0M476.3 410.5h0M476.8 417.1h0M478.0 410.7h0M478.6 412.8h0M478.6 409.3h0M480.0 412.1h0M480.5 411.6h0M481.9 415.2h0M482.8 414.7h0M482.8 425.7h0M484.2 413.1h0M484.4 419.8h0M485.4 421.3h0M486.5 410.6h0M487.7 411.6h0M488.2 423.2h0M489.1 414.8h0M489.4 418.8h0M490.3 409.2h0M491.4 416.9h0M492.0 420.9h0M492.8 443.0h0M493.7 432.2h0M495.0 421.5h0M495.6 431.1h0M496.5 425.3h0M496.8 424.6h0M497.2 413.4h0M497.8 425.3h0M499.1 426.4h0M499.5 427.3h0M499.9 423.0h0M501.3 430.6h0M503.1 442.4h0M503.0 424.7h0M503.9 438.4h0M504.6 426.7h0M505.4 430.9h0M505.6 437.0h0M507.1 435.9h0M508.1 439.6h0M508.6 440.8h0M509.4 434.2h0M510.1 433.7h0M511.2 439.6h0M511.2 439.1h0M511.7 444.7h0M513.1 428.8h0M514.0 443.4h0M515.1 441.9h0M515.3 438.6h0M516.5 437.1h0M517.2 437.7h0M518.3 438.5h0M518.6 449.2h0M519.8 443.1h0M520.7 442.3h0M521.0 444.0h0M521.9 445.6h0M522.6 448.0h0M523.2 445.0h0M524.1 444.6h0M524.7 442.5h0M526.2 446.5h0M526.8 446.4h0M527.4 444.5h0M528.3 446.3h0M529.1 453.4h0M530.4 451.9h0M531.0 449.8h0M531.3 453.9h0M532.5 449.5h0M532.3 454.1h0M533.6 449.2h0M534.3 455.7h0M535.5 451.9h0M535.9 448.2h0M536.6 444.3h0M537.4 431.2h0M537.9 450.1h0M538.8 448.2h0M539.7 448.3h0M541.0 446.3h0M541.8 449.9h0M542.7 442.7h0M543.9 447.7h0M544.4 455.9h0M544.1 451.9h0M545.4 446.8h0M547.0 452.5h0M547.2 443.9h0M548.1 448.5h0M548.8 445.5h0M549.0 442.1h0M550.5 444.6h0M551.1 452.2h0M551.5 437.5h0M552.9 435.7h0M554.2 445.2h0M554.2 434.8h0M554.6 436.6h0M555.8 436.0h0M556.3 425.8h0M556.5 436.2h0M558.0 426.9h0M559.2 424.7h0M559.4 427.7h0M560.6 429.0h0M561.3 431.4h0M562.0 436.8h0M562.8 426.1h0M563.6 426.3h0M564.4 420.6h0M565.3 420.4h0M566.3 413.4h0M566.7 406.3h0M567.4 415.3h0M568.7 403.8h0M569.0 410.5h0M570.9 400.0h0M570.7 398.8h0M572.4 399.7h0M572.5 394.3h0M573.3 398.5h0M574.4 410.4h0M575.0 393.9h0M575.5 400.5h0M576.2 396.0h0M576.8 390.4h0M577.6 393.8h0M579.1 389.8h0M578.6 387.2h0M581.0 379.7h0M581.5 381.9h0M581.8 393.4h0M583.4 383.5h0M584.2 385.1h0M584.7 389.8h0M584.1 379.5h0M585.1 386.9h0M586.9 369.9h0M586.9 376.6h0M588.4 371.1h0M588.8 380.5h0M589.9 380.5h0M590.4 377.2h0M591.4 377.6h0M591.5 393.4h0M592.9 382.6h0M593.4 383.2h0M594.9 377.5h0M595.0 374.4h0M596.3 383.1h0M597.1 381.3h0M597.6 382.3h0M598.1 382.1h0M599.3 376.7h0M600.0 377.0h0M601.1 379.1h0M601.2 395.0h0M601.9 390.0h0M603.4 396.7h0M604.1 387.6h0M605.2 391.8h0M606.1 398.0h0M605.6 389.7h0M607.2 398.7h0M608.0 392.6h0M608.7 393.9h0M609.8 392.9h0M611.0 399.0h0M611.0 408.8h0M611.8 409.1h0M612.9 393.4h0M613.7 406.7h0M614.2 410.3h0M615.3 402.7h0M616.3 407.5h0M616.4 408.6h0M617.9 404.1h0M617.9 408.9h0M619.4 412.8h0M619.4 414.0h0M620.2 416.2h0M620.8 408.2h0M622.0 422.8h0M622.9 420.4h0M623.6 426.3h0M624.3 428.3h0M625.2 426.6h0M625.8 436.7h0M626.7 422.9h0M627.7 432.3h0M628.2 433.8h0M629.3 442.0h0M629.6 435.8h0M630.2 439.9h0M631.9 441.4h0M632.0 450.0h0M633.2 441.4h0M633.5 439.5h0M634.1 442.3h0M635.0 447.8h0M635.9 453.8h0M637.6 439.4h0M637.6 444.2h0M638.7 457.9h0M639.3 450.4h0M640.3 450.4h0M640.5 451.9h0M642.2 452.2h0M642.7 451.9h0M643.2 457.7h0M644.5 466.9h0M644.4 466.4h0M645.5 448.9h0M646.7 463.8h0M647.9 459.7h0M647.9 470.3h0M649.6 460.3h0M650.2 467.6h0M650.1 472.6h0M651.5 469.3h0M652.5 465.1h0M652.5 467.0h0M654.2 470.6h0M653.8 475.8h0M655.8 471.9h0M656.5 474.7h0M657.5 467.9h0M657.9 473.5h0M658.5 479.3h0M658.6 472.5h0M660.7 473.4h0M661.0 474.2h0M662.1 479.0h0M662.3 478.6h0M664.1 474.8h0M664.4 470.3h0M666.5 477.4h0M669.2 475.5h0M670.4 471.2h0M671.6 470.5h0M673.8 477.3h0" stroke="#008080" stroke-width="1.70" stroke-linecap="round" fill="none"/>
<path d="M407.7 445.1h0M408.4 449.6h0M408.5 450.2h0M409.3 451.2h0M409.9 447.1h0M410.2 448.2h0M411.5 444.5h0M412.5 438.3h0M413.2 441.7h0M412.9 442.4h0M413.4 447.8h0M413.9 439.3h0M415.1 443.8h0M415.4 447.2h0M416.5 450.3h0M416.2 437.4h0M417.3 441.6h0M417.6 442.6h0M418.6 438.9h0M419.0 442.6h0M419.0 429.9h0M420.6 441.3h0M421.0 437.2h0M421.6 429.4h0M422.1 436.1h0M422.4 445.5h0M423.4 435.8h0M424.3 444.6h0M425.3 444.6h0M425.3 436.2h0M425.6 433.4h0M426.9 436.8h0M427.0 440.1h0M427.6 441.2h0M428.3 434.4h0M429.1 428.5h0M429.0 439.1h0M430.2 423.7h0M430.7 430.3h0M431.2 431.3h0M432.6 432.3h0M431.9 437.2h0M433.2 430.4h0M433.9 433.3h0M434.5 441.6h0M435.6 424.7h0M434.8 432.2h0M436.1 428.8h0M436.5 423.5h0M436.9 424.5h0M437.8 435.4h0M438.8 425.8h0M439.2 428.8h0M440.7 423.6h0M439.9 425.4h0M441.3 425.2h0M441.9 422.9h0M442.4 428.3h0M443.2 442.7h0M443.5 428.1h0M444.4 422.3h0M444.7 421.2h0M445.2 415.0h0M445.7 428.4h0M446.5 422.0h0M447.5 417.6h0M447.7 417.9h0M448.8 426.1h0M449.0 409.1h0M449.7 425.7h0M450.8 422.9h0M450.5 426.3h0M451.5 423.0h0M452.5 409.1h0M453.0 427.6h0M453.5 415.8h0M454.6 428.0h0M454.4 422.0h0M455.3 417.8h0M456.5 418.9h0M456.0 417.6h0M457.3 422.7h0M457.9 423.3h0M458.4 415.2h0M459.1 412.9h0M459.2 426.7h0M460.2 422.7h0M460.7 415.2h0M461.5 425.6h0M462.0 426.4h0M463.3 423.4h0M463.6 423.6h0M464.7 419.1h0M464.8 408.5h0M465.2 424.8h0M466.0 418.2h0M466.8 430.8h0M466.6 396.5h0M466.9 424.5h0M467.6 418.7h0M469.0 416.0h0M469.2 420.2h0M469.8 432.1h0M470.6 423.0h0M471.5 414.5h0M471.6 427.9h0M472.1 428.7h0M472.8 420.0h0M473.9 424.5h0M474.2 424.1h0M475.1 421.0h0M475.9 425.2h0M476.0 417.7h0M476.4 426.6h0M476.8 429.6h0M477.7 421.7h0M478.1 428.6h0M479.2 429.5h0M479.2 428.6h0M480.4 433.0h0M480.8 426.7h0M481.9 423.7h0M481.8 430.6h0M482.8 429.8h0M483.7 418.1h0M483.4 428.0h0M484.8 424.8h0M485.0 424.0h0M485.5 428.8h0M485.9 425.1h0M487.1 430.8h0M487.4 426.0h0M488.1 426.8h0M489.2 430.5h0M488.3 431.2h0M490.5 442.2h0M491.6 426.0h0M491.3 427.7h0M491.8 434.6h0M492.5 428.9h0M493.5 431.5h0M494.7 423.6h0M494.1 423.4h0M493.8 433.8h0M495.7 426.5h0M496.2 434.5h0M496.8 429.0h0M497.4 446.0h0M497.2 436.5h0M498.8 427.6h0M499.0 427.7h0M500.0 436.3h0M500.3 431.2h0M500.8 430.5h0M501.0 435.1h0M502.9 426.3h0M502.9 430.6h0M503.7 424.7h0M504.8 423.6h0M505.0 432.3h0M505.5 434.2h0M505.1 430.1h0M507.1 419.6h0M507.6 424.6h0M507.4 427.0h0M507.9 424.4h0M509.2 426.3h0M509.6 416.3h0M510.9 417.7h0M510.4 416.2h0M511.5 413.9h0M512.4 409.8h0M512.9 411.7h0M512.9 404.3h0M513.4 406.5h0M514.4 406.0h0M516.0 402.6h0M515.5 405.5h0M516.3 398.9h0M517.4 399.0h0M517.8 397.9h0M518.8 387.9h0M518.6 398.0h0M519.2 393.6h0M520.4 380.5h0M520.6 380.3h0M521.3 375.6h0M521.5 376.2h0M522.3 374.9h0M522.9 371.6h0M523.5 365.1h0M524.1 365.9h0M524.9 365.0h0M525.5 360.4h0M526.6 356.3h0M527.5 343.7h0M527.3 355.6h0M528.7 346.7h0M528.9 338.5h0M528.4 337.2h0M530.0 337.0h0M529.9 340.6h0M531.5 320.0h0M531.5 334.1h0M533.0 317.6h0M533.5 324.2h0M533.4 321.1h0M533.8 316.9h0M535.2 312.1h0M535.1 312.1h0M536.0 309.3h0M537.0 311.5h0M537.2 317.4h0M538.1 310.7h0M539.2 326.0h0M539.2 320.8h0M540.0 307.5h0M540.1 310.5h0M539.9 317.9h0M541.6 306.9h0M542.2 310.2h0M543.0 315.0h0M543.4 308.5h0M543.7 313.1h0M544.4 310.4h0M545.2 311.0h0M545.5 311.5h0M545.9 311.4h0M547.1 317.3h0M547.6 307.6h0M548.5 310.0h0M548.7 313.9h0M549.4 310.4h0M549.7 313.5h0M550.6 313.7h0M551.7 320.6h0M552.6 315.5h0M552.4 321.3h0M553.3 321.6h0M553.5 329.3h0M553.8 318.4h0M554.8 320.2h0M555.5 322.2h0M556.1 325.6h0M556.5 327.5h0M557.5 336.6h0M558.5 332.9h0M558.5 335.4h0M559.4 338.3h0M560.1 343.2h0M560.9 336.7h0M561.4 340.6h0M562.1 346.2h0M562.4 341.5h0M562.5 344.3h0M563.2 346.0h0M564.0 355.1h0M564.4 353.5h0M565.1 355.3h0M565.9 365.9h0M566.6 356.8h0M567.1 364.9h0M568.0 372.9h0M569.2 366.7h0M568.7 377.0h0M569.5 372.8h0M569.9 372.3h0M571.4 382.5h0M571.9 378.9h0M571.6 366.0h0M572.9 382.9h0M572.8 380.6h0M574.1 379.5h0M574.6 390.8h0M575.2 387.5h0M575.1 399.4h0M576.5 404.1h0M577.1 401.6h0M578.2 406.8h0M578.3 408.4h0M578.9 396.6h0M579.2 411.7h0M580.3 402.3h0M581.0 404.3h0M581.6 412.1h0M582.3 410.9h0M582.5 420.6h0M582.6 416.8h0M583.8 419.3h0M585.0 419.3h0M585.5 417.4h0M585.4 419.2h0M587.0 422.6h0M587.4 426.0h0M587.8 425.6h0M587.7 439.5h0M588.9 431.1h0M589.7 449.0h0M590.8 440.8h0M590.4 434.7h0M591.0 446.5h0M592.2 437.7h0M592.8 440.1h0M593.3 442.7h0M593.4 445.4h0M593.9 445.1h0M594.9 444.1h0M595.6 445.2h0M596.4 446.3h0M596.4 448.0h0M596.6 423.0h0M598.3 447.6h0M598.4 448.3h0M599.0 461.1h0M600.1 458.6h0M599.8 461.2h0M600.9 450.5h0M601.4 462.1h0M602.3 459.2h0M602.8 455.2h0M603.6 464.7h0M603.5 463.2h0M604.4 464.8h0M604.9 462.3h0M606.2 473.7h0M606.9 475.9h0M607.1 475.1h0M607.9 478.9h0M608.2 471.0h0M608.6 477.9h0M610.0 477.0h0M610.1 475.3h0M611.3 478.9h0M612.3 475.7h0M611.5 477.6h0M612.8 480.2h0M613.1 472.7h0" stroke="#3366ff" stroke-width="1.70" stroke-linecap="round" fill="none"/>
<path d="M408.5 449.0h0M408.5 447.4h0M409.1 438.9h0M410.8 450.5h0M410.4 438.1h0M411.8 441.9h0M412.7 427.5h0M413.6 433.8h0M414.2 439.9h0M415.6 436.4h0M415.9 438.3h0M416.1 420.9h0M416.9 441.5h0M417.4 438.9h0M418.4 442.9h0M419.9 431.0h0M420.1 436.9h0M420.5 435.2h0M420.8 431.7h0M421.0 434.5h0M422.7 431.5h0M423.1 433.5h0M424.3 429.1h0M424.4 430.1h0M425.9 425.7h0M426.2 426.8h0M426.8 428.9h0M427.9 428.6h0M428.3 428.6h0M429.2 430.1h0M429.7 423.2h0M430.9 422.4h0M430.7 418.8h0M432.1 429.9h0M433.1 432.0h0M433.9 425.2h0M434.5 425.9h0M435.5 419.8h0M435.8 423.2h0M437.5 427.6h0M437.0 423.4h0M437.1 416.4h0M437.8 423.0h0M438.6 421.4h0M440.1 424.3h0M440.1 427.4h0M441.0 420.6h0M442.5 421.9h0M442.3 423.9h0M443.7 421.5h0M444.8 418.2h0M445.6 412.1h0M446.0 419.7h0M446.1 421.6h0M446.9 419.9h0M448.6 419.8h0M449.4 414.7h0M449.3 414.5h0M450.6 422.7h0M451.2 420.1h0M451.5 415.9h0M452.8 419.6h0M452.8 414.1h0M454.1 412.9h0M454.8 418.2h0M455.2 416.4h0M455.8 417.9h0M457.4 426.1h0M457.2 418.3h0M457.8 417.2h0M458.4 424.8h0M459.5 413.3h0M460.3 415.8h0M460.8 414.5h0M462.3 416.1h0M462.6 425.6h0M463.5 408.6h0M463.4 421.6h0M464.6 411.1h0M466.1 410.2h0M466.6 416.0h0M467.1 416.3h0M468.1 415.6h0M468.6 412.4h0M469.2 419.6h0M469.9 411.9h0M470.7 419.7h0M471.1 428.0h0M472.7 412.3h0M473.6 418.9h0M473.5 418.3h0M474.1 411.7h0M475.8 416.9h0M475.8 422.3h0M476.6 422.4h0M477.2 421.6h0M477.8 416.6h0M478.4 418.7h0M479.5 415.9h0M479.4 424.2h0M481.1 417.1h0M482.0 416.0h0M482.0 418.1h0M482.7 409.2h0M484.4 414.9h0M484.2 424.9h0M484.8 424.7h0M486.1 420.0h0M486.0 423.0h0M486.4 416.2h0M487.9 424.6h0M488.4 425.2h0M489.1 420.5h0M489.8 424.7h0M490.6 424.5h0M491.4 427.2h0M491.4 427.7h0M493.3 430.3h0M493.6 425.7h0M494.3 428.9h0M495.0 430.6h0M496.2 434.5h0M496.7 428.5h0M498.2 427.2h0M497.2 421.4h0M499.1 429.3h0M499.9 423.2h0M499.1 406.4h0M501.2 433.9h0M501.6 439.7h0M502.3 438.9h0M503.1 430.1h0M504.0 438.3h0M504.4 435.1h0M505.0 432.0h0M506.4 440.6h0M506.7 439.2h0M507.8 440.1h0M509.2 440.0h0M508.4 440.9h0M509.3 436.5h0M510.1 437.2h0M511.0 436.9h0M512.5 444.2h0M512.7 442.7h0M513.7 445.6h0M514.7 441.3h0M513.9 440.7h0M515.3 443.0h0M515.9 443.6h0M517.0 443.6h0M517.2 450.4h0M519.0 446.7h0M518.8 418.8h0M519.5 443.7h0M520.1 447.6h0M520.7 447.6h0M521.9 447.7h0M522.4 446.8h0M523.5 454.2h0M523.9 444.5h0M525.0 451.3h0M525.6 452.0h0M526.7 451.9h0M527.3 456.7h0M527.5 444.2h0M528.9 444.5h0M528.9 448.6h0M529.5 448.8h0M531.0 447.7h0M530.8 442.8h0M531.8 443.0h0M532.2 450.4h0M532.9 445.8h0M534.4 443.5h0M534.6 443.8h0M536.4 444.2h0M537.0 435.0h0M537.3 436.3h0M537.6 427.9h0M538.6 430.7h0M539.2 432.0h0M540.5 430.3h0M540.0 426.0h0M541.4 420.1h0M542.2 420.2h0M543.1 413.0h0M543.9 415.0h0M544.2 418.0h0M545.3 417.4h0M545.3 421.4h0M547.0 411.3h0M547.4 406.3h0M547.9 408.6h0M549.2 402.2h0M549.2 407.9h0M549.5 406.9h0M551.1 390.0h0M551.6 393.4h0M552.2 400.7h0M552.8 394.8h0M554.0 383.9h0M554.9 367.8h0M554.9 389.2h0M555.4 379.5h0M557.0 369.6h0M557.0 373.4h0M558.6 362.8h0M559.4 360.0h0M559.4 357.0h0M561.2 348.4h0M560.9 352.0h0M561.7 351.5h0M562.4 338.9h0M563.4 334.9h0M564.3 337.7h0M564.8 331.3h0M565.1 330.0h0M566.0 327.9h0M566.2 332.7h0M567.1 318.6h0M568.3 313.9h0M569.0 325.9h0M569.5 320.3h0M570.5 325.0h0M570.9 317.1h0M571.9 310.7h0M572.6 316.6h0M573.7 315.4h0M574.5 314.8h0M574.4 314.9h0M575.4 321.4h0M575.5 311.1h0M577.8 313.2h0M576.8 311.6h0M578.4 304.6h0M578.5 306.7h0M579.9 308.1h0M580.7 310.9h0M581.5 307.8h0M581.8 318.5h0M583.0 313.6h0M583.2 310.2h0M583.8 318.9h0M584.6 316.0h0M585.3 314.4h0M587.0 315.4h0M587.4 315.5h0M588.1 321.6h0M587.7 328.1h0M589.2 313.1h0M590.2 325.1h0M590.0 326.2h0M591.8 327.4h0M591.7 339.4h0M592.9 334.4h0M593.7 329.3h0M594.3 338.9h0M595.1 335.5h0M596.0 346.4h0M597.0 346.5h0M597.8 354.1h0M598.5 347.6h0M598.7 353.8h0M598.6 358.4h0M599.7 354.4h0M600.7 354.5h0M601.8 361.0h0M602.8 366.3h0M602.9 364.3h0M603.5 369.5h0M604.5 375.7h0M605.3 370.2h0M606.2 370.4h0M607.0 375.6h0M607.3 373.9h0M607.1 376.6h0M608.7 384.8h0M608.4 382.5h0M610.2 390.8h0M612.1 397.2h0M612.2 386.9h0M612.6 397.6h0M614.1 398.1h0M613.5 404.9h0M614.8 406.1h0M615.6 412.0h0M615.8 416.6h0M616.6 416.5h0M617.8 418.3h0M618.3 421.5h0M618.7 418.6h0M619.6 424.8h0M620.7 435.6h0M621.1 427.6h0M621.6 431.2h0M622.7 436.5h0M623.3 438.7h0M624.1 442.9h0M624.3 417.6h0M625.5 442.3h0M626.1 445.7h0M626.4 448.1h0M628.3 454.8h0M628.4 454.4h0M629.2 455.0h0M630.2 453.5h0M631.1 454.7h0M631.7 455.8h0M631.7 463.9h0M632.8 469.0h0M633.2 460.1h0M634.1 459.5h0M635.1 465.1h0M636.1 468.9h0M635.9 465.6h0M637.4 465.9h0M637.9 472.9h0M638.1 471.9h0M640.4 470.9h0M639.9 467.2h0M641.2 472.7h0M641.4 477.7h0M642.3 467.5h0M643.2 480.8h0M643.6 475.7h0M644.3 477.4h0M645.5 473.6h0M646.2 473.4h0M647.5 471.9h0M647.3 478.1h0M647.2 468.5h0M648.1 476.7h0M649.6 478.7h0M649.7 480.2h0M650.3 475.6h0M651.6 473.4h0M652.4 478.2h0" stroke="#000080" stroke-width="1.70" stroke-linecap="round" fill="none"/>
<path d="M408.4 467.8h0M409.2 447.6h0M409.5 440.0h0M410.5 450.3h0M411.5 462.0h0M413.1 448.5h0M413.6 451.5h0M414.0 450.6h0M414.8 453.8h0M414.9 443.8h0M416.4 442.9h0M417.6 450.6h0M417.9 452.3h0M419.0 442.8h0M420.2 448.4h0M420.3 451.7h0M420.7 448.1h0M422.0 443.2h0M422.8 457.2h0M424.8 452.9h0M424.5 448.4h0M425.3 443.7h0M426.5 437.1h0M426.7 441.6h0M427.6 444.1h0M428.5 424.8h0M429.3 449.2h0M430.4 436.1h0M431.1 452.1h0M430.9 440.7h0M433.1 438.0h0M433.3 440.7h0M434.5 444.9h0M435.1 447.8h0M436.1 435.5h0M437.2 445.1h0M437.5 438.8h0M438.2 433.6h0M439.3 434.4h0M439.9 447.6h0M441.5 432.9h0M441.5 413.9h0M442.2 440.6h0M444.0 448.6h0M443.8 429.6h0M445.2 440.7h0M445.4 440.8h0M446.7 430.2h0M447.9 437.0h0M448.7 437.5h0M448.8 442.5h0M450.0 437.4h0M451.0 436.1h0M451.4 440.2h0M452.9 445.1h0M453.6 431.5h0M454.5 439.1h0M454.6 437.6h0M455.6 438.5h0M455.8 444.0h0M456.7 435.3h0M458.1 430.3h0M458.4 437.5h0M459.5 431.4h0M459.9 447.9h0M460.8 446.5h0M461.5 432.6h0M462.9 438.7h0M463.3 429.5h0M464.4 437.8h0M465.4 436.2h0M465.9 449.6h0M466.8 441.7h0M468.5 440.5h0M468.7 445.5h0M469.9 423.2h0M470.7 443.3h0M471.2 435.6h0M471.9 436.2h0M471.9 450.6h0M473.5 423.9h0M473.7 443.3h0M474.4 435.8h0M475.7 445.6h0M477.0 436.2h0M477.6 441.6h0M478.5 433.2h0M479.3 447.3h0M480.1 437.0h0M480.2 433.0h0M481.0 423.2h0M482.3 431.4h0M483.5 446.2h0M483.9 435.0h0M484.4 434.8h0M485.3 442.7h0M486.1 441.9h0M486.9 443.8h0M487.5 441.6h0M489.4 454.3h0M489.6 429.1h0M489.7 440.1h0M491.3 443.0h0M492.2 447.9h0M493.2 453.5h0M493.2 445.3h0M493.7 444.7h0M496.2 448.4h0M495.6 462.9h0M496.3 442.4h0M497.8 454.5h0M499.0 446.8h0M499.7 448.6h0M499.8 451.1h0M501.0 454.7h0M501.5 443.8h0M502.6 447.2h0M503.1 442.7h0M505.2 433.2h0M505.5 460.8h0M505.7 449.6h0M506.6 448.6h0M508.0 444.5h0M508.0 447.8h0M509.0 451.5h0M509.7 456.5h0M510.7 451.3h0M512.2 450.6h0M512.1 443.7h0M512.6 446.4h0M513.5 450.0h0M514.5 439.3h0M515.0 447.1h0M515.9 450.3h0M516.9 459.3h0M518.2 440.3h0M518.9 442.4h0M519.5 454.6h0M520.6 436.0h0M521.3 474.7h0M522.0 451.1h0M522.5 455.0h0M524.0 453.0h0M524.5 439.9h0M525.2 452.7h0M526.0 443.7h0M527.0 447.6h0M527.7 448.7h0M528.1 449.8h0M529.1 445.0h0M529.7 448.2h0M529.8 454.3h0M531.3 449.0h0M533.7 442.7h0M532.7 449.6h0M534.2 442.9h0M535.4 449.1h0M535.8 441.9h0M536.7 450.1h0M537.1 448.4h0M538.0 431.4h0M538.8 443.4h0M539.5 437.0h0M540.7 442.1h0M541.8 439.8h0M542.8 429.1h0M543.9 434.9h0M544.3 440.7h0M546.1 427.6h0M545.7 432.6h0M546.0 441.3h0M546.7 415.1h0M548.2 420.8h0M549.2 429.7h0M550.1 415.8h0M550.5 427.9h0M551.9 405.4h0M552.2 394.8h0M552.8 412.7h0M553.7 409.1h0M554.6 409.6h0M555.7 402.0h0M555.7 392.8h0M556.6 384.4h0M558.3 390.4h0M558.5 396.5h0M559.9 384.8h0M560.5 383.0h0M561.2 387.1h0M562.4 369.1h0M562.7 369.8h0M563.8 371.0h0M564.7 359.1h0M565.6 356.3h0M565.6 354.9h0M566.8 355.6h0M568.2 341.1h0M568.7 341.4h0M569.8 340.5h0M570.7 330.5h0M570.6 332.4h0M571.7 332.9h0M573.1 328.6h0M573.5 321.5h0M573.8 325.4h0M575.1 327.0h0M575.9 317.4h0M576.3 319.0h0M577.2 316.8h0M578.5 311.9h0M579.3 318.7h0M579.4 313.0h0M580.2 303.9h0M581.3 322.3h0M582.2 311.2h0M583.0 313.3h0M583.5 314.1h0M584.8 310.1h0M584.7 306.4h0M586.0 307.7h0M587.1 310.4h0M587.9 318.3h0M588.7 313.4h0M589.7 319.1h0M590.4 304.1h0M591.0 312.6h0M592.6 321.3h0M592.8 324.8h0M594.7 313.0h0M593.7 321.5h0M595.6 324.8h0M595.5 320.6h0M596.2 326.6h0M597.3 321.8h0M597.3 335.4h0M599.1 336.2h0M600.1 335.2h0M600.5 331.9h0M601.5 343.2h0M602.7 339.2h0M603.1 350.8h0M604.5 353.0h0M604.7 345.5h0M606.5 353.8h0M606.6 365.1h0M606.9 359.5h0M608.5 366.5h0M609.1 359.9h0M609.3 367.5h0M611.5 362.8h0M611.3 373.3h0M612.5 378.8h0M614.2 377.5h0M613.6 379.5h0M614.4 377.5h0M615.7 382.1h0M615.4 376.0h0M617.6 392.1h0M617.6 390.6h0M619.4 397.9h0M620.1 391.8h0M620.0 388.9h0M620.7 401.9h0M622.6 391.6h0M622.4 395.2h0M623.7 401.0h0M624.7 415.6h0M625.7 418.0h0M626.1 432.9h0M626.6 429.1h0M628.1 419.3h0M628.7 422.3h0M629.8 418.1h0M629.8 431.3h0M631.6 425.4h0M632.0 427.0h0M632.5 433.7h0M633.7 432.6h0M634.2 439.4h0M634.3 441.0h0M635.6 444.2h0M636.8 442.3h0M637.6 439.2h0M638.4 445.6h0M638.8 440.3h0M639.5 439.3h0M640.6 441.0h0M641.6 457.3h0M642.3 445.1h0M643.3 462.5h0M643.7 454.9h0M644.6 454.7h0M645.4 458.3h0M646.3 468.3h0M647.0 452.4h0M648.0 464.3h0M648.7 464.8h0M650.2 458.8h0M650.2 452.9h0M650.9 460.1h0M652.3 461.7h0M653.6 468.7h0M653.7 473.5h0M654.1 471.4h0M655.7 469.2h0M655.8 480.4h0M657.0 468.4h0M657.7 472.8h0M658.1 471.0h0M659.8 473.6h0M660.4 477.3h0M661.0 475.0h0M662.0 479.2h0M662.2 477.5h0M663.4 472.9h0M665.4 474.9h0M665.2 474.1h0M667.1 475.8h0M667.5 478.9h0M670.4 476.8h0M671.9 477.1h0M674.8 475.6h0M675.7 471.8h0M678.7 473.7h0M682.7 479.8h0" stroke="#800080" stroke-width="1.70" stroke-linecap="round" fill="none"/>
<path d="M407.5 434.7L409.4 431.8L411.3 428.7L413.2 425.3L415.1 421.7L417.0 418.0L418.9 414.1L420.8 410.2L422.7 406.1L424.6 402.1L426.4 398.1L428.3 394.1L430.2 390.2L432.1 386.4L434.0 382.8L435.9 379.4L437.8 376.2L439.7 373.2L441.6 370.5L443.5 368.1L445.4 366.0L447.3 364.2L449.2 362.7L451.1 361.4L453.0 360.5L454.9 360.0L456.8 359.7L458.7 359.8L460.6 360.3L462.5 361.0L464.3 362.1L466.2 363.4L468.1 364.9L470.0 366.7L471.9 368.8L473.8 371.0L475.7 373.5L477.6 376.1L479.5 378.8L481.4 381.7L483.3 384.7L485.2 387.8L487.1 391.0L489.0 394.2L490.9 397.6L492.8 400.9L494.7 404.2L496.6 407.6L498.5 410.9L500.4 414.2L502.2 417.4L504.1 420.6L506.0 423.6L507.9 426.6L509.8 429.4L511.7 432.1L513.6 434.6L515.5 437.0L517.4 439.2L519.3 441.3L521.2 443.3L523.1 445.1L525.0 446.8L526.9 448.4L528.8 449.9L530.7 451.2L532.6 452.5L534.5 453.6L536.4 454.7L538.3 455.6L540.1 456.4L542.0 457.2L543.9 457.9L545.8 458.5L547.7 459.0L549.6 459.4L551.5 459.8L553.4 460.1L555.3 460.3L557.2 460.5L559.1 460.6L561.0 460.7L562.9 460.8L564.8 460.7L566.7 460.7L568.6 460.6L570.5 460.5L572.4 460.4L574.3 460.2L576.2 460.1L578.0 459.9L579.9 459.7L581.8 459.5L583.7 459.3L585.6 459.1L587.5 458.9L589.4 458.8L591.3 458.7L593.2 458.6L595.1 458.5L597.0 458.5L598.9 458.6L600.8 458.8L602.7 459.0L604.6 459.3L606.5 459.7L608.4 460.2L610.3 460.8L612.2 461.6L614.1 462.4L615.9 463.4L617.8 464.6L619.7 465.8L621.6 467.3L623.5 468.9L625.4 470.7L627.3 472.7L629.2 475.0L631.1 477.6L633.0 480.7" stroke="#404040" stroke-width="1.6" fill="none" stroke-linejoin="round"/>
<path d="M407.5 435.5L409.4 431.5L411.3 427.6L413.2 424.0L415.1 420.6L417.0 417.5L418.9 414.5L420.8 411.7L422.7 409.2L424.6 406.8L426.4 404.6L428.3 402.6L430.2 400.8L432.1 399.1L434.0 397.7L435.9 396.3L437.8 395.2L439.7 394.2L441.6 393.3L443.5 392.6L445.4 392.0L447.3 391.5L449.2 391.2L451.1 391.0L453.0 390.9L454.9 390.9L456.8 391.1L458.7 391.3L460.6 391.6L462.5 392.0L464.3 392.5L466.2 393.1L468.1 393.7L470.0 394.5L471.9 395.2L473.8 396.1L475.7 397.0L477.6 397.9L479.5 398.9L481.4 399.9L483.3 401.0L485.2 402.1L487.1 403.2L489.0 404.3L490.9 405.4L492.8 406.5L494.7 407.7L496.6 408.8L498.5 409.9L500.4 411.1L502.2 412.1L504.1 413.2L506.0 414.2L507.9 415.1L509.8 416.0L511.7 416.7L513.6 417.4L515.5 417.8L517.4 418.2L519.3 418.3L521.2 418.3L523.1 418.1L525.0 417.6L526.9 416.9L528.8 416.0L530.7 414.8L532.6 413.3L534.5 411.5L536.4 409.4L538.3 407.2L540.1 404.8L542.0 402.5L543.9 400.2L545.8 398.0L547.7 396.1L549.6 394.4L551.5 392.9L553.4 391.7L555.3 390.8L557.2 390.2L559.1 389.9L561.0 389.9L562.9 390.2L564.8 390.9L566.7 391.8L568.6 392.9L570.5 394.3L572.4 395.9L574.3 397.8L576.2 399.8L578.0 402.1L579.9 404.5L581.8 407.0L583.7 409.7L585.6 412.5L587.5 415.5L589.4 418.5L591.3 421.6L593.2 424.8L595.1 428.0L597.0 431.3L598.9 434.5L600.8 437.8L602.7 441.1L604.6 444.4L606.5 447.6L608.4 450.8L610.3 453.9L612.2 457.0L614.1 460.0L615.9 462.8L617.8 465.6L619.7 468.2L621.6 470.7L623.5 473.0L625.4 475.1L627.3 477.1L629.2 478.9L631.1 480.4L633.0 481.5" stroke="#008000" stroke-width="1.6" fill="none" stroke-linejoin="round"/>
<path d="M407.5 447.6L409.7 444.2L411.8 440.9L414.0 437.7L416.1 434.7L418.3 431.8L420.4 429.0L422.6 426.4L424.7 423.9L426.9 421.5L429.1 419.3L431.2 417.2L433.4 415.2L435.5 413.4L437.7 411.7L439.8 410.2L442.0 408.8L444.1 407.5L446.3 406.4L448.5 405.4L450.6 404.5L452.8 403.9L454.9 403.3L457.1 402.9L459.2 402.6L461.4 402.5L463.5 402.6L465.7 402.8L467.9 403.1L470.0 403.6L472.2 404.2L474.3 405.0L476.5 406.0L478.6 407.1L480.8 408.3L482.9 409.7L485.1 411.1L487.3 412.7L489.4 414.3L491.6 416.0L493.7 417.8L495.9 419.6L498.0 421.5L500.2 423.4L502.3 425.3L504.5 427.2L506.7 429.1L508.8 431.0L511.0 432.8L513.1 434.6L515.3 436.3L517.4 438.0L519.6 439.6L521.7 441.1L523.9 442.4L526.1 443.6L528.2 444.7L530.4 445.5L532.5 446.0L534.7 446.3L536.8 446.3L539.0 445.8L541.1 445.0L543.3 443.8L545.4 442.1L547.6 439.9L549.8 437.2L551.9 433.9L554.1 430.0L556.2 425.6L558.4 420.8L560.5 415.6L562.7 410.1L564.8 404.4L567.0 398.5L569.2 392.6L571.3 386.8L573.5 381.0L575.6 375.5L577.8 370.3L579.9 365.4L582.1 361.1L584.2 357.4L586.4 354.4L588.6 352.2L590.7 350.9L592.9 350.6L595.0 351.2L597.2 352.6L599.3 354.9L601.5 357.9L603.6 361.5L605.8 365.7L608.0 370.4L610.1 375.6L612.3 381.1L614.4 386.9L616.6 393.0L618.7 399.2L620.9 405.6L623.0 412.0L625.2 418.4L627.4 424.8L629.5 431.1L631.7 437.2L633.8 443.1L636.0 448.7L638.1 453.9L640.3 458.8L642.4 463.2L644.6 467.0L646.8 470.4L648.9 473.2L651.1 475.6L653.2 477.4L655.4 478.9L657.5 479.9L659.7 480.4L661.8 480.6L664.0 480.5" stroke="#808080" stroke-width="1.6" fill="none" stroke-linejoin="round"/>
<path d="M407.5 434.6L409.7 433.3L412.0 432.0L414.2 430.7L416.5 429.4L418.7 428.1L421.0 426.8L423.2 425.5L425.5 424.2L427.7 423.0L430.0 421.8L432.2 420.6L434.5 419.4L436.7 418.4L439.0 417.3L441.2 416.4L443.5 415.4L445.7 414.6L448.0 413.9L450.2 413.2L452.5 412.6L454.7 412.1L457.0 411.8L459.2 411.5L461.4 411.3L463.7 411.3L465.9 411.4L468.2 411.6L470.4 412.0L472.7 412.5L474.9 413.2L477.2 414.0L479.4 414.9L481.7 416.0L483.9 417.3L486.2 418.6L488.4 420.0L490.7 421.5L492.9 423.1L495.2 424.8L497.4 426.5L499.7 428.2L501.9 429.9L504.2 431.7L506.4 433.5L508.7 435.2L510.9 436.9L513.2 438.6L515.4 440.2L517.6 441.8L519.9 443.3L522.1 444.7L524.4 446.0L526.6 447.1L528.9 448.1L531.1 448.9L533.4 449.4L535.6 449.7L537.9 449.7L540.1 449.4L542.4 448.7L544.6 447.6L546.9 446.1L549.1 444.1L551.4 441.7L553.6 438.7L555.9 435.3L558.1 431.4L560.4 427.2L562.6 422.6L564.9 417.8L567.1 412.7L569.3 407.4L571.6 402.2L573.8 397.3L576.1 392.9L578.3 389.2L580.6 386.3L582.8 383.9L585.1 382.3L587.3 381.2L589.6 380.7L591.8 380.7L594.1 381.3L596.3 382.4L598.6 384.0L600.8 386.0L603.1 388.4L605.3 391.2L607.6 394.3L609.8 397.8L612.1 401.6L614.3 405.7L616.6 410.0L618.8 414.5L621.1 419.1L623.3 423.8L625.5 428.4L627.8 433.0L630.0 437.4L632.3 441.6L634.5 445.5L636.8 449.1L639.0 452.3L641.3 455.3L643.5 458.0L645.8 460.7L648.0 463.2L650.3 465.8L652.5 468.2L654.8 470.5L657.0 472.7L659.3 474.7L661.5 476.5L663.8 478.1L666.0 479.4L668.3 480.4L670.5 481.0L672.8 481.3L675.0 481.2" stroke="#008080" stroke-width="1.6" fill="none" stroke-linejoin="round"/>
<path d="M407.5 448.9L409.2 447.5L411.0 446.0L412.7 444.5L414.5 443.1L416.2 441.7L418.0 440.3L419.7 438.9L421.4 437.6L423.2 436.3L424.9 435.0L426.7 433.7L428.4 432.5L430.2 431.4L431.9 430.3L433.7 429.2L435.4 428.2L437.1 427.2L438.9 426.3L440.6 425.4L442.4 424.6L444.1 423.9L445.9 423.2L447.6 422.7L449.3 422.1L451.1 421.7L452.8 421.3L454.6 421.1L456.3 420.9L458.1 420.8L459.8 420.7L461.6 420.8L463.3 421.0L465.0 421.3L466.8 421.6L468.5 422.1L470.3 422.6L472.0 423.1L473.8 423.8L475.5 424.4L477.2 425.1L479.0 425.8L480.7 426.4L482.5 427.1L484.2 427.8L486.0 428.4L487.7 429.0L489.5 429.5L491.2 430.0L492.9 430.4L494.7 430.7L496.4 430.9L498.2 431.0L499.9 431.0L501.7 430.9L503.4 430.4L505.1 429.1L506.9 426.4L508.6 422.6L510.4 417.7L512.1 412.2L513.9 406.3L515.6 400.2L517.4 393.9L519.1 387.2L520.8 379.8L522.6 371.6L524.3 362.5L526.1 353.0L527.8 343.6L529.6 334.9L531.3 327.5L533.0 321.6L534.8 317.1L536.5 313.8L538.3 311.6L540.0 310.4L541.8 310.1L543.5 310.6L545.3 311.8L547.0 313.6L548.7 316.0L550.5 318.9L552.2 322.2L554.0 325.9L555.7 329.8L557.5 334.0L559.2 338.5L560.9 343.3L562.7 348.3L564.4 353.5L566.2 358.9L567.9 364.6L569.7 370.4L571.4 376.4L573.2 382.6L574.9 388.8L576.6 395.0L578.4 400.8L580.1 406.3L581.9 411.3L583.6 416.0L585.4 420.4L587.1 424.6L588.8 428.8L590.6 433.1L592.3 437.5L594.1 442.0L595.8 446.5L597.6 451.0L599.3 455.5L601.1 459.8L602.8 463.9L604.5 467.7L606.3 471.2L608.0 474.3L609.8 477.0L611.5 479.1L613.3 480.7L615.0 481.5" stroke="#3366ff" stroke-width="1.6" fill="none" stroke-linejoin="round"/>
<path d="M407.5 445.1L409.6 442.9L411.6 440.8L413.7 438.8L415.8 436.9L417.8 435.0L419.9 433.2L421.9 431.6L424.0 430.0L426.1 428.5L428.1 427.1L430.2 425.8L432.3 424.5L434.3 423.4L436.4 422.3L438.4 421.4L440.5 420.5L442.6 419.7L444.6 418.9L446.7 418.3L448.8 417.8L450.8 417.3L452.9 416.9L454.9 416.6L457.0 416.4L459.1 416.2L461.1 416.2L463.2 416.2L465.3 416.3L467.3 416.5L469.4 416.8L471.5 417.1L473.5 417.5L475.6 418.1L477.6 418.6L479.7 419.3L481.8 420.0L483.8 420.9L485.9 421.8L488.0 422.7L490.0 423.8L492.1 424.9L494.1 426.1L496.2 427.4L498.3 428.8L500.3 430.2L502.4 431.7L504.5 433.3L506.5 434.9L508.6 436.7L510.7 438.5L512.7 440.3L514.8 442.2L516.8 443.9L518.9 445.4L521.0 446.6L523.0 447.4L525.1 447.7L527.2 447.4L529.2 446.4L531.3 444.5L533.3 441.8L535.4 438.2L537.5 434.0L539.5 429.4L541.6 424.6L543.7 419.5L545.7 413.9L547.8 407.7L549.8 400.8L551.9 393.0L554.0 384.2L556.0 374.4L558.1 363.9L560.2 353.6L562.2 344.2L564.3 336.1L566.4 329.2L568.4 323.4L570.5 318.9L572.5 315.4L574.6 313.1L576.7 311.8L578.7 311.5L580.8 312.1L582.9 313.7L584.9 316.3L587.0 319.6L589.0 323.9L591.1 328.9L593.2 334.6L595.2 340.9L597.3 347.6L599.4 354.5L601.4 361.2L603.5 367.9L605.6 374.6L607.6 381.7L609.7 389.0L611.7 396.5L613.8 404.1L615.9 411.8L617.9 419.4L620.0 426.8L622.1 433.9L624.1 440.7L626.2 447.1L628.2 452.9L630.3 458.1L632.4 462.6L634.4 466.3L636.5 469.3L638.6 471.7L640.6 473.6L642.7 475.2L644.7 476.5L646.8 477.6L648.9 478.7L650.9 479.9L653.0 481.2" stroke="#000080" stroke-width="1.6" fill="none" stroke-linejoin="round"/>
<path d="M407.5 450.7L409.8 449.8L412.1 448.9L414.4 448.0L416.8 447.2L419.1 446.4L421.4 445.6L423.7 444.9L426.0 444.2L428.3 443.5L430.7 442.9L433.0 442.3L435.3 441.7L437.6 441.2L439.9 440.8L442.2 440.3L444.5 440.0L446.9 439.6L449.2 439.4L451.5 439.1L453.8 439.0L456.1 438.9L458.4 438.8L460.7 438.8L463.1 438.9L465.4 439.0L467.7 439.2L470.0 439.4L472.3 439.7L474.6 440.1L477.0 440.6L479.3 441.1L481.6 441.7L483.9 442.4L486.2 443.1L488.5 443.8L490.8 444.5L493.2 445.3L495.5 446.0L497.8 446.7L500.1 447.4L502.4 448.0L504.7 448.6L507.1 449.1L509.4 449.6L511.7 449.9L514.0 450.2L516.3 450.3L518.6 450.3L520.9 450.1L523.3 449.9L525.6 449.4L527.9 448.8L530.2 447.9L532.5 446.7L534.8 445.1L537.1 442.9L539.5 440.0L541.8 436.4L544.1 432.0L546.4 426.7L548.7 420.7L551.0 414.1L553.4 406.8L555.7 398.9L558.0 390.4L560.3 381.2L562.6 371.2L564.9 360.5L567.2 349.9L569.6 340.0L571.9 331.3L574.2 324.3L576.5 319.1L578.8 315.5L581.1 313.4L583.4 312.7L585.8 313.2L588.1 314.9L590.4 317.6L592.7 321.2L595.0 325.6L597.3 330.7L599.7 336.3L602.0 342.3L604.3 348.8L606.6 355.5L608.9 362.5L611.2 369.7L613.5 377.1L615.9 384.4L618.2 391.8L620.5 399.1L622.8 406.2L625.1 413.1L627.4 419.8L629.8 426.1L632.1 432.0L634.4 437.4L636.7 442.5L639.0 447.3L641.3 451.6L643.6 455.6L646.0 459.2L648.3 462.6L650.6 465.6L652.9 468.3L655.2 470.7L657.5 472.8L659.8 474.6L662.2 476.2L664.5 477.5L666.8 478.7L669.1 479.5L671.4 480.2L673.7 480.7L676.1 481.0L678.4 481.1L680.7 481.0L683.0 480.9" stroke="#800080" stroke-width="1.6" fill="none" stroke-linejoin="round"/>
<path d="M407 282.5V481.5H684V282.5" fill="none" stroke="#2a2a2a" stroke-width="1.15"/>
<path d="M407 282.5H684" fill="none" stroke="#2a2a2a" stroke-width="1.15"/>
<path d="M449.6 481.5v4.0M492.2 481.5v4.0M534.8 481.5v4.0M577.5 481.5v4.0M620.1 481.5v4.0M662.7 481.5v4.0M428.3 481.5v2.3M470.9 481.5v2.3M513.5 481.5v2.3M556.2 481.5v2.3M598.8 481.5v2.3M641.4 481.5v2.3M684 481.5v2.3" stroke="#2a2a2a" stroke-width="1"/>
<text x="449.6" y="497" font-size="11" fill="#000" font-weight="bold" text-anchor="middle" >2</text>
<text x="492.2" y="497" font-size="11" fill="#000" font-weight="bold" text-anchor="middle" >4</text>
<text x="534.8" y="497" font-size="11" fill="#000" font-weight="bold" text-anchor="middle" >6</text>
<text x="577.5" y="497" font-size="11" fill="#000" font-weight="bold" text-anchor="middle" >8</text>
<text x="620.1" y="497" font-size="11" fill="#000" font-weight="bold" text-anchor="middle" >10</text>
<text x="662.7" y="497" font-size="11" fill="#000" font-weight="bold" text-anchor="middle" >12</text>
<path d="M407 481.5h-3.8M407 431.8h-3.8M407 382h-3.8M407 332.2h-3.8M407 282.5h-3.8M407 456.6h-2.2M407 406.9h-2.2M407 357.1h-2.2M407 307.4h-2.2" stroke="#2a2a2a" stroke-width="1"/>
<text x="399.8" y="484.7" font-size="11" fill="#000" font-weight="bold" text-anchor="end" >0.0</text>
<text x="399.8" y="434.9" font-size="11" fill="#000" font-weight="bold" text-anchor="end" >0.5</text>
<text x="399.8" y="385.2" font-size="11" fill="#000" font-weight="bold" text-anchor="end" >1.0</text>
<text x="399.8" y="335.4" font-size="11" fill="#000" font-weight="bold" text-anchor="end" >1.5</text>
<text x="399.8" y="285.7" font-size="11" fill="#000" font-weight="bold" text-anchor="end" >2.0</text>
<text x="368.2" y="273.4" font-size="16" fill="#000" font-weight="bold" text-anchor="start" >D</text>
<text x="0" y="0" font-size="13.3" fill="#000" font-weight="bold" text-anchor="middle" transform="translate(378.5 380.8) rotate(-90)">Normalized dF/dt</text>
<text x="522.5" y="518.1" font-size="13.3" font-weight="bold">s<tspan font-size="9" dx="0.5" dy="3">20,w</tspan><tspan dx="0.6" dy="-3">(S)</tspan></text>
<text x="490.8" y="297" font-size="6.75" fill="#3366ff" font-weight="normal" text-anchor="start" >+HSP-90 +ATP</text>
<text x="440.8" y="314.6" font-size="6.75" fill="#008000" font-weight="normal" text-anchor="start" >+HSP-90 +DAF-41 +ATP&#947;S</text>
<text x="410.7" y="346.1" font-size="6.75" fill="#444" font-weight="normal" text-anchor="start" >F-DEX +GRLBD</text>
<text x="569.6" y="293.5" font-size="6.75" fill="#000080" font-weight="normal" text-anchor="start" >+FKB-6</text>
<text x="591.9" y="303.5" font-size="6.75" fill="#800080" font-weight="normal" text-anchor="start" >+PPH-5</text>
<text x="600.3" y="318.9" font-size="6.75" fill="#808080" font-weight="normal" text-anchor="start" >+FKB-6 +DAF-41 +ATP&#947;S</text>
<text x="603.1" y="334.8" font-size="6.75" fill="#008080" font-weight="normal" text-anchor="start" >+PPH-5 +DAF-41 +ATP&#947;S</text>
<rect x="252.5" y="670.4" width="24.4" height="71.3" fill="#404040" stroke="#111" stroke-width="1"/>
<rect x="282.7" y="643.3" width="24.4" height="98.4" fill="#800000" stroke="#111" stroke-width="1"/>
<rect x="313.0" y="657.4" width="24.4" height="84.3" fill="#000080" stroke="#111" stroke-width="1"/>
<rect x="343.2" y="658.6" width="24.4" height="83.1" fill="#808000" stroke="#111" stroke-width="1"/>
<rect x="373.4" y="587.8" width="24.4" height="153.9" fill="#50bbff" stroke="#111" stroke-width="1"/>
<rect x="403.6" y="625.7" width="24.4" height="116.0" fill="#008000" stroke="#111" stroke-width="1"/>
<rect x="433.8" y="589.4" width="24.4" height="152.3" fill="#800080" stroke="#111" stroke-width="1"/>
<rect x="464.1" y="633.5" width="24.4" height="108.2" fill="#0000ff" stroke="#111" stroke-width="1"/>
<path d="M264.7 665.7V675.3M262.7 665.7h4M262.7 675.3h4" stroke="#222" stroke-width="0.8" fill="none"/>
<text font-size="6.7" font-weight="bold" text-anchor="end" transform="translate(268.3 752.8) rotate(-31)">GRLBDm</text>
<path d="M294.9 638.5V647.9M292.9 638.5h4M292.9 647.9h4" stroke="#222" stroke-width="0.8" fill="none"/>
<text font-size="6.7" font-weight="bold" text-anchor="end" transform="translate(298.5 752.8) rotate(-31)">+HSP-90</text>
<path d="M325.2 650.4V664.5M323.2 650.4h4M323.2 664.5h4" stroke="#222" stroke-width="0.8" fill="none"/>
<text font-size="6.7" font-weight="bold" text-anchor="end" transform="translate(328.8 752.8) rotate(-31)">+HSP-90 +FKB6</text>
<path d="M355.4 656.1V661.5M353.4 656.1h4M353.4 661.5h4" stroke="#222" stroke-width="0.8" fill="none"/>
<text font-size="6.7" font-weight="bold" text-anchor="end" transform="translate(359.0 752.8) rotate(-31)">+HSP-90 +PPH-5</text>
<path d="M385.6 584.4V591.2M383.6 584.4h4M383.6 591.2h4" stroke="#222" stroke-width="0.8" fill="none"/>
<text font-size="6.7" font-weight="bold" text-anchor="end" transform="translate(389.2 752.8) rotate(-31)">Hsp908</text>
<path d="M415.8 618.8V632.8M413.8 618.8h4M413.8 632.8h4" stroke="#222" stroke-width="0.8" fill="none"/>
<text font-size="6.7" font-weight="bold" text-anchor="end" transform="translate(419.4 752.8) rotate(-31)">Hsp908 +Fkbp52</text>
<path d="M446.0 565.9V613.2M444.0 565.9h4M444.0 613.2h4" stroke="#222" stroke-width="0.8" fill="none"/>
<text font-size="6.7" font-weight="bold" text-anchor="end" transform="translate(449.6 752.8) rotate(-31)">Hsp908 +Pp5</text>
<path d="M476.3 630.5V636.6M474.3 630.5h4M474.3 636.6h4" stroke="#222" stroke-width="0.8" fill="none"/>
<text font-size="6.7" font-weight="bold" text-anchor="end" transform="translate(479.9 752.8) rotate(-31)">Hsp908+ Fkbp51</text>
<path d="M264.1 555H474.6" stroke="#b0b0b0" stroke-width="1.1"/>
<text x="365.3" y="555.3" font-size="7.5" fill="#111" font-weight="bold" text-anchor="middle" >*&#8201;*</text>
<path d="M264.1 561.5H445.9" stroke="#555" stroke-width="1.1"/>
<text x="350.4" y="561.8" font-size="7.5" fill="#111" font-weight="bold" text-anchor="middle" >*&#8201;*</text>
<path d="M264.1 567.6H415.0" stroke="#888" stroke-width="1.1"/>
<text x="333.4" y="567.9" font-size="7.5" fill="#111" font-weight="bold" text-anchor="middle" >*&#8201;*</text>
<path d="M264.1 574.1H384.7" stroke="#b8b8b8" stroke-width="1.1"/>
<text x="319.1" y="574.4" font-size="7.5" fill="#111" font-weight="bold" text-anchor="middle" >*&#8201;*&#8201;*</text>
<path d="M264.1 617.1H354.5" stroke="#b8b8b8" stroke-width="1.1"/>
<text x="307" y="617.4" font-size="7.5" fill="#111" font-weight="bold" text-anchor="middle" >*</text>
<path d="M264.1 623.6H326.0" stroke="#555" stroke-width="1.1"/>
<text x="293" y="622.3" font-size="6.5" fill="#333" font-weight="normal" text-anchor="middle" >ns</text>
<path d="M264.1 629.7H292.6" stroke="#555" stroke-width="1.1"/>
<text x="278" y="630" font-size="7.5" fill="#111" font-weight="bold" text-anchor="middle" >*&#8201;*</text>
<path d="M234.5 546V741.7H506.7V546" fill="none" stroke="#2a2a2a" stroke-width="1"/>
<path d="M234.5 546H506.7" fill="none" stroke="#555" stroke-width="1.4"/>
<path d="M234.5 741.7h-3.6M234.5 706.1h-3.6M234.5 670.5h-3.6M234.5 635h-3.6M234.5 599.4h-3.6M234.5 563.8h-3.6M234.5 723.9h-1.6M234.5 688.3h-1.6M234.5 652.7h-1.6M234.5 617.2h-1.6M234.5 581.6h-1.6" stroke="#2a2a2a" stroke-width="1"/>
<text x="227.4" y="744.1" font-size="8.3" fill="#000" font-weight="bold" text-anchor="end" >0.00</text>
<text x="227.4" y="708.5" font-size="8.3" fill="#000" font-weight="bold" text-anchor="end" >0.02</text>
<text x="227.4" y="672.9" font-size="8.3" fill="#000" font-weight="bold" text-anchor="end" >0.04</text>
<text x="227.4" y="637.4" font-size="8.3" fill="#000" font-weight="bold" text-anchor="end" >0.06</text>
<text x="227.4" y="601.8" font-size="8.3" fill="#000" font-weight="bold" text-anchor="end" >0.08</text>
<text x="227.4" y="566.2" font-size="8.3" fill="#000" font-weight="bold" text-anchor="end" >0.10</text>
<text x="187.3" y="549.4" font-size="16" fill="#000" font-weight="bold" text-anchor="start" >E</text>
<text font-weight="bold" font-size="12.2" transform="translate(204.9 685.6) rotate(-90)">K<tspan font-size="7.8" dy="1.6">apparent</tspan><tspan dy="-1.6"> (min</tspan><tspan font-size="8.8" dy="-5.4">-1</tspan><tspan dy="5.4">)</tspan></text>
</svg>
</body></html>
